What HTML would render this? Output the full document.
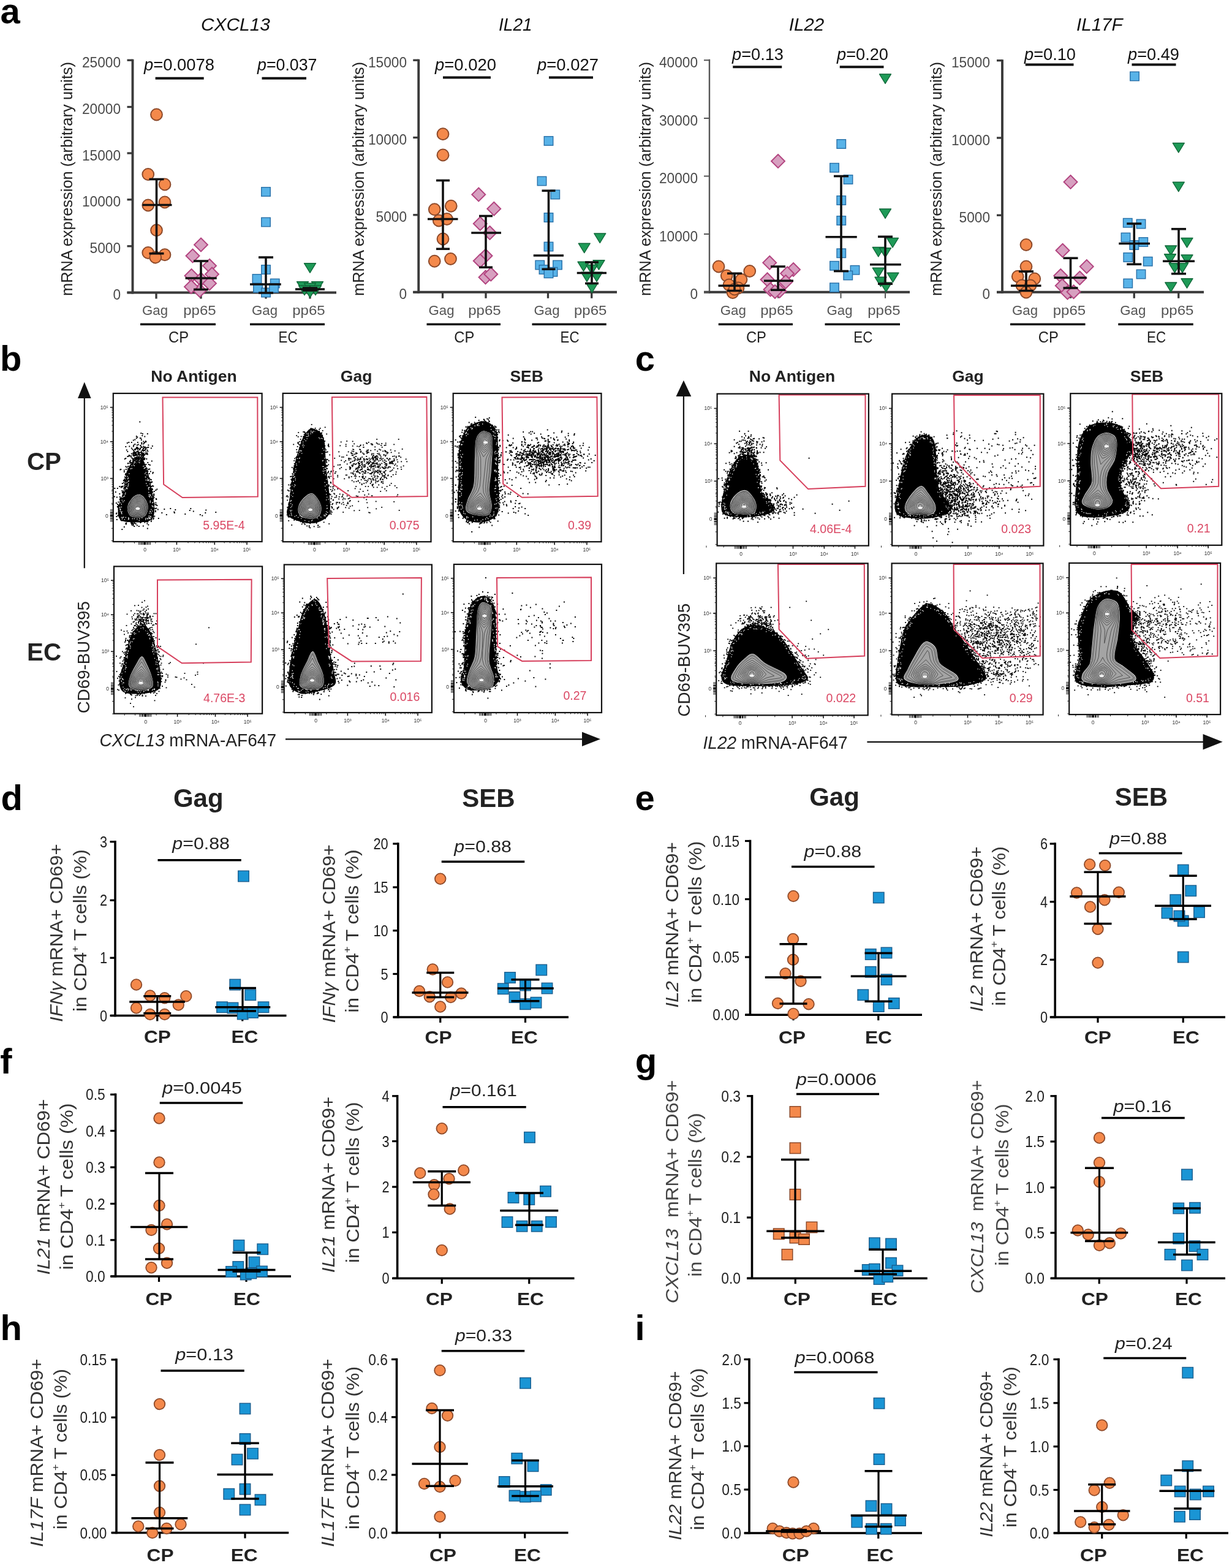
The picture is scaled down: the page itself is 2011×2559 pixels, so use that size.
<!DOCTYPE html>
<html><head><meta charset="utf-8"><title>Figure</title>
<style>html,body{margin:0;padding:0;background:#fff;}svg{display:block;}
text{font-family:'Liberation Sans',Arial,sans-serif;}</style></head><body>
<svg width="2011" height="2559" viewBox="0 0 2011 2559">
<rect width="2011" height="2559" fill="#fff"/>
<g id="panel-a">
<text x="0.5" y="38" font-size="58" font-weight="bold" >a</text>
<text x="384.5" y="49.7" font-size="30" fill="#111" font-style="italic" text-anchor="middle" textLength="113" lengthAdjust="spacingAndGlyphs" >CXCL13</text>
<text transform="translate(118,292) rotate(-90)" font-size="26.6" fill="#222" text-anchor="middle" textLength="382" lengthAdjust="spacingAndGlyphs" >mRNA expression (arbitrary units)</text>
<line x1="216.5" y1="96.75" x2="216.5" y2="479.5" stroke="#3a3a3a" stroke-width="3.9"/>
<line x1="207.5" y1="477.5" x2="549" y2="477.5" stroke="#3a3a3a" stroke-width="3.9"/>
<line x1="207.5" y1="98.25" x2="216.5" y2="98.25" stroke="#3a3a3a" stroke-width="3.31"/>
<text x="197" y="109.85" font-size="23" fill="#4a4a4a" text-anchor="end" textLength="63" lengthAdjust="spacingAndGlyphs" >25000</text>
<line x1="207.5" y1="174.5" x2="216.5" y2="174.5" stroke="#3a3a3a" stroke-width="3.31"/>
<text x="197" y="186.1" font-size="23" fill="#4a4a4a" text-anchor="end" textLength="63" lengthAdjust="spacingAndGlyphs" >20000</text>
<line x1="207.5" y1="250" x2="216.5" y2="250" stroke="#3a3a3a" stroke-width="3.31"/>
<text x="197" y="261.6" font-size="23" fill="#4a4a4a" text-anchor="end" textLength="63" lengthAdjust="spacingAndGlyphs" >15000</text>
<line x1="207.5" y1="325.75" x2="216.5" y2="325.75" stroke="#3a3a3a" stroke-width="3.31"/>
<text x="197" y="337.35" font-size="23" fill="#4a4a4a" text-anchor="end" textLength="63" lengthAdjust="spacingAndGlyphs" >10000</text>
<line x1="207.5" y1="401.75" x2="216.5" y2="401.75" stroke="#3a3a3a" stroke-width="3.31"/>
<text x="197" y="413.35" font-size="23" fill="#4a4a4a" text-anchor="end" textLength="50.4" lengthAdjust="spacingAndGlyphs" >5000</text>
<line x1="207.5" y1="477.5" x2="216.5" y2="477.5" stroke="#3a3a3a" stroke-width="3.31"/>
<text x="197" y="489.1" font-size="23" fill="#4a4a4a" text-anchor="end" textLength="12.6" lengthAdjust="spacingAndGlyphs" >0</text>
<line x1="255" y1="477.5" x2="255" y2="487.5" stroke="#3a3a3a" stroke-width="3.31"/>
<line x1="328" y1="477.5" x2="328" y2="487.5" stroke="#3a3a3a" stroke-width="3.31"/>
<line x1="434" y1="477.5" x2="434" y2="487.5" stroke="#3a3a3a" stroke-width="3.31"/>
<line x1="506" y1="477.5" x2="506" y2="487.5" stroke="#3a3a3a" stroke-width="3.31"/>
<text x="253" y="513.75" font-size="22.5" fill="#555" text-anchor="middle" textLength="42" lengthAdjust="spacingAndGlyphs" >Gag</text>
<text x="326" y="513.75" font-size="22.5" fill="#555" text-anchor="middle" textLength="53.5" lengthAdjust="spacingAndGlyphs" >pp65</text>
<text x="432" y="513.75" font-size="22.5" fill="#555" text-anchor="middle" textLength="42" lengthAdjust="spacingAndGlyphs" >Gag</text>
<text x="504" y="513.75" font-size="22.5" fill="#555" text-anchor="middle" textLength="53.5" lengthAdjust="spacingAndGlyphs" >pp65</text>
<line x1="229" y1="529.25" x2="352" y2="529.25" stroke="#111" stroke-width="3.5"/>
<text x="291.5" y="558.75" font-size="25.5" fill="#222" text-anchor="middle" textLength="33" lengthAdjust="spacingAndGlyphs" >CP</text>
<line x1="408" y1="529.25" x2="530" y2="529.25" stroke="#111" stroke-width="3.5"/>
<text x="470" y="558.75" font-size="25.5" fill="#222" text-anchor="middle" textLength="31" lengthAdjust="spacingAndGlyphs" >EC</text>
<text x="235" y="114.5" font-size="27" fill="#111" textLength="115" lengthAdjust="spacingAndGlyphs"><tspan font-style="italic">p</tspan>=0.0078</text>
<text x="420" y="114.5" font-size="27" fill="#111" textLength="97.5" lengthAdjust="spacingAndGlyphs"><tspan font-style="italic">p</tspan>=0.037</text>
<line x1="253.6" y1="127.7" x2="332.7" y2="127.7" stroke="#111" stroke-width="4"/>
<line x1="427.5" y1="127.7" x2="500" y2="127.7" stroke="#111" stroke-width="4"/>
<circle cx="255.5" cy="187" r="9.4" fill="#F4894B" stroke="#8E4A2A" stroke-width="2"/>
<circle cx="241.75" cy="284.5" r="9.4" fill="#F4894B" stroke="#8E4A2A" stroke-width="2"/>
<circle cx="269" cy="301" r="9.4" fill="#F4894B" stroke="#8E4A2A" stroke-width="2"/>
<circle cx="241.75" cy="335" r="9.4" fill="#F4894B" stroke="#8E4A2A" stroke-width="2"/>
<circle cx="269" cy="330" r="9.4" fill="#F4894B" stroke="#8E4A2A" stroke-width="2"/>
<circle cx="255.5" cy="375.75" r="9.4" fill="#F4894B" stroke="#8E4A2A" stroke-width="2"/>
<circle cx="241.75" cy="412.5" r="9.4" fill="#F4894B" stroke="#8E4A2A" stroke-width="2"/>
<circle cx="269" cy="415.75" r="9.4" fill="#F4894B" stroke="#8E4A2A" stroke-width="2"/>
<circle cx="253.75" cy="420" r="9.4" fill="#F4894B" stroke="#8E4A2A" stroke-width="2"/>
<path d="M328 388.5L339 399.5L328 410.5L317 399.5Z" fill="#D7A0C0" stroke="#B2437F" stroke-width="1.9"/>
<path d="M314.5 406.5L325.5 417.5L314.5 428.5L303.5 417.5Z" fill="#D7A0C0" stroke="#B2437F" stroke-width="1.9"/>
<path d="M342 422.75L353 433.75L342 444.75L331 433.75Z" fill="#D7A0C0" stroke="#B2437F" stroke-width="1.9"/>
<path d="M312.5 439L323.5 450L312.5 461L301.5 450Z" fill="#D7A0C0" stroke="#B2437F" stroke-width="1.9"/>
<path d="M346 436.5L357 447.5L346 458.5L335 447.5Z" fill="#D7A0C0" stroke="#B2437F" stroke-width="1.9"/>
<path d="M328 445L339 456L328 467L317 456Z" fill="#D7A0C0" stroke="#B2437F" stroke-width="1.9"/>
<path d="M342 451.5L353 462.5L342 473.5L331 462.5Z" fill="#D7A0C0" stroke="#B2437F" stroke-width="1.9"/>
<path d="M326 463L337 474L326 485L315 474Z" fill="#D7A0C0" stroke="#B2437F" stroke-width="1.9"/>
<path d="M312 457L323 468L312 479L301 468Z" fill="#D7A0C0" stroke="#B2437F" stroke-width="1.9"/>
<rect x="426.75" y="305.75" width="14.5" height="14.5" fill="#58B3E8" stroke="#2870A8" stroke-width="1.4"/>
<rect x="426.75" y="355.25" width="14.5" height="14.5" fill="#58B3E8" stroke="#2870A8" stroke-width="1.4"/>
<rect x="426.75" y="432.75" width="14.5" height="14.5" fill="#58B3E8" stroke="#2870A8" stroke-width="1.4"/>
<rect x="412.25" y="447.75" width="14.5" height="14.5" fill="#58B3E8" stroke="#2870A8" stroke-width="1.4"/>
<rect x="441.5" y="455.25" width="14.5" height="14.5" fill="#58B3E8" stroke="#2870A8" stroke-width="1.4"/>
<rect x="413.75" y="462.75" width="14.5" height="14.5" fill="#58B3E8" stroke="#2870A8" stroke-width="1.4"/>
<rect x="426.75" y="470.25" width="14.5" height="14.5" fill="#58B3E8" stroke="#2870A8" stroke-width="1.4"/>
<rect x="439.75" y="462.75" width="14.5" height="14.5" fill="#58B3E8" stroke="#2870A8" stroke-width="1.4"/>
<path d="M496.5 429.75L515.5 429.75L506 445.25Z" fill="#1E9A57" stroke="#0F6638" stroke-width="1.4" stroke-linejoin="round"/>
<path d="M484.5 459.75L503.5 459.75L494 475.25Z" fill="#1E9A57" stroke="#0F6638" stroke-width="1.4" stroke-linejoin="round"/>
<path d="M508.5 459.75L527.5 459.75L518 475.25Z" fill="#1E9A57" stroke="#0F6638" stroke-width="1.4" stroke-linejoin="round"/>
<path d="M496.5 462.25L515.5 462.25L506 477.75Z" fill="#1E9A57" stroke="#0F6638" stroke-width="1.4" stroke-linejoin="round"/>
<path d="M487.5 466.25L506.5 466.25L497 481.75Z" fill="#1E9A57" stroke="#0F6638" stroke-width="1.4" stroke-linejoin="round"/>
<path d="M505.5 466.25L524.5 466.25L515 481.75Z" fill="#1E9A57" stroke="#0F6638" stroke-width="1.4" stroke-linejoin="round"/>
<path d="M496.5 470.25L515.5 470.25L506 485.75Z" fill="#1E9A57" stroke="#0F6638" stroke-width="1.4" stroke-linejoin="round"/>
<line x1="232.5" y1="334.5" x2="280.5" y2="334.5" stroke="#111" stroke-width="3.6"/>
<line x1="302.5" y1="454" x2="353.75" y2="454" stroke="#111" stroke-width="3.6"/>
<line x1="408" y1="464" x2="458.75" y2="464" stroke="#111" stroke-width="3.6"/>
<line x1="482" y1="472" x2="530" y2="472" stroke="#111" stroke-width="3.6"/>
<line x1="255.5" y1="292.5" x2="255.5" y2="413.75" stroke="#111" stroke-width="3.6"/>
<line x1="243.5" y1="292.5" x2="267.5" y2="292.5" stroke="#111" stroke-width="3.6"/>
<line x1="243.5" y1="413.75" x2="267.5" y2="413.75" stroke="#111" stroke-width="3.6"/>
<line x1="328" y1="426" x2="328" y2="472.5" stroke="#111" stroke-width="3.6"/>
<line x1="316" y1="426" x2="340" y2="426" stroke="#111" stroke-width="3.6"/>
<line x1="316" y1="472.5" x2="340" y2="472.5" stroke="#111" stroke-width="3.6"/>
<line x1="434" y1="420" x2="434" y2="478" stroke="#111" stroke-width="3.6"/>
<line x1="422" y1="420" x2="446" y2="420" stroke="#111" stroke-width="3.6"/>
<line x1="422" y1="478" x2="446" y2="478" stroke="#111" stroke-width="3.6"/>
<line x1="506" y1="470" x2="506" y2="474" stroke="#111" stroke-width="3.6"/>
<line x1="494" y1="470" x2="518" y2="470" stroke="#111" stroke-width="3.6"/>
<line x1="494" y1="474" x2="518" y2="474" stroke="#111" stroke-width="3.6"/>
<text x="841.3" y="49.7" font-size="30" fill="#111" font-style="italic" text-anchor="middle" textLength="54.7" lengthAdjust="spacingAndGlyphs" >IL21</text>
<text transform="translate(594,292) rotate(-90)" font-size="26.6" fill="#222" text-anchor="middle" textLength="382" lengthAdjust="spacingAndGlyphs" >mRNA expression (arbitrary units)</text>
<line x1="683.25" y1="96.75" x2="683.25" y2="478.75" stroke="#3a3a3a" stroke-width="3.9"/>
<line x1="674.25" y1="476.75" x2="1007" y2="476.75" stroke="#3a3a3a" stroke-width="3.9"/>
<line x1="674.25" y1="98.25" x2="683.25" y2="98.25" stroke="#3a3a3a" stroke-width="3.31"/>
<text x="664" y="109.85" font-size="23" fill="#4a4a4a" text-anchor="end" textLength="63" lengthAdjust="spacingAndGlyphs" >15000</text>
<line x1="674.25" y1="224.5" x2="683.25" y2="224.5" stroke="#3a3a3a" stroke-width="3.31"/>
<text x="664" y="236.1" font-size="23" fill="#4a4a4a" text-anchor="end" textLength="63" lengthAdjust="spacingAndGlyphs" >10000</text>
<line x1="674.25" y1="350.75" x2="683.25" y2="350.75" stroke="#3a3a3a" stroke-width="3.31"/>
<text x="664" y="362.35" font-size="23" fill="#4a4a4a" text-anchor="end" textLength="50.4" lengthAdjust="spacingAndGlyphs" >5000</text>
<line x1="674.25" y1="476.75" x2="683.25" y2="476.75" stroke="#3a3a3a" stroke-width="3.31"/>
<text x="664" y="488.35" font-size="23" fill="#4a4a4a" text-anchor="end" textLength="12.6" lengthAdjust="spacingAndGlyphs" >0</text>
<line x1="722.5" y1="476.75" x2="722.5" y2="486.75" stroke="#3a3a3a" stroke-width="3.31"/>
<line x1="793" y1="476.75" x2="793" y2="486.75" stroke="#3a3a3a" stroke-width="3.31"/>
<line x1="894.5" y1="476.75" x2="894.5" y2="486.75" stroke="#3a3a3a" stroke-width="3.31"/>
<line x1="965.75" y1="476.75" x2="965.75" y2="486.75" stroke="#3a3a3a" stroke-width="3.31"/>
<text x="720.5" y="513.75" font-size="22.5" fill="#555" text-anchor="middle" textLength="42" lengthAdjust="spacingAndGlyphs" >Gag</text>
<text x="791" y="513.75" font-size="22.5" fill="#555" text-anchor="middle" textLength="53.5" lengthAdjust="spacingAndGlyphs" >pp65</text>
<text x="892.5" y="513.75" font-size="22.5" fill="#555" text-anchor="middle" textLength="42" lengthAdjust="spacingAndGlyphs" >Gag</text>
<text x="963.75" y="513.75" font-size="22.5" fill="#555" text-anchor="middle" textLength="53.5" lengthAdjust="spacingAndGlyphs" >pp65</text>
<line x1="696.5" y1="529.25" x2="817" y2="529.25" stroke="#111" stroke-width="3.5"/>
<text x="757.75" y="558.75" font-size="25.5" fill="#222" text-anchor="middle" textLength="33" lengthAdjust="spacingAndGlyphs" >CP</text>
<line x1="868.5" y1="529.25" x2="989.75" y2="529.25" stroke="#111" stroke-width="3.5"/>
<text x="930.12" y="558.75" font-size="25.5" fill="#222" text-anchor="middle" textLength="31" lengthAdjust="spacingAndGlyphs" >EC</text>
<text x="710" y="114.5" font-size="27" fill="#111" textLength="100" lengthAdjust="spacingAndGlyphs"><tspan font-style="italic">p</tspan>=0.020</text>
<text x="877" y="114.5" font-size="27" fill="#111" textLength="100" lengthAdjust="spacingAndGlyphs"><tspan font-style="italic">p</tspan>=0.027</text>
<line x1="723" y1="126.5" x2="801" y2="126.5" stroke="#111" stroke-width="4"/>
<line x1="896" y1="126.5" x2="968" y2="126.5" stroke="#111" stroke-width="4"/>
<circle cx="723" cy="218.75" r="9.4" fill="#F4894B" stroke="#8E4A2A" stroke-width="2"/>
<circle cx="723" cy="253" r="9.4" fill="#F4894B" stroke="#8E4A2A" stroke-width="2"/>
<circle cx="709.25" cy="341.75" r="9.4" fill="#F4894B" stroke="#8E4A2A" stroke-width="2"/>
<circle cx="736.25" cy="336.25" r="9.4" fill="#F4894B" stroke="#8E4A2A" stroke-width="2"/>
<circle cx="716.25" cy="360" r="9.4" fill="#F4894B" stroke="#8E4A2A" stroke-width="2"/>
<circle cx="729.5" cy="357.5" r="9.4" fill="#F4894B" stroke="#8E4A2A" stroke-width="2"/>
<circle cx="723" cy="390" r="9.4" fill="#F4894B" stroke="#8E4A2A" stroke-width="2"/>
<circle cx="709.25" cy="426.25" r="9.4" fill="#F4894B" stroke="#8E4A2A" stroke-width="2"/>
<circle cx="735.5" cy="422.5" r="9.4" fill="#F4894B" stroke="#8E4A2A" stroke-width="2"/>
<path d="M781.25 306.5L792.25 317.5L781.25 328.5L770.25 317.5Z" fill="#D7A0C0" stroke="#B2437F" stroke-width="1.9"/>
<path d="M806.25 329.75L817.25 340.75L806.25 351.75L795.25 340.75Z" fill="#D7A0C0" stroke="#B2437F" stroke-width="1.9"/>
<path d="M783.75 354L794.75 365L783.75 376L772.75 365Z" fill="#D7A0C0" stroke="#B2437F" stroke-width="1.9"/>
<path d="M799.5 369L810.5 380L799.5 391L788.5 380Z" fill="#D7A0C0" stroke="#B2437F" stroke-width="1.9"/>
<path d="M792.5 406.5L803.5 417.5L792.5 428.5L781.5 417.5Z" fill="#D7A0C0" stroke="#B2437F" stroke-width="1.9"/>
<path d="M783.75 414.75L794.75 425.75L783.75 436.75L772.75 425.75Z" fill="#D7A0C0" stroke="#B2437F" stroke-width="1.9"/>
<path d="M792.5 441.5L803.5 452.5L792.5 463.5L781.5 452.5Z" fill="#D7A0C0" stroke="#B2437F" stroke-width="1.9"/>
<path d="M801.25 436.5L812.25 447.5L801.25 458.5L790.25 447.5Z" fill="#D7A0C0" stroke="#B2437F" stroke-width="1.9"/>
<rect x="888.25" y="222.75" width="14.5" height="14.5" fill="#58B3E8" stroke="#2870A8" stroke-width="1.4"/>
<rect x="877.25" y="288.25" width="14.5" height="14.5" fill="#58B3E8" stroke="#2870A8" stroke-width="1.4"/>
<rect x="899" y="310.25" width="14.5" height="14.5" fill="#58B3E8" stroke="#2870A8" stroke-width="1.4"/>
<rect x="888.25" y="347.75" width="14.5" height="14.5" fill="#58B3E8" stroke="#2870A8" stroke-width="1.4"/>
<rect x="888.25" y="395.25" width="14.5" height="14.5" fill="#58B3E8" stroke="#2870A8" stroke-width="1.4"/>
<rect x="874" y="425.25" width="14.5" height="14.5" fill="#58B3E8" stroke="#2870A8" stroke-width="1.4"/>
<rect x="902.75" y="425.25" width="14.5" height="14.5" fill="#58B3E8" stroke="#2870A8" stroke-width="1.4"/>
<rect x="880.25" y="432.75" width="14.5" height="14.5" fill="#58B3E8" stroke="#2870A8" stroke-width="1.4"/>
<rect x="895.25" y="436.5" width="14.5" height="14.5" fill="#58B3E8" stroke="#2870A8" stroke-width="1.4"/>
<rect x="888.25" y="439" width="14.5" height="14.5" fill="#58B3E8" stroke="#2870A8" stroke-width="1.4"/>
<path d="M969.75 381L988.75 381L979.25 396.5Z" fill="#1E9A57" stroke="#0F6638" stroke-width="1.4" stroke-linejoin="round"/>
<path d="M944.25 397.25L963.25 397.25L953.75 412.75Z" fill="#1E9A57" stroke="#0F6638" stroke-width="1.4" stroke-linejoin="round"/>
<path d="M943 427.25L962 427.25L952.5 442.75Z" fill="#1E9A57" stroke="#0F6638" stroke-width="1.4" stroke-linejoin="round"/>
<path d="M968 424.75L987 424.75L977.5 440.25Z" fill="#1E9A57" stroke="#0F6638" stroke-width="1.4" stroke-linejoin="round"/>
<path d="M948.5 444.25L967.5 444.25L958 459.75Z" fill="#1E9A57" stroke="#0F6638" stroke-width="1.4" stroke-linejoin="round"/>
<path d="M964.5 444.25L983.5 444.25L974 459.75Z" fill="#1E9A57" stroke="#0F6638" stroke-width="1.4" stroke-linejoin="round"/>
<path d="M956.75 462.25L975.75 462.25L966.25 477.75Z" fill="#1E9A57" stroke="#0F6638" stroke-width="1.4" stroke-linejoin="round"/>
<path d="M956.5 432.25L975.5 432.25L966 447.75Z" fill="#1E9A57" stroke="#0F6638" stroke-width="1.4" stroke-linejoin="round"/>
<line x1="698" y1="357.5" x2="747.5" y2="357.5" stroke="#111" stroke-width="3.6"/>
<line x1="769.25" y1="380" x2="818" y2="380" stroke="#111" stroke-width="3.6"/>
<line x1="870.75" y1="417" x2="920" y2="417" stroke="#111" stroke-width="3.6"/>
<line x1="941.75" y1="445.5" x2="990" y2="445.5" stroke="#111" stroke-width="3.6"/>
<line x1="723" y1="294.5" x2="723" y2="406.25" stroke="#111" stroke-width="3.6"/>
<line x1="712" y1="294.5" x2="734" y2="294.5" stroke="#111" stroke-width="3.6"/>
<line x1="712" y1="406.25" x2="734" y2="406.25" stroke="#111" stroke-width="3.6"/>
<line x1="793" y1="352.5" x2="793" y2="436.25" stroke="#111" stroke-width="3.6"/>
<line x1="782" y1="352.5" x2="804" y2="352.5" stroke="#111" stroke-width="3.6"/>
<line x1="782" y1="436.25" x2="804" y2="436.25" stroke="#111" stroke-width="3.6"/>
<line x1="895.5" y1="311.25" x2="895.5" y2="439.25" stroke="#111" stroke-width="3.6"/>
<line x1="884.5" y1="311.25" x2="906.5" y2="311.25" stroke="#111" stroke-width="3.6"/>
<line x1="884.5" y1="439.25" x2="906.5" y2="439.25" stroke="#111" stroke-width="3.6"/>
<line x1="966" y1="428" x2="966" y2="462.5" stroke="#111" stroke-width="3.6"/>
<line x1="955" y1="428" x2="977" y2="428" stroke="#111" stroke-width="3.6"/>
<line x1="955" y1="462.5" x2="977" y2="462.5" stroke="#111" stroke-width="3.6"/>
<text x="1316.5" y="49.7" font-size="30" fill="#111" font-style="italic" text-anchor="middle" textLength="57.7" lengthAdjust="spacingAndGlyphs" >IL22</text>
<text transform="translate(1062,292) rotate(-90)" font-size="26.6" fill="#222" text-anchor="middle" textLength="382" lengthAdjust="spacingAndGlyphs" >mRNA expression (arbitrary units)</text>
<line x1="1158" y1="96.75" x2="1158" y2="478.75" stroke="#555" stroke-width="2.4"/>
<line x1="1149" y1="476.75" x2="1485" y2="476.75" stroke="#3a3a3a" stroke-width="3.9"/>
<line x1="1149" y1="98.25" x2="1158" y2="98.25" stroke="#555" stroke-width="2.04"/>
<text x="1139" y="109.85" font-size="23" fill="#4a4a4a" text-anchor="end" textLength="63" lengthAdjust="spacingAndGlyphs" >40000</text>
<line x1="1149" y1="193" x2="1158" y2="193" stroke="#555" stroke-width="2.04"/>
<text x="1139" y="204.6" font-size="23" fill="#4a4a4a" text-anchor="end" textLength="63" lengthAdjust="spacingAndGlyphs" >30000</text>
<line x1="1149" y1="287.5" x2="1158" y2="287.5" stroke="#555" stroke-width="2.04"/>
<text x="1139" y="299.1" font-size="23" fill="#4a4a4a" text-anchor="end" textLength="63" lengthAdjust="spacingAndGlyphs" >20000</text>
<line x1="1149" y1="382" x2="1158" y2="382" stroke="#555" stroke-width="2.04"/>
<text x="1139" y="393.6" font-size="23" fill="#4a4a4a" text-anchor="end" textLength="63" lengthAdjust="spacingAndGlyphs" >10000</text>
<line x1="1149" y1="476.75" x2="1158" y2="476.75" stroke="#555" stroke-width="2.04"/>
<text x="1139" y="488.35" font-size="23" fill="#4a4a4a" text-anchor="end" textLength="12.6" lengthAdjust="spacingAndGlyphs" >0</text>
<line x1="1198.75" y1="476.75" x2="1198.75" y2="486.75" stroke="#555" stroke-width="2.04"/>
<line x1="1270" y1="476.75" x2="1270" y2="486.75" stroke="#555" stroke-width="2.04"/>
<line x1="1372.5" y1="476.75" x2="1372.5" y2="486.75" stroke="#555" stroke-width="2.04"/>
<line x1="1445" y1="476.75" x2="1445" y2="486.75" stroke="#555" stroke-width="2.04"/>
<text x="1196.75" y="513.75" font-size="22.5" fill="#555" text-anchor="middle" textLength="42" lengthAdjust="spacingAndGlyphs" >Gag</text>
<text x="1268" y="513.75" font-size="22.5" fill="#555" text-anchor="middle" textLength="53.5" lengthAdjust="spacingAndGlyphs" >pp65</text>
<text x="1370.5" y="513.75" font-size="22.5" fill="#555" text-anchor="middle" textLength="42" lengthAdjust="spacingAndGlyphs" >Gag</text>
<text x="1443" y="513.75" font-size="22.5" fill="#555" text-anchor="middle" textLength="53.5" lengthAdjust="spacingAndGlyphs" >pp65</text>
<line x1="1172.75" y1="529.25" x2="1294" y2="529.25" stroke="#111" stroke-width="3.5"/>
<text x="1234.38" y="558.75" font-size="25.5" fill="#222" text-anchor="middle" textLength="33" lengthAdjust="spacingAndGlyphs" >CP</text>
<line x1="1346.5" y1="529.25" x2="1469" y2="529.25" stroke="#111" stroke-width="3.5"/>
<text x="1408.75" y="558.75" font-size="25.5" fill="#222" text-anchor="middle" textLength="31" lengthAdjust="spacingAndGlyphs" >EC</text>
<text x="1195" y="97.5" font-size="27" fill="#111" textLength="84" lengthAdjust="spacingAndGlyphs"><tspan font-style="italic">p</tspan>=0.13</text>
<text x="1366" y="97.5" font-size="27" fill="#111" textLength="84" lengthAdjust="spacingAndGlyphs"><tspan font-style="italic">p</tspan>=0.20</text>
<line x1="1196.25" y1="109.25" x2="1276.25" y2="109.25" stroke="#111" stroke-width="4"/>
<line x1="1370.75" y1="109.25" x2="1442.5" y2="109.25" stroke="#111" stroke-width="4"/>
<circle cx="1173" cy="435" r="9.4" fill="#F4894B" stroke="#8E4A2A" stroke-width="2"/>
<circle cx="1223.75" cy="442.5" r="9.4" fill="#F4894B" stroke="#8E4A2A" stroke-width="2"/>
<circle cx="1186.25" cy="450" r="9.4" fill="#F4894B" stroke="#8E4A2A" stroke-width="2"/>
<circle cx="1210" cy="456.25" r="9.4" fill="#F4894B" stroke="#8E4A2A" stroke-width="2"/>
<circle cx="1190" cy="465" r="9.4" fill="#F4894B" stroke="#8E4A2A" stroke-width="2"/>
<circle cx="1205" cy="470" r="9.4" fill="#F4894B" stroke="#8E4A2A" stroke-width="2"/>
<circle cx="1196" cy="477.5" r="9.4" fill="#F4894B" stroke="#8E4A2A" stroke-width="2"/>
<circle cx="1199" cy="472" r="9.4" fill="#F4894B" stroke="#8E4A2A" stroke-width="2"/>
<path d="M1270 252L1281 263L1270 274L1259 263Z" fill="#D7A0C0" stroke="#B2437F" stroke-width="1.9"/>
<path d="M1256.25 417.75L1267.25 428.75L1256.25 439.75L1245.25 428.75Z" fill="#D7A0C0" stroke="#B2437F" stroke-width="1.9"/>
<path d="M1295 429L1306 440L1295 451L1284 440Z" fill="#D7A0C0" stroke="#B2437F" stroke-width="1.9"/>
<path d="M1285 435.25L1296 446.25L1285 457.25L1274 446.25Z" fill="#D7A0C0" stroke="#B2437F" stroke-width="1.9"/>
<path d="M1252.5 445.25L1263.5 456.25L1252.5 467.25L1241.5 456.25Z" fill="#D7A0C0" stroke="#B2437F" stroke-width="1.9"/>
<path d="M1282.5 449L1293.5 460L1282.5 471L1271.5 460Z" fill="#D7A0C0" stroke="#B2437F" stroke-width="1.9"/>
<path d="M1257.5 461.5L1268.5 472.5L1257.5 483.5L1246.5 472.5Z" fill="#D7A0C0" stroke="#B2437F" stroke-width="1.9"/>
<path d="M1272.5 464L1283.5 475L1272.5 486L1261.5 475Z" fill="#D7A0C0" stroke="#B2437F" stroke-width="1.9"/>
<path d="M1265 465L1276 476L1265 487L1254 476Z" fill="#D7A0C0" stroke="#B2437F" stroke-width="1.9"/>
<rect x="1366" y="227.75" width="14.5" height="14.5" fill="#58B3E8" stroke="#2870A8" stroke-width="1.4"/>
<rect x="1354.75" y="266.5" width="14.5" height="14.5" fill="#58B3E8" stroke="#2870A8" stroke-width="1.4"/>
<rect x="1377.25" y="285.75" width="14.5" height="14.5" fill="#58B3E8" stroke="#2870A8" stroke-width="1.4"/>
<rect x="1366" y="319.75" width="14.5" height="14.5" fill="#58B3E8" stroke="#2870A8" stroke-width="1.4"/>
<rect x="1366" y="352.75" width="14.5" height="14.5" fill="#58B3E8" stroke="#2870A8" stroke-width="1.4"/>
<rect x="1366" y="406" width="14.5" height="14.5" fill="#58B3E8" stroke="#2870A8" stroke-width="1.4"/>
<rect x="1354.75" y="426.5" width="14.5" height="14.5" fill="#58B3E8" stroke="#2870A8" stroke-width="1.4"/>
<rect x="1388.25" y="433.5" width="14.5" height="14.5" fill="#58B3E8" stroke="#2870A8" stroke-width="1.4"/>
<rect x="1377" y="442.25" width="14.5" height="14.5" fill="#58B3E8" stroke="#2870A8" stroke-width="1.4"/>
<rect x="1354.75" y="462" width="14.5" height="14.5" fill="#58B3E8" stroke="#2870A8" stroke-width="1.4"/>
<path d="M1435.5 121L1454.5 121L1445 136.5Z" fill="#1E9A57" stroke="#0F6638" stroke-width="1.4" stroke-linejoin="round"/>
<path d="M1435.5 341L1454.5 341L1445 356.5Z" fill="#1E9A57" stroke="#0F6638" stroke-width="1.4" stroke-linejoin="round"/>
<path d="M1447.5 388.5L1466.5 388.5L1457 404Z" fill="#1E9A57" stroke="#0F6638" stroke-width="1.4" stroke-linejoin="round"/>
<path d="M1424.25 403.5L1443.25 403.5L1433.75 419Z" fill="#1E9A57" stroke="#0F6638" stroke-width="1.4" stroke-linejoin="round"/>
<path d="M1435.5 404.75L1454.5 404.75L1445 420.25Z" fill="#1E9A57" stroke="#0F6638" stroke-width="1.4" stroke-linejoin="round"/>
<path d="M1424.25 437.25L1443.25 437.25L1433.75 452.75Z" fill="#1E9A57" stroke="#0F6638" stroke-width="1.4" stroke-linejoin="round"/>
<path d="M1448 445.25L1467 445.25L1457.5 460.75Z" fill="#1E9A57" stroke="#0F6638" stroke-width="1.4" stroke-linejoin="round"/>
<path d="M1428 452.25L1447 452.25L1437.5 467.75Z" fill="#1E9A57" stroke="#0F6638" stroke-width="1.4" stroke-linejoin="round"/>
<path d="M1436.75 461L1455.75 461L1446.25 476.5Z" fill="#1E9A57" stroke="#0F6638" stroke-width="1.4" stroke-linejoin="round"/>
<line x1="1172.5" y1="466.25" x2="1223.75" y2="466.25" stroke="#111" stroke-width="3.6"/>
<line x1="1247" y1="458.25" x2="1295" y2="458.25" stroke="#111" stroke-width="3.6"/>
<line x1="1347.5" y1="386.75" x2="1398.75" y2="386.75" stroke="#111" stroke-width="3.6"/>
<line x1="1420" y1="431.75" x2="1470.75" y2="431.75" stroke="#111" stroke-width="3.6"/>
<line x1="1199" y1="446.25" x2="1199" y2="474.5" stroke="#111" stroke-width="3.6"/>
<line x1="1187" y1="446.25" x2="1211" y2="446.25" stroke="#111" stroke-width="3.6"/>
<line x1="1187" y1="474.5" x2="1211" y2="474.5" stroke="#111" stroke-width="3.6"/>
<line x1="1270" y1="435" x2="1270" y2="473.25" stroke="#111" stroke-width="3.6"/>
<line x1="1258" y1="435" x2="1282" y2="435" stroke="#111" stroke-width="3.6"/>
<line x1="1258" y1="473.25" x2="1282" y2="473.25" stroke="#111" stroke-width="3.6"/>
<line x1="1373" y1="287.5" x2="1373" y2="442.5" stroke="#111" stroke-width="3.6"/>
<line x1="1361" y1="287.5" x2="1385" y2="287.5" stroke="#111" stroke-width="3.6"/>
<line x1="1361" y1="442.5" x2="1385" y2="442.5" stroke="#111" stroke-width="3.6"/>
<line x1="1445" y1="386.25" x2="1445" y2="463.25" stroke="#111" stroke-width="3.6"/>
<line x1="1433" y1="386.25" x2="1457" y2="386.25" stroke="#111" stroke-width="3.6"/>
<line x1="1433" y1="463.25" x2="1457" y2="463.25" stroke="#111" stroke-width="3.6"/>
<text x="1794.8" y="49.7" font-size="30" fill="#111" font-style="italic" text-anchor="middle" textLength="75.5" lengthAdjust="spacingAndGlyphs" >IL17F</text>
<text transform="translate(1536.5,292) rotate(-90)" font-size="26.6" fill="#222" text-anchor="middle" textLength="382" lengthAdjust="spacingAndGlyphs" >mRNA expression (arbitrary units)</text>
<line x1="1636" y1="97.25" x2="1636" y2="478.75" stroke="#3a3a3a" stroke-width="3.9"/>
<line x1="1627" y1="476.75" x2="1965" y2="476.75" stroke="#3a3a3a" stroke-width="3.9"/>
<line x1="1627" y1="98.75" x2="1636" y2="98.75" stroke="#3a3a3a" stroke-width="3.31"/>
<text x="1616" y="110.35" font-size="23" fill="#4a4a4a" text-anchor="end" textLength="63" lengthAdjust="spacingAndGlyphs" >15000</text>
<line x1="1627" y1="225" x2="1636" y2="225" stroke="#3a3a3a" stroke-width="3.31"/>
<text x="1616" y="236.6" font-size="23" fill="#4a4a4a" text-anchor="end" textLength="63" lengthAdjust="spacingAndGlyphs" >10000</text>
<line x1="1627" y1="351.25" x2="1636" y2="351.25" stroke="#3a3a3a" stroke-width="3.31"/>
<text x="1616" y="362.85" font-size="23" fill="#4a4a4a" text-anchor="end" textLength="50.4" lengthAdjust="spacingAndGlyphs" >5000</text>
<line x1="1627" y1="476.75" x2="1636" y2="476.75" stroke="#3a3a3a" stroke-width="3.31"/>
<text x="1616" y="488.35" font-size="23" fill="#4a4a4a" text-anchor="end" textLength="12.6" lengthAdjust="spacingAndGlyphs" >0</text>
<line x1="1675" y1="476.75" x2="1675" y2="486.75" stroke="#3a3a3a" stroke-width="3.31"/>
<line x1="1747.5" y1="476.75" x2="1747.5" y2="486.75" stroke="#3a3a3a" stroke-width="3.31"/>
<line x1="1851.25" y1="476.75" x2="1851.25" y2="486.75" stroke="#3a3a3a" stroke-width="3.31"/>
<line x1="1923.75" y1="476.75" x2="1923.75" y2="486.75" stroke="#3a3a3a" stroke-width="3.31"/>
<text x="1673" y="513.75" font-size="22.5" fill="#555" text-anchor="middle" textLength="42" lengthAdjust="spacingAndGlyphs" >Gag</text>
<text x="1745.5" y="513.75" font-size="22.5" fill="#555" text-anchor="middle" textLength="53.5" lengthAdjust="spacingAndGlyphs" >pp65</text>
<text x="1849.25" y="513.75" font-size="22.5" fill="#555" text-anchor="middle" textLength="42" lengthAdjust="spacingAndGlyphs" >Gag</text>
<text x="1921.75" y="513.75" font-size="22.5" fill="#555" text-anchor="middle" textLength="53.5" lengthAdjust="spacingAndGlyphs" >pp65</text>
<line x1="1649" y1="529.25" x2="1771.5" y2="529.25" stroke="#111" stroke-width="3.5"/>
<text x="1711.25" y="558.75" font-size="25.5" fill="#222" text-anchor="middle" textLength="33" lengthAdjust="spacingAndGlyphs" >CP</text>
<line x1="1825.25" y1="529.25" x2="1947.75" y2="529.25" stroke="#111" stroke-width="3.5"/>
<text x="1887.5" y="558.75" font-size="25.5" fill="#222" text-anchor="middle" textLength="31" lengthAdjust="spacingAndGlyphs" >EC</text>
<text x="1672" y="97.5" font-size="27" fill="#111" textLength="84" lengthAdjust="spacingAndGlyphs"><tspan font-style="italic">p</tspan>=0.10</text>
<text x="1841" y="97.5" font-size="27" fill="#111" textLength="84" lengthAdjust="spacingAndGlyphs"><tspan font-style="italic">p</tspan>=0.49</text>
<line x1="1673.75" y1="105.5" x2="1752.5" y2="105.5" stroke="#111" stroke-width="4"/>
<line x1="1847.5" y1="105.5" x2="1919.5" y2="105.5" stroke="#111" stroke-width="4"/>
<circle cx="1675" cy="399.5" r="9.4" fill="#F4894B" stroke="#8E4A2A" stroke-width="2"/>
<circle cx="1675" cy="435" r="9.4" fill="#F4894B" stroke="#8E4A2A" stroke-width="2"/>
<circle cx="1661.25" cy="451.25" r="9.4" fill="#F4894B" stroke="#8E4A2A" stroke-width="2"/>
<circle cx="1688.75" cy="455" r="9.4" fill="#F4894B" stroke="#8E4A2A" stroke-width="2"/>
<circle cx="1668" cy="466" r="9.4" fill="#F4894B" stroke="#8E4A2A" stroke-width="2"/>
<circle cx="1682" cy="466" r="9.4" fill="#F4894B" stroke="#8E4A2A" stroke-width="2"/>
<circle cx="1675" cy="477" r="9.4" fill="#F4894B" stroke="#8E4A2A" stroke-width="2"/>
<path d="M1747.5 286L1758.5 297L1747.5 308L1736.5 297Z" fill="#D7A0C0" stroke="#B2437F" stroke-width="1.9"/>
<path d="M1734.5 397.75L1745.5 408.75L1734.5 419.75L1723.5 408.75Z" fill="#D7A0C0" stroke="#B2437F" stroke-width="1.9"/>
<path d="M1773.75 424L1784.75 435L1773.75 446L1762.75 435Z" fill="#D7A0C0" stroke="#B2437F" stroke-width="1.9"/>
<path d="M1731.25 439L1742.25 450L1731.25 461L1720.25 450Z" fill="#D7A0C0" stroke="#B2437F" stroke-width="1.9"/>
<path d="M1762.5 442.75L1773.5 453.75L1762.5 464.75L1751.5 453.75Z" fill="#D7A0C0" stroke="#B2437F" stroke-width="1.9"/>
<path d="M1733.75 455.25L1744.75 466.25L1733.75 477.25L1722.75 466.25Z" fill="#D7A0C0" stroke="#B2437F" stroke-width="1.9"/>
<path d="M1742.5 466.5L1753.5 477.5L1742.5 488.5L1731.5 477.5Z" fill="#D7A0C0" stroke="#B2437F" stroke-width="1.9"/>
<path d="M1752.5 465.25L1763.5 476.25L1752.5 487.25L1741.5 476.25Z" fill="#D7A0C0" stroke="#B2437F" stroke-width="1.9"/>
<rect x="1844.75" y="117.25" width="14.5" height="14.5" fill="#58B3E8" stroke="#2870A8" stroke-width="1.4"/>
<rect x="1833.5" y="356.5" width="14.5" height="14.5" fill="#58B3E8" stroke="#2870A8" stroke-width="1.4"/>
<rect x="1855.25" y="358.25" width="14.5" height="14.5" fill="#58B3E8" stroke="#2870A8" stroke-width="1.4"/>
<rect x="1830.25" y="380.25" width="14.5" height="14.5" fill="#58B3E8" stroke="#2870A8" stroke-width="1.4"/>
<rect x="1859" y="387.75" width="14.5" height="14.5" fill="#58B3E8" stroke="#2870A8" stroke-width="1.4"/>
<rect x="1844" y="392.75" width="14.5" height="14.5" fill="#58B3E8" stroke="#2870A8" stroke-width="1.4"/>
<rect x="1834" y="412.75" width="14.5" height="14.5" fill="#58B3E8" stroke="#2870A8" stroke-width="1.4"/>
<rect x="1866.5" y="419.5" width="14.5" height="14.5" fill="#58B3E8" stroke="#2870A8" stroke-width="1.4"/>
<rect x="1855.25" y="440.25" width="14.5" height="14.5" fill="#58B3E8" stroke="#2870A8" stroke-width="1.4"/>
<rect x="1834" y="455.25" width="14.5" height="14.5" fill="#58B3E8" stroke="#2870A8" stroke-width="1.4"/>
<path d="M1914.25 233.5L1933.25 233.5L1923.75 249Z" fill="#1E9A57" stroke="#0F6638" stroke-width="1.4" stroke-linejoin="round"/>
<path d="M1914.25 297.25L1933.25 297.25L1923.75 312.75Z" fill="#1E9A57" stroke="#0F6638" stroke-width="1.4" stroke-linejoin="round"/>
<path d="M1928 388.5L1947 388.5L1937.5 404Z" fill="#1E9A57" stroke="#0F6638" stroke-width="1.4" stroke-linejoin="round"/>
<path d="M1901.75 401L1920.75 401L1911.25 416.5Z" fill="#1E9A57" stroke="#0F6638" stroke-width="1.4" stroke-linejoin="round"/>
<path d="M1900.5 414.75L1919.5 414.75L1910 430.25Z" fill="#1E9A57" stroke="#0F6638" stroke-width="1.4" stroke-linejoin="round"/>
<path d="M1928 416L1947 416L1937.5 431.5Z" fill="#1E9A57" stroke="#0F6638" stroke-width="1.4" stroke-linejoin="round"/>
<path d="M1908 429.75L1927 429.75L1917.5 445.25Z" fill="#1E9A57" stroke="#0F6638" stroke-width="1.4" stroke-linejoin="round"/>
<path d="M1920.5 429.75L1939.5 429.75L1930 445.25Z" fill="#1E9A57" stroke="#0F6638" stroke-width="1.4" stroke-linejoin="round"/>
<path d="M1928 454.75L1947 454.75L1937.5 470.25Z" fill="#1E9A57" stroke="#0F6638" stroke-width="1.4" stroke-linejoin="round"/>
<path d="M1901.75 461L1920.75 461L1911.25 476.5Z" fill="#1E9A57" stroke="#0F6638" stroke-width="1.4" stroke-linejoin="round"/>
<line x1="1650" y1="466.25" x2="1699.5" y2="466.25" stroke="#111" stroke-width="3.6"/>
<line x1="1720.5" y1="453.25" x2="1773.75" y2="453.25" stroke="#111" stroke-width="3.6"/>
<line x1="1826.25" y1="397.5" x2="1877" y2="397.5" stroke="#111" stroke-width="3.6"/>
<line x1="1898" y1="426.25" x2="1950" y2="426.25" stroke="#111" stroke-width="3.6"/>
<line x1="1675" y1="443" x2="1675" y2="474.5" stroke="#111" stroke-width="3.6"/>
<line x1="1663" y1="443" x2="1687" y2="443" stroke="#111" stroke-width="3.6"/>
<line x1="1663" y1="474.5" x2="1687" y2="474.5" stroke="#111" stroke-width="3.6"/>
<line x1="1747.5" y1="421.25" x2="1747.5" y2="470" stroke="#111" stroke-width="3.6"/>
<line x1="1735.5" y1="421.25" x2="1759.5" y2="421.25" stroke="#111" stroke-width="3.6"/>
<line x1="1735.5" y1="470" x2="1759.5" y2="470" stroke="#111" stroke-width="3.6"/>
<line x1="1851.25" y1="365" x2="1851.25" y2="431.25" stroke="#111" stroke-width="3.6"/>
<line x1="1839.25" y1="365" x2="1863.25" y2="365" stroke="#111" stroke-width="3.6"/>
<line x1="1839.25" y1="431.25" x2="1863.25" y2="431.25" stroke="#111" stroke-width="3.6"/>
<line x1="1924" y1="373.75" x2="1924" y2="446.75" stroke="#111" stroke-width="3.6"/>
<line x1="1912" y1="373.75" x2="1936" y2="373.75" stroke="#111" stroke-width="3.6"/>
<line x1="1912" y1="446.75" x2="1936" y2="446.75" stroke="#111" stroke-width="3.6"/>
</g>
<g id="panels-d-i">
<text x="323.8" y="1316.8" font-size="42" fill="#222" font-weight="bold" text-anchor="middle" >Gag</text>
<text x="797.4" y="1316.8" font-size="42" fill="#222" font-weight="bold" text-anchor="middle" >SEB</text>
<text x="1362" y="1315" font-size="42" fill="#222" font-weight="bold" text-anchor="middle" >Gag</text>
<text x="1863" y="1315" font-size="42" fill="#222" font-weight="bold" text-anchor="middle" >SEB</text>
<text x="1.5" y="1321.5" font-size="58" font-weight="bold" >d</text>
<text x="1036.5" y="1322" font-size="58" font-weight="bold" >e</text>
<text x="0.2" y="1751.5" font-size="58" font-weight="bold" >f</text>
<text x="1036.7" y="1751" font-size="58" font-weight="bold" >g</text>
<text x="0.4" y="2186.6" font-size="58" font-weight="bold" >h</text>
<text x="1036.6" y="2186.6" font-size="58" font-weight="bold" >i</text>
<line x1="188" y1="1372.05" x2="188" y2="1659.2" stroke="#000" stroke-width="3.6"/>
<line x1="180" y1="1657.5" x2="467.5" y2="1657.5" stroke="#000" stroke-width="3.6"/>
<line x1="179.5" y1="1373.75" x2="188" y2="1373.75" stroke="#000" stroke-width="3.2"/>
<text x="175" y="1382.75" font-size="25.5" fill="#222" text-anchor="end" textLength="12.1" lengthAdjust="spacingAndGlyphs" >3</text>
<line x1="179.5" y1="1469.25" x2="188" y2="1469.25" stroke="#000" stroke-width="3.2"/>
<text x="175" y="1478.25" font-size="25.5" fill="#222" text-anchor="end" textLength="12.1" lengthAdjust="spacingAndGlyphs" >2</text>
<line x1="179.5" y1="1563.25" x2="188" y2="1563.25" stroke="#000" stroke-width="3.2"/>
<text x="175" y="1572.25" font-size="25.5" fill="#222" text-anchor="end" textLength="12.1" lengthAdjust="spacingAndGlyphs" >1</text>
<line x1="179.5" y1="1657.5" x2="188" y2="1657.5" stroke="#000" stroke-width="3.2"/>
<text x="175" y="1666.5" font-size="25.5" fill="#222" text-anchor="end" textLength="12.1" lengthAdjust="spacingAndGlyphs" >0</text>
<line x1="256.75" y1="1657.5" x2="256.75" y2="1666.5" stroke="#000" stroke-width="3.2"/>
<line x1="395.75" y1="1657.5" x2="395.75" y2="1666.5" stroke="#000" stroke-width="3.2"/>
<text x="257" y="1701.5" font-size="30" fill="#222" font-weight="bold" text-anchor="middle" textLength="44" lengthAdjust="spacingAndGlyphs" >CP</text>
<text x="399.4" y="1701.5" font-size="30" fill="#222" font-weight="bold" text-anchor="middle" textLength="44" lengthAdjust="spacingAndGlyphs" >EC</text>
<text x="281.25" y="1386.25" font-size="28" fill="#222" textLength="93.75" lengthAdjust="spacingAndGlyphs"><tspan font-style="italic">p</tspan>=0.88</text>
<line x1="257.5" y1="1403.75" x2="393.75" y2="1403.75" stroke="#000" stroke-width="3.6"/>
<text transform="translate(102.2,1522.7) rotate(-90)" font-size="30" fill="#333" text-anchor="middle" textLength="290.6" lengthAdjust="spacingAndGlyphs"><tspan font-style="italic">IFNγ</tspan> mRNA+ CD69+</text>
<text transform="translate(140.5,1518.6) rotate(-90)" font-size="30" fill="#333" text-anchor="middle" textLength="264.8" lengthAdjust="spacingAndGlyphs">in CD4<tspan font-size="17" dy="-13">+</tspan><tspan dy="13"> T cells (%)</tspan></text>
<circle cx="222.5" cy="1607" r="8.8" fill="#F4894B" stroke="#8E4A2A" stroke-width="1.8"/>
<circle cx="245" cy="1625" r="8.8" fill="#F4894B" stroke="#8E4A2A" stroke-width="1.8"/>
<circle cx="268.75" cy="1628.75" r="8.8" fill="#F4894B" stroke="#8E4A2A" stroke-width="1.8"/>
<circle cx="303.75" cy="1625.75" r="8.8" fill="#F4894B" stroke="#8E4A2A" stroke-width="1.8"/>
<circle cx="291.25" cy="1640" r="8.8" fill="#F4894B" stroke="#8E4A2A" stroke-width="1.8"/>
<circle cx="222.5" cy="1645" r="8.8" fill="#F4894B" stroke="#8E4A2A" stroke-width="1.8"/>
<circle cx="245" cy="1655.5" r="8.8" fill="#F4894B" stroke="#8E4A2A" stroke-width="1.8"/>
<circle cx="268.75" cy="1655.5" r="8.8" fill="#F4894B" stroke="#8E4A2A" stroke-width="1.8"/>
<rect x="388.75" y="1421.25" width="17.5" height="17.5" fill="#1A95D5" stroke="#1B5E8E" stroke-width="1.4"/>
<rect x="375" y="1598.25" width="17.5" height="17.5" fill="#1A95D5" stroke="#1B5E8E" stroke-width="1.4"/>
<rect x="400" y="1615" width="17.5" height="17.5" fill="#1A95D5" stroke="#1B5E8E" stroke-width="1.4"/>
<rect x="353.75" y="1635" width="17.5" height="17.5" fill="#1A95D5" stroke="#1B5E8E" stroke-width="1.4"/>
<rect x="371.25" y="1636.25" width="17.5" height="17.5" fill="#1A95D5" stroke="#1B5E8E" stroke-width="1.4"/>
<rect x="421.25" y="1635" width="17.5" height="17.5" fill="#1A95D5" stroke="#1B5E8E" stroke-width="1.4"/>
<rect x="387.5" y="1646.25" width="17.5" height="17.5" fill="#1A95D5" stroke="#1B5E8E" stroke-width="1.4"/>
<rect x="403.75" y="1643.75" width="17.5" height="17.5" fill="#1A95D5" stroke="#1B5E8E" stroke-width="1.4"/>
<line x1="211.25" y1="1635" x2="302" y2="1635" stroke="#000" stroke-width="3.4"/>
<line x1="351.25" y1="1643.75" x2="441.25" y2="1643.75" stroke="#000" stroke-width="3.4"/>
<line x1="256.75" y1="1625.75" x2="256.75" y2="1653.75" stroke="#000" stroke-width="3.2"/>
<line x1="234.25" y1="1625.75" x2="279.25" y2="1625.75" stroke="#000" stroke-width="3.4"/>
<line x1="234.25" y1="1653.75" x2="279.25" y2="1653.75" stroke="#000" stroke-width="3.4"/>
<line x1="396" y1="1612.5" x2="396" y2="1650" stroke="#000" stroke-width="3.2"/>
<line x1="374" y1="1612.5" x2="418" y2="1612.5" stroke="#000" stroke-width="3.4"/>
<line x1="374" y1="1650" x2="418" y2="1650" stroke="#000" stroke-width="3.4"/>
<line x1="649.8" y1="1375.3" x2="649.8" y2="1661.7" stroke="#000" stroke-width="3.6"/>
<line x1="641.8" y1="1660" x2="928" y2="1660" stroke="#000" stroke-width="3.6"/>
<line x1="641.3" y1="1377" x2="649.8" y2="1377" stroke="#000" stroke-width="3.2"/>
<text x="633.7" y="1386" font-size="25.5" fill="#222" text-anchor="end" textLength="24.2" lengthAdjust="spacingAndGlyphs" >20</text>
<line x1="641.3" y1="1448" x2="649.8" y2="1448" stroke="#000" stroke-width="3.2"/>
<text x="633.7" y="1457" font-size="25.5" fill="#222" text-anchor="end" textLength="24.2" lengthAdjust="spacingAndGlyphs" >15</text>
<line x1="641.3" y1="1518.75" x2="649.8" y2="1518.75" stroke="#000" stroke-width="3.2"/>
<text x="633.7" y="1527.75" font-size="25.5" fill="#222" text-anchor="end" textLength="24.2" lengthAdjust="spacingAndGlyphs" >10</text>
<line x1="641.3" y1="1589.5" x2="649.8" y2="1589.5" stroke="#000" stroke-width="3.2"/>
<text x="633.7" y="1598.5" font-size="25.5" fill="#222" text-anchor="end" textLength="12.1" lengthAdjust="spacingAndGlyphs" >5</text>
<line x1="641.3" y1="1660" x2="649.8" y2="1660" stroke="#000" stroke-width="3.2"/>
<text x="633.7" y="1669" font-size="25.5" fill="#222" text-anchor="end" textLength="12.1" lengthAdjust="spacingAndGlyphs" >0</text>
<line x1="718.75" y1="1660" x2="718.75" y2="1669" stroke="#000" stroke-width="3.2"/>
<line x1="857.5" y1="1660" x2="857.5" y2="1669" stroke="#000" stroke-width="3.2"/>
<text x="715.6" y="1702.5" font-size="30" fill="#222" font-weight="bold" text-anchor="middle" textLength="44" lengthAdjust="spacingAndGlyphs" >CP</text>
<text x="856" y="1702.5" font-size="30" fill="#222" font-weight="bold" text-anchor="middle" textLength="44" lengthAdjust="spacingAndGlyphs" >EC</text>
<text x="741.25" y="1391.25" font-size="28" fill="#222" textLength="93.75" lengthAdjust="spacingAndGlyphs"><tspan font-style="italic">p</tspan>=0.88</text>
<line x1="720.75" y1="1406.25" x2="856.25" y2="1406.25" stroke="#000" stroke-width="3.6"/>
<text transform="translate(546.7,1523.9) rotate(-90)" font-size="30" fill="#333" text-anchor="middle" textLength="291.4" lengthAdjust="spacingAndGlyphs"><tspan font-style="italic">IFNγ</tspan> mRNA+ CD69+</text>
<text transform="translate(584.5,1519.5) rotate(-90)" font-size="30" fill="#333" text-anchor="middle" textLength="266.5" lengthAdjust="spacingAndGlyphs">in CD4<tspan font-size="17" dy="-13">+</tspan><tspan dy="13"> T cells (%)</tspan></text>
<circle cx="718.75" cy="1434.25" r="8.8" fill="#F4894B" stroke="#8E4A2A" stroke-width="1.8"/>
<circle cx="706.25" cy="1582" r="8.8" fill="#F4894B" stroke="#8E4A2A" stroke-width="1.8"/>
<circle cx="730.5" cy="1603" r="8.8" fill="#F4894B" stroke="#8E4A2A" stroke-width="1.8"/>
<circle cx="684.5" cy="1617.5" r="8.8" fill="#F4894B" stroke="#8E4A2A" stroke-width="1.8"/>
<circle cx="753" cy="1621.25" r="8.8" fill="#F4894B" stroke="#8E4A2A" stroke-width="1.8"/>
<circle cx="701.25" cy="1626.75" r="8.8" fill="#F4894B" stroke="#8E4A2A" stroke-width="1.8"/>
<circle cx="735.75" cy="1627.5" r="8.8" fill="#F4894B" stroke="#8E4A2A" stroke-width="1.8"/>
<circle cx="718.75" cy="1643" r="8.8" fill="#F4894B" stroke="#8E4A2A" stroke-width="1.8"/>
<rect x="875" y="1574.25" width="17.5" height="17.5" fill="#1A95D5" stroke="#1B5E8E" stroke-width="1.4"/>
<rect x="823.75" y="1586.75" width="17.5" height="17.5" fill="#1A95D5" stroke="#1B5E8E" stroke-width="1.4"/>
<rect x="848.75" y="1599.25" width="17.5" height="17.5" fill="#1A95D5" stroke="#1B5E8E" stroke-width="1.4"/>
<rect x="812.5" y="1605" width="17.5" height="17.5" fill="#1A95D5" stroke="#1B5E8E" stroke-width="1.4"/>
<rect x="884.25" y="1604.25" width="17.5" height="17.5" fill="#1A95D5" stroke="#1B5E8E" stroke-width="1.4"/>
<rect x="831.25" y="1618.75" width="17.5" height="17.5" fill="#1A95D5" stroke="#1B5E8E" stroke-width="1.4"/>
<rect x="848.75" y="1630" width="17.5" height="17.5" fill="#1A95D5" stroke="#1B5E8E" stroke-width="1.4"/>
<rect x="866.25" y="1627.5" width="17.5" height="17.5" fill="#1A95D5" stroke="#1B5E8E" stroke-width="1.4"/>
<line x1="672.5" y1="1620" x2="764.5" y2="1620" stroke="#000" stroke-width="3.4"/>
<line x1="812" y1="1613" x2="903.75" y2="1613" stroke="#000" stroke-width="3.4"/>
<line x1="718.75" y1="1587.5" x2="718.75" y2="1627.5" stroke="#000" stroke-width="3.2"/>
<line x1="696.25" y1="1587.5" x2="741.25" y2="1587.5" stroke="#000" stroke-width="3.4"/>
<line x1="696.25" y1="1627.5" x2="741.25" y2="1627.5" stroke="#000" stroke-width="3.4"/>
<line x1="857.5" y1="1598.75" x2="857.5" y2="1633.75" stroke="#000" stroke-width="3.2"/>
<line x1="834.5" y1="1598.75" x2="880.5" y2="1598.75" stroke="#000" stroke-width="3.4"/>
<line x1="834.5" y1="1633.75" x2="880.5" y2="1633.75" stroke="#000" stroke-width="3.4"/>
<line x1="1224.5" y1="1370.8" x2="1224.5" y2="1657.95" stroke="#000" stroke-width="3.6"/>
<line x1="1216.5" y1="1656.25" x2="1505" y2="1656.25" stroke="#000" stroke-width="3.6"/>
<line x1="1216" y1="1372.5" x2="1224.5" y2="1372.5" stroke="#000" stroke-width="3.2"/>
<text x="1207" y="1381.5" font-size="25.5" fill="#222" text-anchor="end" textLength="43.8" lengthAdjust="spacingAndGlyphs" >0.15</text>
<line x1="1216" y1="1467.5" x2="1224.5" y2="1467.5" stroke="#000" stroke-width="3.2"/>
<text x="1207" y="1476.5" font-size="25.5" fill="#222" text-anchor="end" textLength="43.8" lengthAdjust="spacingAndGlyphs" >0.10</text>
<line x1="1216" y1="1562" x2="1224.5" y2="1562" stroke="#000" stroke-width="3.2"/>
<text x="1207" y="1571" font-size="25.5" fill="#222" text-anchor="end" textLength="43.8" lengthAdjust="spacingAndGlyphs" >0.05</text>
<line x1="1216" y1="1656.25" x2="1224.5" y2="1656.25" stroke="#000" stroke-width="3.2"/>
<text x="1207" y="1665.25" font-size="25.5" fill="#222" text-anchor="end" textLength="43.8" lengthAdjust="spacingAndGlyphs" >0.00</text>
<line x1="1295" y1="1656.25" x2="1295" y2="1665.25" stroke="#000" stroke-width="3.2"/>
<line x1="1433.75" y1="1656.25" x2="1433.75" y2="1665.25" stroke="#000" stroke-width="3.2"/>
<text x="1293" y="1702.5" font-size="30" fill="#222" font-weight="bold" text-anchor="middle" textLength="44" lengthAdjust="spacingAndGlyphs" >CP</text>
<text x="1434" y="1702.5" font-size="30" fill="#222" font-weight="bold" text-anchor="middle" textLength="44" lengthAdjust="spacingAndGlyphs" >EC</text>
<text x="1312.5" y="1398.75" font-size="28" fill="#222" textLength="93.75" lengthAdjust="spacingAndGlyphs"><tspan font-style="italic">p</tspan>=0.88</text>
<line x1="1292" y1="1414.5" x2="1427.5" y2="1414.5" stroke="#000" stroke-width="3.6"/>
<text transform="translate(1107,1509.4) rotate(-90)" font-size="30" fill="#333" text-anchor="middle" textLength="270.7" lengthAdjust="spacingAndGlyphs"><tspan font-style="italic">IL2</tspan> mRNA+ CD69+</text>
<text transform="translate(1144.8,1504.6) rotate(-90)" font-size="30" fill="#333" text-anchor="middle" textLength="264" lengthAdjust="spacingAndGlyphs">in CD4<tspan font-size="17" dy="-13">+</tspan><tspan dy="13"> T cells (%)</tspan></text>
<circle cx="1295" cy="1462.5" r="8.8" fill="#F4894B" stroke="#8E4A2A" stroke-width="1.8"/>
<circle cx="1294.5" cy="1532.5" r="8.8" fill="#F4894B" stroke="#8E4A2A" stroke-width="1.8"/>
<circle cx="1294.5" cy="1566.25" r="8.8" fill="#F4894B" stroke="#8E4A2A" stroke-width="1.8"/>
<circle cx="1282" cy="1588.75" r="8.8" fill="#F4894B" stroke="#8E4A2A" stroke-width="1.8"/>
<circle cx="1307" cy="1601.25" r="8.8" fill="#F4894B" stroke="#8E4A2A" stroke-width="1.8"/>
<circle cx="1269.5" cy="1637.5" r="8.8" fill="#F4894B" stroke="#8E4A2A" stroke-width="1.8"/>
<circle cx="1320" cy="1638.75" r="8.8" fill="#F4894B" stroke="#8E4A2A" stroke-width="1.8"/>
<circle cx="1295" cy="1654.5" r="8.8" fill="#F4894B" stroke="#8E4A2A" stroke-width="1.8"/>
<rect x="1425.5" y="1456.25" width="17.5" height="17.5" fill="#1A95D5" stroke="#1B5E8E" stroke-width="1.4"/>
<rect x="1412.5" y="1548.75" width="17.5" height="17.5" fill="#1A95D5" stroke="#1B5E8E" stroke-width="1.4"/>
<rect x="1438.25" y="1546.25" width="17.5" height="17.5" fill="#1A95D5" stroke="#1B5E8E" stroke-width="1.4"/>
<rect x="1412.5" y="1577.5" width="17.5" height="17.5" fill="#1A95D5" stroke="#1B5E8E" stroke-width="1.4"/>
<rect x="1438.25" y="1590" width="17.5" height="17.5" fill="#1A95D5" stroke="#1B5E8E" stroke-width="1.4"/>
<rect x="1400" y="1615" width="17.5" height="17.5" fill="#1A95D5" stroke="#1B5E8E" stroke-width="1.4"/>
<rect x="1450.5" y="1628.75" width="17.5" height="17.5" fill="#1A95D5" stroke="#1B5E8E" stroke-width="1.4"/>
<rect x="1425.5" y="1633.75" width="17.5" height="17.5" fill="#1A95D5" stroke="#1B5E8E" stroke-width="1.4"/>
<line x1="1248.75" y1="1595" x2="1340.5" y2="1595" stroke="#000" stroke-width="3.4"/>
<line x1="1388.75" y1="1593.25" x2="1479.5" y2="1593.25" stroke="#000" stroke-width="3.4"/>
<line x1="1295" y1="1540.75" x2="1295" y2="1638" stroke="#000" stroke-width="3.2"/>
<line x1="1272.5" y1="1540.75" x2="1317.5" y2="1540.75" stroke="#000" stroke-width="3.4"/>
<line x1="1272.5" y1="1638" x2="1317.5" y2="1638" stroke="#000" stroke-width="3.4"/>
<line x1="1434" y1="1555.5" x2="1434" y2="1634.25" stroke="#000" stroke-width="3.2"/>
<line x1="1411.5" y1="1555.5" x2="1456.5" y2="1555.5" stroke="#000" stroke-width="3.4"/>
<line x1="1411.5" y1="1634.25" x2="1456.5" y2="1634.25" stroke="#000" stroke-width="3.4"/>
<line x1="1722.2" y1="1375.3" x2="1722.2" y2="1661.7" stroke="#000" stroke-width="3.6"/>
<line x1="1714.2" y1="1660" x2="2000" y2="1660" stroke="#000" stroke-width="3.6"/>
<line x1="1713.7" y1="1377" x2="1722.2" y2="1377" stroke="#000" stroke-width="3.2"/>
<text x="1710" y="1386" font-size="25.5" fill="#222" text-anchor="end" textLength="12.1" lengthAdjust="spacingAndGlyphs" >6</text>
<line x1="1713.7" y1="1471.75" x2="1722.2" y2="1471.75" stroke="#000" stroke-width="3.2"/>
<text x="1710" y="1480.75" font-size="25.5" fill="#222" text-anchor="end" textLength="12.1" lengthAdjust="spacingAndGlyphs" >4</text>
<line x1="1713.7" y1="1566.25" x2="1722.2" y2="1566.25" stroke="#000" stroke-width="3.2"/>
<text x="1710" y="1575.25" font-size="25.5" fill="#222" text-anchor="end" textLength="12.1" lengthAdjust="spacingAndGlyphs" >2</text>
<line x1="1713.7" y1="1660" x2="1722.2" y2="1660" stroke="#000" stroke-width="3.2"/>
<text x="1710" y="1669" font-size="25.5" fill="#222" text-anchor="end" textLength="12.1" lengthAdjust="spacingAndGlyphs" >0</text>
<line x1="1792" y1="1660" x2="1792" y2="1669" stroke="#000" stroke-width="3.2"/>
<line x1="1931.25" y1="1660" x2="1931.25" y2="1669" stroke="#000" stroke-width="3.2"/>
<text x="1792" y="1702.5" font-size="30" fill="#222" font-weight="bold" text-anchor="middle" textLength="44" lengthAdjust="spacingAndGlyphs" >CP</text>
<text x="1936" y="1702.5" font-size="30" fill="#222" font-weight="bold" text-anchor="middle" textLength="44" lengthAdjust="spacingAndGlyphs" >EC</text>
<text x="1811.25" y="1377.5" font-size="28" fill="#222" textLength="93.75" lengthAdjust="spacingAndGlyphs"><tspan font-style="italic">p</tspan>=0.88</text>
<line x1="1793.75" y1="1392.5" x2="1929.5" y2="1392.5" stroke="#000" stroke-width="3.6"/>
<text transform="translate(1603.8,1516.3) rotate(-90)" font-size="30" fill="#333" text-anchor="middle" textLength="269.7" lengthAdjust="spacingAndGlyphs"><tspan font-style="italic">IL2</tspan> mRNA+ CD69+</text>
<text transform="translate(1640.9,1511.5) rotate(-90)" font-size="30" fill="#333" text-anchor="middle" textLength="260" lengthAdjust="spacingAndGlyphs">in CD4<tspan font-size="17" dy="-13">+</tspan><tspan dy="13"> T cells (%)</tspan></text>
<circle cx="1778.75" cy="1410.75" r="8.8" fill="#F4894B" stroke="#8E4A2A" stroke-width="1.8"/>
<circle cx="1803.75" cy="1412.5" r="8.8" fill="#F4894B" stroke="#8E4A2A" stroke-width="1.8"/>
<circle cx="1757.5" cy="1457" r="8.8" fill="#F4894B" stroke="#8E4A2A" stroke-width="1.8"/>
<circle cx="1826.25" cy="1456.25" r="8.8" fill="#F4894B" stroke="#8E4A2A" stroke-width="1.8"/>
<circle cx="1803" cy="1468.75" r="8.8" fill="#F4894B" stroke="#8E4A2A" stroke-width="1.8"/>
<circle cx="1779.5" cy="1480" r="8.8" fill="#F4894B" stroke="#8E4A2A" stroke-width="1.8"/>
<circle cx="1792" cy="1516.25" r="8.8" fill="#F4894B" stroke="#8E4A2A" stroke-width="1.8"/>
<circle cx="1792" cy="1571.25" r="8.8" fill="#F4894B" stroke="#8E4A2A" stroke-width="1.8"/>
<rect x="1922.5" y="1411.25" width="17.5" height="17.5" fill="#1A95D5" stroke="#1B5E8E" stroke-width="1.4"/>
<rect x="1935" y="1445" width="17.5" height="17.5" fill="#1A95D5" stroke="#1B5E8E" stroke-width="1.4"/>
<rect x="1910" y="1460" width="17.5" height="17.5" fill="#1A95D5" stroke="#1B5E8E" stroke-width="1.4"/>
<rect x="1896.25" y="1481.25" width="17.5" height="17.5" fill="#1A95D5" stroke="#1B5E8E" stroke-width="1.4"/>
<rect x="1948.75" y="1480" width="17.5" height="17.5" fill="#1A95D5" stroke="#1B5E8E" stroke-width="1.4"/>
<rect x="1922.5" y="1494.25" width="17.5" height="17.5" fill="#1A95D5" stroke="#1B5E8E" stroke-width="1.4"/>
<rect x="1922.5" y="1553.25" width="17.5" height="17.5" fill="#1A95D5" stroke="#1B5E8E" stroke-width="1.4"/>
<rect x="1916.25" y="1486.25" width="17.5" height="17.5" fill="#1A95D5" stroke="#1B5E8E" stroke-width="1.4"/>
<line x1="1746.25" y1="1463" x2="1837.5" y2="1463" stroke="#000" stroke-width="3.4"/>
<line x1="1885" y1="1478.25" x2="1977" y2="1478.25" stroke="#000" stroke-width="3.4"/>
<line x1="1792" y1="1423.25" x2="1792" y2="1507.5" stroke="#000" stroke-width="3.2"/>
<line x1="1769.5" y1="1423.25" x2="1814.5" y2="1423.25" stroke="#000" stroke-width="3.4"/>
<line x1="1769.5" y1="1507.5" x2="1814.5" y2="1507.5" stroke="#000" stroke-width="3.4"/>
<line x1="1931.25" y1="1429.25" x2="1931.25" y2="1500" stroke="#000" stroke-width="3.2"/>
<line x1="1908.75" y1="1429.25" x2="1953.75" y2="1429.25" stroke="#000" stroke-width="3.4"/>
<line x1="1908.75" y1="1500" x2="1953.75" y2="1500" stroke="#000" stroke-width="3.4"/>
<line x1="188.6" y1="1784.55" x2="188.6" y2="2084.7" stroke="#000" stroke-width="3.6"/>
<line x1="180.6" y1="2083" x2="475" y2="2083" stroke="#000" stroke-width="3.6"/>
<line x1="180.1" y1="1786.25" x2="188.6" y2="1786.25" stroke="#000" stroke-width="3.2"/>
<text x="171.7" y="1795.25" font-size="25.5" fill="#222" text-anchor="end" textLength="31.7" lengthAdjust="spacingAndGlyphs" >0.5</text>
<line x1="180.1" y1="1845.5" x2="188.6" y2="1845.5" stroke="#000" stroke-width="3.2"/>
<text x="171.7" y="1854.5" font-size="25.5" fill="#222" text-anchor="end" textLength="31.7" lengthAdjust="spacingAndGlyphs" >0.4</text>
<line x1="180.1" y1="1905" x2="188.6" y2="1905" stroke="#000" stroke-width="3.2"/>
<text x="171.7" y="1914" font-size="25.5" fill="#222" text-anchor="end" textLength="31.7" lengthAdjust="spacingAndGlyphs" >0.3</text>
<line x1="180.1" y1="1964.5" x2="188.6" y2="1964.5" stroke="#000" stroke-width="3.2"/>
<text x="171.7" y="1973.5" font-size="25.5" fill="#222" text-anchor="end" textLength="31.7" lengthAdjust="spacingAndGlyphs" >0.2</text>
<line x1="180.1" y1="2023.75" x2="188.6" y2="2023.75" stroke="#000" stroke-width="3.2"/>
<text x="171.7" y="2032.75" font-size="25.5" fill="#222" text-anchor="end" textLength="31.7" lengthAdjust="spacingAndGlyphs" >0.1</text>
<line x1="180.1" y1="2083" x2="188.6" y2="2083" stroke="#000" stroke-width="3.2"/>
<text x="171.7" y="2092" font-size="25.5" fill="#222" text-anchor="end" textLength="31.7" lengthAdjust="spacingAndGlyphs" >0.0</text>
<line x1="259.5" y1="2083" x2="259.5" y2="2092" stroke="#000" stroke-width="3.2"/>
<line x1="402" y1="2083" x2="402" y2="2092" stroke="#000" stroke-width="3.2"/>
<text x="259.4" y="2130" font-size="30" fill="#222" font-weight="bold" text-anchor="middle" textLength="44" lengthAdjust="spacingAndGlyphs" >CP</text>
<text x="403" y="2130" font-size="30" fill="#222" font-weight="bold" text-anchor="middle" textLength="44" lengthAdjust="spacingAndGlyphs" >EC</text>
<text x="265" y="1785" font-size="28" fill="#222" textLength="130" lengthAdjust="spacingAndGlyphs"><tspan font-style="italic">p</tspan>=0.0045</text>
<line x1="260.75" y1="1800" x2="396.25" y2="1800" stroke="#000" stroke-width="3.6"/>
<text transform="translate(81.2,1937.2) rotate(-90)" font-size="30" fill="#333" text-anchor="middle" textLength="286.7" lengthAdjust="spacingAndGlyphs"><tspan font-style="italic">IL21</tspan> mRNA+ CD69+</text>
<text transform="translate(118.6,1936.4) rotate(-90)" font-size="30" fill="#333" text-anchor="middle" textLength="272" lengthAdjust="spacingAndGlyphs">in CD4<tspan font-size="17" dy="-13">+</tspan><tspan dy="13"> T cells (%)</tspan></text>
<circle cx="260" cy="1825" r="8.8" fill="#F4894B" stroke="#8E4A2A" stroke-width="1.8"/>
<circle cx="260" cy="1897" r="8.8" fill="#F4894B" stroke="#8E4A2A" stroke-width="1.8"/>
<circle cx="260" cy="1967.5" r="8.8" fill="#F4894B" stroke="#8E4A2A" stroke-width="1.8"/>
<circle cx="272.5" cy="1998" r="8.8" fill="#F4894B" stroke="#8E4A2A" stroke-width="1.8"/>
<circle cx="247" cy="2007.5" r="8.8" fill="#F4894B" stroke="#8E4A2A" stroke-width="1.8"/>
<circle cx="259.5" cy="2037.5" r="8.8" fill="#F4894B" stroke="#8E4A2A" stroke-width="1.8"/>
<circle cx="272.5" cy="2061.25" r="8.8" fill="#F4894B" stroke="#8E4A2A" stroke-width="1.8"/>
<circle cx="247" cy="2068.75" r="8.8" fill="#F4894B" stroke="#8E4A2A" stroke-width="1.8"/>
<rect x="381.25" y="2023.75" width="17.5" height="17.5" fill="#1A95D5" stroke="#1B5E8E" stroke-width="1.4"/>
<rect x="420" y="2030" width="17.5" height="17.5" fill="#1A95D5" stroke="#1B5E8E" stroke-width="1.4"/>
<rect x="406.25" y="2051.25" width="17.5" height="17.5" fill="#1A95D5" stroke="#1B5E8E" stroke-width="1.4"/>
<rect x="380" y="2058.75" width="17.5" height="17.5" fill="#1A95D5" stroke="#1B5E8E" stroke-width="1.4"/>
<rect x="368.75" y="2066.75" width="17.5" height="17.5" fill="#1A95D5" stroke="#1B5E8E" stroke-width="1.4"/>
<rect x="418.75" y="2066.25" width="17.5" height="17.5" fill="#1A95D5" stroke="#1B5E8E" stroke-width="1.4"/>
<rect x="392.5" y="2071.25" width="17.5" height="17.5" fill="#1A95D5" stroke="#1B5E8E" stroke-width="1.4"/>
<rect x="401.25" y="2069.25" width="17.5" height="17.5" fill="#1A95D5" stroke="#1B5E8E" stroke-width="1.4"/>
<line x1="213" y1="2002.5" x2="306.25" y2="2002.5" stroke="#000" stroke-width="3.4"/>
<line x1="355.5" y1="2072.5" x2="449.5" y2="2072.5" stroke="#000" stroke-width="3.4"/>
<line x1="260" y1="1914.5" x2="260" y2="2055" stroke="#000" stroke-width="3.2"/>
<line x1="237" y1="1914.5" x2="283" y2="1914.5" stroke="#000" stroke-width="3.4"/>
<line x1="237" y1="2055" x2="283" y2="2055" stroke="#000" stroke-width="3.4"/>
<line x1="402.5" y1="2044.25" x2="402.5" y2="2075" stroke="#000" stroke-width="3.2"/>
<line x1="379.5" y1="2044.25" x2="425.5" y2="2044.25" stroke="#000" stroke-width="3.4"/>
<line x1="379.5" y1="2075" x2="425.5" y2="2075" stroke="#000" stroke-width="3.4"/>
<line x1="648.6" y1="1787.05" x2="648.6" y2="2087.95" stroke="#000" stroke-width="3.6"/>
<line x1="640.6" y1="2086.25" x2="937.5" y2="2086.25" stroke="#000" stroke-width="3.6"/>
<line x1="640.1" y1="1788.75" x2="648.6" y2="1788.75" stroke="#000" stroke-width="3.2"/>
<text x="635.7" y="1797.75" font-size="25.5" fill="#222" text-anchor="end" textLength="12.1" lengthAdjust="spacingAndGlyphs" >4</text>
<line x1="640.1" y1="1862.5" x2="648.6" y2="1862.5" stroke="#000" stroke-width="3.2"/>
<text x="635.7" y="1871.5" font-size="25.5" fill="#222" text-anchor="end" textLength="12.1" lengthAdjust="spacingAndGlyphs" >3</text>
<line x1="640.1" y1="1937" x2="648.6" y2="1937" stroke="#000" stroke-width="3.2"/>
<text x="635.7" y="1946" font-size="25.5" fill="#222" text-anchor="end" textLength="12.1" lengthAdjust="spacingAndGlyphs" >2</text>
<line x1="640.1" y1="2011.25" x2="648.6" y2="2011.25" stroke="#000" stroke-width="3.2"/>
<text x="635.7" y="2020.25" font-size="25.5" fill="#222" text-anchor="end" textLength="12.1" lengthAdjust="spacingAndGlyphs" >1</text>
<line x1="640.1" y1="2086.25" x2="648.6" y2="2086.25" stroke="#000" stroke-width="3.2"/>
<text x="635.7" y="2095.25" font-size="25.5" fill="#222" text-anchor="end" textLength="12.1" lengthAdjust="spacingAndGlyphs" >0</text>
<line x1="721.25" y1="2086.25" x2="721.25" y2="2095.25" stroke="#000" stroke-width="3.2"/>
<line x1="863.75" y1="2086.25" x2="863.75" y2="2095.25" stroke="#000" stroke-width="3.2"/>
<text x="717" y="2130" font-size="30" fill="#222" font-weight="bold" text-anchor="middle" textLength="44" lengthAdjust="spacingAndGlyphs" >CP</text>
<text x="866" y="2130" font-size="30" fill="#222" font-weight="bold" text-anchor="middle" textLength="44" lengthAdjust="spacingAndGlyphs" >EC</text>
<text x="735" y="1788.75" font-size="28" fill="#222" textLength="108.75" lengthAdjust="spacingAndGlyphs"><tspan font-style="italic">p</tspan>=0.161</text>
<line x1="722.5" y1="1806.75" x2="858.75" y2="1806.75" stroke="#000" stroke-width="3.6"/>
<text transform="translate(546.4,1933.5) rotate(-90)" font-size="30" fill="#333" text-anchor="middle" textLength="287.4" lengthAdjust="spacingAndGlyphs"><tspan font-style="italic">IL21</tspan> mRNA+ CD69+</text>
<text transform="translate(585.8,1929.8) rotate(-90)" font-size="30" fill="#333" text-anchor="middle" textLength="262.5" lengthAdjust="spacingAndGlyphs">in CD4<tspan font-size="17" dy="-13">+</tspan><tspan dy="13"> T cells (%)</tspan></text>
<circle cx="721.25" cy="1841.75" r="8.8" fill="#F4894B" stroke="#8E4A2A" stroke-width="1.8"/>
<circle cx="685.75" cy="1914.5" r="8.8" fill="#F4894B" stroke="#8E4A2A" stroke-width="1.8"/>
<circle cx="756.75" cy="1910" r="8.8" fill="#F4894B" stroke="#8E4A2A" stroke-width="1.8"/>
<circle cx="733" cy="1923.75" r="8.8" fill="#F4894B" stroke="#8E4A2A" stroke-width="1.8"/>
<circle cx="708.75" cy="1933.75" r="8.8" fill="#F4894B" stroke="#8E4A2A" stroke-width="1.8"/>
<circle cx="708" cy="1949.25" r="8.8" fill="#F4894B" stroke="#8E4A2A" stroke-width="1.8"/>
<circle cx="734.25" cy="1973" r="8.8" fill="#F4894B" stroke="#8E4A2A" stroke-width="1.8"/>
<circle cx="721.25" cy="2040.5" r="8.8" fill="#F4894B" stroke="#8E4A2A" stroke-width="1.8"/>
<rect x="855.75" y="1847.5" width="17.5" height="17.5" fill="#1A95D5" stroke="#1B5E8E" stroke-width="1.4"/>
<rect x="881.75" y="1935.5" width="17.5" height="17.5" fill="#1A95D5" stroke="#1B5E8E" stroke-width="1.4"/>
<rect x="829.25" y="1945.75" width="17.5" height="17.5" fill="#1A95D5" stroke="#1B5E8E" stroke-width="1.4"/>
<rect x="855" y="1948.75" width="17.5" height="17.5" fill="#1A95D5" stroke="#1B5E8E" stroke-width="1.4"/>
<rect x="819.25" y="1985.75" width="17.5" height="17.5" fill="#1A95D5" stroke="#1B5E8E" stroke-width="1.4"/>
<rect x="890.75" y="1985.5" width="17.5" height="17.5" fill="#1A95D5" stroke="#1B5E8E" stroke-width="1.4"/>
<rect x="843.25" y="1992.5" width="17.5" height="17.5" fill="#1A95D5" stroke="#1B5E8E" stroke-width="1.4"/>
<rect x="867.5" y="1992.5" width="17.5" height="17.5" fill="#1A95D5" stroke="#1B5E8E" stroke-width="1.4"/>
<line x1="673.75" y1="1929.5" x2="768" y2="1929.5" stroke="#000" stroke-width="3.4"/>
<line x1="816.25" y1="1975.75" x2="911.25" y2="1975.75" stroke="#000" stroke-width="3.4"/>
<line x1="721.25" y1="1911.75" x2="721.25" y2="1967.5" stroke="#000" stroke-width="3.2"/>
<line x1="698.25" y1="1911.75" x2="744.25" y2="1911.75" stroke="#000" stroke-width="3.4"/>
<line x1="698.25" y1="1967.5" x2="744.25" y2="1967.5" stroke="#000" stroke-width="3.4"/>
<line x1="864" y1="1947" x2="864" y2="1999.25" stroke="#000" stroke-width="3.2"/>
<line x1="841" y1="1947" x2="887" y2="1947" stroke="#000" stroke-width="3.4"/>
<line x1="841" y1="1999.25" x2="887" y2="1999.25" stroke="#000" stroke-width="3.4"/>
<line x1="1227.5" y1="1787.05" x2="1227.5" y2="2087.95" stroke="#000" stroke-width="3.6"/>
<line x1="1219.5" y1="2086.25" x2="1513.75" y2="2086.25" stroke="#000" stroke-width="3.6"/>
<line x1="1219" y1="1788.75" x2="1227.5" y2="1788.75" stroke="#000" stroke-width="3.2"/>
<text x="1209" y="1797.75" font-size="25.5" fill="#222" text-anchor="end" textLength="31.7" lengthAdjust="spacingAndGlyphs" >0.3</text>
<line x1="1219" y1="1888" x2="1227.5" y2="1888" stroke="#000" stroke-width="3.2"/>
<text x="1209" y="1897" font-size="25.5" fill="#222" text-anchor="end" textLength="31.7" lengthAdjust="spacingAndGlyphs" >0.2</text>
<line x1="1219" y1="1987" x2="1227.5" y2="1987" stroke="#000" stroke-width="3.2"/>
<text x="1209" y="1996" font-size="25.5" fill="#222" text-anchor="end" textLength="31.7" lengthAdjust="spacingAndGlyphs" >0.1</text>
<line x1="1219" y1="2086.25" x2="1227.5" y2="2086.25" stroke="#000" stroke-width="3.2"/>
<text x="1209" y="2095.25" font-size="25.5" fill="#222" text-anchor="end" textLength="31.7" lengthAdjust="spacingAndGlyphs" >0.0</text>
<line x1="1298.25" y1="2086.25" x2="1298.25" y2="2095.25" stroke="#000" stroke-width="3.2"/>
<line x1="1440.5" y1="2086.25" x2="1440.5" y2="2095.25" stroke="#000" stroke-width="3.2"/>
<text x="1301" y="2130" font-size="30" fill="#222" font-weight="bold" text-anchor="middle" textLength="44" lengthAdjust="spacingAndGlyphs" >CP</text>
<text x="1443" y="2130" font-size="30" fill="#222" font-weight="bold" text-anchor="middle" textLength="44" lengthAdjust="spacingAndGlyphs" >EC</text>
<text x="1299.5" y="1770.5" font-size="28" fill="#222" textLength="131.5" lengthAdjust="spacingAndGlyphs"><tspan font-style="italic">p</tspan>=0.0006</text>
<line x1="1300" y1="1785.5" x2="1435" y2="1785.5" stroke="#000" stroke-width="3.6"/>
<text transform="translate(1106.7,1944.9) rotate(-90)" font-size="30" fill="#444" text-anchor="middle" textLength="364.8" lengthAdjust="spacingAndGlyphs"><tspan font-style="italic">CXCL13</tspan>  mRNA+ CD69+</text>
<text transform="translate(1144.5,1950) rotate(-90)" font-size="30" fill="#444" text-anchor="middle" textLength="267.3" lengthAdjust="spacingAndGlyphs">in CD4<tspan font-size="17" dy="-13">+</tspan><tspan dy="13"> T cells (%)</tspan></text>
<rect x="1289.25" y="1805.75" width="17.5" height="17.5" fill="#F4894B" stroke="#8E4A2A" stroke-width="1.5"/>
<rect x="1289.25" y="1865" width="17.5" height="17.5" fill="#F4894B" stroke="#8E4A2A" stroke-width="1.5"/>
<rect x="1289.25" y="1940.75" width="17.5" height="17.5" fill="#F4894B" stroke="#8E4A2A" stroke-width="1.5"/>
<rect x="1316.25" y="1994.25" width="17.5" height="17.5" fill="#F4894B" stroke="#8E4A2A" stroke-width="1.5"/>
<rect x="1262.5" y="2005" width="17.5" height="17.5" fill="#F4894B" stroke="#8E4A2A" stroke-width="1.5"/>
<rect x="1289.25" y="2011.25" width="17.5" height="17.5" fill="#F4894B" stroke="#8E4A2A" stroke-width="1.5"/>
<rect x="1303.75" y="2013.75" width="17.5" height="17.5" fill="#F4894B" stroke="#8E4A2A" stroke-width="1.5"/>
<rect x="1276.25" y="2038.75" width="17.5" height="17.5" fill="#F4894B" stroke="#8E4A2A" stroke-width="1.5"/>
<rect x="1418.75" y="2020" width="17.5" height="17.5" fill="#1A95D5" stroke="#1B5E8E" stroke-width="1.4"/>
<rect x="1445.75" y="2021.25" width="17.5" height="17.5" fill="#1A95D5" stroke="#1B5E8E" stroke-width="1.4"/>
<rect x="1445.75" y="2052.5" width="17.5" height="17.5" fill="#1A95D5" stroke="#1B5E8E" stroke-width="1.4"/>
<rect x="1407.5" y="2063.75" width="17.5" height="17.5" fill="#1A95D5" stroke="#1B5E8E" stroke-width="1.4"/>
<rect x="1418.75" y="2062.5" width="17.5" height="17.5" fill="#1A95D5" stroke="#1B5E8E" stroke-width="1.4"/>
<rect x="1456.25" y="2065" width="17.5" height="17.5" fill="#1A95D5" stroke="#1B5E8E" stroke-width="1.4"/>
<rect x="1426.25" y="2078.75" width="17.5" height="17.5" fill="#1A95D5" stroke="#1B5E8E" stroke-width="1.4"/>
<rect x="1440" y="2075" width="17.5" height="17.5" fill="#1A95D5" stroke="#1B5E8E" stroke-width="1.4"/>
<line x1="1251.25" y1="2009.25" x2="1345.5" y2="2009.25" stroke="#000" stroke-width="3.4"/>
<line x1="1394.5" y1="2074.25" x2="1488.25" y2="2074.25" stroke="#000" stroke-width="3.4"/>
<line x1="1298" y1="1892.5" x2="1298" y2="2020" stroke="#000" stroke-width="3.2"/>
<line x1="1275" y1="1892.5" x2="1321" y2="1892.5" stroke="#000" stroke-width="3.4"/>
<line x1="1275" y1="2020" x2="1321" y2="2020" stroke="#000" stroke-width="3.4"/>
<line x1="1441" y1="2039.25" x2="1441" y2="2079.5" stroke="#000" stroke-width="3.2"/>
<line x1="1418" y1="2039.25" x2="1464" y2="2039.25" stroke="#000" stroke-width="3.4"/>
<line x1="1418" y1="2079.5" x2="1464" y2="2079.5" stroke="#000" stroke-width="3.4"/>
<line x1="1723" y1="1787.05" x2="1723" y2="2087.95" stroke="#000" stroke-width="3.6"/>
<line x1="1715" y1="2086.25" x2="2000" y2="2086.25" stroke="#000" stroke-width="3.6"/>
<line x1="1714.5" y1="1788.75" x2="1723" y2="1788.75" stroke="#000" stroke-width="3.2"/>
<text x="1705" y="1797.75" font-size="25.5" fill="#222" text-anchor="end" textLength="31.7" lengthAdjust="spacingAndGlyphs" >2.0</text>
<line x1="1714.5" y1="1863" x2="1723" y2="1863" stroke="#000" stroke-width="3.2"/>
<text x="1705" y="1872" font-size="25.5" fill="#222" text-anchor="end" textLength="31.7" lengthAdjust="spacingAndGlyphs" >1.5</text>
<line x1="1714.5" y1="1938" x2="1723" y2="1938" stroke="#000" stroke-width="3.2"/>
<text x="1705" y="1947" font-size="25.5" fill="#222" text-anchor="end" textLength="31.7" lengthAdjust="spacingAndGlyphs" >1.0</text>
<line x1="1714.5" y1="2012" x2="1723" y2="2012" stroke="#000" stroke-width="3.2"/>
<text x="1705" y="2021" font-size="25.5" fill="#222" text-anchor="end" textLength="31.7" lengthAdjust="spacingAndGlyphs" >0.5</text>
<line x1="1714.5" y1="2086.25" x2="1723" y2="2086.25" stroke="#000" stroke-width="3.2"/>
<text x="1705" y="2095.25" font-size="25.5" fill="#222" text-anchor="end" textLength="31.7" lengthAdjust="spacingAndGlyphs" >0.0</text>
<line x1="1794.25" y1="2086.25" x2="1794.25" y2="2095.25" stroke="#000" stroke-width="3.2"/>
<line x1="1937" y1="2086.25" x2="1937" y2="2095.25" stroke="#000" stroke-width="3.2"/>
<text x="1787" y="2130" font-size="30" fill="#222" font-weight="bold" text-anchor="middle" textLength="44" lengthAdjust="spacingAndGlyphs" >CP</text>
<text x="1940" y="2130" font-size="30" fill="#222" font-weight="bold" text-anchor="middle" textLength="44" lengthAdjust="spacingAndGlyphs" >EC</text>
<text x="1817.5" y="1815" font-size="28" fill="#222" textLength="95" lengthAdjust="spacingAndGlyphs"><tspan font-style="italic">p</tspan>=0.16</text>
<line x1="1798" y1="1824.5" x2="1933.75" y2="1824.5" stroke="#000" stroke-width="3.6"/>
<text transform="translate(1605,1936.8) rotate(-90)" font-size="30" fill="#444" text-anchor="middle" textLength="348.5" lengthAdjust="spacingAndGlyphs"><tspan font-style="italic">CXCL13</tspan>  mRNA+ CD69+</text>
<text transform="translate(1646,1933.6) rotate(-90)" font-size="30" fill="#444" text-anchor="middle" textLength="264.3" lengthAdjust="spacingAndGlyphs">in CD4<tspan font-size="17" dy="-13">+</tspan><tspan dy="13"> T cells (%)</tspan></text>
<circle cx="1794.5" cy="1857" r="8.8" fill="#F4894B" stroke="#8E4A2A" stroke-width="1.8"/>
<circle cx="1794.5" cy="1897.5" r="8.8" fill="#F4894B" stroke="#8E4A2A" stroke-width="1.8"/>
<circle cx="1794.5" cy="1928.75" r="8.8" fill="#F4894B" stroke="#8E4A2A" stroke-width="1.8"/>
<circle cx="1759.25" cy="2008" r="8.8" fill="#F4894B" stroke="#8E4A2A" stroke-width="1.8"/>
<circle cx="1776.25" cy="2015" r="8.8" fill="#F4894B" stroke="#8E4A2A" stroke-width="1.8"/>
<circle cx="1829.5" cy="2013" r="8.8" fill="#F4894B" stroke="#8E4A2A" stroke-width="1.8"/>
<circle cx="1794.5" cy="2032.5" r="8.8" fill="#F4894B" stroke="#8E4A2A" stroke-width="1.8"/>
<circle cx="1811.25" cy="2028.75" r="8.8" fill="#F4894B" stroke="#8E4A2A" stroke-width="1.8"/>
<rect x="1928.75" y="1908.25" width="17.5" height="17.5" fill="#1A95D5" stroke="#1B5E8E" stroke-width="1.4"/>
<rect x="1915" y="1963.25" width="17.5" height="17.5" fill="#1A95D5" stroke="#1B5E8E" stroke-width="1.4"/>
<rect x="1941.75" y="1962.5" width="17.5" height="17.5" fill="#1A95D5" stroke="#1B5E8E" stroke-width="1.4"/>
<rect x="1915" y="2012.5" width="17.5" height="17.5" fill="#1A95D5" stroke="#1B5E8E" stroke-width="1.4"/>
<rect x="1941.25" y="2025" width="17.5" height="17.5" fill="#1A95D5" stroke="#1B5E8E" stroke-width="1.4"/>
<rect x="1901.25" y="2038.75" width="17.5" height="17.5" fill="#1A95D5" stroke="#1B5E8E" stroke-width="1.4"/>
<rect x="1954.25" y="2038.75" width="17.5" height="17.5" fill="#1A95D5" stroke="#1B5E8E" stroke-width="1.4"/>
<rect x="1928.75" y="2056.25" width="17.5" height="17.5" fill="#1A95D5" stroke="#1B5E8E" stroke-width="1.4"/>
<line x1="1747.5" y1="2011.75" x2="1841.25" y2="2011.75" stroke="#000" stroke-width="3.4"/>
<line x1="1890" y1="2027.5" x2="1983.75" y2="2027.5" stroke="#000" stroke-width="3.4"/>
<line x1="1794.5" y1="1906.25" x2="1794.5" y2="2025.5" stroke="#000" stroke-width="3.2"/>
<line x1="1771" y1="1906.25" x2="1818" y2="1906.25" stroke="#000" stroke-width="3.4"/>
<line x1="1771" y1="2025.5" x2="1818" y2="2025.5" stroke="#000" stroke-width="3.4"/>
<line x1="1937.5" y1="1972" x2="1937.5" y2="2047.5" stroke="#000" stroke-width="3.2"/>
<line x1="1915" y1="1972" x2="1960" y2="1972" stroke="#000" stroke-width="3.4"/>
<line x1="1915" y1="2047.5" x2="1960" y2="2047.5" stroke="#000" stroke-width="3.4"/>
<line x1="190" y1="2217.3" x2="190" y2="2503.2" stroke="#000" stroke-width="3.6"/>
<line x1="182" y1="2501.5" x2="471.25" y2="2501.5" stroke="#000" stroke-width="3.6"/>
<line x1="181.5" y1="2219" x2="190" y2="2219" stroke="#000" stroke-width="3.2"/>
<text x="174.2" y="2228" font-size="25.5" fill="#222" text-anchor="end" textLength="43.8" lengthAdjust="spacingAndGlyphs" >0.15</text>
<line x1="181.5" y1="2313.25" x2="190" y2="2313.25" stroke="#000" stroke-width="3.2"/>
<text x="174.2" y="2322.25" font-size="25.5" fill="#222" text-anchor="end" textLength="43.8" lengthAdjust="spacingAndGlyphs" >0.10</text>
<line x1="181.5" y1="2407.25" x2="190" y2="2407.25" stroke="#000" stroke-width="3.2"/>
<text x="174.2" y="2416.25" font-size="25.5" fill="#222" text-anchor="end" textLength="43.8" lengthAdjust="spacingAndGlyphs" >0.05</text>
<line x1="181.5" y1="2501.5" x2="190" y2="2501.5" stroke="#000" stroke-width="3.2"/>
<text x="174.2" y="2510.5" font-size="25.5" fill="#222" text-anchor="end" textLength="43.8" lengthAdjust="spacingAndGlyphs" >0.00</text>
<line x1="260.75" y1="2501.5" x2="260.75" y2="2510.5" stroke="#000" stroke-width="3.2"/>
<line x1="400" y1="2501.5" x2="400" y2="2510.5" stroke="#000" stroke-width="3.2"/>
<text x="261.6" y="2547.75" font-size="30" fill="#222" font-weight="bold" text-anchor="middle" textLength="44" lengthAdjust="spacingAndGlyphs" >CP</text>
<text x="398.75" y="2547.75" font-size="30" fill="#222" font-weight="bold" text-anchor="middle" textLength="44" lengthAdjust="spacingAndGlyphs" >EC</text>
<text x="286.25" y="2220.25" font-size="28" fill="#222" textLength="95" lengthAdjust="spacingAndGlyphs"><tspan font-style="italic">p</tspan>=0.13</text>
<line x1="262.5" y1="2237" x2="398.75" y2="2237" stroke="#000" stroke-width="3.6"/>
<text transform="translate(70,2371) rotate(-90)" font-size="30" fill="#333" text-anchor="middle" textLength="307.4" lengthAdjust="spacingAndGlyphs"><tspan font-style="italic">IL17F</tspan> mRNA+ CD69+</text>
<text transform="translate(108.6,2365) rotate(-90)" font-size="30" fill="#333" text-anchor="middle" textLength="262" lengthAdjust="spacingAndGlyphs">in CD4<tspan font-size="17" dy="-13">+</tspan><tspan dy="13"> T cells (%)</tspan></text>
<circle cx="260.5" cy="2291.5" r="8.8" fill="#F4894B" stroke="#8E4A2A" stroke-width="1.8"/>
<circle cx="260.5" cy="2374.5" r="8.8" fill="#F4894B" stroke="#8E4A2A" stroke-width="1.8"/>
<circle cx="260.5" cy="2425.25" r="8.8" fill="#F4894B" stroke="#8E4A2A" stroke-width="1.8"/>
<circle cx="260.5" cy="2468.5" r="8.8" fill="#F4894B" stroke="#8E4A2A" stroke-width="1.8"/>
<circle cx="225.75" cy="2491" r="8.8" fill="#F4894B" stroke="#8E4A2A" stroke-width="1.8"/>
<circle cx="295" cy="2487.75" r="8.8" fill="#F4894B" stroke="#8E4A2A" stroke-width="1.8"/>
<circle cx="272" cy="2494.5" r="8.8" fill="#F4894B" stroke="#8E4A2A" stroke-width="1.8"/>
<circle cx="248.75" cy="2501.5" r="8.8" fill="#F4894B" stroke="#8E4A2A" stroke-width="1.8"/>
<rect x="391.25" y="2290.25" width="17.5" height="17.5" fill="#1A95D5" stroke="#1B5E8E" stroke-width="1.4"/>
<rect x="391.25" y="2339.75" width="17.5" height="17.5" fill="#1A95D5" stroke="#1B5E8E" stroke-width="1.4"/>
<rect x="403.75" y="2363.5" width="17.5" height="17.5" fill="#1A95D5" stroke="#1B5E8E" stroke-width="1.4"/>
<rect x="378.25" y="2373.25" width="17.5" height="17.5" fill="#1A95D5" stroke="#1B5E8E" stroke-width="1.4"/>
<rect x="391.25" y="2421.5" width="17.5" height="17.5" fill="#1A95D5" stroke="#1B5E8E" stroke-width="1.4"/>
<rect x="365" y="2429.5" width="17.5" height="17.5" fill="#1A95D5" stroke="#1B5E8E" stroke-width="1.4"/>
<rect x="416.25" y="2439" width="17.5" height="17.5" fill="#1A95D5" stroke="#1B5E8E" stroke-width="1.4"/>
<rect x="391.25" y="2455.25" width="17.5" height="17.5" fill="#1A95D5" stroke="#1B5E8E" stroke-width="1.4"/>
<line x1="214.5" y1="2477.75" x2="306.25" y2="2477.75" stroke="#000" stroke-width="3.4"/>
<line x1="354.5" y1="2406.5" x2="445.5" y2="2406.5" stroke="#000" stroke-width="3.4"/>
<line x1="260.5" y1="2387" x2="260.5" y2="2494.5" stroke="#000" stroke-width="3.2"/>
<line x1="237.5" y1="2387" x2="283.5" y2="2387" stroke="#000" stroke-width="3.4"/>
<line x1="237.5" y1="2494.5" x2="283.5" y2="2494.5" stroke="#000" stroke-width="3.4"/>
<line x1="400" y1="2355.25" x2="400" y2="2446" stroke="#000" stroke-width="3.2"/>
<line x1="377.25" y1="2355.25" x2="422.75" y2="2355.25" stroke="#000" stroke-width="3.4"/>
<line x1="377.25" y1="2446" x2="422.75" y2="2446" stroke="#000" stroke-width="3.4"/>
<line x1="647.5" y1="2216.8" x2="647.5" y2="2503.2" stroke="#000" stroke-width="3.6"/>
<line x1="639.5" y1="2501.5" x2="927.5" y2="2501.5" stroke="#000" stroke-width="3.6"/>
<line x1="639" y1="2218.5" x2="647.5" y2="2218.5" stroke="#000" stroke-width="3.2"/>
<text x="633" y="2227.5" font-size="25.5" fill="#222" text-anchor="end" textLength="31.7" lengthAdjust="spacingAndGlyphs" >0.6</text>
<line x1="639" y1="2312.75" x2="647.5" y2="2312.75" stroke="#000" stroke-width="3.2"/>
<text x="633" y="2321.75" font-size="25.5" fill="#222" text-anchor="end" textLength="31.7" lengthAdjust="spacingAndGlyphs" >0.4</text>
<line x1="639" y1="2407" x2="647.5" y2="2407" stroke="#000" stroke-width="3.2"/>
<text x="633" y="2416" font-size="25.5" fill="#222" text-anchor="end" textLength="31.7" lengthAdjust="spacingAndGlyphs" >0.2</text>
<line x1="639" y1="2501.5" x2="647.5" y2="2501.5" stroke="#000" stroke-width="3.2"/>
<text x="633" y="2510.5" font-size="25.5" fill="#222" text-anchor="end" textLength="31.7" lengthAdjust="spacingAndGlyphs" >0.0</text>
<line x1="718" y1="2501.5" x2="718" y2="2510.5" stroke="#000" stroke-width="3.2"/>
<line x1="856.75" y1="2501.5" x2="856.75" y2="2510.5" stroke="#000" stroke-width="3.2"/>
<text x="723" y="2547.75" font-size="30" fill="#222" font-weight="bold" text-anchor="middle" textLength="44" lengthAdjust="spacingAndGlyphs" >CP</text>
<text x="861" y="2547.75" font-size="30" fill="#222" font-weight="bold" text-anchor="middle" textLength="44" lengthAdjust="spacingAndGlyphs" >EC</text>
<text x="743" y="2189" font-size="28" fill="#222" textLength="93" lengthAdjust="spacingAndGlyphs"><tspan font-style="italic">p</tspan>=0.33</text>
<line x1="720.75" y1="2204.75" x2="856.25" y2="2204.75" stroke="#000" stroke-width="3.6"/>
<text transform="translate(545,2371) rotate(-90)" font-size="30" fill="#333" text-anchor="middle" textLength="307.4" lengthAdjust="spacingAndGlyphs"><tspan font-style="italic">IL17F</tspan> mRNA+ CD69+</text>
<text transform="translate(586,2363) rotate(-90)" font-size="30" fill="#333" text-anchor="middle" textLength="266" lengthAdjust="spacingAndGlyphs">in CD4<tspan font-size="17" dy="-13">+</tspan><tspan dy="13"> T cells (%)</tspan></text>
<circle cx="718" cy="2236.5" r="8.8" fill="#F4894B" stroke="#8E4A2A" stroke-width="1.8"/>
<circle cx="705" cy="2298.5" r="8.8" fill="#F4894B" stroke="#8E4A2A" stroke-width="1.8"/>
<circle cx="730.5" cy="2310.25" r="8.8" fill="#F4894B" stroke="#8E4A2A" stroke-width="1.8"/>
<circle cx="718" cy="2361.5" r="8.8" fill="#F4894B" stroke="#8E4A2A" stroke-width="1.8"/>
<circle cx="743" cy="2416.5" r="8.8" fill="#F4894B" stroke="#8E4A2A" stroke-width="1.8"/>
<circle cx="692.5" cy="2421.5" r="8.8" fill="#F4894B" stroke="#8E4A2A" stroke-width="1.8"/>
<circle cx="718" cy="2426.5" r="8.8" fill="#F4894B" stroke="#8E4A2A" stroke-width="1.8"/>
<circle cx="718" cy="2475.25" r="8.8" fill="#F4894B" stroke="#8E4A2A" stroke-width="1.8"/>
<rect x="848.75" y="2248.5" width="17.5" height="17.5" fill="#1A95D5" stroke="#1B5E8E" stroke-width="1.4"/>
<rect x="835" y="2371.5" width="17.5" height="17.5" fill="#1A95D5" stroke="#1B5E8E" stroke-width="1.4"/>
<rect x="861.25" y="2384" width="17.5" height="17.5" fill="#1A95D5" stroke="#1B5E8E" stroke-width="1.4"/>
<rect x="814.5" y="2409.75" width="17.5" height="17.5" fill="#1A95D5" stroke="#1B5E8E" stroke-width="1.4"/>
<rect x="882.5" y="2422.75" width="17.5" height="17.5" fill="#1A95D5" stroke="#1B5E8E" stroke-width="1.4"/>
<rect x="831.25" y="2432.25" width="17.5" height="17.5" fill="#1A95D5" stroke="#1B5E8E" stroke-width="1.4"/>
<rect x="848.75" y="2434" width="17.5" height="17.5" fill="#1A95D5" stroke="#1B5E8E" stroke-width="1.4"/>
<rect x="865.75" y="2433.25" width="17.5" height="17.5" fill="#1A95D5" stroke="#1B5E8E" stroke-width="1.4"/>
<line x1="672.5" y1="2389" x2="763.75" y2="2389" stroke="#000" stroke-width="3.4"/>
<line x1="812" y1="2425.75" x2="903" y2="2425.75" stroke="#000" stroke-width="3.4"/>
<line x1="718" y1="2301.5" x2="718" y2="2425.25" stroke="#000" stroke-width="3.2"/>
<line x1="695" y1="2301.5" x2="741" y2="2301.5" stroke="#000" stroke-width="3.4"/>
<line x1="695" y1="2425.25" x2="741" y2="2425.25" stroke="#000" stroke-width="3.4"/>
<line x1="857.5" y1="2383.5" x2="857.5" y2="2441.5" stroke="#000" stroke-width="3.2"/>
<line x1="835.25" y1="2383.5" x2="879.75" y2="2383.5" stroke="#000" stroke-width="3.4"/>
<line x1="835.25" y1="2441.5" x2="879.75" y2="2441.5" stroke="#000" stroke-width="3.4"/>
<line x1="1223" y1="2216.8" x2="1223" y2="2503.7" stroke="#000" stroke-width="3.6"/>
<line x1="1215" y1="2502" x2="1505" y2="2502" stroke="#000" stroke-width="3.6"/>
<line x1="1214.5" y1="2218.5" x2="1223" y2="2218.5" stroke="#000" stroke-width="3.2"/>
<text x="1210" y="2227.5" font-size="25.5" fill="#222" text-anchor="end" textLength="31.7" lengthAdjust="spacingAndGlyphs" >2.0</text>
<line x1="1214.5" y1="2289.75" x2="1223" y2="2289.75" stroke="#000" stroke-width="3.2"/>
<text x="1210" y="2298.75" font-size="25.5" fill="#222" text-anchor="end" textLength="31.7" lengthAdjust="spacingAndGlyphs" >1.5</text>
<line x1="1214.5" y1="2360.25" x2="1223" y2="2360.25" stroke="#000" stroke-width="3.2"/>
<text x="1210" y="2369.25" font-size="25.5" fill="#222" text-anchor="end" textLength="31.7" lengthAdjust="spacingAndGlyphs" >1.0</text>
<line x1="1214.5" y1="2431" x2="1223" y2="2431" stroke="#000" stroke-width="3.2"/>
<text x="1210" y="2440" font-size="25.5" fill="#222" text-anchor="end" textLength="31.7" lengthAdjust="spacingAndGlyphs" >0.5</text>
<line x1="1214.5" y1="2502" x2="1223" y2="2502" stroke="#000" stroke-width="3.2"/>
<text x="1210" y="2511" font-size="25.5" fill="#222" text-anchor="end" textLength="31.7" lengthAdjust="spacingAndGlyphs" >0.0</text>
<line x1="1295" y1="2502" x2="1295" y2="2511" stroke="#000" stroke-width="3.2"/>
<line x1="1433.75" y1="2502" x2="1433.75" y2="2511" stroke="#000" stroke-width="3.2"/>
<text x="1298.75" y="2547.75" font-size="30" fill="#222" font-weight="bold" text-anchor="middle" textLength="44" lengthAdjust="spacingAndGlyphs" >CP</text>
<text x="1436.6" y="2547.75" font-size="30" fill="#222" font-weight="bold" text-anchor="middle" textLength="44" lengthAdjust="spacingAndGlyphs" >EC</text>
<text x="1297.5" y="2225.25" font-size="28" fill="#222" textLength="130" lengthAdjust="spacingAndGlyphs"><tspan font-style="italic">p</tspan>=0.0068</text>
<line x1="1296.25" y1="2239.5" x2="1432.5" y2="2239.5" stroke="#000" stroke-width="3.6"/>
<text transform="translate(1112,2375.5) rotate(-90)" font-size="30" fill="#333" text-anchor="middle" textLength="276.3" lengthAdjust="spacingAndGlyphs"><tspan font-style="italic">IL22</tspan> mRNA+ CD69+</text>
<text transform="translate(1149,2365) rotate(-90)" font-size="30" fill="#333" text-anchor="middle" textLength="264.6" lengthAdjust="spacingAndGlyphs">in CD4<tspan font-size="17" dy="-13">+</tspan><tspan dy="13"> T cells (%)</tspan></text>
<circle cx="1295" cy="2419" r="8.8" fill="#F4894B" stroke="#8E4A2A" stroke-width="1.8"/>
<circle cx="1261.25" cy="2494.5" r="8.8" fill="#F4894B" stroke="#8E4A2A" stroke-width="1.8"/>
<circle cx="1328" cy="2494.5" r="8.8" fill="#F4894B" stroke="#8E4A2A" stroke-width="1.8"/>
<circle cx="1272.5" cy="2499" r="8.8" fill="#F4894B" stroke="#8E4A2A" stroke-width="1.8"/>
<circle cx="1283.75" cy="2501.5" r="8.8" fill="#F4894B" stroke="#8E4A2A" stroke-width="1.8"/>
<circle cx="1293.75" cy="2502.75" r="8.8" fill="#F4894B" stroke="#8E4A2A" stroke-width="1.8"/>
<circle cx="1305" cy="2502.75" r="8.8" fill="#F4894B" stroke="#8E4A2A" stroke-width="1.8"/>
<circle cx="1316.25" cy="2499" r="8.8" fill="#F4894B" stroke="#8E4A2A" stroke-width="1.8"/>
<rect x="1426.25" y="2281.5" width="17.5" height="17.5" fill="#1A95D5" stroke="#1B5E8E" stroke-width="1.4"/>
<rect x="1426.25" y="2372.75" width="17.5" height="17.5" fill="#1A95D5" stroke="#1B5E8E" stroke-width="1.4"/>
<rect x="1413.25" y="2449" width="17.5" height="17.5" fill="#1A95D5" stroke="#1B5E8E" stroke-width="1.4"/>
<rect x="1438.25" y="2454" width="17.5" height="17.5" fill="#1A95D5" stroke="#1B5E8E" stroke-width="1.4"/>
<rect x="1390" y="2475.25" width="17.5" height="17.5" fill="#1A95D5" stroke="#1B5E8E" stroke-width="1.4"/>
<rect x="1460.75" y="2472.75" width="17.5" height="17.5" fill="#1A95D5" stroke="#1B5E8E" stroke-width="1.4"/>
<rect x="1413.75" y="2486.5" width="17.5" height="17.5" fill="#1A95D5" stroke="#1B5E8E" stroke-width="1.4"/>
<rect x="1437.5" y="2486.5" width="17.5" height="17.5" fill="#1A95D5" stroke="#1B5E8E" stroke-width="1.4"/>
<line x1="1250" y1="2499" x2="1340" y2="2499" stroke="#000" stroke-width="3.4"/>
<line x1="1388.75" y1="2473.25" x2="1480" y2="2473.25" stroke="#000" stroke-width="3.4"/>
<line x1="1296" y1="2497" x2="1296" y2="2500" stroke="#000" stroke-width="3.2"/>
<line x1="1275" y1="2497" x2="1317" y2="2497" stroke="#000" stroke-width="3.4"/>
<line x1="1275" y1="2500" x2="1317" y2="2500" stroke="#000" stroke-width="3.4"/>
<line x1="1434" y1="2400.75" x2="1434" y2="2491.5" stroke="#000" stroke-width="3.2"/>
<line x1="1411.5" y1="2400.75" x2="1456.5" y2="2400.75" stroke="#000" stroke-width="3.4"/>
<line x1="1411.5" y1="2491.5" x2="1456.5" y2="2491.5" stroke="#000" stroke-width="3.4"/>
<line x1="1728" y1="2216.8" x2="1728" y2="2503.7" stroke="#000" stroke-width="3.6"/>
<line x1="1720" y1="2502" x2="2005" y2="2502" stroke="#000" stroke-width="3.6"/>
<line x1="1719.5" y1="2218.5" x2="1728" y2="2218.5" stroke="#000" stroke-width="3.2"/>
<text x="1712.5" y="2227.5" font-size="25.5" fill="#222" text-anchor="end" textLength="31.7" lengthAdjust="spacingAndGlyphs" >2.0</text>
<line x1="1719.5" y1="2289.75" x2="1728" y2="2289.75" stroke="#000" stroke-width="3.2"/>
<text x="1712.5" y="2298.75" font-size="25.5" fill="#222" text-anchor="end" textLength="31.7" lengthAdjust="spacingAndGlyphs" >1.5</text>
<line x1="1719.5" y1="2360.75" x2="1728" y2="2360.75" stroke="#000" stroke-width="3.2"/>
<text x="1712.5" y="2369.75" font-size="25.5" fill="#222" text-anchor="end" textLength="31.7" lengthAdjust="spacingAndGlyphs" >1.0</text>
<line x1="1719.5" y1="2431.5" x2="1728" y2="2431.5" stroke="#000" stroke-width="3.2"/>
<text x="1712.5" y="2440.5" font-size="25.5" fill="#222" text-anchor="end" textLength="31.7" lengthAdjust="spacingAndGlyphs" >0.5</text>
<line x1="1719.5" y1="2502" x2="1728" y2="2502" stroke="#000" stroke-width="3.2"/>
<text x="1712.5" y="2511" font-size="25.5" fill="#222" text-anchor="end" textLength="31.7" lengthAdjust="spacingAndGlyphs" >0.0</text>
<line x1="1798.75" y1="2502" x2="1798.75" y2="2511" stroke="#000" stroke-width="3.2"/>
<line x1="1936.25" y1="2502" x2="1936.25" y2="2511" stroke="#000" stroke-width="3.2"/>
<text x="1785" y="2547.75" font-size="30" fill="#222" font-weight="bold" text-anchor="middle" textLength="44" lengthAdjust="spacingAndGlyphs" >CP</text>
<text x="1943" y="2547.75" font-size="30" fill="#222" font-weight="bold" text-anchor="middle" textLength="44" lengthAdjust="spacingAndGlyphs" >EC</text>
<text x="1820" y="2201.5" font-size="28" fill="#222" textLength="93.75" lengthAdjust="spacingAndGlyphs"><tspan font-style="italic">p</tspan>=0.24</text>
<line x1="1801.25" y1="2216.5" x2="1936.25" y2="2216.5" stroke="#000" stroke-width="3.6"/>
<text transform="translate(1620,2373) rotate(-90)" font-size="30" fill="#333" text-anchor="middle" textLength="271.7" lengthAdjust="spacingAndGlyphs"><tspan font-style="italic">IL22</tspan> mRNA+ CD69+</text>
<text transform="translate(1659,2361.5) rotate(-90)" font-size="30" fill="#333" text-anchor="middle" textLength="262.3" lengthAdjust="spacingAndGlyphs">in CD4<tspan font-size="17" dy="-13">+</tspan><tspan dy="13"> T cells (%)</tspan></text>
<circle cx="1798.75" cy="2326" r="8.8" fill="#F4894B" stroke="#8E4A2A" stroke-width="1.8"/>
<circle cx="1811.25" cy="2420.25" r="8.8" fill="#F4894B" stroke="#8E4A2A" stroke-width="1.8"/>
<circle cx="1786.25" cy="2432" r="8.8" fill="#F4894B" stroke="#8E4A2A" stroke-width="1.8"/>
<circle cx="1798.75" cy="2459.5" r="8.8" fill="#F4894B" stroke="#8E4A2A" stroke-width="1.8"/>
<circle cx="1833.25" cy="2472.75" r="8.8" fill="#F4894B" stroke="#8E4A2A" stroke-width="1.8"/>
<circle cx="1763.75" cy="2484" r="8.8" fill="#F4894B" stroke="#8E4A2A" stroke-width="1.8"/>
<circle cx="1810" cy="2488.5" r="8.8" fill="#F4894B" stroke="#8E4A2A" stroke-width="1.8"/>
<circle cx="1786.25" cy="2492.75" r="8.8" fill="#F4894B" stroke="#8E4A2A" stroke-width="1.8"/>
<rect x="1930" y="2231.5" width="17.5" height="17.5" fill="#1A95D5" stroke="#1B5E8E" stroke-width="1.4"/>
<rect x="1930" y="2384" width="17.5" height="17.5" fill="#1A95D5" stroke="#1B5E8E" stroke-width="1.4"/>
<rect x="1895" y="2407.25" width="17.5" height="17.5" fill="#1A95D5" stroke="#1B5E8E" stroke-width="1.4"/>
<rect x="1917.5" y="2425.25" width="17.5" height="17.5" fill="#1A95D5" stroke="#1B5E8E" stroke-width="1.4"/>
<rect x="1942.5" y="2430.25" width="17.5" height="17.5" fill="#1A95D5" stroke="#1B5E8E" stroke-width="1.4"/>
<rect x="1963.75" y="2425.25" width="17.5" height="17.5" fill="#1A95D5" stroke="#1B5E8E" stroke-width="1.4"/>
<rect x="1916.75" y="2466.5" width="17.5" height="17.5" fill="#1A95D5" stroke="#1B5E8E" stroke-width="1.4"/>
<rect x="1941.75" y="2462.75" width="17.5" height="17.5" fill="#1A95D5" stroke="#1B5E8E" stroke-width="1.4"/>
<line x1="1753" y1="2466" x2="1844.5" y2="2466" stroke="#000" stroke-width="3.4"/>
<line x1="1892.5" y1="2433.25" x2="1982.5" y2="2433.25" stroke="#000" stroke-width="3.4"/>
<line x1="1798.75" y1="2422.75" x2="1798.75" y2="2487.75" stroke="#000" stroke-width="3.2"/>
<line x1="1776.25" y1="2422.75" x2="1821.25" y2="2422.75" stroke="#000" stroke-width="3.4"/>
<line x1="1776.25" y1="2487.75" x2="1821.25" y2="2487.75" stroke="#000" stroke-width="3.4"/>
<line x1="1938.75" y1="2399.5" x2="1938.75" y2="2462" stroke="#000" stroke-width="3.2"/>
<line x1="1916.25" y1="2399.5" x2="1961.25" y2="2399.5" stroke="#000" stroke-width="3.4"/>
<line x1="1916.25" y1="2462" x2="1961.25" y2="2462" stroke="#000" stroke-width="3.4"/>
</g>
<g id="flow">
<text x="0" y="604.5" font-size="58" font-weight="bold" >b</text>
<text x="1036.7" y="605" font-size="58" font-weight="bold" >c</text>
<text x="316.5" y="623.2" font-size="26.5" fill="#222" font-weight="bold" text-anchor="middle" >No Antigen</text>
<text x="581.6" y="623.2" font-size="26.5" fill="#222" font-weight="bold" text-anchor="middle" >Gag</text>
<text x="859.7" y="623.2" font-size="26.5" fill="#222" font-weight="bold" text-anchor="middle" >SEB</text>
<text x="1293" y="623.2" font-size="26.5" fill="#222" font-weight="bold" text-anchor="middle" >No Antigen</text>
<text x="1580" y="623.2" font-size="26.5" fill="#222" font-weight="bold" text-anchor="middle" >Gag</text>
<text x="1872" y="623.2" font-size="26.5" fill="#222" font-weight="bold" text-anchor="middle" >SEB</text>
<text x="72" y="767.3" font-size="40" fill="#222" font-weight="bold" text-anchor="middle" textLength="56" lengthAdjust="spacingAndGlyphs" >CP</text>
<text x="72" y="1078" font-size="40" fill="#222" font-weight="bold" text-anchor="middle" textLength="56" lengthAdjust="spacingAndGlyphs" >EC</text>
<path d="M137.8 927.3V648M466 1206.3H952M1115.9 937V645M1415.4 1210.8H1965" stroke="#111" stroke-width="2.2" fill="none"/>
<path d="M137.8 623.5L127 650L148.6 650ZM980 1206.3L950 1194.5L950 1218.1ZM1115.9 620.7L1103.5 647L1128.3 647ZM1995.7 1210.8L1963.6 1198L1963.6 1223.6Z" fill="#111"/>
<text transform="translate(145.6,1072.7) rotate(-90)" font-size="27.5" fill="#222" text-anchor="middle" textLength="183" lengthAdjust="spacingAndGlyphs" >CD69-BUV395</text>
<text transform="translate(1125.5,1077.3) rotate(-90)" font-size="28.5" fill="#222" text-anchor="middle" textLength="185" lengthAdjust="spacingAndGlyphs" >CD69-BUV395</text>
<text x="162.4" y="1218.3" font-size="29" fill="#222" textLength="288.6" lengthAdjust="spacingAndGlyphs"><tspan font-style="italic">CXCL13</tspan> mRNA-AF647</text>
<text x="1147.6" y="1222" font-size="30" fill="#222" textLength="236" lengthAdjust="spacingAndGlyphs"><tspan font-style="italic">IL22</tspan> mRNA-AF647</text>
<g transform="translate(184.8,642)">
<path d="M-5 22.8h5M-5 78.8h5M-5 138.8h5M-5 199.9h5M51.8 242v5M103.6 242v5M165.5 242v5M218.2 242v5" stroke="#111" stroke-width="1.6" fill="none"/>
<path d="M-2.5 61.94h2.5M-2.5 52.08h2.5M-2.5 45.08h2.5M-2.5 39.66h2.5M-2.5 35.22h2.5M-2.5 31.47h2.5M-2.5 28.23h2.5M-2.5 25.36h2.5M-2.5 120.74h2.5M-2.5 110.17h2.5M-2.5 102.68h2.5M-2.5 96.86h2.5M-2.5 92.11h2.5M-2.5 88.09h2.5M-2.5 84.61h2.5M-2.5 81.55h2.5M-2.5 181.51h2.5M-2.5 170.75h2.5M-2.5 163.11h2.5M-2.5 157.19h2.5M-2.5 152.35h2.5M-2.5 148.26h2.5M-2.5 144.72h2.5M-2.5 141.6h2.5M122.23 242v2.5M133.13 242v2.5M140.87 242v2.5M146.87 242v2.5M151.77 242v2.5M155.91 242v2.5M159.5 242v2.5M162.67 242v2.5M181.36 242v2.5M190.64 242v2.5M197.23 242v2.5M202.34 242v2.5M206.51 242v2.5M210.04 242v2.5M213.09 242v2.5M215.79 242v2.5M-3 240.63h3M17.27 242v3M-3 220.27h3M34.53 242v3M-3 179.53h3M69.07 242v3M-3 159.17h3M86.33 242v3" stroke="#222" stroke-width="1" fill="none"/>
<path d="M-5 190h5M41.9 242v5M-5 192.2h5M44.1 242v5M-5 194.4h5M46.3 242v5M-5 195.5h5M47.4 242v5M-5 197.7h5M49.6 242v5M-5 198.8h5M50.7 242v5M-5 199.9h5M51.8 242v5M-5 201h5M52.9 242v5M-5 203.2h5M55.1 242v5M-5 204.3h5M56.2 242v5M-5 206.5h5M58.4 242v5M-5 208.7h5M60.6 242v5" stroke="#000" stroke-width="1" fill="none"/>
<text x="-8" y="25.8" font-size="8.5" fill="#333" text-anchor="end">10⁵</text>
<text x="-8" y="81.8" font-size="8.5" fill="#333" text-anchor="end">10⁴</text>
<text x="-8" y="141.8" font-size="8.5" fill="#333" text-anchor="end">10³</text>
<text x="-8" y="202.9" font-size="8.5" fill="#333" text-anchor="end">0</text>
<text x="51.8" y="258" font-size="8.5" fill="#333" text-anchor="middle">0</text>
<text x="103.6" y="258" font-size="8.5" fill="#333" text-anchor="middle">10³</text>
<text x="165.5" y="258" font-size="8.5" fill="#333" text-anchor="middle">10⁴</text>
<text x="218.2" y="258" font-size="8.5" fill="#333" text-anchor="middle">10⁵</text>
<path d="M43 104C46.5 105.67 51 112.43 54 120C57 127.57 58.83 138.83 61 149.4C63.17 159.97 66.67 174.07 67 183.4C67.33 192.73 67.5 200.88 63 205.4C58.5 209.92 48.33 210.22 40 210.5C31.67 210.78 18.33 210.78 13 207.1C7.67 203.42 7.33 196.6 8 188.4C8.67 180.2 14.5 168.3 17 157.9C19.5 147.5 20.33 133.98 23 126C25.67 118.02 29.67 113.67 33 110C36.33 106.33 39.5 102.33 43 104Z" fill="#000"/>
<path d="M30.5 118h0M24 139.5h0M57.5 141h0M58.5 200h0M52 131h0M43 113h0M51.5 121.5h0M55.5 150.5h0M18.5 159h0M13.5 185.5h0M20.5 150.5h0M65 178h0M57.5 142.5h0M37.5 109.5h0M24.5 143.5h0M34 114h0M43 110h0M61 201.5h0M11.5 192.5h0M18.5 167.5h0M30.5 122.5h0M25 203h0M59.5 204.5h0M39.5 108h0M24.5 149.5h0M41.5 110.5h0M28.5 123h0M11 186h0M64 192h0M58.5 165.5h0M19 156.5h0M33 117h0M35.5 112.5h0M59.5 148h0M14.5 205h0M31.5 204.5h0M53 204h0M24 152h0M34.5 118h0M15 169.5h0M16 177h0M12 178.5h0M11 188.5h0M25 205.5h0M58.5 168h0M21.5 155.5h0M55 133h0M12 189.5h0M59.5 203.5h0M18.5 206h0M11.5 190h0M39 205h0M41 112h0M59 165.5h0M44 107.5h0M37.5 113.5h0M63.5 183.5h0M60.5 175.5h0M56.5 205h0M13.5 202.5h0M42.5 110.5h0M14.5 174.5h0M65.5 185.5h0M25.5 205h0M47 203h0M34.5 204.5h0M55.5 204h0M54 147h0M61 200.5h0M58 203.5h0M57.5 155h0M22.5 145.5h0M59 195.5h0M56 142h0M17 202h0M24.5 138h0M23 155.5h0M13.5 195h0M17 168.5h0M62 189.5h0M56 139.5h0M62.5 169h0M61 193h0M60.5 176h0M42.5 207.5h0M53.5 141.5h0M53 136.5h0M59.5 169h0M58.5 153.5h0M24.5 150h0M25 203.5h0M58 154h0M53 206h0M26 131h0M13.5 206h0M20.5 202.5h0M60.5 204.5h0M59 153.5h0M13.5 194h0M50.5 122.5h0M22 154h0M49 119h0M19.5 164.5h0M58.5 202h0M13.5 181h0M15.5 203h0M52.5 136.5h0M24 207.5h0M52.5 121h0M61 165.5h0M61.5 202h0M60.5 178h0M10.5 186h0M40.5 107h0M62 195.5h0M58 161.5h0M18 175h0M60 192.5h0M25.5 204.5h0M54 125h0M21.5 142.5h0M58 157h0M43 204.5h0M64 178.5h0M25 147.5h0M15.5 202.5h0M14 196.5h0M20 162.5h0M63 169h0M50.5 118h0M25.5 143h0M64.5 184.5h0M20.5 146.5h0M35 111.5h0M14 193h0M53.5 129h0M23.5 135.5h0M60.5 167h0" stroke="#fff" stroke-width="1.3" stroke-linecap="square" fill="none"/>
<path d="M58 138h0M21.5 138h0M2.5 155h0M63.5 167.5h0M34.5 210h0M46 208.5h0M8 186h0M10.5 152h0M55.5 126h0M47 111h0M21 142h0M56 220.5h0M14.5 159h0M42.5 103h0M49 216.5h0M2 168.5h0M63 162h0M20.5 106h0M22.5 120.5h0M48 111h0M46.5 108.5h0M24 208h0M19 107h0M66 203.5h0M71.5 156.5h0M56 207.5h0M48.5 111.5h0M69.5 158h0M51 208.5h0M35 212h0M63 161h0M63 160.5h0M64 157h0M44.5 209h0M66.5 179h0M48.5 109h0M21 139.5h0M20.5 212.5h0M65.5 151.5h0M38 101h0M22 133.5h0M64.5 130.5h0M73 189.5h0M6 169.5h0M13 171h0M27 111h0M55.5 212.5h0M17 142h0M8 184.5h0M70 181.5h0M13 206.5h0M12.5 124h0M19 136.5h0M32.5 215.5h0M12 205.5h0M47.5 110h0M66.5 164.5h0M16 151.5h0M58.5 207h0M59.5 146h0M21 213.5h0M11.5 174h0M9.5 184h0M65.5 201h0M51.5 210.5h0M31 212.5h0M17.5 155h0M29.5 210.5h0M62.5 206.5h0M34.5 217h0M48 113h0M11 173h0M40 106h0M6 206h0M62 209h0M61 146.5h0M33 213.5h0M37 100.5h0M7 155h0M25 208.5h0M22 133h0M67 160h0M29.5 212h0M32 110.5h0M12.5 206.5h0M43.5 209h0M70 172h0M20 208h0M26.5 102h0M48 104h0M15 152.5h0M19 142h0M11.5 124.5h0M10.5 164h0M19.5 147.5h0M28 208.5h0M18 218h0M55 209.5h0M50.5 116h0M22.5 129.5h0M17 206.5h0M62.5 152h0M32.5 212h0M39 215.5h0M65 196h0M65.5 193.5h0M23.5 208.5h0M5.5 195.5h0M44.5 211h0M51 108h0M63.5 161h0M60.5 149h0M13 204.5h0M20.5 131h0M15 147h0M19 150h0M17.5 145.5h0M65.5 168h0M18.5 140h0M8.5 182.5h0M55 122.5h0M49.5 106h0M46.5 107h0M15 162h0M63 166.5h0M59 131h0M5 196.5h0M79.5 195h0M58 116h0M63.5 144.5h0M28.5 209.5h0M62.5 145h0M65.5 171.5h0M12 172.5h0M45.5 210h0M68.5 188h0M42 217h0M48.5 109.5h0M65.5 205h0M56.5 209.5h0M64 151h0M65 129h0M20.5 119.5h0M30.5 214.5h0M62.5 155.5h0M7.5 199.5h0M17.5 146h0M50.5 105.5h0M45.5 106h0M60.5 140.5h0M12 171h0M62 141h0M11 172.5h0M7 181h0M21.5 211.5h0M62.5 158.5h0M33 102h0M19.5 149h0M30.5 211h0M64.5 161h0M8.5 188.5h0M13.5 207.5h0M66.5 186.5h0M9.5 192.5h0M56.5 113h0M66.5 182h0M35 105h0M23.5 128h0M69 181.5h0M21 132.5h0M71.5 183h0M27.5 114h0M4 161h0M57.5 214.5h0M66.5 166.5h0M45 104h0M23 127.5h0M50 113h0M20 143.5h0M32 106.5h0M16 207h0M61.5 144.5h0M37 105h0M11.5 176.5h0M30.5 212.5h0M74 204h0M65.5 194.5h0M61.5 156.5h0M10.5 183h0M53 209h0M61 151.5h0M61 127.5h0M7 185h0M69.5 178.5h0M32.5 211.5h0M83.5 189h0M18 128h0M24 123.5h0M48.5 108.5h0M63 155.5h0M70.5 187.5h0M34.5 100.5h0M18.5 153.5h0M65 190.5h0M62 157.5h0M5 179h0M21 141h0M24 114.5h0M65.5 191h0M23 129.5h0M8.5 177.5h0M37 213h0M38 104h0M66 164.5h0M11 169h0M54.5 125.5h0M62 145h0M24.5 119h0M63.5 155.5h0M15.5 160.5h0M11.5 200h0M20 137.5h0M67.5 200.5h0M69 193h0M66.5 180h0M22.5 130h0M5.5 201h0M32.5 112.5h0M18 125.5h0M59 138.5h0M20.5 207h0M56.5 127h0M60 117h0M20 133h0M13 153.5h0M21 142.5h0M69 191.5h0M10.5 196.5h0M13.5 152h0M64 201.5h0M15 207.5h0M63 159.5h0M59.5 123.5h0M66.5 170h0M21 124h0M14.5 222h0M24.5 114h0M70.5 173h0M18 143h0M45.5 106.5h0M10.5 182.5h0M57.5 124h0M41 108h0M37 113.5h0M33 100h0M53.5 116h0M39.5 107h0M63 110.5h0M25.5 102.5h0M62 89.5h0M50.5 81h0M55.5 92.5h0M49.5 108h0M20.5 87h0M45.5 86.5h0M43 91.5h0M53.5 95.5h0M35.5 106h0M53 98.5h0M45 104.5h0M39 89.5h0M47.5 97h0M32 107.5h0M46.5 101.5h0M37 98h0M48 104.5h0M36.5 92h0M45.5 101.5h0M50 89.5h0M50.5 101h0M50 88.5h0M39.5 118.5h0M30 89.5h0M49.5 94h0M38.5 90h0M56.5 94.5h0M41 83.5h0M49 100h0M47 114h0M44 89.5h0M35 100.5h0M53.5 89h0M41 98.5h0M48.5 92h0M45.5 107h0M42.5 99h0M48 105h0M53 90.5h0M53 98h0M34 95h0M33 98h0M51.5 80h0M33.5 107h0M40.5 107h0M32.5 99.5h0M22 92.5h0M49 111h0M56 99.5h0M36 96.5h0M27.5 112h0M52.5 92h0M57.5 88h0M47.5 92.5h0M29 103.5h0M33.5 110.5h0M36 101h0M39 101h0M38 107.5h0M48 100.5h0M42 117.5h0M37.5 96h0M30 98.5h0M40 91h0M44.5 90h0M41 90h0M55.5 97.5h0M46.5 102.5h0M48.5 98.5h0M49 101h0M23.5 103h0M32.5 108.5h0M44.5 96.5h0M23 81h0M33.5 96.5h0M32 118h0M46.5 99h0M35 97h0M41 96h0M42.5 107h0M29 102h0M52 87.5h0M41.5 96.5h0M34 108.5h0M40.5 110.5h0M46.5 97.5h0M45.5 96.5h0M30 113h0M46 110.5h0M28.5 109.5h0M49.5 99.5h0M26 101h0M37.5 98.5h0M43.5 92h0M42 100h0M54.5 99h0M42 111h0M30.5 105.5h0M46 94.5h0M41 114h0M39.5 102.5h0M46.5 111h0M26.5 86.5h0M32.5 97.5h0M48 107.5h0M40.5 113.5h0M42.5 106h0M37 107.5h0M37 110.5h0M50 117h0M39.5 89.5h0M49.5 103h0M39 88h0M49.5 82.5h0M39.5 109.5h0M41 104h0M47 105.5h0M51.5 106h0M40 89h0M40.5 94h0M46 111h0M49.5 93.5h0M44.5 100h0M39 111.5h0M48 103.5h0M33 76.5h0M41.5 100h0M41 104.5h0M43 115.5h0M42 97.5h0M54.5 107h0M48.5 104.5h0M47.5 101h0M28 112.5h0M39 95h0M40.5 93.5h0M36 99h0M50 97.5h0M47 88h0M49 90h0M48.5 93.5h0M38 88.5h0M35 98h0M52 92.5h0M40.5 99h0M38 99.5h0M45 109.5h0M35.5 83h0M40.5 96h0M33 86.5h0M49 90.5h0M35.5 75.5h0M25.5 80h0M39.5 71.5h0M49.5 86.5h0M40 80h0M46.5 82.5h0M46.5 80.5h0M51.5 70.5h0M32.5 101h0M51.5 100h0M35 91.5h0M51 93h0M40.5 98h0M45.5 73.5h0M64 86h0M53.5 79h0M33.5 93h0M49.5 78.5h0M44 73h0M23.5 95h0M31.5 91.5h0M51.5 88.5h0M55.5 88.5h0M44.5 85h0M46 88h0M33.5 84.5h0M38.5 110.5h0M53 78h0M47.5 69h0M42.5 101.5h0M42.5 96.5h0M38.5 89h0M45.5 65h0M35 102h0M34.5 96h0M57.5 84.5h0M51 88.5h0M36.5 90.5h0M46 76h0M38 73h0M39 84.5h0M142 198h0M99.5 193.5h0M126.5 188h0M145.5 199.5h0M87 198h0M117.5 197h0M100 195h0M93.5 188h0M167.5 194h0M151.5 190.5h0M125 191h0M150.5 195h0M101.5 190h0M131 192.5h0M43.5 46.5h0M48 66h0M38 70h0M56 66h0M30 80h0" stroke="#000" stroke-width="1.9" stroke-linecap="square" fill="none"/>
<path d="M42 165.5C45.33 165.5 48.67 168.75 51 172C53.33 175.25 55.83 180.5 56 185C56.17 189.5 54.67 196.17 52 199C49.33 201.83 44 202 40 202C36 202 30.67 201.67 28 199C25.33 196.33 23.5 190.5 24 186C24.5 181.5 28 175.42 31 172C34 168.58 38.67 165.5 42 165.5Z" fill="#a4a4a4" stroke="#e4e4e4" stroke-width="1.6"/>
<path d="M44.9 202.0L35.7 202.1L29.7 200.4L26.3 197.0L23.9 190.0L24.3 183.8L28.8 174.8L33.7 169.4L36.7 167.4L40.9 165.8L45.4 166.7L50.2 171.0L54.3 177.8L56.1 184.5L55.6 191.0L53.1 197.8L50.4 200.3ZM44.7 201.8L35.7 201.8L29.7 200.0L26.7 196.9L24.2 189.8L24.9 182.9L29.2 174.8L34.0 169.8L40.9 166.5L45.4 167.5L49.9 171.4L53.9 177.8L55.8 184.8L55.3 191.0L52.7 197.8L49.4 200.5ZM44.4 201.5L35.7 201.5L30.0 199.8L26.9 196.6L24.6 189.8L25.2 183.4L29.2 175.7L34.4 170.6L41.2 167.8L45.4 169.0L50.7 173.7L53.9 179.1L55.4 184.8L54.9 191.0L52.4 197.5L49.1 200.2ZM44.4 201.0L35.9 201.0L30.7 199.2L27.4 195.8L25.4 189.5L26.1 183.0L29.7 176.7L35.2 171.7L41.4 169.4L45.9 171.1L49.7 174.5L53.1 179.8L54.6 185.2L54.1 191.2L51.9 196.8L48.9 199.5ZM42.7 200.3L36.2 200.1L30.9 198.0L27.9 194.2L26.5 188.8L27.4 182.8L30.8 177.2L35.9 173.0L41.7 171.2L45.2 172.6L49.7 176.7L52.4 181.2L53.5 186.2L52.8 192.0L50.7 196.5L47.4 199.0ZM40.2 199.3L34.8 198.5L30.8 196.2L28.4 192.0L27.7 187.0L29.3 181.8L32.4 177.5L36.9 174.3L41.7 172.9L45.7 175.0L49.7 179.1L51.7 183.5L52.2 188.2L51.1 193.0L48.9 196.5L45.3 198.5ZM40.4 198.0L36.2 197.6L31.9 195.5L29.7 191.8L29.1 187.2L30.3 182.8L33.0 179.0L36.9 176.1L41.4 174.7L45.2 176.6L48.4 179.9L50.4 183.8L50.9 188.0L50.0 192.2L48.0 195.5L44.2 197.5ZM42.2 196.5L37.2 196.4L33.4 194.8L31.4 192.2L30.5 188.5L31.2 184.3L33.7 180.4L37.2 177.7L41.2 176.4L44.2 177.8L46.8 180.2L48.6 183.2L49.4 186.2L49.1 190.2L47.5 194.0L45.4 195.5ZM42.2 195.0L37.9 195.0L34.4 193.6L32.9 191.8L32.0 188.5L32.4 185.2L34.3 182.0L37.4 179.4L40.9 178.2L45.6 181.2L47.9 186.5L47.7 189.8L46.5 192.8ZM41.2 193.5L37.9 193.4L35.4 192.2L34.2 190.8L33.6 188.2L34.0 185.8L35.4 183.2L37.7 181.2L40.7 180.0L44.7 182.8L46.3 187.2L45.2 191.8ZM41.2 191.5L36.7 190.8L35.4 188.0L36.9 184.3L40.7 182.0L43.3 184.0L44.5 187.2L43.9 190.2ZM41.2 189.6L38.6 189.5L37.2 188.2L38.1 185.5L40.4 183.9L42.0 185.0L42.7 187.0L42.5 188.8Z" fill="none" stroke="#4a4a4a" stroke-width="0.9"/>
<ellipse cx="40" cy="188" rx="3.5" ry="2" fill="#f2f2f2"/>
<path d="M80.7 6.4L235.5 6.4L236 168.4L112.9 170.1L82.3 148.5Z" fill="none" stroke="#D63F5C" stroke-width="2"/>
<text x="214.8" y="222.3" font-size="19.5" fill="#DA4763" text-anchor="end">5.95E-4</text>
<rect x="0" y="0" width="242.8" height="242" fill="none" stroke="#111" stroke-width="2.2"/>
</g>
<g transform="translate(461.7,641.9)">
<path d="M-5 22.8h5M-5 78.8h5M-5 138.8h5M-5 199.9h5M51.8 242.3v5M103.6 242.3v5M165.5 242.3v5M218.2 242.3v5" stroke="#111" stroke-width="1.6" fill="none"/>
<path d="M-2.5 61.94h2.5M-2.5 52.08h2.5M-2.5 45.08h2.5M-2.5 39.66h2.5M-2.5 35.22h2.5M-2.5 31.47h2.5M-2.5 28.23h2.5M-2.5 25.36h2.5M-2.5 120.74h2.5M-2.5 110.17h2.5M-2.5 102.68h2.5M-2.5 96.86h2.5M-2.5 92.11h2.5M-2.5 88.09h2.5M-2.5 84.61h2.5M-2.5 81.55h2.5M-2.5 181.51h2.5M-2.5 170.75h2.5M-2.5 163.11h2.5M-2.5 157.19h2.5M-2.5 152.35h2.5M-2.5 148.26h2.5M-2.5 144.72h2.5M-2.5 141.6h2.5M122.23 242.3v2.5M133.13 242.3v2.5M140.87 242.3v2.5M146.87 242.3v2.5M151.77 242.3v2.5M155.91 242.3v2.5M159.5 242.3v2.5M162.67 242.3v2.5M181.36 242.3v2.5M190.64 242.3v2.5M197.23 242.3v2.5M202.34 242.3v2.5M206.51 242.3v2.5M210.04 242.3v2.5M213.09 242.3v2.5M215.79 242.3v2.5M-3 240.63h3M17.27 242.3v3M-3 220.27h3M34.53 242.3v3M-3 179.53h3M69.07 242.3v3M-3 159.17h3M86.33 242.3v3" stroke="#222" stroke-width="1" fill="none"/>
<path d="M-5 190h5M41.9 242.3v5M-5 192.2h5M44.1 242.3v5M-5 194.4h5M46.3 242.3v5M-5 195.5h5M47.4 242.3v5M-5 197.7h5M49.6 242.3v5M-5 198.8h5M50.7 242.3v5M-5 199.9h5M51.8 242.3v5M-5 201h5M52.9 242.3v5M-5 203.2h5M55.1 242.3v5M-5 204.3h5M56.2 242.3v5M-5 206.5h5M58.4 242.3v5M-5 208.7h5M60.6 242.3v5" stroke="#000" stroke-width="1" fill="none"/>
<text x="-8" y="25.8" font-size="8.5" fill="#333" text-anchor="end">10⁵</text>
<text x="-8" y="81.8" font-size="8.5" fill="#333" text-anchor="end">10⁴</text>
<text x="-8" y="141.8" font-size="8.5" fill="#333" text-anchor="end">10³</text>
<text x="-8" y="202.9" font-size="8.5" fill="#333" text-anchor="end">0</text>
<text x="51.8" y="258.3" font-size="8.5" fill="#333" text-anchor="middle">0</text>
<text x="103.6" y="258.3" font-size="8.5" fill="#333" text-anchor="middle">10³</text>
<text x="165.5" y="258.3" font-size="8.5" fill="#333" text-anchor="middle">10⁴</text>
<text x="218.2" y="258.3" font-size="8.5" fill="#333" text-anchor="middle">10⁵</text>
<path d="M49.6 57.7C54.42 59.12 63.07 61.97 66.6 73C70.13 84.03 69.1 106.92 70.8 123.9C72.5 140.88 76.37 162.17 76.8 174.9C77.23 187.63 78.5 194.08 73.4 200.3C68.3 206.52 56.95 212.2 46.2 212.2C35.45 212.2 14.83 206.52 8.9 200.3C2.97 194.08 9.18 187.63 10.6 174.9C12.02 162.17 14.3 139.47 17.4 123.9C20.5 108.33 25.82 91.4 29.2 81.5C32.58 71.6 34.3 68.47 37.7 64.5C41.1 60.53 44.78 56.28 49.6 57.7Z" fill="#000"/>
<path d="M39 66h0M71.5 197.5h0M50 62h0M32 202h0M14 175h0M71 140.5h0M17.5 143.5h0M66.5 123.5h0M32 85.5h0M58.5 205.5h0M40.5 70.5h0M12 191h0M15 150h0M67 127h0M30.5 94h0M48.5 63h0M68 106h0M12.5 200.5h0M65 110.5h0M29.5 94h0M25.5 99h0M33 83h0M17.5 134h0M71 193.5h0M14.5 184.5h0M64.5 74h0M65 90h0M22 199.5h0M17 144h0M71 160h0M52.5 62h0M59 72.5h0M74.5 173h0M72 188h0M34.5 85.5h0M17 163h0M28 93h0M20.5 139h0M15.5 159h0M19.5 136h0M69.5 133h0M17.5 137.5h0M13.5 195.5h0M13 180h0M42.5 209h0M56.5 202h0M24 106.5h0M21 123h0M69 122h0M25 101h0M28 200h0M63 73.5h0M21.5 126h0M27.5 93.5h0M62 202h0M64 203h0M69 151.5h0M69.5 122.5h0M30 201h0M59.5 200h0M12.5 176.5h0M13 175h0M69 122.5h0M17.5 133h0M56 204h0M71 197.5h0M65 119.5h0M13 192.5h0M13.5 166.5h0M20 129h0M22 115h0M75 180h0M25 202.5h0M14.5 191h0M73 194.5h0M48.5 64.5h0M19.5 149h0M33.5 88h0M48 207h0M33 79.5h0M60.5 74h0M11 199h0M70 197h0M15.5 182h0M72 183.5h0M18.5 152.5h0M69 126h0M69.5 157.5h0M70 200h0M67.5 200h0M67.5 198.5h0M39.5 74h0M36 207.5h0M19.5 201h0M64 98.5h0M30 204.5h0M18.5 136.5h0M15 158h0M42 69.5h0M14 197.5h0M31 98h0M45.5 66h0M41.5 65.5h0M67 93h0M16 168.5h0M65.5 109.5h0M71.5 149.5h0M17.5 130.5h0M27.5 96h0M14.5 199.5h0M72 169.5h0M47 208h0M71 165h0M71.5 149h0M65.5 127h0M38.5 70.5h0M37.5 77.5h0M66.5 119.5h0M27 106.5h0M20.5 141.5h0M20 150.5h0M68.5 145.5h0M31 201.5h0M22.5 117.5h0M35 75.5h0M71 174h0M72.5 187.5h0M69 200h0M46 61.5h0M41.5 67.5h0M26.5 112h0M13.5 175h0M18 131.5h0M27.5 105.5h0M66.5 130.5h0M13 186.5h0M46 63.5h0" stroke="#fff" stroke-width="1.3" stroke-linecap="square" fill="none"/>
<path d="M37 65h0M35.5 70h0M63.5 71.5h0M74.5 83h0M18.5 110h0M14 146.5h0M8.5 169h0M76.5 164.5h0M10 193.5h0M11.5 200.5h0M73 108h0M67 210.5h0M77 196.5h0M45.5 57.5h0M33.5 70.5h0M22.5 207h0M59.5 206h0M75 149.5h0M63 65.5h0M59.5 62h0M57.5 218.5h0M80 168.5h0M78.5 193.5h0M27.5 88.5h0M30.5 208h0M14.5 215h0M71.5 138h0M79 172h0M68 103h0M35.5 212.5h0M47 51h0M12.5 167h0M74.5 116.5h0M24 87h0M18 122h0M15 146h0M27.5 84.5h0M14 135.5h0M17.5 124h0M75.5 179.5h0M44 59.5h0M35.5 63h0M71 111h0M15 140h0M12 155h0M52.5 208.5h0M29 206.5h0M43 216h0M29 75h0M39.5 216.5h0M21.5 111h0M77 181h0M27 92h0M17.5 83.5h0M55 210h0M14.5 203h0M30.5 78h0M12.5 150h0M44.5 219.5h0M77 131.5h0M79 171.5h0M10 159h0M75 110h0M26 83h0M75.5 151h0M25 80h0M76 164h0M35 67h0M13 155h0M38 209h0M34.5 209h0M10 178.5h0M10 202h0M76.5 165h0M78.5 128.5h0M35.5 210h0M25 71h0M10.5 188.5h0M67 79h0M19 115h0M9.5 149.5h0M24.5 81.5h0M71.5 122.5h0M14.5 140.5h0M71.5 66.5h0M7.5 174.5h0M78 152.5h0M78.5 135.5h0M22.5 92h0M68 90h0M32 210.5h0M22.5 103.5h0M83 139.5h0M73 130h0M27 91h0M68.5 202h0M13 153h0M65 61h0M79.5 185h0M71.5 113h0M6 168.5h0M67.5 81.5h0M36.5 68.5h0M61 57h0M14.5 149h0M55 63h0M73 144.5h0M19 118h0M72 108h0M71 119.5h0M13 163.5h0M80 194h0M63.5 64.5h0M47 57.5h0M70 107.5h0M61 65h0M96 180.5h0M8.5 190h0M14.5 142h0M70.5 92.5h0M78 177.5h0M69 55.5h0M59 208h0M14 136h0M15.5 142h0M29 83.5h0M12.5 136h0M24.5 100.5h0M8 158h0M50 210h0M71.5 132.5h0M87.5 167h0M67 90h0M58.5 207h0M23 96h0M70 96h0M8.5 200h0M79 197h0M33 211h0M68.5 103.5h0M37 67.5h0M72.5 145.5h0M10 195h0M68 203.5h0M59.5 59h0M18.5 207h0M76.5 100.5h0M66 73h0M59.5 63.5h0M70.5 109.5h0M68.5 85.5h0M9.5 181.5h0M36 214h0M43 60h0M30 70.5h0M48.5 58.5h0M75.5 137h0M59 205.5h0M72.5 142.5h0M7 198.5h0M7.5 186h0M15 121h0M14 154.5h0M78.5 146.5h0M69.5 204.5h0M32.5 207.5h0M53 57h0M60.5 68h0M75.5 213h0M69 90.5h0M76 138.5h0M75 87h0M71 117.5h0M75.5 135.5h0M74 129h0M33 211.5h0M57 215.5h0M76 165.5h0M9.5 180.5h0M79 127h0M25 81.5h0M33.5 63h0M13 148.5h0M64.5 205.5h0M36.5 209h0M12 201h0M64.5 68.5h0M68 202h0M31 213.5h0M72.5 118h0M74 85.5h0M17.5 122h0M80.5 186h0M32.5 207h0M30.5 79h0M9 193h0M78 157h0M43.5 60h0M80.5 187.5h0M55 60h0M12.5 164h0M68.5 86h0M78 165.5h0M19.5 106.5h0M7 167h0M53 61.5h0M60 218h0M70.5 201.5h0M43 218h0M74.5 127.5h0M9 201.5h0M66.5 78.5h0M74 156.5h0M75.5 188.5h0M22.5 69h0M68.5 78h0M15.5 139.5h0M72.5 123h0M13.5 201h0M77 194.5h0M55 212h0M13.5 140.5h0M75.5 197h0M73 95.5h0M72 96h0M67 78.5h0M21.5 105h0M10.5 181.5h0M36 64.5h0M10 159.5h0M56 64.5h0M11.5 173.5h0M15.5 131.5h0M13.5 149.5h0M39 211h0M76.5 182.5h0M58 215.5h0M18.5 121.5h0M74.5 152h0M29 209.5h0M51 217.5h0M25.5 64h0M18.5 119h0M33.5 75h0M81 158h0M74 136.5h0M44.5 212.5h0M78 145h0M64.5 203h0M27.5 79h0M9.5 208h0M20 114.5h0M74.5 85h0M154 113.5h0M136.5 114.5h0M145.5 129h0M168.5 118.5h0M124.5 118h0M139.5 113.5h0M115 115.5h0M100.5 139.5h0M161.5 131h0M121.5 122h0M175 114.5h0M118.5 116h0M89.5 134h0M154.5 94.5h0M161 137.5h0M159.5 129.5h0M181 122h0M178 114.5h0M127.5 112.5h0M119 124.5h0M127 124.5h0M151.5 146h0M186.5 108.5h0M140 115h0M129 149h0M174 114.5h0M111 107h0M144.5 145h0M113 142.5h0M109.5 124h0M116 110.5h0M86.5 128h0M145 100.5h0M93 117h0M143.5 93.5h0M155.5 116h0M116.5 104.5h0M85 130.5h0M167.5 114.5h0M113.5 98.5h0M136.5 103h0M150.5 103h0M165.5 138h0M129.5 104h0M72.5 118.5h0M153 102h0M170.5 106.5h0M115.5 132h0M154.5 82.5h0M127 96h0M138.5 121h0M132.5 120.5h0M165.5 112.5h0M113 101h0M163.5 147h0M139.5 124h0M124.5 108h0M166.5 109h0M148 120h0M171.5 122h0M142.5 112.5h0M131 135h0M195 91h0M168 101h0M129 112.5h0M133 111.5h0M129 148h0M109 106.5h0M125 121h0M112.5 117.5h0M146.5 151h0M159 116.5h0M146 149h0M141 106h0M129 111.5h0M165 101h0M130 117.5h0M121.5 128.5h0M134 126h0M156 143h0M185 103h0M112 98h0M155 126.5h0M143.5 117h0M180 133h0M149 128.5h0M108 138h0M193 120.5h0M133.5 139h0M132 119.5h0M158.5 115.5h0M160.5 85h0M85.5 130.5h0M156.5 121.5h0M134.5 118.5h0M154.5 98.5h0M150 104.5h0M193.5 124h0M150.5 135h0M166.5 134h0M128.5 120.5h0M165 122h0M147 108.5h0M148.5 141.5h0M115.5 95h0M115.5 92h0M174.5 150h0M156 119.5h0M177 136h0M90 117h0M202.5 111.5h0M127 107.5h0M181.5 110.5h0M154 138.5h0M148.5 118.5h0M119.5 97h0M170 96h0M169.5 139h0M180 115h0M124 119.5h0M175 127.5h0M166 85h0M116 144.5h0M155.5 130h0M99 104h0M134 116.5h0M172.5 108.5h0M147 106h0M138.5 124.5h0M154 135h0M114 131h0M155 104.5h0M175 107h0M135.5 127h0M178 111h0M179 125h0M126 130.5h0M145.5 106h0M140.5 139h0M152.5 114h0M163.5 94.5h0M159.5 140.5h0M116.5 99.5h0M123.5 114.5h0M126.5 118h0M120.5 123h0M157.5 125.5h0M130.5 132h0M107.5 107h0M142.5 139.5h0M135 128.5h0M183 151h0M185 105h0M150.5 126.5h0M160 127h0M141.5 119h0M111.5 130h0M152 108.5h0M186.5 118.5h0M129 128h0M154.5 129h0M142 131h0M147 138.5h0M152 104.5h0M120 128h0M166.5 93.5h0M158.5 117h0M151 104.5h0M118 108.5h0M125 111h0M146.5 119h0M189 102.5h0M134 120h0M159 101h0M110.5 122.5h0M153 128h0M159.5 92.5h0M169.5 116h0M193.5 111.5h0M93.5 116.5h0M149 123.5h0M149 109.5h0M105 115.5h0M136.5 107h0M145.5 113h0M96.5 104h0M124.5 114h0M182.5 117.5h0M157 83h0M173 109h0M157 100h0M143.5 131.5h0M143.5 122h0M126.5 106h0M150.5 115h0M147.5 107h0M135 130.5h0M177.5 111.5h0M129 120h0M166 123h0M169.5 115h0M121.5 86.5h0M164 122.5h0M129 124h0M117 135h0M168.5 137.5h0M134 142h0M163.5 144.5h0M104.5 133.5h0M175 113.5h0M166.5 120h0M178.5 114.5h0M145.5 98.5h0M192.5 104.5h0M119.5 103h0M154.5 144h0M167.5 94h0M148.5 115h0M162 120.5h0M175.5 120.5h0M190.5 102.5h0M172 133.5h0M127.5 96h0M129 124.5h0M183 94h0M137.5 97h0M163 121h0M145 130.5h0M151.5 142.5h0M137.5 108.5h0M144.5 117.5h0M174.5 112h0M132 107h0M126.5 85.5h0M147.5 126.5h0M148.5 105.5h0M166 130h0M150.5 129h0M142 125h0M157 98h0M132.5 106.5h0M153.5 75h0M151 118h0M140 125h0M109.5 122h0M126.5 108h0M176.5 112.5h0M169.5 117.5h0M137.5 112h0M110.5 112.5h0M147.5 141.5h0M162 132h0M122.5 106h0M153 127h0M119.5 135.5h0M129.5 122.5h0M133 130.5h0M165 135.5h0M123 120.5h0M197 118.5h0M155.5 120.5h0M132.5 147h0M181.5 107h0M156.5 149.5h0M155.5 119.5h0M167.5 132h0M116 105h0M182 109h0M143.5 107.5h0M189.5 97.5h0M148.5 112h0M137.5 98h0M125.5 115h0M150.5 87.5h0M146.5 103.5h0M143 111h0M141.5 114h0M155.5 118.5h0M104.5 78h0M110 123h0M104.5 101h0M187.5 112h0M139.5 123.5h0M159 109.5h0M146.5 84h0M152 127.5h0M103 133.5h0M189 75h0M139 141.5h0M160.5 106h0M129.5 111.5h0M160 103.5h0M109 120h0M125.5 146h0M119.5 122.5h0M138.5 93h0M131.5 84.5h0M114.5 91.5h0M177 126.5h0M120 115h0M158.5 127.5h0M144 82.5h0M184 115.5h0M177 96.5h0M162.5 140.5h0M171.5 97h0M138 144h0M124.5 129.5h0M139.5 92.5h0M166.5 136.5h0M159 122h0M168 84.5h0M143 147h0M155.5 136h0M138 124h0M116 127h0M150.5 111.5h0M143.5 119.5h0M149 131h0M168 81.5h0M150 137h0M116.5 115h0M201 107.5h0M168 122h0M110 113.5h0M100.5 112h0M165.5 129h0M151 109h0M159.5 139h0M162.5 135h0M155 125.5h0M123 143.5h0M119 103h0M127 105.5h0M176 114.5h0M138 113.5h0M144 140.5h0M180 110.5h0M185 128.5h0M151.5 140h0M147 123.5h0M148 98.5h0M114.5 101.5h0M123.5 108h0M131 137h0M144.5 131.5h0M152 103.5h0M137.5 93h0M103 124.5h0M143 119.5h0M167 95h0M140 80h0M123 128h0M107 95.5h0M136 146h0M161.5 114.5h0M158 119h0M134 108.5h0M154 115.5h0M161.5 108h0M163 110.5h0M171.5 134.5h0M126.5 156.5h0M152 106.5h0M113.5 119.5h0M146.5 105h0M117.5 109.5h0M118 106.5h0M122.5 125h0M83 151.5h0M132.5 117h0M112 136h0M140 111.5h0M121.5 127.5h0M154.5 107h0M182 102.5h0M172 120.5h0M111 113h0M156.5 110.5h0M145.5 116h0M153.5 106.5h0M187.5 123h0M178.5 113.5h0M148 101h0M144.5 143h0M151 105.5h0M130.5 127.5h0M139.5 152h0M149 118h0M161 145.5h0M107.5 106h0M127 84.5h0M139.5 116h0M164 128.5h0M159 128h0M133.5 166h0M179 112.5h0M122 126.5h0M168 126h0M162.5 134.5h0M154 102.5h0M132 88h0M166 109h0M148 153.5h0M125 118h0M124.5 87h0M167 116.5h0M142.5 131h0M139 129.5h0M174 106.5h0M154 120.5h0M169 159h0M120 144h0M146.5 129h0M153 115.5h0M114.5 118h0M123 142.5h0M154.5 108.5h0M135 136.5h0M110.5 121h0M147.5 102.5h0M168.5 111h0M168.5 121h0M129 116h0M167.5 102.5h0M124.5 116h0M157 128h0M121 98h0M150.5 92h0M132 99h0M181.5 83.5h0M122 109h0M102.5 110h0M125.5 91.5h0M132 139.5h0M147 140h0M173.5 120h0M136.5 81h0M95.5 121h0M145 120.5h0M123 113h0M118.5 132h0M145.5 84h0M130 138h0M119 99h0M121 108.5h0M146 115h0M147.5 108h0M159 141h0M123 122.5h0M151 120.5h0M143 125.5h0M138.5 107.5h0M125.5 130h0M131.5 88h0M132.5 109h0M164 134.5h0M118.5 138.5h0M152 143.5h0M132 128.5h0M161 144h0M114 117.5h0M147 114.5h0M123.5 113.5h0M146 150h0M145 135.5h0M127.5 94.5h0M114 78.5h0M135 152h0M190 191h0M116.5 191.5h0M91.5 95.5h0M138.5 158.5h0M145.5 82.5h0M125 136h0M122.5 168h0M162 88h0M131 160h0M166.5 156h0M187.5 165.5h0M123.5 176.5h0M147.5 148.5h0M145.5 167h0M158 132h0M166.5 127.5h0M161.5 186h0M138.5 95.5h0M179.5 103h0M103 83.5h0M126 125.5h0M170 98.5h0M121.5 169h0M82.5 126.5h0M96.5 169h0M113 94.5h0M92.5 102.5h0M157.5 91.5h0M84.5 106h0M84.5 164.5h0M163.5 141h0M116.5 82.5h0M158.5 106.5h0M140.5 194.5h0M106.5 159h0M128 141h0M124.5 161h0M137.5 82h0M170 106h0M118.5 134.5h0M145.5 167.5h0M93 123h0M148.5 133.5h0M107 172h0M186 154h0M139 96.5h0M132.5 170.5h0M114.5 129.5h0M129.5 114.5h0M148 113h0M181.5 177h0M114 86h0M82.5 174h0M126.5 92h0M85 170h0M102.5 186.5h0M119.5 152h0M118 155.5h0M95.5 109.5h0M93.5 85.5h0M142 195h0M80.5 181.5h0M111.5 97h0M83.5 119.5h0M89.5 136.5h0M130.5 97.5h0M177 147h0M163.5 106.5h0M159.5 160h0M165 100h0M184.5 132h0M89 187h0M113.5 183.5h0M103 86.5h0M136.5 142.5h0M154 153.5h0M120 167.5h0M136.5 95h0M144.5 119.5h0M140 96.5h0M108 109h0M153 81h0M176 92.5h0M136.5 173.5h0M125 191h0M108 136.5h0M113.5 111h0M87.5 169.5h0M152 176.5h0M132.5 99.5h0M152.5 188.5h0M141.5 109h0M137.5 178.5h0M170 152h0M161.5 82h0M95 79.5h0M129.5 136h0M82 174.5h0M140 164.5h0M186.5 168h0M162 153.5h0M137.5 168.5h0M166 113h0M168.5 95.5h0M138.5 186.5h0M104 183h0M90.5 186.5h0M81.5 180h0M106 178h0M92 169h0M91 185.5h0M105 167.5h0M97.5 167.5h0M81.5 152.5h0M87.5 180.5h0M91.5 172.5h0M101.5 172.5h0M98.5 178h0M108 166.5h0M89 188.5h0M83 189.5h0M84.5 157.5h0M92.5 178h0M83.5 163.5h0M110 175h0M99 171h0M93 164.5h0M78.5 191.5h0M98 165h0M87.5 178h0M74.5 180.5h0M110 184.5h0M89.5 156h0M92.5 179h0M98.5 194h0M82 155h0M109 176.5h0M105.5 180h0M106.5 180h0M99.5 181.5h0M108 187.5h0M109 171h0M80 160h0M89.5 178h0M98 173.5h0" stroke="#000" stroke-width="1.9" stroke-linecap="square" fill="none"/>
<path d="M47 163.8C50.67 163.8 53.5 168.3 56 172C58.5 175.7 61.67 181.33 62 186C62.33 190.67 61 197 58 200C55 203 48.83 204.17 44 204C39.17 203.83 32 202 29 199C26 196 25.17 190.5 26 186C26.83 181.5 30.5 175.7 34 172C37.5 168.3 43.33 163.8 47 163.8Z" fill="#a4a4a4" stroke="#e4e4e4" stroke-width="1.6"/>
<path d="M47.9 204.1L40.2 203.8L31.4 200.8L29.2 199.2L27.4 196.8L25.8 191.6L26.4 184.3L31.5 175.1L38.7 168.0L43.0 165.3L46.2 164.2L48.4 164.4L51.2 166.1L55.7 171.7L60.3 179.6L62.1 186.3L61.3 193.8L58.9 199.1L56.9 201.1L53.9 202.7ZM47.9 203.8L40.2 203.6L31.7 200.6L27.8 196.6L26.3 191.3L26.9 184.3L29.2 179.3L31.9 175.3L39.0 168.8L43.3 166.3L46.4 165.4L48.2 165.5L50.7 167.1L55.7 172.8L59.8 179.6L61.8 186.6L61.0 193.8L58.7 198.8L53.9 202.3ZM47.7 203.6L40.2 203.3L32.7 200.6L28.7 196.5L27.1 190.8L27.2 187.3L28.4 183.0L32.8 176.1L38.7 170.8L46.7 167.2L50.7 169.4L57.1 176.6L60.2 182.4L61.3 187.8L60.4 194.0L58.2 198.8L53.7 202.1ZM47.9 203.1L40.5 202.8L34.2 200.3L30.4 196.8L28.5 190.6L29.8 183.3L33.8 177.1L39.6 172.3L46.7 169.5L50.7 172.0L56.1 177.6L59.2 183.1L60.2 188.1L59.6 193.6L57.3 198.3L53.2 201.5ZM45.4 202.3L39.7 201.5L33.7 198.3L30.8 194.6L30.0 189.3L31.3 183.6L35.1 178.1L40.4 173.9L46.2 171.8L51.2 174.8L55.2 178.9L58.0 183.8L58.9 188.6L58.1 194.1L55.5 198.6L51.2 201.2ZM46.7 201.1L40.9 200.6L35.7 198.1L32.6 194.8L31.5 190.3L32.4 184.8L35.6 179.8L40.4 176.0L45.9 174.0L49.9 176.1L53.9 179.8L56.5 184.1L57.5 188.3L56.9 193.2L54.9 197.2L51.7 199.6ZM46.2 199.8L41.2 199.3L36.7 197.1L33.9 194.1L33.0 190.1L33.9 185.3L36.6 181.1L40.4 177.9L45.4 176.0L49.2 177.7L52.7 180.8L55.1 184.6L56.1 188.3L55.6 192.8L53.8 196.3L50.4 198.7ZM46.9 198.3L42.9 198.3L38.7 196.6L35.5 193.6L34.6 190.6L35.0 186.8L37.2 182.8L40.7 179.7L45.2 178.0L48.4 179.3L51.5 181.8L53.6 184.8L54.5 188.1L54.3 192.1L52.9 195.1L50.4 197.1ZM46.7 196.8L43.3 196.8L39.9 195.5L37.2 193.1L36.2 190.6L36.5 187.3L38.4 183.8L41.4 181.2L44.9 179.8L47.6 180.8L50.2 182.8L52.1 185.3L53.0 188.1L52.9 191.3L51.9 193.8L49.7 195.7ZM46.7 195.1L43.9 195.2L41.4 194.4L39.2 192.6L37.8 190.3L38.1 187.8L39.6 185.1L41.9 182.9L44.7 181.7L48.9 183.9L51.2 188.1L50.7 192.6ZM45.9 193.1L42.2 192.4L39.8 189.3L41.1 186.1L44.4 183.8L47.7 185.4L49.3 188.6L48.9 191.4ZM45.7 190.8L43.4 190.4L42.0 188.6L42.4 187.1L44.4 185.7L46.3 186.6L47.4 188.3L47.3 189.8Z" fill="none" stroke="#4a4a4a" stroke-width="0.9"/>
<ellipse cx="45" cy="190" rx="3.5" ry="2" fill="#f2f2f2"/>
<path d="M80.2 6.4L234.7 5.9L236 168L112.4 169.8L81.9 148.5Z" fill="none" stroke="#D63F5C" stroke-width="2"/>
<text x="222.8" y="222.4" font-size="19.5" fill="#DA4763" text-anchor="end">0.075</text>
<rect x="0" y="0" width="241.8" height="242.3" fill="none" stroke="#111" stroke-width="2.2"/>
</g>
<g transform="translate(739.7,642)">
<path d="M-5 22.8h5M-5 78.8h5M-5 138.8h5M-5 199.9h5M51.8 242.2v5M103.6 242.2v5M165.5 242.2v5M218.2 242.2v5" stroke="#111" stroke-width="1.6" fill="none"/>
<path d="M-2.5 61.94h2.5M-2.5 52.08h2.5M-2.5 45.08h2.5M-2.5 39.66h2.5M-2.5 35.22h2.5M-2.5 31.47h2.5M-2.5 28.23h2.5M-2.5 25.36h2.5M-2.5 120.74h2.5M-2.5 110.17h2.5M-2.5 102.68h2.5M-2.5 96.86h2.5M-2.5 92.11h2.5M-2.5 88.09h2.5M-2.5 84.61h2.5M-2.5 81.55h2.5M-2.5 181.51h2.5M-2.5 170.75h2.5M-2.5 163.11h2.5M-2.5 157.19h2.5M-2.5 152.35h2.5M-2.5 148.26h2.5M-2.5 144.72h2.5M-2.5 141.6h2.5M122.23 242.2v2.5M133.13 242.2v2.5M140.87 242.2v2.5M146.87 242.2v2.5M151.77 242.2v2.5M155.91 242.2v2.5M159.5 242.2v2.5M162.67 242.2v2.5M181.36 242.2v2.5M190.64 242.2v2.5M197.23 242.2v2.5M202.34 242.2v2.5M206.51 242.2v2.5M210.04 242.2v2.5M213.09 242.2v2.5M215.79 242.2v2.5M-3 240.63h3M17.27 242.2v3M-3 220.27h3M34.53 242.2v3M-3 179.53h3M69.07 242.2v3M-3 159.17h3M86.33 242.2v3" stroke="#222" stroke-width="1" fill="none"/>
<path d="M-5 190h5M41.9 242.2v5M-5 192.2h5M44.1 242.2v5M-5 194.4h5M46.3 242.2v5M-5 195.5h5M47.4 242.2v5M-5 197.7h5M49.6 242.2v5M-5 198.8h5M50.7 242.2v5M-5 199.9h5M51.8 242.2v5M-5 201h5M52.9 242.2v5M-5 203.2h5M55.1 242.2v5M-5 204.3h5M56.2 242.2v5M-5 206.5h5M58.4 242.2v5M-5 208.7h5M60.6 242.2v5" stroke="#000" stroke-width="1" fill="none"/>
<text x="-8" y="25.8" font-size="8.5" fill="#333" text-anchor="end">10⁵</text>
<text x="-8" y="81.8" font-size="8.5" fill="#333" text-anchor="end">10⁴</text>
<text x="-8" y="141.8" font-size="8.5" fill="#333" text-anchor="end">10³</text>
<text x="-8" y="202.9" font-size="8.5" fill="#333" text-anchor="end">0</text>
<text x="51.8" y="258.2" font-size="8.5" fill="#333" text-anchor="middle">0</text>
<text x="103.6" y="258.2" font-size="8.5" fill="#333" text-anchor="middle">10³</text>
<text x="165.5" y="258.2" font-size="8.5" fill="#333" text-anchor="middle">10⁴</text>
<text x="218.2" y="258.2" font-size="8.5" fill="#333" text-anchor="middle">10⁵</text>
<path d="M53 45.8C58.95 47.5 66.6 52.03 70 59.4C73.4 66.77 72.83 76.42 73.4 90C73.97 103.58 73.12 126.75 73.4 140.9C73.68 155.05 75.67 165 75.1 174.9C74.53 184.8 74.82 194.37 70 200.3C65.18 206.23 54.42 209.65 46.2 210.5C37.98 211.35 27.07 209.93 20.7 205.4C14.33 200.87 9.97 194.05 8 183.3C6.03 172.55 8.62 156.45 8.9 140.9C9.18 125.35 7.73 103.58 9.7 90C11.67 76.42 16.6 66.2 20.7 59.4C24.8 52.6 28.92 51.47 34.3 49.2C39.68 46.93 47.05 44.1 53 45.8Z" fill="#000"/>
<path d="M30.5 58h0M69 187.5h0M13.5 149.5h0M11.5 129h0M15 132.5h0M66.5 197h0M69.5 115h0M10.5 119h0M11.5 160h0M73.5 178.5h0M12 156h0M68.5 65h0M11.5 108.5h0M21.5 65h0M41.5 49.5h0M70.5 83.5h0M12.5 146h0M11 109.5h0M69.5 94.5h0M14 178.5h0M69 113.5h0M67.5 125.5h0M61 54h0M69.5 151h0M14.5 83.5h0M15 184.5h0M13 103h0M42 52.5h0M68.5 98.5h0M13.5 84h0M20 65.5h0M13.5 163h0M70 172h0M70 108h0M57 204.5h0M71.5 187h0M68.5 142.5h0M13 152.5h0M11 168.5h0M69 141.5h0M68.5 107h0M35 207h0M13.5 138h0M14.5 156.5h0M13.5 166h0M24 66.5h0M12.5 119h0M55 202.5h0M10.5 124h0M13.5 156.5h0M71 175h0M70.5 105h0M71 189h0M11 135h0M12 122h0M68.5 160h0M22 201.5h0M65.5 68.5h0M9.5 182.5h0M53 205h0M11.5 115h0M16 79h0M66.5 63h0M39.5 51h0M71 106.5h0M39.5 52.5h0M48 50h0M68 127h0M69.5 155h0M68 96h0M23.5 60.5h0M12 119.5h0M40 51.5h0M15.5 99.5h0M68 181h0M13 112.5h0M70.5 180h0M73.5 170h0M60.5 198.5h0M13 142.5h0M71.5 165h0M17 195.5h0M17 192.5h0M14 104.5h0M45.5 208.5h0M63.5 200.5h0M19.5 196.5h0M48.5 206h0M10 129.5h0M71 81h0M70.5 109h0M62 59h0M66 199h0M13.5 83h0M10 182.5h0M10.5 168h0M31.5 57h0M12 93.5h0M68 155.5h0M71 127h0M22 203.5h0M72.5 129.5h0M11.5 182h0M67.5 70h0M66.5 193.5h0M13.5 133.5h0M69.5 140h0M72 97.5h0M15 123h0M71 115.5h0M21.5 63.5h0M10 177.5h0M21.5 69h0M22.5 201.5h0M39.5 206.5h0M71 141.5h0M69 61h0M35.5 53h0M69 125.5h0M69.5 70.5h0M29 56h0M24.5 202.5h0M15.5 187h0M24.5 58.5h0M15 129.5h0M69 142h0M69.5 151.5h0M11 160h0M14.5 150h0M70 128h0M69 138h0M32 201.5h0M65 62h0M11.5 100h0M10 159.5h0M71.5 98h0M13 189h0M14 182.5h0M68 74h0M60 201h0" stroke="#fff" stroke-width="1.3" stroke-linecap="square" fill="none"/>
<path d="M73 133.5h0M16 204h0M72.5 184.5h0M7.5 180.5h0M4 172.5h0M75 64h0M57.5 48h0M9.5 86h0M74.5 142.5h0M74.5 131h0M51.5 44.5h0M46.5 210h0M10 85.5h0M42.5 218.5h0M73.5 98h0M9 167h0M13 73h0M23.5 210.5h0M5.5 125.5h0M9.5 153.5h0M69.5 62h0M5 120.5h0M11 187h0M80.5 157h0M63 55h0M15.5 75.5h0M43.5 213h0M11.5 71.5h0M5 136.5h0M21 55h0M74.5 198.5h0M10.5 102.5h0M55 208.5h0M28 54h0M16.5 71h0M76 76h0M74 92h0M74 124.5h0M39.5 49h0M63.5 215.5h0M4.5 173h0M77.5 159.5h0M31 210.5h0M73 193h0M81.5 178.5h0M10.5 186.5h0M4 192h0M19 60.5h0M9 150.5h0M27 55h0M12.5 81h0M50.5 43h0M8.5 153h0M74.5 104.5h0M11.5 78.5h0M37 49h0M18.5 61.5h0M14.5 193.5h0M8.5 135.5h0M73 124.5h0M9 88.5h0M11 191.5h0M79 152h0M72 64h0M7.5 79.5h0M50 42.5h0M72.5 72h0M9.5 101h0M68 204.5h0M79 97h0M74 155h0M9.5 114h0M10.5 70h0M68 58h0M8 177h0M68 53.5h0M9.5 133.5h0M75 170h0M15 69.5h0M45 48.5h0M32 208.5h0M53 46h0M84.5 161h0M72.5 67h0M8 182h0M63.5 55h0M81 115.5h0M73 208.5h0M4 177h0M73.5 101h0M69 55h0M15 74.5h0M85 164h0M35 47.5h0M17.5 65h0M75.5 190.5h0M51.5 210h0M25.5 209h0M8.5 163.5h0M7 187h0M9 202.5h0M8 173.5h0M29 50.5h0M31.5 210h0M62 204h0M10 133h0M77.5 133.5h0M78 158h0M43.5 47.5h0M26.5 213h0M17 202h0M58.5 45h0M67 202h0M9.5 189.5h0M60.5 51.5h0M8.5 177h0M9 171h0M74.5 62h0M8.5 173h0M47 211h0M4 149.5h0M76.5 178.5h0M8 140.5h0M7.5 126.5h0M59 51h0M74.5 59.5h0M4 150h0M36.5 39h0M75 139h0M50.5 211.5h0M7 187.5h0M80.5 166h0M75.5 185h0M73.5 164.5h0M75.5 186.5h0M7 185h0M74 158.5h0M71.5 189h0M6.5 113.5h0M64 52h0M8.5 198h0M4.5 127.5h0M73.5 161.5h0M73.5 125.5h0M8 98.5h0M74 135h0M76.5 111.5h0M61 210.5h0M75.5 77.5h0M79.5 168.5h0M81 171h0M6.5 87.5h0M59.5 204h0M13.5 81.5h0M73 105.5h0M78 173h0M7.5 161.5h0M17 69h0M55 211h0M73 129.5h0M76.5 85h0M22.5 206.5h0M75.5 113h0M10.5 100.5h0M6.5 86.5h0M74.5 110h0M73.5 148.5h0M8.5 100.5h0M10 99.5h0M74.5 174.5h0M74.5 89h0M77.5 153h0M8.5 105h0M73 148.5h0M75 175h0M67.5 202.5h0M66.5 204.5h0M70 199.5h0M21 54.5h0M78 100h0M59 40h0M30.5 52h0M12 69h0M46 46.5h0M59 208.5h0M30.5 49.5h0M25.5 57h0M73 125h0M10 123.5h0M3.5 86h0M24.5 211h0M83 151.5h0M75.5 175h0M82.5 127.5h0M71 66.5h0M74.5 153.5h0M70 55h0M15 60h0M23.5 56h0M14.5 63.5h0M18.5 64.5h0M9 192h0M59 46h0M8 125.5h0M76.5 104.5h0M75.5 159h0M5.5 158.5h0M23 206h0M26 47.5h0M75.5 174.5h0M72.5 138.5h0M4 76h0M44.5 212h0M10 108.5h0M74.5 177h0M73 117.5h0M22 208h0M9.5 93.5h0M73.5 106.5h0M8.5 104h0M24 54h0M8 101h0M10 94h0M57.5 42.5h0M9 169h0M15 76h0M68 59h0M73.5 148h0M76 146h0M21.5 209.5h0M63.5 203.5h0M46.5 211.5h0M4 111h0M55.5 41.5h0M71.5 59.5h0M76.5 86.5h0M73.5 87.5h0M70 65.5h0M42 44h0M10.5 79.5h0M71 71.5h0M30.5 226h0M75.5 163h0M74.5 162.5h0M82.5 181.5h0M2 161.5h0M7.5 187h0M75.5 182.5h0M83 116h0M84.5 169h0M156.5 89h0M219.5 102.5h0M133.5 134.5h0M157.5 109h0M147.5 91.5h0M109.5 100.5h0M200 109h0M147 117.5h0M124.5 122h0M151.5 91.5h0M172 110h0M142 106h0M181 122.5h0M127 66.5h0M213 99.5h0M139.5 109h0M139.5 117.5h0M115 100h0M114.5 124h0M144.5 118h0M193 86.5h0M145.5 113h0M153.5 101h0M177 115.5h0M134.5 101h0M171.5 106h0M156 87.5h0M204 100h0M160 102.5h0M154 105h0M127 108h0M188 108.5h0M173.5 109.5h0M153 128h0M131.5 108.5h0M182.5 107h0M120.5 88h0M198.5 89.5h0M152.5 110.5h0M155 78.5h0M95.5 101.5h0M129 99.5h0M154.5 105.5h0M112 79.5h0M180 94.5h0M117 75.5h0M168 85.5h0M121 111.5h0M161 111h0M114.5 63h0M122.5 99h0M132.5 115.5h0M163 88.5h0M169 101h0M137.5 118.5h0M102 117.5h0M184.5 74.5h0M146.5 100.5h0M118 95h0M128 104h0M135.5 73h0M187.5 115.5h0M127 115h0M212.5 81.5h0M139.5 96h0M168.5 99h0M110 120.5h0M142.5 113h0M220.5 92.5h0M139.5 115.5h0M149 110.5h0M152 142h0M171 108h0M156 108.5h0M103 99h0M174.5 86h0M153.5 101.5h0M136.5 138h0M173.5 107.5h0M128.5 104h0M143 102h0M158.5 138h0M192 127h0M193 142.5h0M132 85h0M158.5 106.5h0M153 94.5h0M172.5 127h0M158.5 100h0M188 99h0M141.5 107.5h0M83.5 129.5h0M161.5 109h0M112 128h0M169.5 107.5h0M174.5 101.5h0M107 130h0M105.5 105h0M149.5 105.5h0M124 122h0M160 85h0M115.5 107h0M117.5 109h0M162 95h0M94 85h0M163 96h0M208 97h0M163.5 112.5h0M155 107.5h0M182.5 101h0M162.5 98h0M212.5 105.5h0M177.5 61.5h0M137.5 87.5h0M153.5 97h0M120.5 99h0M176.5 118h0M136 118h0M133.5 111.5h0M126.5 117.5h0M222 99h0M189 82.5h0M133 140.5h0M150 110h0M103.5 103h0M128.5 120h0M136 139h0M119.5 107.5h0M92 97.5h0M188.5 101.5h0M113 110h0M180.5 109h0M182 83h0M207 113h0M89 129.5h0M138 110h0M92.5 94h0M97.5 115h0M145 90h0M141 119h0M128.5 111h0M116.5 79.5h0M137.5 99h0M157.5 116h0M139.5 98h0M175 109h0M150.5 106.5h0M86.5 95.5h0M104 98h0M179 79.5h0M179.5 95h0M145.5 96.5h0M173.5 93.5h0M89.5 107.5h0M147.5 112h0M170 86h0M158 104.5h0M150 104.5h0M161.5 95.5h0M147.5 116.5h0M120 102h0M121.5 88h0M139.5 105.5h0M197.5 100h0M180 110.5h0M154 59.5h0M156 104h0M121 105h0M196 87h0M136.5 115.5h0M98 88.5h0M161 116.5h0M188.5 113.5h0M221 108.5h0M113 100.5h0M94 108.5h0M128 100h0M196 100.5h0M132 101.5h0M132.5 131.5h0M177 116h0M131.5 94h0M159.5 72.5h0M182.5 85h0M128.5 108h0M173 129.5h0M164 128.5h0M166 100.5h0M178 95.5h0M156.5 111.5h0M186.5 107h0M108 121h0M157 99h0M128 111h0M162 112.5h0M148 124.5h0M144 108.5h0M158 118h0M131.5 99h0M145.5 93.5h0M132.5 86h0M174.5 124h0M122.5 114h0M117.5 91.5h0M142.5 104.5h0M165.5 76h0M112.5 104h0M144.5 133h0M143.5 94h0M188 65.5h0M96 141h0M133.5 104h0M146.5 90.5h0M147.5 84.5h0M180.5 113.5h0M172 90h0M94 96h0M119 108.5h0M103.5 90h0M156 109h0M154.5 85.5h0M131.5 131h0M180 91.5h0M209 101h0M197 104.5h0M149.5 90h0M113.5 105.5h0M152 124.5h0M124.5 97.5h0M181.5 114.5h0M131.5 123.5h0M166 115.5h0M162 116.5h0M139.5 100h0M184.5 108.5h0M162.5 119h0M159 108.5h0M86 95.5h0M176.5 90.5h0M143 106h0M147.5 115h0M184.5 98h0M130.5 107.5h0M170.5 101h0M119.5 95.5h0M158.5 112.5h0M205 100.5h0M145.5 73h0M190 115.5h0M152 93h0M73.5 113h0M128.5 124h0M174.5 121h0M147.5 119.5h0M110 123.5h0M151 86.5h0M140 89.5h0M159.5 93h0M113.5 98h0M145 106h0M172.5 120.5h0M164 126h0M78 102h0M180 84.5h0M146 106h0M105.5 95h0M170 98.5h0M198 136h0M149.5 87h0M151 95h0M109 97.5h0M138 98h0M179.5 118h0M164 98h0M164.5 103.5h0M158.5 89.5h0M59.5 115.5h0M134 96h0M151.5 102h0M143 124.5h0M155.5 106h0M125.5 101.5h0M165.5 102h0M161.5 90h0M139 92h0M157 118h0M160.5 90.5h0M156 117.5h0M173.5 110h0M131.5 96.5h0M159 103.5h0M141.5 111h0M130.5 98.5h0M155 84h0M126.5 83.5h0M120.5 101h0M148 107.5h0M161.5 87h0M207.5 122h0M115.5 93.5h0M137.5 105.5h0M170 103h0M75.5 143h0M177.5 114.5h0M129.5 104.5h0M179.5 96.5h0M186 104h0M199 103.5h0M196.5 80.5h0M195 109h0M140.5 118h0M144 114.5h0M180.5 117.5h0M217.5 122h0M226.5 113h0M156.5 108.5h0M151 86h0M156 86.5h0M143.5 98.5h0M135.5 88h0M155.5 102.5h0M193 111.5h0M180 96.5h0M142.5 85.5h0M126 113h0M146 101h0M135 124.5h0M150.5 119h0M151 116h0M123 84.5h0M185 98.5h0M160 115h0M172.5 106.5h0M116.5 93.5h0M153 112h0M167.5 108h0M129 103h0M181 91h0M135 115.5h0M199 108.5h0M152 89.5h0M148.5 92h0M156 113h0M165.5 121h0M121.5 85.5h0M192.5 117.5h0M123 105h0M120 102.5h0M161.5 116.5h0M123 85.5h0M169 98.5h0M193.5 87h0M132.5 65h0M185.5 121.5h0M164.5 99h0M92 84h0M136.5 129.5h0M178.5 94.5h0M165 110.5h0M167 90h0M139 117h0M172.5 98.5h0M225 107h0M140 115.5h0M176 101.5h0M206 118h0M153 113h0M172 99h0M174 95.5h0M145 112h0M115 98.5h0M123.5 113h0M135 128.5h0M198 93.5h0M157 98h0M152 112.5h0M196.5 133.5h0M207 85.5h0M138 100.5h0M143 105h0M171.5 97h0M135 136h0M173 133h0M135.5 122h0M202.5 121.5h0M130 110.5h0M129 87.5h0M152 110h0M146 101.5h0M171 93.5h0M165 114h0M172 111h0M139.5 113h0M100 105h0M104.5 112h0M137 104h0M180 127h0M94 100.5h0M132 112.5h0M149 104.5h0M119 98.5h0M119 103.5h0M105 107h0M185 139.5h0M197 121.5h0M176 125h0M151 108.5h0M96.5 96h0M186.5 79.5h0M162 102.5h0M153 87.5h0M150 78h0M197 103h0M179 90.5h0M207 117.5h0M162.5 106h0M164 93h0M148 100h0M163.5 124.5h0M187 107h0M171.5 99.5h0M138 81h0M114.5 86.5h0M150.5 101h0M165.5 119h0M172.5 101h0M138.5 99h0M170.5 90.5h0M108 100h0M183.5 120h0M170.5 76.5h0M147.5 113h0M184.5 129h0M124.5 108.5h0M106 100h0M140.5 114.5h0M157.5 79h0M148.5 108h0M195.5 93h0M126.5 95h0M183 99h0M155 109.5h0M128 118.5h0M104 128.5h0M132.5 90.5h0M130.5 87h0M126 92h0M117.5 100.5h0M161.5 95h0M157.5 91.5h0M159 98.5h0M119.5 104.5h0M147 94h0M150.5 110.5h0M115.5 96h0M171 103h0M175.5 136.5h0M115 108h0M141 123h0M169 83.5h0M184.5 103h0M143 103.5h0M158.5 91h0M140.5 122h0M121.5 94.5h0M175 90h0M146 107.5h0M125 98.5h0M125 100h0M160.5 103h0M159.5 108h0M175.5 88h0M155.5 125h0M145 99.5h0M168.5 103h0M147 113.5h0M188 83.5h0M137 99h0M110 112.5h0M215 114h0M189.5 76h0M139 84.5h0M175.5 101.5h0M146.5 109.5h0M174.5 125.5h0M193 116h0M103 120.5h0M155 81.5h0M157 99.5h0M149 116.5h0M111.5 112h0M187.5 87h0M193.5 93.5h0M130 116h0M151.5 77.5h0M133 112.5h0M136 96.5h0M152.5 103h0M131.5 90h0M165 120h0M76.5 109h0M182 90.5h0M195 82h0M180.5 125.5h0M198 66h0M154 89h0M164 122.5h0M164.5 126h0M102 91h0M136 112.5h0M188.5 91.5h0M124 115.5h0M112.5 111h0M127.5 102h0M214 99.5h0M153.5 91.5h0M168.5 124.5h0M171 84.5h0M163 125h0M123.5 101h0M124 95h0M122.5 84h0M166.5 102.5h0M87 88.5h0M130 87.5h0M156.5 100h0M163 84h0M129.5 97h0M140.5 98h0M129 101.5h0M201.5 92.5h0M102.5 107h0M124.5 114.5h0M183.5 126.5h0M156.5 79.5h0M200 116h0M190.5 104.5h0M141.5 103.5h0M97 117h0M133.5 94.5h0M163 91h0M176 94.5h0M223 120.5h0M172.5 107.5h0M154 96h0M95 95.5h0M128.5 96h0M155 77h0M115 93.5h0M138.5 116h0M232 101h0M172 103h0M160 127.5h0M157.5 111h0M154 94.5h0M184.5 101h0M196.5 87.5h0M166 126.5h0M133.5 108h0M197 109h0M128.5 98.5h0M140 105h0M115 126.5h0M134.5 103h0M155.5 123h0M141 132h0M208 113.5h0M112 85h0M145 107h0M172 120.5h0M166.5 104h0M164.5 75h0M187.5 82h0M94.5 93.5h0M139.5 86h0M146 104.5h0M171 108.5h0M137 104.5h0M190.5 99.5h0M148 73.5h0M161.5 132h0M175 100h0M190 121h0M118 113.5h0M168.5 109.5h0M108.5 114.5h0M210.5 120h0M230 110h0M156.5 129h0M183 71.5h0M106.5 107h0M137 128.5h0M200 121.5h0M143 100.5h0M176.5 98.5h0M173 107.5h0M176 105h0M129.5 62.5h0M112 83h0M173 83h0M135 110h0M173 117.5h0M166 125h0M135 119.5h0M111.5 97.5h0M165 112h0M144 94h0M115 71h0M93 126h0M97.5 81h0M102.5 99h0M144 94.5h0M112.5 101h0M109 107.5h0M197 89.5h0M158.5 96h0M140 84h0M154 102.5h0M190.5 136.5h0M119.5 118.5h0M126.5 95.5h0M116.5 110h0M189 101.5h0M158.5 91.5h0M142.5 84.5h0M149.5 74h0M220.5 120.5h0M139 104.5h0M159 129.5h0M137.5 75.5h0M159.5 108.5h0M126.5 114.5h0M146 91.5h0M149 84.5h0M139.5 127h0M188 111.5h0M155.5 107h0M116 105.5h0M130 94h0M199.5 92.5h0M153.5 104h0M182 99.5h0M167 108.5h0M146 94.5h0M120.5 118h0M126 119.5h0M202.5 95h0M123 89h0M136.5 121.5h0M128.5 88h0M102 104.5h0M165.5 124h0M151 144h0M142 100.5h0M149.5 101.5h0M167 93.5h0M209 89.5h0M172 114h0M161.5 106h0M196 121.5h0M152.5 115.5h0M116 109h0M90 120.5h0M133.5 116.5h0M166.5 95h0M178 126.5h0M126.5 130h0M164.5 91h0M145 108.5h0M174.5 92h0M142 110.5h0M161 131h0M178 116h0M126 91h0M122 103h0M172 127h0M183 92h0M151.5 134h0M112 84h0M139 100h0M169.5 102h0M102.5 137.5h0M165 80.5h0M204 115.5h0M148.5 104h0M169 71.5h0M183.5 107.5h0M135 126h0M53 121h0M188.5 81h0M146.5 94h0M137 86h0M113.5 105h0M145 111.5h0M176.5 96h0M216.5 126.5h0M107 101.5h0M143 109.5h0M124 126h0M142 133.5h0M130.5 131h0M166 116.5h0M163.5 108.5h0M131.5 100.5h0M142 114.5h0M162 99.5h0M101 117h0M131.5 98.5h0M166.5 103h0M155.5 105h0M97 113.5h0M147 114h0M155.5 97.5h0M196 105h0M183 112h0M177 118h0M171.5 90.5h0M146 122.5h0M149 98.5h0M154 116.5h0M128 102.5h0M139.5 94h0M175 95.5h0M154 108.5h0M166.5 110h0M175 93h0M202 98h0M153.5 115.5h0M129 102.5h0M140 111h0M155 126.5h0M126 94h0M111.5 106.5h0M149.5 100h0M170.5 90h0M110.5 132.5h0M153 90h0M184 105.5h0M125 108h0M184 113.5h0M150.5 126.5h0M127.5 101h0M167 89.5h0M173 108.5h0M182 108h0M212 85h0M142 96.5h0M153.5 112.5h0M122 117.5h0M186.5 105.5h0M112.5 112.5h0M166 90.5h0M133 96.5h0M111 108.5h0M186 108.5h0M133 103h0M152.5 129h0M140.5 110.5h0M144 119.5h0M129.5 110.5h0M143 112h0M111.5 102.5h0M186 113h0M122.5 139.5h0M166.5 100h0M143 91h0M199 121.5h0M196 89.5h0M98 73.5h0M109.5 96h0M118 80.5h0M168 93.5h0M162 120h0M189.5 82h0M137.5 87h0M145.5 94.5h0M157.5 96h0M186.5 92h0M148.5 112h0M125 94h0M147.5 97h0M174.5 92.5h0M106.5 111.5h0M126.5 93.5h0M143 118h0M174.5 105h0M159 96.5h0M202 117h0M126 115.5h0M111.5 91.5h0M130.5 125h0M210 103h0M136.5 121h0M135.5 125h0M123 116.5h0M127.5 127h0M155.5 94h0M155 69.5h0M153.5 112h0M222 88h0M187.5 120.5h0M173 98.5h0M157 91.5h0M160.5 87h0M136.5 104h0M125 85h0M149.5 107h0M171.5 109h0M201.5 102.5h0M191.5 89h0M172 113.5h0M207.5 94.5h0M207.5 101.5h0M139.5 80h0M179.5 95.5h0M177.5 105.5h0M176 104h0M131.5 97h0M152 109h0M129.5 116h0M91.5 85h0M213.5 118h0M122.5 88h0M153 102h0M174 96h0M131 92.5h0M151.5 91h0M148 113.5h0M147 87.5h0M168 114h0M125.5 97.5h0M103.5 88h0M117.5 83.5h0M132 129.5h0M186.5 96.5h0M164.5 104h0M155 75h0M146.5 86.5h0M137.5 101.5h0M42 66.5h0M163.5 121.5h0M177.5 86.5h0M139 111.5h0M144.5 71h0M174 93h0M150 77.5h0M116.5 119.5h0M137 109h0M200 103h0M152 99h0M176.5 107.5h0M164.5 125h0M166.5 120.5h0M125.5 99h0M171.5 91h0M107.5 101.5h0M128.5 76.5h0M194.5 127.5h0M145.5 104.5h0M154 86.5h0M88.5 109h0M188 69h0M197.5 93.5h0M200 129.5h0M112.5 79h0M186.5 148h0M176.5 112.5h0M145 130.5h0M178.5 135h0M114.5 134.5h0M194.5 111.5h0M81 77h0M158 98.5h0M190 118h0M164 73.5h0M143 124h0M190 141h0M111.5 105h0M197.5 68h0M88.5 76.5h0M168 89.5h0M165 134.5h0M177 63.5h0M162.5 132h0M164.5 138h0M178 115h0M184 109h0M93 85.5h0M192 90.5h0M136.5 138.5h0M162 131h0M136.5 105.5h0M89.5 78h0M99 108.5h0M143 66.5h0M156 69h0M126.5 62.5h0M137 73h0M193 92.5h0M179.5 100h0M119.5 135.5h0M113 106.5h0M156.5 149.5h0M164.5 64.5h0M134.5 145.5h0M182.5 93h0M95.5 84h0M171 76h0M187 84h0M162.5 122.5h0M109 106.5h0M155.5 84h0M144 116.5h0M195 85.5h0M101 105.5h0M151.5 104h0M189.5 78h0M141 102.5h0M104 101h0M134.5 94h0M173 149h0M196.5 79.5h0M124.5 145.5h0M90 68h0M88 146.5h0M140.5 99h0M92 139.5h0M199 122h0M189.5 111h0M117.5 76h0M116.5 73.5h0M124 64.5h0M85 141h0M182 133.5h0M122 100.5h0M145 131h0M94 175.5h0M106.5 192h0M96 150h0M99 194h0M87 181.5h0M85 163.5h0M110.5 155h0M101.5 179.5h0M98 188h0M122 164h0M117.5 188h0M109 179.5h0M107.5 187h0M114 163.5h0M112 185.5h0M102 195h0M94.5 177.5h0M107.5 180h0M87.5 183.5h0M84 176.5h0M101.5 185h0M122.5 199h0M90 195.5h0M102.5 175h0M80 193h0M90 164h0M94 161.5h0M93 164.5h0M105.5 168h0M117.5 196.5h0" stroke="#000" stroke-width="1.9" stroke-linecap="square" fill="none"/>
<path d="M53 62.8C56.12 64.22 61.78 62.82 63.2 73C64.62 83.18 62.35 109.75 61.5 123.9C60.65 138.05 57.97 148 58.1 157.9C58.23 167.8 62.3 176.8 62.3 183.3C62.3 189.8 61.35 194.28 58.1 196.9C54.85 199.52 48.75 199.85 42.8 199C36.85 198.15 25.52 195.82 22.4 191.8C19.28 187.78 22.12 181.97 24.1 174.9C26.08 167.83 32.32 160.72 34.3 149.4C36.28 138.08 35.43 119.17 36 107C36.57 94.83 36.28 83.48 37.7 76.4C39.12 69.32 41.95 66.77 44.5 64.5C47.05 62.23 49.88 61.38 53 62.8Z" fill="#a4a4a4" stroke="#e4e4e4" stroke-width="1.6"/>
<path d="M49.8 199.6L37.8 198.5L27.3 195.1L22.5 191.8L21.3 189.1L21.3 185.9L24.4 174.6L32.6 157.6L34.9 149.4L36.2 133.9L36.5 90.1L37.7 76.1L39.2 71.4L42.6 66.1L47.3 62.7L51.0 62.2L58.0 64.2L61.5 67.1L63.3 72.6L63.9 83.6L60.6 128.9L57.6 153.1L57.7 160.9L62.0 180.6L62.1 187.9L61.1 192.6L58.5 196.6L54.8 198.7ZM49.8 199.4L38.0 198.3L28.8 195.4L23.4 191.9L22.1 189.4L22.0 186.9L22.6 182.9L25.2 175.1L34.1 158.4L36.7 149.6L38.0 134.1L38.3 105.4L37.1 85.1L38.0 76.1L39.5 71.5L43.0 66.4L47.1 63.4L51.0 62.7L57.9 64.6L61.2 67.4L63.1 72.6L63.7 82.6L63.0 93.6L60.3 108.1L58.9 128.4L55.9 152.9L56.1 161.4L61.2 179.4L61.7 187.6L60.6 192.6L58.3 196.3L54.8 198.4ZM49.5 199.2L38.0 198.1L29.6 195.4L24.5 191.3L23.4 187.4L24.0 182.9L26.8 175.4L37.1 158.4L38.7 153.9L40.1 146.4L40.9 134.4L41.1 105.9L37.9 85.6L38.5 76.5L40.3 71.5L43.5 67.0L47.3 64.4L50.8 63.7L57.3 65.1L60.8 67.7L62.8 72.8L63.4 81.6L62.5 91.7L57.5 107.9L52.9 152.6L53.4 161.6L59.9 179.6L60.5 189.1L59.3 193.4L57.4 196.1L54.3 198.1ZM49.0 198.9L40.8 198.4L32.1 195.9L26.8 191.6L25.4 189.4L25.0 187.4L26.0 182.1L28.5 176.1L40.3 160.6L43.7 151.1L45.1 134.6L45.0 106.4L43.3 98.9L40.4 90.9L39.3 85.6L39.2 80.1L40.3 74.6L42.5 70.2L46.8 66.3L50.5 65.1L56.8 66.3L60.0 68.6L62.3 73.0L63.1 80.9L62.8 86.5L61.5 90.6L55.0 103.1L53.5 107.6L48.8 152.1L49.6 161.9L57.9 178.9L59.0 183.4L59.1 188.9L58.1 192.9L56.3 195.5L53.0 197.7ZM49.5 103.5L42.7 91.1L41.0 85.9L40.6 80.4L41.6 75.4L43.6 71.4L47.5 67.8L50.5 66.8L56.0 67.7L58.8 69.4L61.8 75.1L62.4 80.6L61.6 86.4L59.5 91.1ZM47.3 198.4L41.0 198.1L34.6 196.1L29.9 192.6L26.8 187.9L28.0 181.9L31.5 175.1L35.0 171.1L44.5 162.7L54.9 176.6L57.0 181.6L57.7 185.9L57.2 190.9L55.6 194.1L52.5 196.6ZM50.0 96.6L46.8 93.5L44.1 89.1L42.8 85.6L42.2 80.6L43.0 76.1L44.8 72.5L47.8 69.7L50.8 68.6L55.8 69.3L58.0 71.0L60.4 75.4L61.2 80.4L60.3 85.6L58.0 89.9L55.3 93.0ZM46.0 197.4L41.0 197.2L35.2 195.1L31.1 191.6L28.6 187.1L29.9 181.6L33.3 176.0L37.8 171.8L43.8 168.4L48.5 172.0L52.8 176.9L55.2 181.6L56.1 186.1L55.7 190.6L54.0 193.6L50.5 196.1ZM50.8 92.7L48.8 92.0L45.4 87.4L44.1 83.4L44.0 79.4L45.0 75.6L46.9 72.6L50.0 70.5L52.8 70.5L55.5 71.1L57.8 73.6L59.5 78.1L59.6 81.4L58.7 85.1L57.0 87.9L54.3 90.7ZM46.0 196.1L41.3 196.1L36.3 194.2L32.7 191.1L30.4 186.6L31.4 182.4L34.3 177.6L38.3 174.1L43.3 171.7L47.3 174.0L51.0 177.6L53.5 181.9L54.5 185.9L54.3 189.9L53.0 192.3L50.0 194.7ZM50.5 89.6L48.8 88.6L46.8 85.6L45.9 82.6L45.9 78.9L46.9 75.9L48.8 73.4L50.5 72.3L53.3 72.4L55.3 73.6L57.0 76.1L57.8 81.6L55.7 86.4ZM45.0 194.9L40.5 194.6L36.5 192.6L33.6 189.4L32.2 185.6L33.4 182.1L36.0 178.4L39.3 175.8L43.0 174.3L46.5 176.0L49.8 178.9L52.0 182.4L52.9 186.1L52.8 189.4L51.6 191.4L48.5 193.9ZM50.8 86.4L49.8 86.1L48.5 84.1L47.8 79.9L49.1 76.1L51.5 74.4L54.4 76.4L55.6 80.4L54.0 84.4ZM43.8 193.4L40.4 192.9L37.3 191.1L35.2 188.4L34.2 185.1L35.0 182.6L37.3 179.6L42.8 176.5L45.8 177.9L48.7 180.4L50.4 183.1L51.3 186.6L51.1 188.9L49.1 191.4L46.4 192.9ZM44.3 191.4L41.8 191.3L39.3 190.1L37.5 188.1L36.7 185.6L36.8 183.4L37.8 181.7L42.5 178.7L47.1 181.4L49.5 186.1L48.0 189.5ZM43.3 188.6L40.9 187.6L39.9 185.4L40.8 182.9L43.3 181.8L45.5 182.9L46.6 185.1L45.8 187.4Z" fill="none" stroke="#4a4a4a" stroke-width="0.9"/>
<ellipse cx="42.8" cy="188" rx="3.5" ry="2" fill="#f2f2f2"/>
<ellipse cx="53" cy="80" rx="3.5" ry="2" fill="#f2f2f2"/>
<path d="M79.8 6.4L234.7 5.9L236 167.7L112.4 169.8L81.5 147.7Z" fill="none" stroke="#D63F5C" stroke-width="2"/>
<text x="225.3" y="222.4" font-size="19.5" fill="#DA4763" text-anchor="end">0.39</text>
<rect x="0" y="0" width="241.8" height="242.2" fill="none" stroke="#111" stroke-width="2.2"/>
</g>
<g transform="translate(186,924.4)">
<path d="M-5 22.8h5M-5 78.8h5M-5 138.8h5M-5 199.9h5M51.8 240.3v5M103.6 240.3v5M165.5 240.3v5M218.2 240.3v5" stroke="#111" stroke-width="1.6" fill="none"/>
<path d="M-2.5 61.94h2.5M-2.5 52.08h2.5M-2.5 45.08h2.5M-2.5 39.66h2.5M-2.5 35.22h2.5M-2.5 31.47h2.5M-2.5 28.23h2.5M-2.5 25.36h2.5M-2.5 120.74h2.5M-2.5 110.17h2.5M-2.5 102.68h2.5M-2.5 96.86h2.5M-2.5 92.11h2.5M-2.5 88.09h2.5M-2.5 84.61h2.5M-2.5 81.55h2.5M-2.5 181.51h2.5M-2.5 170.75h2.5M-2.5 163.11h2.5M-2.5 157.19h2.5M-2.5 152.35h2.5M-2.5 148.26h2.5M-2.5 144.72h2.5M-2.5 141.6h2.5M122.23 240.3v2.5M133.13 240.3v2.5M140.87 240.3v2.5M146.87 240.3v2.5M151.77 240.3v2.5M155.91 240.3v2.5M159.5 240.3v2.5M162.67 240.3v2.5M181.36 240.3v2.5M190.64 240.3v2.5M197.23 240.3v2.5M202.34 240.3v2.5M206.51 240.3v2.5M210.04 240.3v2.5M213.09 240.3v2.5M215.79 240.3v2.5M-3 240.63h3M17.27 240.3v3M-3 220.27h3M34.53 240.3v3M-3 179.53h3M69.07 240.3v3M-3 159.17h3M86.33 240.3v3" stroke="#222" stroke-width="1" fill="none"/>
<path d="M-5 190h5M41.9 240.3v5M-5 192.2h5M44.1 240.3v5M-5 194.4h5M46.3 240.3v5M-5 195.5h5M47.4 240.3v5M-5 197.7h5M49.6 240.3v5M-5 198.8h5M50.7 240.3v5M-5 199.9h5M51.8 240.3v5M-5 201h5M52.9 240.3v5M-5 203.2h5M55.1 240.3v5M-5 204.3h5M56.2 240.3v5M-5 206.5h5M58.4 240.3v5M-5 208.7h5M60.6 240.3v5" stroke="#000" stroke-width="1" fill="none"/>
<text x="-8" y="25.8" font-size="8.5" fill="#333" text-anchor="end">10⁵</text>
<text x="-8" y="81.8" font-size="8.5" fill="#333" text-anchor="end">10⁴</text>
<text x="-8" y="141.8" font-size="8.5" fill="#333" text-anchor="end">10³</text>
<text x="-8" y="202.9" font-size="8.5" fill="#333" text-anchor="end">0</text>
<text x="51.8" y="256.3" font-size="8.5" fill="#333" text-anchor="middle">0</text>
<text x="103.6" y="256.3" font-size="8.5" fill="#333" text-anchor="middle">10³</text>
<text x="165.5" y="256.3" font-size="8.5" fill="#333" text-anchor="middle">10⁴</text>
<text x="218.2" y="256.3" font-size="8.5" fill="#333" text-anchor="middle">10⁵</text>
<path d="M47.5 96C51.85 96.33 56.03 101.2 59.1 106C62.17 110.8 63.63 116.57 65.9 124.8C68.17 133.03 70.87 144.65 72.7 155.4C74.53 166.15 77.47 181.38 76.9 189.3C76.33 197.22 75.1 199.78 69.3 202.9C63.5 206.02 51.17 207.72 42.1 208C33.03 208.28 20.42 208.57 14.9 204.6C9.38 200.63 8.72 192.4 9 184.2C9.28 176 13.92 165.87 16.6 155.4C19.28 144.93 22.37 129.97 25.1 121.4C27.83 112.83 29.27 108.23 33 104C36.73 99.77 43.15 95.67 47.5 96Z" fill="#000"/>
<path d="M23.5 202h0M24 200h0M49 204h0M56.5 202.5h0M15 197h0M43.5 205.5h0M63 127h0M13.5 183h0M65.5 201.5h0M26.5 129.5h0M63.5 129h0M27 200h0M72 177h0M16 190h0M23 139h0M15 185h0M19 204h0M33 108h0M68.5 156h0M48 100h0M56.5 201.5h0M15 190h0M64 128h0M51.5 105h0M65.5 136.5h0M27.5 202h0M68.5 159.5h0M21.5 146h0M63.5 135.5h0M14.5 184h0M33 118h0M13 174.5h0M33.5 111h0M23 137.5h0M25.5 127.5h0M54 106h0M37 202.5h0M73.5 176.5h0M56.5 200.5h0M19.5 165.5h0M20 165h0M66.5 150h0M67 139.5h0M56.5 112.5h0M19 162h0M23.5 138h0M58.5 118.5h0M64.5 130h0M62 131h0M47.5 102h0M58 112.5h0M17.5 203.5h0M30 123h0M67.5 139.5h0M12.5 177.5h0M71.5 188.5h0M12.5 188h0M48.5 204.5h0M65 133.5h0M31.5 118.5h0M39.5 205.5h0M44 101h0M15.5 201.5h0M38 103.5h0M14 183.5h0M55.5 109h0M46 100h0M48 102h0M11 182h0M21.5 146.5h0M26.5 134h0M72 192.5h0M18.5 172h0M12 186.5h0M54.5 110h0M29 201.5h0M35.5 109.5h0M21.5 148h0M58 111h0M63.5 201h0M38.5 203h0M24 200.5h0M27 131.5h0M41.5 203h0M21 201h0M35 202h0M12 180h0M17 199.5h0M66.5 200.5h0M72 172.5h0M25.5 126h0M72 190h0M15 169h0M71.5 168.5h0M46 101h0M70 152.5h0M62.5 202h0M72 195h0M27.5 122.5h0M19.5 164.5h0M72 166h0M71 160.5h0M17 160h0M54.5 201.5h0M65 143h0M63.5 124.5h0M18.5 167.5h0M10.5 183.5h0M21.5 142.5h0M60 113.5h0M44.5 202.5h0M66 132h0M19.5 200.5h0M71 156.5h0M70.5 156.5h0M22 204h0M63.5 138.5h0M22 146h0M63.5 139.5h0M69.5 167.5h0M20 157.5h0M70.5 166.5h0M71.5 176.5h0M22 149.5h0M22 199.5h0M22.5 141.5h0M26.5 124.5h0M41 106.5h0M58.5 117h0M66.5 200h0M52 202.5h0M74 173h0M26.5 125h0M65.5 200h0M33 109h0M57 112.5h0M55 202h0M13 192h0M20 148h0" stroke="#fff" stroke-width="1.3" stroke-linecap="square" fill="none"/>
<path d="M77.5 158h0M64.5 118.5h0M73.5 204h0M70.5 132.5h0M59.5 109h0M70 207.5h0M23 108.5h0M17.5 143.5h0M14.5 154.5h0M73.5 155.5h0M28.5 206h0M75 169h0M68 138h0M74 119h0M76.5 152h0M21.5 105.5h0M19.5 135h0M18.5 139.5h0M16 141h0M70 146.5h0M78.5 180h0M9 192h0M15 161.5h0M22.5 127.5h0M19.5 117.5h0M62.5 114.5h0M12.5 198.5h0M38 208.5h0M74 139.5h0M49.5 207.5h0M62.5 116.5h0M29.5 104.5h0M24 123h0M27 208.5h0M75 178.5h0M16.5 106h0M19 207.5h0M26 121.5h0M23.5 128.5h0M35 214h0M65.5 203h0M13 199h0M58.5 204.5h0M71.5 136h0M85.5 176h0M18.5 141h0M55.5 103.5h0M57 103.5h0M11.5 191h0M75 172.5h0M28 209.5h0M46.5 210h0M83.5 189h0M46.5 94.5h0M74 146h0M66.5 205h0M76.5 147h0M12 192h0M80.5 168h0M75.5 193.5h0M10 158h0M76.5 182h0M21 204.5h0M30 113h0M63 118.5h0M65.5 108h0M72.5 156h0M16 152.5h0M12.5 194.5h0M92 157h0M84.5 186.5h0M70.5 142.5h0M52 211.5h0M57 105h0M4.5 171.5h0M25.5 114h0M33 101.5h0M12 162.5h0M35 96.5h0M53 100.5h0M77.5 172.5h0M37.5 95.5h0M11.5 147.5h0M65 206.5h0M31 103h0M21.5 138h0M76.5 174.5h0M72.5 143.5h0M57.5 205h0M71.5 130h0M75 199h0M33 90h0M77.5 183.5h0M53.5 94h0M57.5 101.5h0M72 136.5h0M17 149.5h0M74 196h0M79 174.5h0M63.5 118h0M40 97.5h0M60 205.5h0M75.5 150.5h0M60.5 108.5h0M64 106h0M69.5 137h0M12 177.5h0M76 130.5h0M59 100.5h0M41.5 210.5h0M74 162h0M47 96.5h0M65 124.5h0M29.5 206.5h0M18.5 150.5h0M63.5 203.5h0M43 99h0M44.5 207.5h0M76.5 161h0M67 205h0M56 102.5h0M66.5 219h0M73.5 163h0M27.5 117h0M21.5 134.5h0M38 210.5h0M55 103.5h0M73.5 164h0M72.5 161h0M71 149h0M72 156h0M24.5 122h0M69.5 130h0M68 93.5h0M32 106.5h0M18.5 214.5h0M37.5 87.5h0M68 210.5h0M26 113h0M10 186h0M19.5 146.5h0M14 159h0M40 208.5h0M68.5 116.5h0M70.5 149.5h0M24.5 123.5h0M25.5 116h0M28 108.5h0M77.5 188h0M19.5 142h0M11 190h0M21 138.5h0M29 210h0M8.5 187h0M11 175h0M74.5 166h0M30 109.5h0M36 102h0M60 110.5h0M39 96h0M36 101.5h0M9.5 181h0M62 99.5h0M17 111h0M66 127.5h0M38.5 98.5h0M6 182.5h0M61.5 109h0M68 136.5h0M20 206.5h0M13 159.5h0M31 107.5h0M74 154.5h0M53 89.5h0M51 97h0M19 121.5h0M66 121.5h0M14 139h0M4 146.5h0M22 120.5h0M23.5 205h0M19 120h0M80 147h0M8 179.5h0M76.5 183.5h0M26 116h0M18 151.5h0M47 207h0M29 216.5h0M54.5 103.5h0M8 202h0M43 207h0M24.5 125.5h0M6 201h0M73 130.5h0M79 195.5h0M10 149.5h0M32 229h0M48.5 98h0M20.5 133h0M22.5 135.5h0M65 114.5h0M26.5 207.5h0M17.5 148.5h0M75 181h0M73 156.5h0M43 208h0M39.5 101h0M63.5 120h0M65.5 124.5h0M10.5 195h0M25.5 120h0M35.5 211h0M60 206.5h0M21 128h0M16.5 149.5h0M62.5 110h0M23 121h0M80.5 145h0M79 178.5h0M21 133.5h0M62.5 204.5h0M19 145h0M68.5 138h0M24.5 123h0M72 139.5h0M74 133h0M40 208h0M76 186h0M27 223.5h0M29.5 113.5h0M14 169h0M49 95h0M76 182h0M27.5 207h0M43 209h0M13 169h0M46.5 211.5h0M60 111h0M90 158.5h0M19.5 129h0M85.5 198h0M17 152.5h0M44 99h0M7.5 193.5h0M9.5 176.5h0M11.5 197h0M76.5 178.5h0M28 113h0M50 205.5h0M29.5 113h0M79.5 179h0M18 123.5h0M38 77.5h0M63 103h0M65.5 77h0M54 81h0M34 97h0M55.5 85h0M32 79.5h0M45 99h0M65 95.5h0M38 83.5h0M47.5 97h0M28.5 94h0M41 98.5h0M32 99.5h0M60 103.5h0M61 93h0M48 83h0M46.5 85.5h0M52.5 98h0M45.5 104.5h0M35 87.5h0M62.5 90h0M53 71.5h0M60.5 86.5h0M41 100h0M47.5 78h0M59 84h0M43.5 86.5h0M43 88.5h0M43.5 88h0M69.5 94h0M52 87h0M63 96h0M47.5 87.5h0M54 78h0M40.5 89h0M50 93h0M33.5 96.5h0M43 87.5h0M48 89h0M43 89h0M53 92h0M49 86.5h0M57.5 93h0M40 100.5h0M34.5 86h0M54 88.5h0M44 89h0M47 95.5h0M52.5 86.5h0M42.5 76h0M42.5 95.5h0M47 101.5h0M44.5 94h0M54.5 83h0M59 81h0M44.5 77.5h0M44.5 84h0M55.5 76h0M51 95h0M52 99.5h0M54 84.5h0M52.5 86h0M41 89.5h0M42.5 87h0M56 92.5h0M30 85.5h0M42.5 110h0M49 87.5h0M51 73.5h0M60.5 89h0M40 83h0M54 107.5h0M43.5 91h0M45.5 95h0M43 93h0M40 91h0M54 80h0M53.5 105.5h0M41 89h0M48 91.5h0M37 98.5h0M52.5 100h0M53 87h0M45.5 87h0M70 89h0M46 94h0M50.5 104.5h0M36 94h0M51 95.5h0M40 99h0M51 84h0M37.5 107.5h0M41.5 79.5h0M50.5 83.5h0M46.5 96h0M39 81h0M63.5 81.5h0M36.5 92h0M50.5 91.5h0M39 99h0M37 85.5h0M53 100h0M51 99h0M50.5 98.5h0M40.5 86h0M52 100h0M43.5 86h0M45.5 100.5h0M46 90h0M45.5 89.5h0M51.5 88.5h0M48 90h0M40 92.5h0M49.5 78.5h0M49 94h0M46 83.5h0M41 97.5h0M39 100h0M43.5 94.5h0M20.5 96.5h0M48.5 79.5h0M56 88h0M36.5 103h0M59.5 100h0M54.5 101h0M31.5 91h0M59.5 82h0M48 76.5h0M44 73h0M46 58.5h0M56 78h0M21.5 78h0M49 77h0M53 83.5h0M52.5 66.5h0M28 72.5h0M55 65h0M42.5 74h0M45.5 67h0M52 76h0M55 79h0M46.5 85h0M58.5 81.5h0M40.5 80.5h0M56.5 83.5h0M61.5 86h0M44 92.5h0M53.5 83h0M49 69.5h0M29.5 82.5h0M56 89.5h0M39.5 77.5h0M42.5 82.5h0M40.5 72.5h0M34 77h0M56 69.5h0M43 88h0M40 63.5h0M38.5 83.5h0M47.5 71.5h0M41 86.5h0M43.5 82h0M37.5 72h0M68.5 77h0M38.5 81.5h0M118.5 185h0M114.5 182h0M131.5 197h0M127 192.5h0M133 177.5h0M136.5 176h0M84.5 185h0M88 177.5h0M115.5 174.5h0M102.5 181h0M136.5 172.5h0M109.5 184h0M88 180.5h0M100.5 180.5h0M155 100h0M134 127h0M146 158h0M12 104h0M34 64h0M50 56h0" stroke="#000" stroke-width="1.9" stroke-linecap="square" fill="none"/>
<path d="M45.5 147.7C48.17 147.7 50.42 154.62 53 160C55.58 165.38 59.5 174 61 180C62.5 186 64.83 192.33 62 196C59.17 199.67 50 202 44 202C38 202 28.83 199.67 26 196C23.17 192.33 25.17 186 27 180C28.83 174 33.92 165.38 37 160C40.08 154.62 42.83 147.7 45.5 147.7Z" fill="#a4a4a4" stroke="#e4e4e4" stroke-width="1.6"/>
<path d="M45.1 202.3L36.1 201.2L28.3 198.1L25.2 194.4L24.7 189.4L26.3 182.2L29.6 173.9L42.3 151.4L44.2 148.9L45.6 148.4L47.2 149.4L48.9 152.2L59.5 175.4L62.7 186.4L63.2 192.4L62.0 195.9L58.6 198.7L51.6 201.3ZM45.1 202.0L36.3 201.0L28.9 197.9L25.6 194.2L25.2 189.7L26.3 183.8L29.1 176.4L45.3 150.3L46.8 151.9L59.1 176.2L61.8 184.9L62.8 190.7L62.3 194.4L58.8 198.2L53.6 200.5ZM45.3 201.7L38.8 201.3L31.1 198.7L27.1 195.2L26.1 189.9L27.2 184.2L30.2 176.9L45.3 155.5L58.3 177.6L60.7 183.9L61.9 190.2L61.1 194.7L58.2 197.9L52.7 200.4ZM45.3 201.5L38.8 201.0L32.4 198.4L28.3 194.7L27.4 190.2L28.6 184.2L31.7 177.4L35.3 172.7L45.1 162.7L56.6 177.6L59.3 184.1L60.5 190.2L59.8 194.4L56.0 198.2L50.6 200.7ZM45.6 201.0L39.3 200.5L34.1 198.2L29.8 194.2L28.9 190.7L30.0 184.7L33.2 178.2L37.3 173.6L44.8 168.1L50.8 173.3L55.1 178.4L57.9 184.4L59.0 190.2L58.4 193.7L55.3 197.2L50.4 199.9ZM45.8 200.0L41.1 199.8L36.1 197.9L32.0 194.4L30.5 190.9L31.3 185.4L34.2 179.7L38.8 175.1L44.6 171.8L49.6 175.0L53.6 179.3L56.4 184.7L57.5 190.2L57.0 192.9L54.1 196.4L50.1 198.8ZM46.1 198.7L41.3 198.6L37.3 197.1L33.8 194.2L32.0 190.9L32.8 185.9L35.4 180.9L39.3 177.1L44.3 174.5L48.3 176.6L52.1 180.2L54.8 185.0L55.9 189.9L55.6 192.2L53.0 195.4L49.8 197.5ZM45.3 197.5L41.6 197.3L37.9 195.7L35.1 193.2L33.6 190.2L34.4 185.9L36.8 181.7L40.3 178.6L44.3 176.8L48.1 178.7L51.3 181.9L53.4 185.7L54.4 189.9L53.6 192.3L51.3 194.8L48.3 196.7ZM45.1 196.0L41.8 195.8L39.1 194.6L36.7 192.4L35.2 189.7L35.9 186.4L38.0 182.9L40.6 180.6L44.1 179.0L47.1 180.3L49.8 182.7L51.8 185.9L52.7 189.4L51.9 191.7L49.8 193.9ZM44.8 194.2L42.1 194.0L39.9 192.9L38.0 190.9L37.1 188.7L39.4 183.9L44.1 181.1L48.4 183.7L50.9 188.7L48.7 192.4ZM45.3 191.7L41.8 191.4L39.5 188.2L40.6 185.4L43.8 183.3L46.6 184.7L48.5 187.4L47.6 190.1ZM44.3 188.0L43.3 187.5L43.8 186.6L44.6 187.0Z" fill="none" stroke="#4a4a4a" stroke-width="0.9"/>
<ellipse cx="44" cy="190" rx="3.5" ry="2" fill="#f2f2f2"/>
<path d="M71 22.1L224.6 21.3L223.8 156.2L110.9 157.9L71 130.8Z" fill="none" stroke="#D63F5C" stroke-width="2"/>
<text x="214.4" y="221.6" font-size="19.5" fill="#DA4763" text-anchor="end">4.76E-3</text>
<rect x="0" y="0" width="242.1" height="240.3" fill="none" stroke="#111" stroke-width="2.2"/>
</g>
<g transform="translate(463.8,921.5)">
<path d="M-5 22.8h5M-5 78.8h5M-5 138.8h5M-5 199.9h5M51.8 241.5v5M103.6 241.5v5M165.5 241.5v5M218.2 241.5v5" stroke="#111" stroke-width="1.6" fill="none"/>
<path d="M-2.5 61.94h2.5M-2.5 52.08h2.5M-2.5 45.08h2.5M-2.5 39.66h2.5M-2.5 35.22h2.5M-2.5 31.47h2.5M-2.5 28.23h2.5M-2.5 25.36h2.5M-2.5 120.74h2.5M-2.5 110.17h2.5M-2.5 102.68h2.5M-2.5 96.86h2.5M-2.5 92.11h2.5M-2.5 88.09h2.5M-2.5 84.61h2.5M-2.5 81.55h2.5M-2.5 181.51h2.5M-2.5 170.75h2.5M-2.5 163.11h2.5M-2.5 157.19h2.5M-2.5 152.35h2.5M-2.5 148.26h2.5M-2.5 144.72h2.5M-2.5 141.6h2.5M122.23 241.5v2.5M133.13 241.5v2.5M140.87 241.5v2.5M146.87 241.5v2.5M151.77 241.5v2.5M155.91 241.5v2.5M159.5 241.5v2.5M162.67 241.5v2.5M181.36 241.5v2.5M190.64 241.5v2.5M197.23 241.5v2.5M202.34 241.5v2.5M206.51 241.5v2.5M210.04 241.5v2.5M213.09 241.5v2.5M215.79 241.5v2.5M-3 240.63h3M17.27 241.5v3M-3 220.27h3M34.53 241.5v3M-3 179.53h3M69.07 241.5v3M-3 159.17h3M86.33 241.5v3" stroke="#222" stroke-width="1" fill="none"/>
<path d="M-5 190h5M41.9 241.5v5M-5 192.2h5M44.1 241.5v5M-5 194.4h5M46.3 241.5v5M-5 195.5h5M47.4 241.5v5M-5 197.7h5M49.6 241.5v5M-5 198.8h5M50.7 241.5v5M-5 199.9h5M51.8 241.5v5M-5 201h5M52.9 241.5v5M-5 203.2h5M55.1 241.5v5M-5 204.3h5M56.2 241.5v5M-5 206.5h5M58.4 241.5v5M-5 208.7h5M60.6 241.5v5" stroke="#000" stroke-width="1" fill="none"/>
<text x="-8" y="25.8" font-size="8.5" fill="#333" text-anchor="end">10⁵</text>
<text x="-8" y="81.8" font-size="8.5" fill="#333" text-anchor="end">10⁴</text>
<text x="-8" y="141.8" font-size="8.5" fill="#333" text-anchor="end">10³</text>
<text x="-8" y="202.9" font-size="8.5" fill="#333" text-anchor="end">0</text>
<text x="51.8" y="257.5" font-size="8.5" fill="#333" text-anchor="middle">0</text>
<text x="103.6" y="257.5" font-size="8.5" fill="#333" text-anchor="middle">10³</text>
<text x="165.5" y="257.5" font-size="8.5" fill="#333" text-anchor="middle">10⁴</text>
<text x="218.2" y="257.5" font-size="8.5" fill="#333" text-anchor="middle">10⁵</text>
<path d="M50.9 56.4C56.28 56.97 61.1 68.32 64.5 76.8C67.9 85.28 69.6 96.55 71.3 107.3C73 118.05 73 129.97 74.7 141.3C76.4 152.63 80.37 165.97 81.5 175.3C82.63 184.63 87.73 191.65 81.5 197.3C75.27 202.95 53.73 207.22 44.1 209.2C34.47 211.18 29.78 212.03 23.7 209.2C17.62 206.37 9.28 203.52 7.6 192.2C5.92 180.88 11.2 155.45 13.6 141.3C16 127.15 18.9 118.62 22 107.3C25.1 95.98 27.38 81.88 32.2 73.4C37.02 64.92 45.52 55.83 50.9 56.4Z" fill="#000"/>
<path d="M31.5 87h0M67 118.5h0M66.5 104h0M59 74.5h0M15.5 144h0M23.5 202h0M51 60.5h0M57 72h0M25.5 114h0M44 205h0M27 96h0M57.5 70h0M16.5 195h0M64.5 97h0M14 150.5h0M13.5 192.5h0M9.5 191.5h0M72 135h0M37.5 70.5h0M65 94.5h0M61 78.5h0M16 165h0M65 87.5h0M60.5 78.5h0M55.5 204h0M13 178h0M30 89h0M15.5 151h0M63.5 78.5h0M13.5 180.5h0M24 106h0M64.5 98h0M17 139h0M72.5 149.5h0M75 164h0M48.5 59h0M20 138h0M35.5 203.5h0M31 85h0M53.5 203.5h0M66 110.5h0M72 133h0M73.5 151h0M38 72h0M67.5 129.5h0M65 85.5h0M77 183.5h0M61 83h0M67 197h0M9 188h0M15 177.5h0M70 117.5h0M65.5 105h0M43.5 205h0M14 163.5h0M59 199h0M20 199h0M32.5 81.5h0M66.5 107h0M73.5 152.5h0M44 204.5h0M28 205h0M33.5 86.5h0M23 206h0M13.5 173h0M70.5 200h0M22 128.5h0M26.5 109.5h0M73.5 162.5h0M67 93h0M78 185.5h0M29 89.5h0M74.5 151h0M14.5 185.5h0M14 181.5h0M40 69h0M63.5 97h0M20 133.5h0M78.5 177.5h0M63.5 91.5h0M10.5 184h0M25 106h0M15.5 199h0M57.5 74.5h0M46 66.5h0M77 195.5h0M12.5 182.5h0M16 150h0M74 150h0M73 195h0M78.5 175.5h0M63 89h0M60.5 79h0M15.5 152.5h0M72.5 195.5h0M26.5 96.5h0M62 77.5h0M74 165.5h0M71 119.5h0M36 71.5h0M18.5 125h0M33 88h0M39 207.5h0M64.5 92h0M71 197.5h0M69 137h0M53.5 66.5h0M22 202h0M77.5 160.5h0M63 93.5h0M37.5 204.5h0M35 76.5h0M39.5 74h0M52.5 202h0M63 91.5h0M21 134h0M64.5 96h0M27.5 208h0M60.5 85h0M51.5 64h0M25.5 207h0M64 201.5h0M74.5 154h0M24 207.5h0M45.5 65.5h0M67 200.5h0M71.5 130.5h0M36 208h0M33.5 79.5h0M79 194.5h0M13.5 184h0M79.5 173.5h0M25 119h0M30.5 203.5h0M66.5 105h0M60.5 74.5h0M36 74h0M53 203h0" stroke="#fff" stroke-width="1.3" stroke-linecap="square" fill="none"/>
<path d="M6 188h0M17 124h0M25.5 61h0M13 143.5h0M31.5 77h0M57.5 64h0M54 210.5h0M36 71.5h0M9.5 176h0M24.5 84.5h0M68 93h0M58 220h0M77.5 143.5h0M25 212h0M15 205.5h0M56.5 57.5h0M75.5 132h0M78 156.5h0M29 79.5h0M12 133h0M71 110.5h0M17.5 120.5h0M77 102.5h0M9 188.5h0M70.5 99.5h0M54.5 55.5h0M25 93.5h0M74.5 130h0M79.5 131h0M47 60h0M27 94h0M81.5 159h0M41 65.5h0M28.5 216.5h0M9.5 166.5h0M75 127.5h0M35 71.5h0M6 163h0M42.5 64h0M24 85.5h0M78.5 164.5h0M94 188.5h0M75 112h0M76 104h0M67.5 78h0M82.5 162.5h0M8 193h0M51.5 58h0M9.5 168h0M84 176h0M79.5 167h0M20.5 116.5h0M48.5 210h0M86.5 167h0M49.5 208.5h0M9.5 156.5h0M70 69h0M45 63h0M55.5 64h0M13 138h0M21 104h0M55 62h0M17.5 125h0M83 187h0M16 201h0M55 56h0M64 69.5h0M72 120.5h0M37.5 69.5h0M75 124h0M8.5 136.5h0M32 73.5h0M36 71h0M80.5 179h0M91 185h0M34 209h0M5 127h0M72.5 90h0M11.5 140.5h0M18 123h0M22 99.5h0M58.5 66.5h0M32.5 66h0M71 85h0M87 179h0M5.5 191.5h0M27 78h0M81 177h0M31 78.5h0M24.5 216h0M83.5 166h0M82 171.5h0M74.5 118h0M66.5 80h0M71 106.5h0M10.5 163h0M44.5 53.5h0M71.5 111.5h0M60.5 71h0M27.5 208.5h0M74 200.5h0M78 141h0M9.5 196h0M21.5 111.5h0M57 205.5h0M72 204h0M61.5 72.5h0M30 81h0M59.5 68h0M45 210h0M20.5 108h0M73.5 101h0M13 147.5h0M36.5 66h0M6 184.5h0M5.5 125h0M67.5 93.5h0M67 202.5h0M73.5 109.5h0M21 105.5h0M78 160.5h0M60.5 211.5h0M43.5 51.5h0M23 104h0M42.5 63h0M59 204.5h0M48 208.5h0M14 145.5h0M49 207.5h0M79.5 160.5h0M77 198h0M70.5 107h0M89.5 193h0M43 56h0M40.5 67h0M7 185.5h0M41.5 210h0M85 180h0M66.5 85.5h0M82 151.5h0M17 129h0M26 96h0M86.5 186h0M17.5 128.5h0M16 132.5h0M10.5 160h0M10 173.5h0M11.5 137.5h0M81.5 186.5h0M11 158.5h0M78.5 156h0M48 212h0M9 130.5h0M7 161h0M80 162.5h0M35 67h0M6 176h0M14 199.5h0M53 58.5h0M25.5 208.5h0M76 146.5h0M10 171h0M56 209.5h0M20.5 117.5h0M9.5 179h0M13 119h0M84 180.5h0M8 180h0M12.5 146h0M19.5 109.5h0M85 181h0M20.5 106.5h0M22 95.5h0M2.5 160.5h0M44 63.5h0M33.5 62h0M35 210h0M29 213.5h0M74 116h0M19.5 109h0M30 69h0M48 207h0M12 161.5h0M11.5 149.5h0M12 148h0M72 115h0M14.5 129h0M13 203.5h0M9.5 172.5h0M73 214h0M2.5 186h0M15 132h0M3.5 181.5h0M13 152h0M56.5 66h0M78.5 110h0M65 207.5h0M6.5 175.5h0M76.5 135h0M10 165.5h0M7 184h0M59 69.5h0M54 206.5h0M74.5 136h0M63.5 73.5h0M71.5 103.5h0M85.5 171h0M75.5 120h0M75 125.5h0M59 67.5h0M55 209h0M81.5 192h0M8.5 192h0M10.5 198h0M78 140h0M21 82.5h0M53 53.5h0M76.5 203h0M88 155.5h0M73.5 203h0M72.5 95h0M21.5 110h0M88.5 190.5h0M68.5 61.5h0M7 192.5h0M67.5 86.5h0M23 212h0M89 179h0M15.5 201.5h0M37.5 64.5h0M16.5 114.5h0M74 206.5h0M19 117.5h0M7 178h0M81 190.5h0M74.5 103h0M11.5 195.5h0M14.5 207h0M36.5 65h0M41.5 63.5h0M3 198h0M81.5 183.5h0M17 85.5h0M49.5 56h0M70 92.5h0M20 205h0M6 189.5h0M74 105h0M9 185h0M23 85h0M82 193.5h0M65.5 205h0M74 137.5h0M84 159.5h0M42.5 64.5h0M81 192h0M40.5 66h0M31 79.5h0M161 121.5h0M168.5 117h0M181.5 128h0M149 128.5h0M91.5 89.5h0M87 94.5h0M121 105.5h0M155 118.5h0M89 103h0M140 102h0M93 112h0M121 116h0M134.5 128.5h0M184 88h0M163.5 117.5h0M112.5 90.5h0M132.5 101h0M161 126.5h0M122 98h0M135 116.5h0M167 111h0M112.5 100h0M173.5 108.5h0M85.5 104h0M106 115h0M88 97h0M90.5 106.5h0M188.5 109.5h0M122.5 127h0M90 101h0M169 85h0M164.5 101h0M82 96.5h0M130.5 102h0M137 87.5h0M104 129h0M128.5 106h0M89.5 97.5h0M185 116h0M136 87.5h0M123 120h0M128 111.5h0M179.5 114h0M150 86.5h0M82.5 119.5h0M125.5 124.5h0M171 126h0M121.5 130h0M163 125h0M96.5 120h0M126.5 128.5h0M189.5 95h0M126.5 97h0M131.5 98h0M153.5 90.5h0M98.5 105.5h0M88 102h0M178.5 125h0M101.5 86h0M171 128h0M142 165.5h0M103.5 197h0M178.5 161h0M98 177h0M106.5 190h0M118 191h0M94.5 180.5h0M182.5 188h0M87.5 164.5h0M147 175h0M117.5 179h0M140 198.5h0M104 182.5h0M106 182h0M156.5 165.5h0M129.5 188h0M79 191h0M123 180h0M143.5 191.5h0M84 180h0M82 175.5h0M115 161h0M110 178h0M148 197h0M117.5 181h0M154.5 197.5h0M179.5 199.5h0M110.5 166.5h0M177.5 163h0M126 189.5h0M134.5 175.5h0M177 172h0M137 193h0M93 174h0M131 182.5h0M100 178h0M84.5 163.5h0M114.5 166h0M181.5 170.5h0M107.5 191.5h0M157.5 170.5h0M166.5 185h0M119.5 185h0M104.5 170.5h0M172 177.5h0M194 48h0M30 55h0M70 100h0" stroke="#000" stroke-width="1.9" stroke-linecap="square" fill="none"/>
<path d="M46.7 142.2C49.37 142.2 51.28 151.7 54 158C56.72 164.3 61.67 173.33 63 180C64.33 186.67 65 194.12 62 198C59 201.88 50.83 203.3 45 203.3C39.17 203.3 29.83 201.88 27 198C24.17 194.12 26.17 186.67 28 180C29.83 173.33 34.88 164.3 38 158C41.12 151.7 44.03 142.2 46.7 142.2Z" fill="#a4a4a4" stroke="#e4e4e4" stroke-width="1.6"/>
<path d="M47.3 203.5L38.3 202.9L30.6 200.6L27.1 197.9L25.8 193.7L26.3 186.9L29.7 175.4L44.1 145.8L46.6 143.0L47.6 143.4L48.9 145.7L53.2 157.4L61.3 174.7L63.4 182.2L64.2 189.4L63.1 195.9L60.3 199.6L54.3 202.3ZM47.3 203.2L38.3 202.6L30.3 199.9L27.1 196.7L26.3 191.2L27.6 183.4L30.3 175.6L40.0 158.7L46.6 145.4L52.5 159.7L61.3 176.4L63.0 182.4L63.8 189.4L62.8 195.5L60.1 199.3L54.1 202.1ZM47.1 203.0L38.3 202.2L31.4 199.4L28.2 196.2L27.4 190.9L28.7 183.2L31.3 176.4L41.4 161.4L46.3 152.4L50.0 160.7L60.5 177.4L62.5 183.9L63.1 189.4L62.1 195.2L59.6 198.8L54.0 201.7ZM46.8 202.5L40.3 201.9L33.2 198.9L29.8 195.7L28.9 190.9L30.1 183.5L32.9 176.9L36.3 172.2L46.1 161.4L58.5 176.9L60.9 182.9L61.8 189.4L60.9 194.7L58.7 197.9L53.6 201.0ZM46.6 201.5L40.8 200.9L34.7 198.2L31.3 194.9L30.5 191.2L31.5 184.2L34.5 177.7L38.8 172.6L45.8 167.1L52.6 172.5L56.8 177.6L59.4 183.2L60.3 189.4L59.4 194.4L57.1 197.4L52.3 200.2ZM46.6 200.2L41.1 199.6L36.6 197.6L32.8 194.2L32.1 190.9L32.9 184.9L35.4 179.4L39.8 174.5L45.8 170.8L51.1 174.0L55.5 178.7L57.9 183.7L58.8 189.2L58.2 193.4L56.3 196.2L51.8 199.0ZM47.8 198.7L43.8 198.8L39.1 197.3L35.0 194.2L33.8 191.4L34.2 185.9L36.5 180.7L40.6 176.4L45.6 173.6L49.8 175.6L53.6 179.0L56.0 182.9L57.2 187.4L57.1 191.4L55.9 194.4L52.4 197.2ZM46.3 197.5L42.1 196.9L38.6 195.2L35.8 192.4L35.3 189.9L36.0 185.4L38.2 181.2L41.6 177.9L45.8 175.9L49.8 177.9L53.0 180.9L55.1 184.9L55.8 188.9L55.3 192.4L53.6 194.4L50.3 196.5ZM45.8 196.0L40.1 194.2L37.6 191.9L36.9 189.9L37.5 185.9L39.3 182.4L42.1 179.8L45.6 178.1L48.8 179.4L51.7 181.9L53.6 185.4L54.2 188.9L53.8 191.7L52.1 193.6L49.1 195.3ZM45.8 194.2L41.5 192.9L38.6 189.4L39.1 186.4L40.6 183.7L42.8 181.5L45.6 180.2L48.2 181.2L50.6 183.4L51.9 185.9L52.5 188.9L52.2 190.7L50.6 192.4ZM46.6 192.0L42.8 191.2L40.7 188.4L42.3 184.7L45.6 182.4L48.8 184.5L50.5 188.2L49.5 190.4ZM46.3 189.5L44.3 189.3L42.9 187.4L43.6 185.8L45.3 184.5L47.1 185.3L48.3 187.2L47.8 188.7Z" fill="none" stroke="#4a4a4a" stroke-width="0.9"/>
<ellipse cx="45.8" cy="189" rx="3.5" ry="2" fill="#f2f2f2"/>
<path d="M70.4 22.5L224.1 21.6L223.2 157.4L110.3 157.9L73 133.7Z" fill="none" stroke="#D63F5C" stroke-width="2"/>
<text x="221.5" y="222" font-size="19.5" fill="#DA4763" text-anchor="end">0.016</text>
<rect x="0" y="0" width="241.1" height="241.5" fill="none" stroke="#111" stroke-width="2.2"/>
</g>
<g transform="translate(740.9,921)">
<path d="M-5 22.8h5M-5 78.8h5M-5 138.8h5M-5 199.9h5M51.8 242v5M103.6 242v5M165.5 242v5M218.2 242v5" stroke="#111" stroke-width="1.6" fill="none"/>
<path d="M-2.5 61.94h2.5M-2.5 52.08h2.5M-2.5 45.08h2.5M-2.5 39.66h2.5M-2.5 35.22h2.5M-2.5 31.47h2.5M-2.5 28.23h2.5M-2.5 25.36h2.5M-2.5 120.74h2.5M-2.5 110.17h2.5M-2.5 102.68h2.5M-2.5 96.86h2.5M-2.5 92.11h2.5M-2.5 88.09h2.5M-2.5 84.61h2.5M-2.5 81.55h2.5M-2.5 181.51h2.5M-2.5 170.75h2.5M-2.5 163.11h2.5M-2.5 157.19h2.5M-2.5 152.35h2.5M-2.5 148.26h2.5M-2.5 144.72h2.5M-2.5 141.6h2.5M122.23 242v2.5M133.13 242v2.5M140.87 242v2.5M146.87 242v2.5M151.77 242v2.5M155.91 242v2.5M159.5 242v2.5M162.67 242v2.5M181.36 242v2.5M190.64 242v2.5M197.23 242v2.5M202.34 242v2.5M206.51 242v2.5M210.04 242v2.5M213.09 242v2.5M215.79 242v2.5M-3 240.63h3M17.27 242v3M-3 220.27h3M34.53 242v3M-3 179.53h3M69.07 242v3M-3 159.17h3M86.33 242v3" stroke="#222" stroke-width="1" fill="none"/>
<path d="M-5 190h5M41.9 242v5M-5 192.2h5M44.1 242v5M-5 194.4h5M46.3 242v5M-5 195.5h5M47.4 242v5M-5 197.7h5M49.6 242v5M-5 198.8h5M50.7 242v5M-5 199.9h5M51.8 242v5M-5 201h5M52.9 242v5M-5 203.2h5M55.1 242v5M-5 204.3h5M56.2 242v5M-5 206.5h5M58.4 242v5M-5 208.7h5M60.6 242v5" stroke="#000" stroke-width="1" fill="none"/>
<text x="-8" y="25.8" font-size="8.5" fill="#333" text-anchor="end">10⁵</text>
<text x="-8" y="81.8" font-size="8.5" fill="#333" text-anchor="end">10⁴</text>
<text x="-8" y="141.8" font-size="8.5" fill="#333" text-anchor="end">10³</text>
<text x="-8" y="202.9" font-size="8.5" fill="#333" text-anchor="end">0</text>
<text x="51.8" y="258" font-size="8.5" fill="#333" text-anchor="middle">0</text>
<text x="103.6" y="258" font-size="8.5" fill="#333" text-anchor="middle">10³</text>
<text x="165.5" y="258" font-size="8.5" fill="#333" text-anchor="middle">10⁴</text>
<text x="218.2" y="258" font-size="8.5" fill="#333" text-anchor="middle">10⁵</text>
<path d="M50.1 51.8C54.07 52.65 59.02 55.2 62 60.3C64.98 65.4 66.87 71.65 68 82.4C69.13 93.15 68.38 110.65 68.8 124.8C69.22 138.95 69.65 156.83 70.5 167.3C71.35 177.77 75.32 181.95 73.9 187.6C72.48 193.25 67.38 198.22 62 201.2C56.62 204.18 48.4 205.07 41.6 205.5C34.8 205.93 26.28 206.5 21.2 203.8C16.12 201.1 11.93 195.38 11.1 189.3C10.27 183.22 15.08 178.05 16.2 167.3C17.32 156.55 16.97 137.53 17.8 124.8C18.63 112.07 19.5 100.8 21.2 90.9C22.9 81 25.17 71.35 28 65.4C30.83 59.45 34.52 57.47 38.2 55.2C41.88 52.93 46.13 50.95 50.1 51.8Z" fill="#000"/>
<path d="M26.5 80h0M53 58.5h0M36 59.5h0M22 117.5h0M53.5 58h0M60.5 67h0M65 89h0M63.5 80h0M63.5 107h0M63.5 125.5h0M29 201.5h0M40 201h0M67 138h0M45.5 55h0M14.5 189h0M33.5 202.5h0M22.5 101h0M17.5 181h0M26.5 86h0M22 101h0M68.5 179h0M28.5 86h0M16 178.5h0M54 60h0M68 169h0M21 155h0M22.5 150h0M23 149h0M23.5 122.5h0M19.5 139.5h0M31 74.5h0M68 140.5h0M28.5 80.5h0M25.5 108.5h0M66 130.5h0M17.5 186.5h0M24.5 91h0M22.5 94.5h0M63 124.5h0M60.5 61.5h0M23.5 199.5h0M62 76.5h0M29.5 200h0M64 89.5h0M62.5 91.5h0M27.5 84.5h0M15 178.5h0M60.5 69.5h0M24.5 198.5h0M65 154h0M54.5 199.5h0M21.5 129h0M29.5 78.5h0M55 61.5h0M52.5 55h0M29.5 69.5h0M65.5 96.5h0M21.5 101h0M19 174.5h0M16.5 189.5h0M17 174.5h0M65.5 191h0M26.5 96.5h0M38.5 59.5h0M68 149.5h0M66 134.5h0M60.5 196.5h0M71.5 183.5h0M23 199h0M34 65.5h0M69.5 165.5h0M31.5 67h0M68.5 147.5h0M69.5 183.5h0M19.5 131h0M18 157.5h0M28.5 75h0M17.5 181.5h0M69 155.5h0M24 110.5h0M66.5 138.5h0M54 59.5h0M67 168.5h0M39.5 58.5h0M53.5 56h0M22.5 90.5h0M19.5 150h0M22.5 163h0M17 182.5h0M67.5 119.5h0M44 201h0M50.5 55.5h0M22.5 99.5h0M61 196h0M56 197h0M59.5 195h0M69 181h0M68 183.5h0M63 123h0M29.5 68.5h0M56 60.5h0M66.5 100h0M17.5 184h0M26.5 95h0M65.5 97.5h0M40.5 200.5h0M45.5 56h0M24 87h0M66 131.5h0M44 56h0M50.5 57.5h0M67.5 102h0M26 92.5h0M65.5 118.5h0M61.5 62.5h0M64.5 190.5h0M43 57h0M19 141h0M64.5 112.5h0M24.5 94h0M67 158h0M21.5 117h0M21.5 202h0M21.5 166h0M38.5 203.5h0M16.5 171.5h0M15 186.5h0M32 68.5h0M39 202.5h0M26.5 95.5h0M33 199.5h0M63 79h0M18 182.5h0M62 198h0M62.5 197.5h0M19.5 178h0M67 141h0" stroke="#fff" stroke-width="1.3" stroke-linecap="square" fill="none"/>
<path d="M15.5 113h0M20.5 103.5h0M44.5 204.5h0M82.5 140h0M55.5 46h0M13.5 162h0M49.5 206.5h0M16.5 128h0M79 183.5h0M13.5 124h0M72 145.5h0M15 110h0M68 199h0M23 203.5h0M17.5 156.5h0M68 118.5h0M19 199h0M10 109.5h0M74.5 142h0M19.5 113h0M15.5 97h0M73 168.5h0M66.5 79.5h0M19.5 110h0M18.5 110h0M57.5 204h0M68.5 78.5h0M68 120h0M15 173.5h0M74.5 153.5h0M28.5 52h0M11 192h0M71 119.5h0M10.5 165.5h0M76 179.5h0M29.5 62.5h0M19 71.5h0M30 212.5h0M10 169h0M17 151.5h0M19 108.5h0M39.5 54h0M57.5 57h0M75 180h0M3.5 185h0M71 156.5h0M4.5 193h0M69 80h0M22 81h0M28.5 205.5h0M85.5 89.5h0M14.5 161.5h0M73 162h0M68 116.5h0M43 204.5h0M71.5 95h0M70 121.5h0M19.5 86h0M17.5 148h0M54.5 51.5h0M17.5 121.5h0M58.5 53.5h0M70 167.5h0M23.5 72h0M10 178h0M69.5 159.5h0M75 186h0M73.5 191h0M79.5 92.5h0M47 45h0M63 67.5h0M62.5 199.5h0M16.5 133.5h0M70 192h0M43.5 53h0M68.5 137.5h0M44 53h0M25 77.5h0M15 160.5h0M25 79.5h0M59.5 207.5h0M19 102.5h0M2 110h0M31 207.5h0M49.5 203h0M13.5 146h0M78 205.5h0M67.5 76h0M16 132.5h0M71.5 145.5h0M40.5 207h0M15 119.5h0M72.5 109.5h0M56.5 53.5h0M74.5 90.5h0M71.5 177.5h0M69 139.5h0M56.5 202h0M24.5 64h0M76 138.5h0M70 197.5h0M24.5 81.5h0M12 182.5h0M69.5 146.5h0M47 204h0M46 206.5h0M71 96h0M74.5 185.5h0M72.5 159h0M19 110h0M82 165h0M13.5 163h0M38.5 55h0M16.5 65h0M74.5 184h0M77 162.5h0M41 206h0M17 116h0M30.5 63.5h0M71.5 152h0M50.5 52h0M56.5 202.5h0M64.5 67h0M63 54h0M14.5 122.5h0M69.5 87.5h0M10.5 143h0M71.5 178h0M30.5 60.5h0M21.5 91h0M67 69.5h0M75.5 115h0M29 58h0M13.5 181.5h0M66.5 198h0M18 120h0M20 108.5h0M41.5 204.5h0M49 204.5h0M71 82h0M73.5 178.5h0M70.5 97.5h0M14 178.5h0M9.5 184.5h0M68 98h0M12.5 175h0M70 81h0M68 86h0M12 169h0M51 204.5h0M26 75h0M7 174.5h0M15.5 149.5h0M75.5 91.5h0M20 99h0M67.5 77.5h0M12.5 179h0M26 71h0M24.5 74h0M18 77.5h0M54.5 205h0M15.5 152h0M18 113h0M67.5 97.5h0M30.5 60h0M24 71h0M58 207.5h0M16.5 120.5h0M55 203h0M71 146h0M15 146h0M65 69.5h0M17 111.5h0M41 49h0M81 152h0M32 61.5h0M67.5 78h0M19 90.5h0M69.5 150.5h0M36.5 56.5h0M67.5 202.5h0M28 69.5h0M61.5 56.5h0M68 78.5h0M18.5 107h0M25.5 203.5h0M67 49h0M69 109h0M74 183.5h0M65.5 63.5h0M49 52.5h0M16 125h0M35 58.5h0M15.5 147.5h0M74.5 173h0M65.5 76h0M11.5 139h0M67.5 88h0M19 205.5h0M55.5 218.5h0M39.5 207.5h0M66 74h0M66.5 73.5h0M31.5 209h0M59.5 58h0M27.5 204.5h0M67.5 99.5h0M71.5 148.5h0M68 101h0M14 197h0M74.5 190h0M70 129.5h0M75 129h0M9 202h0M26.5 71h0M66 197h0M69 104h0M71.5 161.5h0M69 134h0M11.5 196.5h0M18.5 116h0M15.5 197h0M69.5 114h0M70 168h0M76 187h0M59.5 204h0M74 191.5h0M49.5 52.5h0M19.5 204h0M16.5 164h0M6 141.5h0M16.5 170.5h0M18.5 111.5h0M73.5 185h0M8.5 162.5h0M37.5 51h0M71 104.5h0M11.5 176h0M86 199h0M71 65h0M64 59h0M18.5 125.5h0M67 87h0M16.5 146.5h0M74 81.5h0M73.5 181.5h0M61.5 53.5h0M20 206.5h0M16.5 117h0M69 127.5h0M17 197.5h0M27.5 66.5h0M69.5 152.5h0M49 208.5h0M178.5 124h0M166 105h0M112 113.5h0M144.5 145.5h0M118 91.5h0M122.5 85h0M105 90h0M141 140.5h0M194.5 126h0M110.5 111h0M166 115h0M121 124h0M135 91.5h0M193.5 119h0M151.5 129h0M134 65.5h0M180 101h0M144 95.5h0M198 102h0M125 70.5h0M144.5 72.5h0M145 111h0M181 103h0M95.5 47h0M140.5 111h0M92 133h0M144.5 141h0M109 74h0M178 124h0M102.5 119.5h0M162.5 105h0M119.5 93.5h0M127 97.5h0M138.5 128.5h0M103.5 148.5h0M124 112.5h0M107.5 116.5h0M109 151h0M151.5 125.5h0M155.5 88.5h0M143.5 124h0M172 68.5h0M167.5 75h0M195.5 121h0M142.5 103h0M134.5 100h0M157.5 103.5h0M162.5 98.5h0M180 61.5h0M142.5 109.5h0M148.5 128h0M131 83.5h0M142 92.5h0M166.5 103h0M110.5 67.5h0M198 86h0M178 95h0M131.5 102.5h0M83.5 81.5h0M147.5 78h0M109.5 73.5h0M184.5 99h0M80.5 73h0M141 100h0M162.5 96.5h0M163.5 100h0M141.5 101h0M149 82h0M174 121h0M148 117.5h0M119.5 109.5h0M138 87h0M152 79.5h0M117.5 107.5h0M158 92.5h0M121 108h0M144 103h0M118.5 66.5h0M127.5 119.5h0M144 94h0M133 132.5h0M140.5 115h0M118 97h0M145 105.5h0M191 96.5h0M141 110h0M105.5 97h0M165.5 92.5h0M177 128.5h0M152.5 112h0M97.5 193.5h0M157 169h0M130.5 185h0M116.5 190.5h0M105 186.5h0M93 157h0M92.5 159h0M157 162.5h0M132.5 150.5h0M149.5 187.5h0M133.5 199.5h0M82.5 188h0M89.5 197h0M80.5 165.5h0M124 173.5h0M144 153.5h0M52 22h0M14 75h0" stroke="#000" stroke-width="1.9" stroke-linecap="square" fill="none"/>
<path d="M50.1 62.9C52.93 63.75 58.47 65.83 60.3 70.5C62.13 75.17 61.38 81.85 61.1 90.9C60.82 99.95 59.3 113.48 58.6 124.8C57.9 136.12 55.92 148.9 56.9 158.8C57.88 168.7 63.93 177.13 64.5 184.2C65.07 191.27 64.97 197.93 60.3 201.2C55.63 204.47 42.87 205.22 36.5 203.8C30.13 202.38 23.8 197.93 22.1 192.7C20.4 187.47 24.18 179.47 26.3 172.4C28.42 165.33 32.95 161.07 34.8 150.3C36.65 139.53 36.68 119.97 37.4 107.8C38.12 95.63 38.12 84.37 39.1 77.3C40.08 70.23 41.47 67.8 43.3 65.4C45.13 63 47.27 62.05 50.1 62.9Z" fill="#a4a4a4" stroke="#e4e4e4" stroke-width="1.6"/>
<path d="M47.0 204.6L37.2 204.0L29.7 201.1L25.7 197.9L23.2 194.6L22.1 191.6L22.1 188.1L23.4 181.8L27.5 170.2L33.6 157.3L35.6 149.1L37.4 124.3L38.1 85.1L39.3 75.1L40.9 69.6L43.3 65.6L46.0 63.3L49.0 62.9L53.0 64.1L57.2 66.6L60.2 70.1L61.4 74.6L61.8 80.8L61.2 93.6L58.5 116.8L56.0 155.1L57.8 165.3L63.7 180.6L64.8 189.3L63.8 196.1L61.2 200.4L55.7 203.2ZM48.0 204.1L38.7 203.9L30.3 200.8L24.7 195.4L23.3 192.3L23.0 188.6L25.5 178.8L28.9 170.3L35.3 158.1L37.5 149.3L39.5 117.6L38.2 90.3L39.5 75.3L40.7 71.1L43.0 67.0L45.7 64.4L48.7 63.7L52.9 64.8L57.0 67.1L59.7 70.2L61.1 74.8L61.5 80.8L60.9 93.3L56.7 116.3L54.4 144.8L54.2 155.3L56.0 164.8L63.1 180.6L64.3 189.1L63.4 195.3L61.0 199.9L55.5 202.8ZM47.2 203.9L39.0 203.5L31.8 200.6L26.2 194.8L24.9 191.8L24.6 188.8L25.4 184.3L27.7 177.8L30.8 171.3L37.5 160.6L40.3 151.6L41.9 136.1L42.6 111.8L42.1 106.6L38.7 92.4L38.9 81.6L39.9 75.3L41.5 71.2L45.2 66.7L48.5 65.3L53.7 66.7L57.8 69.3L60.2 73.3L61.1 78.1L60.5 93.3L55.3 107.6L53.6 116.1L51.0 154.1L52.5 163.1L61.3 179.6L62.8 184.8L63.1 189.1L62.0 195.9L59.3 199.8L54.2 202.6ZM46.7 203.1L39.2 202.5L32.9 199.6L27.9 194.1L26.5 188.8L27.7 183.1L29.7 178.1L33.2 172.1L41.9 160.8L45.0 150.8L46.4 136.6L46.9 112.1L45.8 106.6L40.0 92.9L39.1 85.3L39.7 79.1L41.5 74.0L44.7 69.5L48.5 67.2L53.5 68.5L57.5 71.3L59.7 75.3L60.8 81.1L60.6 87.1L59.4 93.1L51.6 107.1L49.7 112.8L46.9 140.6L46.6 156.1L48.9 164.1L59.7 180.1L61.3 185.1L61.6 189.1L60.6 195.1L58.2 198.8L52.7 201.8ZM49.0 103.4L44.5 98.1L42.2 94.2L40.9 90.8L40.1 85.6L40.7 79.7L42.2 75.7L45.5 71.4L49.0 69.3L53.7 70.6L56.7 73.1L59.3 78.6L59.8 84.1L57.7 93.1L53.7 98.9ZM46.7 201.9L40.0 201.3L35.0 199.1L30.7 195.1L28.5 190.1L29.5 183.6L32.7 177.0L36.2 172.4L44.2 165.5L56.0 177.1L58.7 182.1L59.8 187.1L59.6 192.8L57.6 197.1L52.7 200.3ZM49.2 98.9L46.7 96.9L43.6 92.8L41.5 85.6L42.1 80.1L43.6 76.6L46.4 73.1L49.5 71.3L53.5 72.6L56.1 75.3L58.0 79.3L58.5 84.1L57.7 88.8L56.0 92.6L53.0 96.3ZM45.5 200.6L40.0 199.9L35.7 197.8L32.0 193.8L30.3 189.6L31.3 183.8L34.4 178.1L38.2 173.8L44.0 170.2L50.2 174.0L54.5 178.2L57.3 183.1L58.3 188.6L57.7 193.3L56.0 196.4L51.2 199.4ZM50.0 95.4L47.9 94.6L45.0 91.3L43.4 87.3L43.1 83.8L43.8 80.1L45.4 77.1L47.7 74.7L50.2 73.4L52.5 74.3L55.0 77.0L56.4 80.1L56.9 84.1L56.6 86.8L54.9 90.8ZM46.2 199.1L42.0 198.9L37.2 196.8L34.0 193.7L32.1 189.6L32.9 184.6L35.4 179.8L39.5 175.6L43.7 173.3L48.7 175.5L52.7 178.8L55.4 182.8L56.6 187.3L56.5 191.6L55.2 194.8L51.0 197.8ZM50.2 92.4L48.7 92.2L46.4 89.6L45.2 86.8L44.9 83.8L46.6 78.8L50.5 75.8L54.0 79.3L55.0 84.1L53.5 89.1ZM46.2 197.6L42.5 197.4L38.2 195.6L35.3 192.6L33.8 189.1L34.7 184.8L36.7 181.1L39.8 177.8L43.5 175.8L47.5 177.1L51.2 179.8L53.7 183.1L55.0 187.1L55.0 191.1L54.0 193.6L50.5 196.3ZM50.0 89.1L47.9 87.1L47.3 83.8L48.2 80.8L50.2 79.0L51.9 80.8L52.7 84.1L52.1 86.6ZM46.7 195.9L43.2 195.9L39.7 194.6L37.1 192.1L35.6 188.8L36.2 185.6L37.9 182.3L40.5 179.7L43.5 178.0L46.7 178.9L49.7 180.9L52.0 183.6L53.3 186.8L53.4 190.1L52.7 192.3L50.1 194.6ZM46.2 194.1L43.5 194.1L40.7 193.0L38.7 191.1L37.5 188.3L39.2 183.6L43.5 180.2L46.0 180.7L48.7 182.4L50.5 184.5L51.5 187.1L51.2 191.1L49.0 193.1ZM46.0 191.9L42.2 191.2L39.9 188.1L40.4 185.3L43.5 182.5L47.2 183.8L49.4 187.1L49.2 189.8ZM45.7 189.1L44.0 189.1L42.8 187.8L42.6 186.1L43.7 184.6L45.7 185.1L47.1 186.6L47.1 187.8Z" fill="none" stroke="#4a4a4a" stroke-width="0.9"/>
<ellipse cx="45" cy="189" rx="3.5" ry="2" fill="#f2f2f2"/>
<ellipse cx="50" cy="84" rx="3.5" ry="2" fill="#f2f2f2"/>
<path d="M70.1 22.1L224.1 21.3L224.1 157.1L111.2 157.9L71.3 134.2Z" fill="none" stroke="#D63F5C" stroke-width="2"/>
<text x="216.5" y="220.7" font-size="19.5" fill="#DA4763" text-anchor="end">0.27</text>
<rect x="0" y="0" width="241.1" height="242" fill="none" stroke="#111" stroke-width="2.2"/>
</g>
<g transform="translate(1170.6,642.7)">
<path d="M-5 23.8h5M-5 81.5h5M-5 142.6h5M-5 204.6h5M39 247.9v5M123.9 247.9v5M174.8 247.9v5M224.9 247.9v5" stroke="#111" stroke-width="1.6" fill="none"/>
<path d="M-2.5 64.13h2.5M-2.5 53.97h2.5M-2.5 46.76h2.5M-2.5 41.17h2.5M-2.5 36.6h2.5M-2.5 32.74h2.5M-2.5 29.39h2.5M-2.5 26.44h2.5M-2.5 124.21h2.5M-2.5 113.45h2.5M-2.5 105.81h2.5M-2.5 99.89h2.5M-2.5 95.05h2.5M-2.5 90.96h2.5M-2.5 87.42h2.5M-2.5 84.3h2.5M-2.5 185.94h2.5M-2.5 175.02h2.5M-2.5 167.27h2.5M-2.5 161.26h2.5M-2.5 156.35h2.5M-2.5 152.2h2.5M-2.5 148.61h2.5M-2.5 145.44h2.5M139.22 247.9v2.5M148.19 247.9v2.5M154.54 247.9v2.5M159.48 247.9v2.5M163.51 247.9v2.5M166.92 247.9v2.5M169.87 247.9v2.5M172.47 247.9v2.5M189.88 247.9v2.5M198.7 247.9v2.5M204.96 247.9v2.5M209.82 247.9v2.5M213.79 247.9v2.5M217.14 247.9v2.5M220.04 247.9v2.5M222.61 247.9v2.5M-3 245.93h3M-17.6 247.9v3M-3 225.27h3M10.7 247.9v3M-3 183.93h3M67.3 247.9v3M-3 163.27h3M95.6 247.9v3" stroke="#222" stroke-width="1" fill="none"/>
<path d="M-5 194.7h5M29.1 247.9v5M-5 196.9h5M31.3 247.9v5M-5 199.1h5M33.5 247.9v5M-5 200.2h5M34.6 247.9v5M-5 202.4h5M36.8 247.9v5M-5 203.5h5M37.9 247.9v5M-5 204.6h5M39 247.9v5M-5 205.7h5M40.1 247.9v5M-5 207.9h5M42.3 247.9v5M-5 209h5M43.4 247.9v5M-5 211.2h5M45.6 247.9v5M-5 213.4h5M47.8 247.9v5" stroke="#000" stroke-width="1" fill="none"/>
<text x="-8" y="26.8" font-size="8.5" fill="#333" text-anchor="end">10⁵</text>
<text x="-8" y="84.5" font-size="8.5" fill="#333" text-anchor="end">10⁴</text>
<text x="-8" y="145.6" font-size="8.5" fill="#333" text-anchor="end">10³</text>
<text x="-8" y="207.6" font-size="8.5" fill="#333" text-anchor="end">0</text>
<text x="39" y="263.9" font-size="8.5" fill="#333" text-anchor="middle">0</text>
<text x="123.9" y="263.9" font-size="8.5" fill="#333" text-anchor="middle">10³</text>
<text x="174.8" y="263.9" font-size="8.5" fill="#333" text-anchor="middle">10⁴</text>
<text x="224.9" y="263.9" font-size="8.5" fill="#333" text-anchor="middle">10⁵</text>
<path d="M47 100C51.5 99.67 56.5 100.15 60 104C63.5 107.85 66 114.25 68 123.1C70 131.95 69 148.28 72 157.1C75 165.92 82.33 170.85 86 176C89.67 181.15 95 184.5 94 188C93 191.5 88.03 194.8 80 197C71.97 199.2 56.88 201.07 45.8 201.2C34.72 201.33 20 200.92 13.5 197.8C7 194.68 6.8 190.7 6.8 182.5C6.8 174.3 10.97 158.5 13.5 148.6C16.03 138.7 18.75 130.2 22 123.1C25.25 116 28.83 109.85 33 106C37.17 102.15 42.5 100.33 47 100Z" fill="#000"/>
<path d="M68 131.5h0M20 139h0M16 194h0M49.5 107h0M48.5 106.5h0M35 109h0M12.5 188h0M75 164h0M63 121.5h0M67 132.5h0M72 160h0M13.5 154h0M92.5 187.5h0M65 135.5h0M27 118.5h0M19 150.5h0M68.5 140h0M28 124h0M19 196.5h0M14 152.5h0M12.5 184h0M25.5 121.5h0M17.5 151.5h0M19.5 136.5h0M70 148.5h0M12.5 180h0M42.5 196.5h0M15.5 165.5h0M69.5 193.5h0M23.5 123.5h0M35.5 196h0M75.5 169.5h0M71 161h0M63.5 131.5h0M53.5 198h0M56 110h0M61 194.5h0M68 132.5h0M54 199h0M51.5 196h0M40 195.5h0M21.5 129.5h0M48 103h0M22.5 136.5h0M61 197.5h0M33 194.5h0M12 185.5h0M19 135.5h0M86 189.5h0M75.5 193.5h0M37.5 107.5h0M59.5 114.5h0M13.5 194h0M17 193h0M54.5 105h0M19 194h0M11 182.5h0M32.5 112.5h0M88 184.5h0M44 106.5h0M47.5 195h0M55.5 195h0M27.5 121.5h0M56 105.5h0M10.5 171.5h0M14 192h0M88 187.5h0M25 131h0M88.5 188.5h0M58.5 195.5h0M44.5 195h0M17 156.5h0M67.5 153h0M70.5 195.5h0M74.5 194.5h0M35.5 194.5h0M19.5 140h0M80.5 176h0M20.5 140.5h0M77.5 192h0M49.5 195.5h0M78.5 170h0M49.5 199.5h0M41 105h0M13 188.5h0M17 150h0M86.5 186h0M84 182.5h0M84.5 176h0M26 194h0M18 152.5h0M57.5 107.5h0M11.5 170.5h0M27 125.5h0M38.5 195.5h0M56.5 107h0M81 178.5h0M69.5 146.5h0M31.5 115.5h0M19 193.5h0M11.5 188h0M18 151h0M31 119.5h0M18 196h0M16.5 194h0M17.5 195.5h0M11 178.5h0M22.5 196.5h0M9 183h0M67 153.5h0M13 184.5h0M64 195.5h0M13 158.5h0M62 122h0M65.5 144.5h0M57 105.5h0M16 155.5h0M31.5 118h0M15 187.5h0M87.5 188h0M19.5 141.5h0M17 151.5h0M33 198h0M76.5 166h0M84.5 177h0M74.5 193h0M86.5 181.5h0M72 194h0M14.5 192h0M33.5 112h0M59.5 107.5h0M31 198.5h0M56.5 109h0M65.5 125h0M16.5 144.5h0M29 195.5h0M32 116.5h0M67.5 197h0" stroke="#fff" stroke-width="1.3" stroke-linecap="square" fill="none"/>
<path d="M92.5 179.5h0M69.5 134.5h0M8.5 190.5h0M63 112h0M41.5 200.5h0M92.5 194h0M63.5 108h0M50.5 208h0M58.5 101h0M71 199.5h0M64 110.5h0M67 118h0M73 201h0M8 137.5h0M70.5 128h0M77 154.5h0M14 197.5h0M32.5 108h0M27.5 198.5h0M83 200h0M41.5 103h0M62 102h0M14 126.5h0M84.5 174h0M70 132.5h0M83.5 124h0M86.5 177.5h0M14 142.5h0M70 143h0M28.5 203h0M10.5 195h0M88.5 190.5h0M36.5 202.5h0M62 111h0M66.5 108h0M70.5 150.5h0M7 181h0M75 197.5h0M89.5 179.5h0M26 204h0M64 198.5h0M87.5 174.5h0M14 150.5h0M5 176.5h0M76 163.5h0M27.5 202h0M42.5 200h0M22.5 124h0M8.5 168.5h0M85.5 172.5h0M40 103h0M69.5 123.5h0M77.5 196.5h0M12 161h0M69.5 134h0M56 204h0M57.5 102h0M8.5 188h0M11.5 159.5h0M29 203h0M21.5 125.5h0M94 172.5h0M2.5 177.5h0M21.5 200h0M27 200h0M63 202h0M18 134h0M29.5 105h0M60 200.5h0M10 188h0M61.5 109.5h0M7.5 177.5h0M11 190.5h0M43.5 95h0M15.5 141.5h0M82.5 171h0M85 193.5h0M7.5 184h0M57 91h0M61 199.5h0M70 139h0M67 124h0M63 107.5h0M12 156.5h0M67.5 127h0M75 162.5h0M85 193h0M20.5 127.5h0M66 113.5h0M66.5 202.5h0M34.5 203.5h0M21 123h0M2.5 138.5h0M17 127h0M81.5 171.5h0M77.5 204h0M93 193h0M22.5 123h0M36 103h0M74 135.5h0M72.5 143.5h0M76 157.5h0M72 157.5h0M56.5 199.5h0M23.5 198h0M80.5 165.5h0M49.5 98h0M78 198.5h0M91 195.5h0M31 201h0M31 104h0M3.5 180h0M47.5 200h0M16.5 201.5h0M3 183.5h0M62 105.5h0M24 117.5h0M8.5 151.5h0M18 126.5h0M14 148.5h0M86 197.5h0M84.5 196.5h0M66 120h0M9.5 196h0M64.5 107h0M64 109.5h0M72.5 150.5h0M76.5 136h0M103.5 180h0M60 106.5h0M50.5 96h0M70.5 133.5h0M67 121.5h0M90.5 190h0M54.5 103h0M11.5 124h0M16.5 203h0M76 134h0M77.5 165h0M93.5 185h0M90 189.5h0M69.5 125h0M19 133.5h0M46 100h0M60.5 198.5h0M58.5 205h0M72.5 113h0M73 116.5h0M93 185.5h0M97.5 153.5h0M16 139h0M69.5 136h0M55 103h0M35 105h0M44 201h0M70.5 132h0M36.5 201h0M58 96.5h0M41 203h0M37.5 94.5h0M16.5 129.5h0M4 177.5h0M82 164h0M91.5 190h0M78 137h0M11 155.5h0M40.5 201h0M92.5 180.5h0M73.5 155.5h0M15 145h0M44.5 101.5h0M17.5 132.5h0M8.5 141h0M14.5 142.5h0M10 166.5h0M71.5 156h0M47 201h0M92.5 191.5h0M56 99h0M55.5 101.5h0M82 169.5h0M77 165h0M35 103.5h0M69 204.5h0M30.5 110h0M43 101h0M32 96h0M95.5 194.5h0M71 156.5h0M77.5 153h0M73 146h0M72 152.5h0M12 203h0M14.5 113.5h0M18 137h0M57 201.5h0M1.5 193h0M12 145.5h0M66 115h0M9.5 186.5h0M27.5 115h0M10 152.5h0M11 163h0M57.5 202.5h0M69.5 141h0M11.5 149.5h0M91 182h0M11.5 148h0M39 103h0M87.5 204.5h0M84.5 202h0M32 107.5h0M70 138.5h0M70 128h0M70 133.5h0M24 114.5h0M14 147h0M69.5 133h0M13.5 139.5h0M40.5 98h0M9 190.5h0M103 181h0M37.5 205.5h0M68.5 129.5h0M53 101.5h0M37 102.5h0M11 191.5h0M41.5 203.5h0M30.5 110.5h0M69.5 198h0M21 128h0M17 140h0M78.5 153.5h0M81 163h0M90.5 168h0M75.5 162.5h0M27 203h0M80 163.5h0M76.5 198h0M68 126.5h0M26 116.5h0M100 196h0M66.5 209.5h0M25 199.5h0M21 115h0M75.5 196.5h0M28 112.5h0M51.5 200.5h0M43 208h0M43 202h0M52 97h0M71 197h0M78 142.5h0M51 97h0M13 148h0M80 140.5h0M58.5 199.5h0M46 101.5h0M70 95.5h0M64.5 88.5h0M52.5 94.5h0M51.5 105h0M78.5 89h0M43 99.5h0M37.5 99.5h0M57 92.5h0M56.5 81h0M59 81h0M41.5 90h0M45 102.5h0M51 91.5h0M56.5 109h0M50 98.5h0M65 97.5h0M34.5 117.5h0M76.5 77h0M49.5 99h0M61.5 101h0M46.5 85.5h0M51 104.5h0M37 86h0M49.5 77.5h0M47 91h0M55.5 88.5h0M39.5 91.5h0M49.5 89h0M50 102h0M40.5 91h0M20 112h0M41.5 94.5h0M56.5 83h0M55.5 95h0M28 97.5h0M64.5 78h0M59.5 97h0M55.5 99h0M65.5 93h0M60.5 91.5h0M58.5 87.5h0M48.5 110.5h0M55.5 93.5h0M36.5 88h0M52.5 103.5h0M55 99.5h0M49.5 107h0M45.5 90h0M60.5 95.5h0M46.5 90h0M47 100.5h0M54 84h0M55 96.5h0M38 102h0M46.5 92h0M59.5 107h0M41.5 99h0M39.5 116h0M44 106h0M42 102.5h0M76.5 72h0M45 99.5h0M49 89h0M76 95.5h0M30.5 102.5h0M29.5 105.5h0M43 96.5h0M65 96h0M33.5 79.5h0M64 101.5h0M40 102.5h0M56 101h0M23 92.5h0M61 101.5h0M60.5 73h0M52 99.5h0M80.5 86.5h0M46 95.5h0M60.5 91h0M64 88h0M53 90.5h0M52 89h0M31 105h0M53.5 90h0M52.5 104h0M38.5 94h0M56.5 99.5h0M46 76h0M65 98h0M50 92.5h0M53 91h0M37.5 88.5h0M43 89.5h0M36 100.5h0M34.5 101h0M38 98h0M66.5 97h0M41 95.5h0M52 79.5h0M42.5 96.5h0M44.5 95.5h0M59 102h0M61 100.5h0M46.5 95h0M48 79.5h0M46 95h0M38.5 95h0M56 93.5h0M75 71.5h0M47.5 78.5h0M62 119h0M20 96h0M56 92.5h0M56.5 75h0M60 98.5h0M50.5 89.5h0M57.5 90.5h0M52.5 90.5h0M23 94.5h0M52.5 102h0M39.5 94.5h0M57.5 96.5h0M65 113h0M39 77.5h0M60.5 109h0M61 102.5h0M42.5 88.5h0M60.5 87h0M28 86h0M80 112.5h0M42 88.5h0M53 88.5h0M65.5 94.5h0M37 107h0M43 97h0M50 92h0M54 89h0M28 75h0M35 88h0M49.5 95.5h0M56.5 96h0M40.5 88.5h0M24.5 93.5h0M56 100h0M48.5 93.5h0M61 95h0M59 100h0M52.5 107h0M43 92h0M40.5 88h0M68.5 111h0M50.5 100h0M64 102.5h0M64.5 83.5h0M42.5 99h0M67 96h0M39.5 92h0M44.5 72h0M68.5 73.5h0M52 93h0M65 80.5h0M45.5 81h0M70 82.5h0M66 78.5h0M57.5 76.5h0M56.5 87h0M36.5 77.5h0M54.5 74h0M48.5 83.5h0M74 82.5h0M55.5 67h0M73 78.5h0M51.5 70h0M51.5 70.5h0M53 81.5h0M52.5 80h0M42.5 88h0M45 65.5h0M50 72.5h0M41 75.5h0M55 69.5h0M50.5 88h0M59.5 77h0M53.5 77h0M51.5 83h0M51 61h0M52 72h0M59 73.5h0M53.5 93h0M40.5 70h0M36.5 61h0M31.5 80.5h0M45 65h0M35.5 82.5h0M43.5 75.5h0M55.5 87.5h0M73.5 85h0M53.5 79.5h0M72 88h0M48.5 81h0M55 78.5h0M46.5 68.5h0M87 166h0M113.5 185h0M77 192.5h0M108.5 163h0M122.5 187.5h0M126 169h0M103 184h0M98 181.5h0M111 166.5h0M76.5 167.5h0M86.5 174.5h0M100.5 182.5h0M95.5 174h0M88.5 188.5h0M106.5 181h0M90 194h0M86 186h0M112.5 177.5h0M107.5 170h0M110 182h0M71 186h0M81.5 191.5h0M85 178.5h0M99 177h0M99 175h0M105 180h0M98 155h0M112.5 180.5h0M68.5 181h0M102 189.5h0M79 194h0M92.5 201.5h0M93 186h0M89.5 170h0M111.5 188h0M118 187.5h0M86.5 165h0M85 174h0M83 185h0M100 177.5h0M97.5 178.5h0M98 187h0M109.5 174h0M72.5 193h0M96.5 190h0M70.5 177h0M95.5 167h0M87.5 186.5h0M111 194.5h0M82 167.5h0M103 188.5h0M98 168.5h0M106.5 187h0M103.5 175.5h0M99.5 187h0M86.5 163.5h0M100 184.5h0M95 188h0M86 179.5h0M90.5 185h0M119 177.5h0M126 194h0M107 185.5h0M121.5 178.5h0M93.5 170.5h0M102 192h0M92 181.5h0M73.5 189.5h0M89 170h0M83.5 172.5h0M108 189.5h0M74.5 188.5h0M108.5 175h0M72.5 173.5h0M85.5 183h0M89.5 161.5h0M98.5 166h0M108.5 169h0M84.5 172.5h0M87 191.5h0M108 185.5h0M100 166h0M87 175h0M80.5 184.5h0M84 173.5h0M79.5 161.5h0M104 192h0M97.5 171h0M54.5 181.5h0M113 182.5h0M109 193.5h0M112 176h0M111 187h0M72 176.5h0M73.5 179h0M103.5 170.5h0M64 191.5h0M100.5 193h0M75 189.5h0M126 198h0M92 182.5h0M92.5 189h0M110.5 181h0M74.5 186.5h0M88 185.5h0M99 194.5h0M87 184h0M113 191.5h0M103 168h0M76 182h0M101 203h0M82 190h0M106.5 165h0M82.5 181.5h0M87.5 178.5h0M102 172.5h0M102 174.5h0M87 185h0M86.5 182.5h0M119 180h0M93 186.5h0M89.5 189.5h0M76 185.5h0M87.5 173h0M121.5 172.5h0M121.5 186h0M117 171h0M150 105h0M188 180h0M215 175h0M200 190h0M160 195h0M130 165h0M125 185h0M140 188h0" stroke="#000" stroke-width="1.9" stroke-linecap="square" fill="none"/>
<path d="M45 157.9C49 157.9 52 161.32 55 165C58 168.68 62.17 175.17 63 180C63.83 184.83 63.17 191.33 60 194C56.83 196.67 49.67 196.17 44 196C38.33 195.83 29.67 195.67 26 193C22.33 190.33 21.17 184.67 22 180C22.83 175.33 27.17 168.68 31 165C34.83 161.32 41 157.9 45 157.9Z" fill="#a4a4a4" stroke="#e4e4e4" stroke-width="1.6"/>
<path d="M54.0 196.2L41.5 196.3L30.0 194.8L25.7 192.7L22.8 188.1L22.0 185.2L22.1 180.4L25.4 172.4L32.0 164.3L36.8 161.0L41.4 158.9L46.3 158.4L51.3 161.1L58.0 169.2L62.4 177.7L63.4 184.9L62.2 190.7L59.8 194.2ZM53.3 195.9L41.5 196.0L30.3 194.4L26.0 192.2L23.5 188.1L22.7 184.9L22.8 180.7L26.0 172.8L32.5 165.0L37.2 161.9L41.8 160.0L47.0 159.8L51.5 162.7L57.5 169.5L62.0 178.1L62.9 184.9L61.3 191.5L58.3 194.6ZM52.0 195.7L41.8 195.8L32.8 194.7L27.7 192.2L24.8 187.7L24.2 180.9L27.3 173.4L33.3 166.4L41.0 162.1L45.8 161.4L50.3 163.7L56.5 170.1L61.0 178.2L62.0 184.7L60.0 191.9L56.6 194.7ZM49.8 195.4L41.8 195.6L34.6 194.4L28.5 190.9L26.1 186.2L26.3 179.4L30.3 172.0L36.0 166.7L43.0 163.8L46.8 164.0L53.3 168.8L58.2 175.2L60.3 180.7L60.4 186.7L58.6 191.7L53.8 194.7ZM47.8 194.9L41.8 195.0L34.8 193.2L29.4 189.4L27.7 185.2L28.4 178.7L32.0 172.7L37.3 168.2L44.0 165.8L47.5 166.8L53.7 171.7L57.0 176.2L58.9 181.7L58.8 186.7L57.3 190.8L53.3 193.5ZM47.0 193.9L42.0 194.0L35.5 192.0L30.9 188.4L29.4 184.9L30.1 179.2L33.3 173.9L38.3 169.8L44.0 167.8L48.0 169.4L52.5 172.8L55.6 176.9L57.4 181.9L57.3 186.4L56.0 189.8L52.3 192.4ZM45.0 192.9L39.8 192.3L35.6 190.4L32.0 186.9L31.0 183.9L31.9 179.2L34.9 174.7L38.8 171.5L43.8 169.8L48.5 171.7L52.5 175.2L55.1 179.4L56.0 183.7L55.4 187.7L53.8 189.7L49.8 191.9ZM46.3 191.4L42.5 191.5L38.0 190.1L34.7 187.4L32.6 183.9L33.4 179.9L35.8 176.1L39.0 173.3L43.3 171.7L47.0 172.9L50.5 175.4L52.9 178.4L54.3 182.2L54.3 185.7L53.4 187.7L50.3 190.1ZM46.0 189.9L42.5 190.0L38.5 188.5L35.8 185.9L34.4 182.9L35.1 180.2L37.3 176.9L40.0 174.7L43.0 173.6L46.0 174.3L49.3 176.4L51.5 179.2L52.6 182.2L52.8 184.9L52.0 186.5L49.4 188.7ZM45.5 188.2L42.8 188.2L39.6 186.9L37.6 184.9L36.5 182.2L36.8 180.4L38.5 178.1L42.8 175.4L45.3 175.9L48.0 177.6L51.0 182.4L51.0 184.2L49.8 185.9ZM44.8 185.9L41.3 185.0L39.3 182.2L39.6 179.7L42.8 177.4L46.5 178.8L48.8 181.9L47.5 184.6ZM44.5 182.2L43.3 181.7L43.8 180.5L44.8 180.9Z" fill="none" stroke="#4a4a4a" stroke-width="0.9"/>
<ellipse cx="44" cy="184" rx="3.5" ry="2" fill="#f2f2f2"/>
<path d="M101 1.7L241.9 1.7L241.9 151.1L148.5 155.4L102.7 108.7Z" fill="none" stroke="#D63F5C" stroke-width="2"/>
<text x="219.8" y="227.5" font-size="19.5" fill="#DA4763" text-anchor="end">4.06E-4</text>
<rect x="0" y="0" width="247.3" height="247.9" fill="none" stroke="#111" stroke-width="2.2"/>
</g>
<g transform="translate(1456.1,642.7)">
<path d="M-5 23.8h5M-5 81.5h5M-5 142.6h5M-5 204.6h5M39 247.9v5M123.9 247.9v5M174.8 247.9v5M224.9 247.9v5" stroke="#111" stroke-width="1.6" fill="none"/>
<path d="M-2.5 64.13h2.5M-2.5 53.97h2.5M-2.5 46.76h2.5M-2.5 41.17h2.5M-2.5 36.6h2.5M-2.5 32.74h2.5M-2.5 29.39h2.5M-2.5 26.44h2.5M-2.5 124.21h2.5M-2.5 113.45h2.5M-2.5 105.81h2.5M-2.5 99.89h2.5M-2.5 95.05h2.5M-2.5 90.96h2.5M-2.5 87.42h2.5M-2.5 84.3h2.5M-2.5 185.94h2.5M-2.5 175.02h2.5M-2.5 167.27h2.5M-2.5 161.26h2.5M-2.5 156.35h2.5M-2.5 152.2h2.5M-2.5 148.61h2.5M-2.5 145.44h2.5M139.22 247.9v2.5M148.19 247.9v2.5M154.54 247.9v2.5M159.48 247.9v2.5M163.51 247.9v2.5M166.92 247.9v2.5M169.87 247.9v2.5M172.47 247.9v2.5M189.88 247.9v2.5M198.7 247.9v2.5M204.96 247.9v2.5M209.82 247.9v2.5M213.79 247.9v2.5M217.14 247.9v2.5M220.04 247.9v2.5M222.61 247.9v2.5M-3 245.93h3M-17.6 247.9v3M-3 225.27h3M10.7 247.9v3M-3 183.93h3M67.3 247.9v3M-3 163.27h3M95.6 247.9v3" stroke="#222" stroke-width="1" fill="none"/>
<path d="M-5 194.7h5M29.1 247.9v5M-5 196.9h5M31.3 247.9v5M-5 199.1h5M33.5 247.9v5M-5 200.2h5M34.6 247.9v5M-5 202.4h5M36.8 247.9v5M-5 203.5h5M37.9 247.9v5M-5 204.6h5M39 247.9v5M-5 205.7h5M40.1 247.9v5M-5 207.9h5M42.3 247.9v5M-5 209h5M43.4 247.9v5M-5 211.2h5M45.6 247.9v5M-5 213.4h5M47.8 247.9v5" stroke="#000" stroke-width="1" fill="none"/>
<text x="-8" y="26.8" font-size="8.5" fill="#333" text-anchor="end">10⁵</text>
<text x="-8" y="84.5" font-size="8.5" fill="#333" text-anchor="end">10⁴</text>
<text x="-8" y="145.6" font-size="8.5" fill="#333" text-anchor="end">10³</text>
<text x="-8" y="207.6" font-size="8.5" fill="#333" text-anchor="end">0</text>
<text x="39" y="263.9" font-size="8.5" fill="#333" text-anchor="middle">0</text>
<text x="123.9" y="263.9" font-size="8.5" fill="#333" text-anchor="middle">10³</text>
<text x="174.8" y="263.9" font-size="8.5" fill="#333" text-anchor="middle">10⁴</text>
<text x="224.9" y="263.9" font-size="8.5" fill="#333" text-anchor="middle">10⁵</text>
<path d="M52.1 67.1C56.35 67.1 62.55 68.52 65.7 72.2C68.85 75.88 69.78 80.72 71 89.2C72.22 97.68 72 111.78 73 123.1C74 134.42 74.5 148.95 77 157.1C79.5 165.25 84.83 166.85 88 172C91.17 177.15 97 183.67 96 188C95 192.33 89.03 195.37 82 198C74.97 200.63 64.73 203.4 53.8 203.8C42.87 204.2 24.6 203.1 16.4 200.4C8.2 197.7 5.73 194.82 4.6 187.6C3.47 180.38 7.35 169.27 9.6 157.1C11.85 144.93 14.98 125.92 18.1 114.6C21.22 103.28 24.62 96.27 28.3 89.2C31.98 82.13 36.23 75.88 40.2 72.2C44.17 68.52 47.85 67.1 52.1 67.1Z" fill="#000"/>
<path d="M51.5 201.5h0M19.5 114h0M69.5 111.5h0M72 198h0M41.5 78.5h0M31 196.5h0M25 111.5h0M10.5 162h0M74.5 160.5h0M90.5 186h0M68 103.5h0M29.5 198.5h0M19 196h0M27.5 97h0M22 109h0M33.5 196.5h0M35 88.5h0M58 73.5h0M16 145h0M10.5 179.5h0M11.5 165.5h0M57.5 71.5h0M22 199h0M28.5 197.5h0M70 131.5h0M77.5 195h0M69.5 127.5h0M27 103.5h0M55 199.5h0M68 108h0M45 198h0M12 165h0M91.5 188h0M20 126.5h0M12 193h0M20 126h0M68 195.5h0M58 198.5h0M19 127.5h0M16 154.5h0M36 85h0M71 138.5h0M27 198.5h0M10 182h0M72 137.5h0M30 96h0M19.5 115h0M53 73.5h0M18 121.5h0M29 99.5h0M78.5 169h0M41 197.5h0M43.5 74h0M65.5 199h0M18 134.5h0M12 169h0M88 183h0M52 73h0M19.5 120.5h0M67.5 90.5h0M73 131h0M66.5 87h0M84.5 177.5h0M50.5 71h0M30 100.5h0M52 199h0M29.5 99h0M22.5 117h0M45.5 201.5h0M9.5 187h0M67 93h0M23 116.5h0M6 186.5h0M47.5 71.5h0M69 105.5h0M13.5 171h0M86.5 172h0M69.5 125.5h0M66 80.5h0M72.5 141.5h0M21.5 125.5h0M92.5 185h0M51.5 73.5h0M73.5 153h0M70 137.5h0M93 186h0M41.5 79.5h0M60 198.5h0M23.5 116.5h0M9.5 180.5h0M91 187h0M70.5 113.5h0M11 188h0M78.5 164.5h0M8 181.5h0M70.5 102h0M77.5 167.5h0M35.5 199h0M10.5 180.5h0M70 139h0M62 78.5h0M84.5 173h0M77 161h0M9.5 177.5h0M46 73.5h0M15 155.5h0M23 121h0M88.5 177.5h0M54 73.5h0M90.5 185h0M63.5 78h0M26 196h0M29 93.5h0M69 117h0M85 178h0M39 200h0M66.5 101h0M13 194h0M16 144.5h0M81 192h0M80 168.5h0M11 187h0M34.5 83h0M18 139.5h0M50.5 72h0M30 198.5h0M88.5 185h0M62.5 75h0M39 77.5h0M69.5 104.5h0M23 105h0M67.5 96.5h0M14 144.5h0M30 199.5h0M68.5 113h0M30.5 90.5h0M73.5 139.5h0M13 163h0M64 80h0" stroke="#fff" stroke-width="1.3" stroke-linecap="square" fill="none"/>
<path d="M75 142.5h0M39 75h0M74 105h0M3.5 161.5h0M71.5 90h0M79.5 148.5h0M52.5 65h0M94 134.5h0M5.5 186.5h0M66.5 202h0M70 204.5h0M51 210h0M76 128h0M9.5 114.5h0M78 91.5h0M79 145.5h0M59 68.5h0M82.5 155.5h0M83 197.5h0M25.5 93h0M95.5 195h0M83 99h0M85 151h0M49.5 68.5h0M72.5 81h0M8 195h0M95 190h0M5.5 177h0M92 179h0M5.5 169h0M52.5 207h0M5.5 183h0M28.5 90.5h0M19 201.5h0M83 107.5h0M90.5 72.5h0M34.5 76.5h0M57.5 217h0M83 128.5h0M34.5 78.5h0M21.5 201h0M9.5 154.5h0M19.5 98h0M81.5 159h0M94.5 185.5h0M17.5 98.5h0M71 106h0M12 141.5h0M73 92.5h0M5.5 166.5h0M4.5 162h0M13.5 111h0M48.5 209h0M76.5 130h0M75 112h0M38.5 204.5h0M46 203.5h0M70.5 83.5h0M27 91h0M48.5 206.5h0M9 163h0M74.5 140h0M79.5 146h0M56 66h0M97.5 176h0M76 154.5h0M80 202h0M91.5 191.5h0M14.5 113.5h0M24 94h0M72 123.5h0M86 195.5h0M73.5 120.5h0M7.5 176.5h0M44 71.5h0M75.5 134h0M10 137.5h0M89.5 162h0M55 68.5h0M10 138.5h0M94 178h0M75 121h0M73 200h0M75 141.5h0M82.5 196.5h0M71.5 203.5h0M79.5 199.5h0M17 200.5h0M83 161.5h0M71 93h0M73.5 86.5h0M76 97h0M40.5 208.5h0M96.5 186h0M16 124.5h0M49 202.5h0M7.5 160h0M45.5 66.5h0M75 80.5h0M59.5 67.5h0M73.5 108h0M92.5 196h0M24 200.5h0M11.5 147.5h0M95 181h0M38 70.5h0M53 67.5h0M2 113h0M74.5 135.5h0M19 97.5h0M65 71h0M40.5 73h0M7 141h0M49 67.5h0M20 202h0M79.5 124.5h0M43 71.5h0M73 209h0M72 87h0M11.5 197h0M52.5 206h0M65.5 224.5h0M74 113h0M74 100.5h0M20.5 201h0M67.5 201.5h0M71.5 104h0M72.5 204.5h0M8 159h0M60 206.5h0M88.5 195.5h0M98 184.5h0M76.5 140.5h0M75 130h0M72 205h0M71 99h0M8.5 154h0M8.5 194.5h0M60.5 67.5h0M94.5 186h0M74.5 204h0M71.5 92h0M40.5 69h0M12.5 142.5h0M48 205h0M5.5 162.5h0M77 130h0M77 142.5h0M41 205h0M11.5 150h0M5.5 185.5h0M55 67h0M8.5 196.5h0M23.5 89.5h0M10.5 150h0M31 82.5h0M45 68h0M75.5 139.5h0M82 164.5h0M32 203h0M45.5 70.5h0M96 187h0M34 79.5h0M19 108.5h0M43 205h0M6.5 191.5h0M37 75.5h0M14.5 135.5h0M83 163.5h0M18 110h0M81.5 127.5h0M102.5 195.5h0M34.5 69h0M19.5 109.5h0M88 169h0M87.5 161.5h0M11.5 195.5h0M12 109h0M28.5 79h0M10.5 155h0M9 119h0M12.5 198h0M94.5 186.5h0M77.5 200.5h0M55.5 207h0M36.5 215h0M16 114.5h0M79 157h0M71.5 81.5h0M7.5 149.5h0M79 154h0M79.5 201h0M73.5 102h0M18 119h0M80 155h0M82.5 165h0M15.5 124.5h0M47.5 208h0M78 158h0M14.5 90.5h0M87 204h0M95.5 186.5h0M39 72h0M15 132h0M12 148h0M88.5 150h0M10 121.5h0M13 202.5h0M15.5 114.5h0M96.5 193h0M11.5 135h0M15.5 131.5h0M92.5 197h0M3.5 179.5h0M13.5 136.5h0M47.5 62h0M32 86h0M11 131h0M71.5 107h0M8.5 197h0M7.5 168h0M71.5 91h0M64 201h0M8 96.5h0M24.5 88h0M29.5 83h0M76 91.5h0M4 202h0M22.5 106h0M87.5 173h0M68.5 70h0M22 79.5h0M18.5 105.5h0M95.5 188.5h0M18 118.5h0M16.5 121h0M10 156h0M13.5 200h0M88.5 171h0M86.5 164h0M97 185.5h0M91 175h0M43 202h0M72 101h0M8 157h0M96 182h0M78 117.5h0M79.5 152.5h0M90.5 194h0M76.5 199.5h0M13.5 134.5h0M77 92.5h0M75.5 138.5h0M82.5 162h0M70 108.5h0M101 135h0M101 192.5h0M90.5 130.5h0M109.5 166.5h0M77.5 175h0M63.5 125.5h0M97.5 166.5h0M111 160h0M114 178h0M77 127h0M87 210h0M104 176h0M100 111.5h0M96.5 154.5h0M85 197.5h0M113 207h0M104 124.5h0M104 120h0M105 155h0M104 148h0M83 125.5h0M84 126h0M102.5 134h0M88 181.5h0M101 162h0M89 119.5h0M80.5 157h0M103 94.5h0M89.5 151h0M64.5 177h0M84 132.5h0M113 188.5h0M107 170h0M82.5 139h0M64 171.5h0M95.5 150h0M100.5 154.5h0M120.5 171.5h0M101.5 164h0M99.5 124h0M90.5 160.5h0M92 175.5h0M98.5 124h0M79.5 142.5h0M63 187.5h0M106.5 180.5h0M84.5 179h0M87.5 122.5h0M74 152.5h0M84.5 151h0M79.5 168.5h0M80 162h0M68 165.5h0M95 155.5h0M72 141.5h0M91 142.5h0M109 152.5h0M93.5 184h0M88.5 162.5h0M78.5 140.5h0M62 155h0M64.5 168h0M87.5 168.5h0M80.5 164.5h0M89 135h0M88.5 129h0M82 161.5h0M94.5 163h0M96.5 149h0M104 135h0M96.5 137.5h0M71.5 127h0M83.5 189h0M102 132h0M109 157.5h0M93 117.5h0M97 126h0M76 159.5h0M94.5 156.5h0M71 102h0M102.5 209.5h0M83.5 177.5h0M91.5 151h0M64 121.5h0M85 138h0M86 136.5h0M67 159.5h0M80.5 167h0M85 172.5h0M112.5 155h0M83 162h0M88.5 158h0M72 157.5h0M79 127.5h0M98 149h0M96 186.5h0M80 163.5h0M87.5 114.5h0M70.5 131.5h0M75 167h0M98.5 148.5h0M71 159h0M90.5 137h0M98.5 165.5h0M85 132h0M104 157h0M102 187.5h0M112.5 134.5h0M77 137h0M105 155.5h0M78.5 146.5h0M62 189h0M82.5 167h0M59.5 175.5h0M105 158.5h0M107 147.5h0M85 174.5h0M87.5 135h0M110.5 136h0M97 140.5h0M102 153h0M73 157.5h0M87.5 144.5h0M97.5 143.5h0M93 164.5h0M84 162h0M87 122.5h0M99.5 170.5h0M97.5 116h0M107 166.5h0M73 152h0M90 133.5h0M82.5 101h0M102 135h0M93.5 196.5h0M127 148.5h0M80 135.5h0M97 142h0M73 103.5h0M68.5 131.5h0M70.5 170h0M94.5 194h0M95.5 164h0M99 168h0M112 152h0M113 120.5h0M106 159h0M102.5 179h0M124.5 156h0M81.5 155h0M79.5 163h0M75.5 153h0M102 145h0M106.5 165.5h0M77 154h0M116.5 136.5h0M83.5 159h0M108.5 113.5h0M102.5 136.5h0M91.5 186.5h0M67.5 142h0M113 210h0M78.5 144h0M86 143.5h0M98 117h0M91.5 159.5h0M65.5 139h0M92.5 225h0M77 127.5h0M103 144.5h0M86 122h0M80 179.5h0M96 146h0M86 156h0M85.5 156h0M97 107.5h0M112 138h0M79 184h0M98 177h0M119 198.5h0M84.5 130h0M76.5 143h0M106 121h0M84.5 109.5h0M100.5 181.5h0M98 126.5h0M102 150.5h0M108 154.5h0M83.5 152h0M97 133h0M82.5 156h0M72 144h0M89.5 145.5h0M94.5 164h0M81 201h0M103.5 110.5h0M87 147.5h0M86 185h0M89 120.5h0M78.5 158h0M75.5 145h0M69 201h0M74 122h0M104.5 111.5h0M88.5 200h0M77.5 125.5h0M82 96h0M87 174h0M84 147h0M92 130.5h0M81 198.5h0M98.5 135h0M105 181.5h0M79 130.5h0M107 221h0M112.5 185h0M91 172.5h0M83.5 158h0M88 177h0M91.5 142h0M89 126h0M69 85.5h0M91.5 157h0M83.5 195h0M91.5 176.5h0M117.5 143h0M99.5 145h0M86 125.5h0M82.5 96.5h0M81 120h0M77.5 112.5h0M101.5 190.5h0M109 192h0M86.5 161h0M109 154.5h0M103 163h0M110.5 162.5h0M92 145h0M74.5 121.5h0M55.5 122.5h0M79 209h0M80.5 145h0M89 163.5h0M91 129h0M69.5 123h0M89 193.5h0M83.5 121.5h0M93 119h0M94 160.5h0M103.5 188.5h0M82.5 149.5h0M92 148.5h0M76.5 131h0M104.5 124h0M95.5 132.5h0M66 140h0M74 185h0M79 164h0M87 195h0M94 149.5h0M91 160.5h0M98 181.5h0M70 132.5h0M109 191.5h0M98 199.5h0M76.5 172h0M106.5 93.5h0M85 147.5h0M81.5 194h0M102 93h0M84 145h0M87.5 181h0M98.5 171h0M81.5 195h0M72 159h0M83.5 196h0M84.5 146h0M96 143.5h0M90 162.5h0M98 93.5h0M67 163h0M98.5 93.5h0M109 135.5h0M87 145.5h0M98.5 242.5h0M57.5 137h0M94.5 204.5h0M96.5 103h0M73 240.5h0M67 235h0M95.5 145h0M103 164h0M89 180h0M100 195.5h0M105.5 173h0M84 174h0M88 146.5h0M90 116.5h0M88.5 94.5h0M92 148h0M89 177.5h0M78.5 143h0M75 164h0M90.5 137.5h0M83 165.5h0M78.5 162.5h0M92 220h0M94 150h0M89 129.5h0M107.5 129h0M107 84.5h0M90 72.5h0M94 168h0M90.5 150h0M97 105.5h0M87.5 166h0M103.5 171h0M90 167.5h0M111.5 124.5h0M72.5 215h0M64.5 167h0M85.5 118h0M86 160h0M74.5 185h0M84.5 173h0M87.5 161h0M104 118.5h0M70.5 110.5h0M78.5 131h0M96 133h0M89.5 67.5h0M97.5 165.5h0M75 186h0M76 146h0M90.5 157.5h0M134.5 132.5h0M108.5 143h0M57 131.5h0M77.5 142h0M84.5 131h0M81 149h0M91.5 179h0M81.5 98h0M105 164.5h0M93.5 138.5h0M92 192.5h0M81 211.5h0M110.5 159.5h0M80.5 138h0M88 125.5h0M104.5 166.5h0M107 165.5h0M94.5 183.5h0M110.5 139.5h0M67 130.5h0M74 169h0M125.5 119h0M109.5 152h0M90.5 91.5h0M83 148h0M80.5 161.5h0M83 149.5h0M115 199h0M65.5 160h0M66.5 110h0M102.5 186.5h0M128.5 130.5h0M86 146h0M84.5 118h0M100.5 146.5h0M94.5 159.5h0M71.5 133h0M62 155.5h0M97.5 149h0M75 144h0M98 160h0M76 139.5h0M89 160.5h0M82 89h0M106 200h0M64 190h0M124 125.5h0M113 158h0M94 152.5h0M80 138.5h0M106.5 141h0M87 185.5h0M87.5 150.5h0M103.5 122h0M84.5 94h0M90.5 145h0M82.5 111h0M80 117h0M94 141.5h0M72 187h0M65.5 195h0M106 133h0M89 139.5h0M86.5 186h0M110.5 150.5h0M82.5 148h0M82.5 121.5h0M99 159h0M96.5 184h0M75.5 147h0M93 144.5h0M97 121.5h0M95 171h0M80 138h0M83 213h0M87.5 208h0M89 155h0M156 169.5h0M148.5 152h0M108.5 167h0M97 164h0M73 180h0M124 199.5h0M116.5 172.5h0M126 182.5h0M137 191.5h0M91 179h0M117.5 196.5h0M122 170h0M121 184h0M120.5 152.5h0M118 192h0M131 168.5h0M92 149h0M127 150.5h0M101.5 165h0M71.5 156h0M106.5 163.5h0M83.5 187.5h0M155.5 176.5h0M116.5 137.5h0M113.5 142.5h0M98.5 147.5h0M106 185h0M74.5 150h0M87.5 171.5h0M121 160.5h0M108.5 200h0M120 142.5h0M111 208h0M107.5 167.5h0M136 198.5h0M109 178.5h0M104 205.5h0M126.5 183h0M122 148.5h0M103 172h0M120 183h0M110.5 184.5h0M123.5 179.5h0M74.5 135h0M96.5 188h0M120 188.5h0M115 188.5h0M136.5 209h0M116.5 156h0M133 173h0M86.5 205.5h0M124 212h0M130.5 151h0M138 139.5h0M136.5 205h0M132.5 161h0M114.5 160.5h0M163 132.5h0M155.5 167h0M106 137.5h0M92 178h0M101.5 175h0M130.5 172.5h0M120.5 166h0M96 191h0M121 121.5h0M92.5 153h0M125 157.5h0M92.5 158.5h0M96 178.5h0M70 169h0M119 163.5h0M99 174.5h0M136.5 159.5h0M94.5 155.5h0M122 188.5h0M93.5 205h0M112 148.5h0M102 180h0M139.5 156.5h0M102 159h0M152.5 159.5h0M120 181.5h0M117 162.5h0M93 169h0M110 143h0M98.5 175.5h0M110.5 169.5h0M136.5 184h0M100.5 169h0M89 155.5h0M101 179h0M106 196h0M142.5 195.5h0M104.5 179.5h0M108.5 157h0M110 164.5h0M120 158h0M124.5 191h0M100.5 148.5h0M99.5 189h0M119 141.5h0M125.5 207.5h0M129 188.5h0M115 186h0M137.5 172h0M160 203h0M114 120h0M72 172h0M128 186h0M108.5 141h0M120.5 182h0M111.5 162h0M144.5 169h0M107.5 196h0M116 183.5h0M159 153.5h0M129 151.5h0M106.5 203h0M80.5 184h0M86 179h0M85.5 176.5h0M93.5 183h0M130 186h0M121.5 166h0M119.5 176.5h0M126 201.5h0M124.5 153.5h0M108.5 179.5h0M80 182.5h0M130.5 156.5h0M118.5 155.5h0M139 153.5h0M112 193.5h0M106 127h0M96 199h0M123 161h0M123 178.5h0M106.5 111.5h0M104.5 121.5h0M86.5 171.5h0M91 166.5h0M110 163h0M119.5 183.5h0M109.5 181h0M125.5 173h0M128 179.5h0M116 131h0M119 184h0M109.5 175.5h0M139.5 148.5h0M98 173.5h0M111.5 168.5h0M129.5 183h0M118 188.5h0M113.5 128.5h0M112.5 154h0M157.5 167h0M104.5 194.5h0M130.5 180h0M75.5 163h0M120 174.5h0M96.5 174.5h0M143 174.5h0M146.5 185h0M110.5 156.5h0M117.5 141h0M93.5 171h0M96 177h0M101.5 182h0M109 160h0M113.5 150h0M114.5 162.5h0M116.5 155h0M81.5 174h0M98.5 183h0M104 189h0M105.5 189.5h0M112 170.5h0M120 147h0M117.5 194.5h0M55 170h0M115.5 174.5h0M86.5 208h0M125.5 172h0M126 207.5h0M102 189h0M67 152.5h0M90 142.5h0M106 180.5h0M133.5 153.5h0M96.5 155h0M90 184.5h0M105.5 156.5h0M128.5 174h0M125.5 166h0M107 172.5h0M89 204h0M118.5 150h0M133.5 166.5h0M126.5 158.5h0M91 229.5h0M109 145h0M118.5 144h0M136.5 144h0M114.5 197h0M134 164h0M82.5 196h0M104 166.5h0M99.5 162.5h0M109 183.5h0M88.5 156.5h0M120 177h0M86.5 153.5h0M117.5 170.5h0M133 186.5h0M127 173h0M107 177h0M97 146.5h0M131.5 165.5h0M123.5 164.5h0M122 199h0M129 216h0M102.5 175.5h0M144 158.5h0M102 156.5h0M87.5 192h0M128.5 147h0M91.5 150h0M114 184h0M136.5 201.5h0M92 137h0M132.5 146.5h0M108.5 178h0M103.5 165.5h0M140.5 139.5h0M123 184.5h0M78.5 160.5h0M67 180h0M123.5 193.5h0M123.5 175.5h0M122.5 181.5h0M87.5 189.5h0M155.5 175.5h0M124 198h0M115 172.5h0M90.5 173.5h0M123 164.5h0M128 152.5h0M120.5 166.5h0M70.5 172.5h0M102 185.5h0M116.5 184h0M94.5 121h0M117 187h0M75.5 142h0M115 161h0M93 199h0M116.5 148h0M117.5 162h0M121.5 198.5h0M160 174h0M112 153.5h0M127 145h0M143 111h0M124 214.5h0M118.5 177h0M114.5 189.5h0M82.5 167.5h0M112.5 200h0M96 152.5h0M133 164h0M114 172h0M93.5 174h0M102.5 135.5h0M115.5 181h0M121.5 184h0M101.5 203.5h0M103 169h0M123.5 156.5h0M145 168h0M100 159.5h0M121 190h0M126 145.5h0M99 136h0M100.5 132h0M142.5 163.5h0M96 160h0M107 187.5h0M113 145.5h0M121.5 187.5h0M125 105.5h0M90.5 153h0M144.5 187.5h0M149.5 150h0M98 153.5h0M93 201.5h0M113.5 172.5h0M145.5 171.5h0M122.5 166h0M80.5 198h0M98 169.5h0M126.5 102h0M136.5 173h0M92 181.5h0M96 155.5h0M86 176h0M128.5 157.5h0M149 134.5h0M91 141h0M123 149.5h0M103.5 174h0M162.5 196h0M154 185h0M91.5 183h0M158.5 189.5h0M163.5 183h0M123.5 152h0M173 184h0M149.5 178.5h0M172 170.5h0M122.5 192.5h0M106.5 156h0M114 174.5h0M144.5 186.5h0M110.5 183h0M105.5 180h0M133 180.5h0M119 169h0M177.5 162.5h0M121.5 183.5h0M168 163.5h0M137.5 157.5h0M154.5 180h0M107.5 159.5h0M109 182.5h0M87.5 177.5h0M141.5 189h0M132 187h0M132 182.5h0M116.5 186.5h0M146.5 158.5h0M140 195h0M96.5 186.5h0M73.5 190.5h0M91 156.5h0M143 165.5h0M155.5 199h0M148.5 169.5h0M133.5 168.5h0M129 165h0M129.5 183.5h0M109.5 186.5h0M94.5 166h0M115 197.5h0M136.5 185h0M172 163h0M125 189h0M129.5 170h0M122 174h0M134.5 152.5h0M134.5 185h0M119 198h0M136.5 192.5h0M160 173.5h0M116 181.5h0M106.5 171h0M116.5 191.5h0M110 199h0M101 173h0M145 190.5h0M154.5 156.5h0M128.5 194.5h0M82.5 189.5h0M106 169h0M106.5 189h0M137 174h0M196 188.5h0M147 175.5h0M165.5 178.5h0M148.5 179.5h0M148 178h0M126 171.5h0M120.5 183h0M158 177.5h0M114.5 178h0M108.5 190h0M153 174h0M124 183.5h0M115.5 168h0M107.5 161h0M150 183h0M116.5 170.5h0M126 172h0M105.5 187h0M105.5 197.5h0M69.5 175h0M80.5 187h0M127.5 172.5h0M88 165h0M153 180.5h0M139 193.5h0M115.5 177.5h0M101.5 172.5h0M133 172.5h0M87.5 197h0M117 172.5h0M153 159h0M126.5 171.5h0M94 183.5h0M109.5 177h0M136 191.5h0M145.5 161h0M126.5 179.5h0M98.5 187.5h0M134.5 193h0M115 178h0M139.5 188h0M189 174h0M165 186h0M148.5 171.5h0M112 172h0M164 174.5h0M112 190h0M172 175.5h0M159.5 198.5h0M89.5 194.5h0M162.5 169.5h0M109 181.5h0M90.5 195.5h0M112 189.5h0M181.5 174.5h0M179 186.5h0M96 165h0M147.5 179.5h0M102.5 176.5h0M134 163h0M133.5 176.5h0M113.5 172h0M146 209h0M133.5 195.5h0M152.5 170.5h0M136 195h0M135 186.5h0M145.5 189.5h0M186.5 162h0M154 178.5h0M174 180h0M121.5 154h0M184 183h0M165.5 161h0M184 182h0M153 190h0M119.5 195h0M75 185h0M173 180.5h0M110 175.5h0M142.5 172h0M135 167h0M77 185.5h0M203.5 80.5h0M112.5 98.5h0M125 150h0M160 141h0M233.5 138h0M149 76h0M158 82h0M196 129h0M227 92.5h0M202 126h0M191.5 77h0M212 92h0M162.5 128h0M231.5 138h0M231 148.5h0M213 89h0M140 139h0M120 111h0M111 93.5h0M181 84h0M192.5 88.5h0M232.5 84h0M221.5 140h0M127 72h0M180 140h0M181 92h0M100.5 63.5h0M155.5 96h0M105.5 60.5h0M183 132.5h0M171.5 134.5h0M177.5 120.5h0M170 146.5h0M226 104.5h0M212 119.5h0M118.5 143.5h0M134.5 104h0M168 101.5h0M206.5 126h0M182.5 148h0M201 118h0M201.5 66.5h0M195 134.5h0M209.5 75h0M103.5 146.5h0M161 126h0M214.5 71.5h0M123.5 81h0M149.5 109h0M213 95.5h0M201.5 63h0M122.5 135.5h0M117.5 116h0M201 81h0M218 124.5h0M119.5 87.5h0M113.5 69h0M119.5 100h0M127.5 91h0M100 66h0M209 78.5h0M127 133h0M137.5 106h0M185.5 121.5h0M164.5 119.5h0M163.5 114.5h0M234 122.5h0M127.5 138.5h0M150 111.5h0M174.5 83h0M110.5 119.5h0M172 82.5h0M169.5 65h0M125.5 133h0M220 85h0M108.5 104h0M135 76.5h0M104 83.5h0M139 89h0M234 118.5h0M206 143.5h0M190.5 145h0M230 130h0M184.5 108h0M202.5 129h0M123 97.5h0M170.5 132h0M130.5 128.5h0M223.5 89h0M117.5 100h0M226 145.5h0M196.5 88h0M117 121h0M105.5 85h0M138.5 120.5h0M164.5 74h0M230 99h0M223.5 111h0M170.5 61h0M207 97.5h0M196 138h0M126.5 67.5h0M151.5 89h0M187 141.5h0M106.5 120.5h0M119 98h0M195 106.5h0M152 135h0M126 90.5h0M234.5 137h0M158.5 128.5h0M172.5 100h0M166.5 148h0M163 85h0M191.5 137.5h0M105.5 80.5h0M123 75.5h0M146 95.5h0M206 114h0M220 103.5h0M202 106h0M167.5 65h0M118.5 73h0M101 149h0M127 127.5h0M211.5 98h0M113.5 125h0M223 125.5h0M200.5 91h0M118.5 89h0M205 73.5h0M212.5 149h0M228 145h0M112 70.5h0M191.5 113h0M181.5 117.5h0M182 89.5h0M112 98h0M218 83.5h0M159 90.5h0M175 147.5h0M172 61.5h0M194.5 148.5h0M173.5 72.5h0M116.5 120h0M197 75h0M113.5 63.5h0M184 137h0M128.5 124.5h0M180 171.5h0M168 177h0M185 194.5h0M168 152.5h0M132 179h0M163.5 157.5h0M117 153.5h0M163 184h0M204.5 151h0M207 193h0M111 159h0M223.5 163.5h0M197 150h0M207.5 188.5h0M210.5 151h0M127.5 192.5h0M218 190.5h0M141 161h0M174 153.5h0M212.5 153.5h0M193.5 156.5h0M203.5 172h0M228 172h0M218 166h0M202.5 174.5h0M139 156.5h0M117.5 158.5h0M179.5 158.5h0M136 193.5h0M166.5 194h0M115 151h0M167.5 165.5h0M130 169.5h0M125 170.5h0M194 155h0M205.5 177h0M148 169.5h0M170 178h0M111.5 163h0M125 188h0M154 161h0M134 191.5h0M133.5 156.5h0M115 192.5h0M130 163h0M222.5 166h0M214 158h0M168.5 159.5h0M146.5 195h0M175.5 175.5h0M196 150h0M203 173.5h0M125 160h0M123.5 163.5h0M186 153h0M124 163.5h0M119.5 168h0M171 160h0M173.5 171.5h0M173.5 167h0" stroke="#000" stroke-width="1.9" stroke-linecap="square" fill="none"/>
<path d="M47.8 151.1C51.8 151.1 54.3 156.85 58 162C61.7 167.15 68.67 176.5 70 182C71.33 187.5 70 192.65 66 195C62 197.35 52.67 196.27 46 196.1C39.33 195.93 30 196.35 26 194C22 191.65 20.67 187.33 22 182C23.33 176.67 29.7 167.15 34 162C38.3 156.85 43.8 151.1 47.8 151.1Z" fill="#a4a4a4" stroke="#e4e4e4" stroke-width="1.6"/>
<path d="M58.0 196.6L35.8 196.2L30.5 195.5L24.8 192.9L22.2 188.8L21.9 184.1L22.5 181.3L28.0 170.6L37.8 158.3L43.2 153.6L46.8 151.8L50.0 152.4L53.0 155.5L64.8 172.1L69.8 182.1L70.1 188.1L68.1 192.8L64.5 195.5ZM56.8 196.4L35.8 195.9L30.7 195.1L25.4 192.3L23.2 188.6L22.9 184.3L23.8 180.8L28.9 171.1L39.1 159.1L44.2 154.9L47.2 153.5L49.0 153.8L50.8 155.3L61.5 169.1L66.2 176.3L68.8 182.6L68.8 188.8L66.7 193.1L62.4 195.6ZM55.8 196.1L37.8 195.7L32.8 195.0L27.2 191.9L24.9 188.1L24.7 184.6L25.5 180.9L30.2 172.1L38.5 163.0L47.2 156.4L48.7 157.1L61.0 171.3L64.8 177.1L67.1 182.8L67.2 188.3L65.2 192.3L61.5 194.8ZM54.0 195.9L36.0 195.1L29.4 191.3L26.8 187.6L27.4 181.3L31.9 173.1L37.8 167.0L46.8 160.6L59.0 171.9L63.0 177.8L65.1 183.1L65.3 187.6L63.8 191.1L59.1 194.3ZM49.2 195.6L40.5 195.2L36.2 194.0L31.1 190.3L29.2 188.1L28.7 186.3L29.9 180.3L33.8 174.0L39.2 168.8L46.2 164.7L53.0 169.0L58.0 173.8L61.6 179.3L63.3 185.1L62.8 189.0L59.0 192.5L53.8 195.0ZM49.0 194.9L42.5 194.6L37.6 193.1L33.5 190.1L30.6 185.8L31.7 180.8L35.3 175.1L40.2 170.7L46.0 167.9L51.2 170.5L56.2 174.7L59.8 179.8L61.4 184.8L61.1 187.6L58.0 191.1L53.8 193.7ZM47.8 193.9L42.5 193.5L38.0 191.6L34.3 188.1L32.5 184.6L34.2 179.8L37.0 175.8L41.2 172.5L46.0 170.5L51.0 172.7L55.0 176.0L58.1 180.3L59.5 184.8L58.2 188.0L55.2 191.1L52.6 192.6ZM48.8 192.4L44.0 192.4L39.8 190.8L36.6 188.1L34.6 183.8L35.8 180.3L38.5 176.8L41.8 174.4L45.8 172.7L49.5 174.0L53.2 176.7L56.0 180.1L57.5 183.8L56.7 186.6L54.6 189.3ZM48.0 190.9L44.0 190.8L40.6 189.3L38.0 186.6L36.9 183.3L37.3 181.1L39.8 178.0L45.8 174.7L48.6 175.6L51.7 177.6L55.4 182.8L54.8 185.5L53.3 187.8L50.8 189.8ZM48.0 188.9L45.0 189.0L42.5 188.1L40.6 186.3L39.6 183.8L40.2 180.1L42.5 178.1L45.5 176.7L49.8 178.3L52.6 181.6L51.7 186.1ZM47.0 185.9L44.8 185.7L43.3 184.1L43.4 181.8L45.0 180.5L47.5 180.6L48.9 182.1L48.8 184.6Z" fill="none" stroke="#4a4a4a" stroke-width="0.9"/>
<ellipse cx="46" cy="186" rx="3.5" ry="2" fill="#f2f2f2"/>
<path d="M101 2.2L241.7 2.2L241.7 151.1L148 155.4L102.2 108.7Z" fill="none" stroke="#D63F5C" stroke-width="2"/>
<text x="227" y="227.5" font-size="19.5" fill="#DA4763" text-anchor="end">0.023</text>
<rect x="0" y="0" width="247.3" height="247.9" fill="none" stroke="#111" stroke-width="2.2"/>
</g>
<g transform="translate(1747.3,642.2)">
<path d="M-5 23.8h5M-5 81.5h5M-5 142.6h5M-5 204.6h5M39 247.6v5M123.9 247.6v5M174.8 247.6v5M224.9 247.6v5" stroke="#111" stroke-width="1.6" fill="none"/>
<path d="M-2.5 64.13h2.5M-2.5 53.97h2.5M-2.5 46.76h2.5M-2.5 41.17h2.5M-2.5 36.6h2.5M-2.5 32.74h2.5M-2.5 29.39h2.5M-2.5 26.44h2.5M-2.5 124.21h2.5M-2.5 113.45h2.5M-2.5 105.81h2.5M-2.5 99.89h2.5M-2.5 95.05h2.5M-2.5 90.96h2.5M-2.5 87.42h2.5M-2.5 84.3h2.5M-2.5 185.94h2.5M-2.5 175.02h2.5M-2.5 167.27h2.5M-2.5 161.26h2.5M-2.5 156.35h2.5M-2.5 152.2h2.5M-2.5 148.61h2.5M-2.5 145.44h2.5M139.22 247.6v2.5M148.19 247.6v2.5M154.54 247.6v2.5M159.48 247.6v2.5M163.51 247.6v2.5M166.92 247.6v2.5M169.87 247.6v2.5M172.47 247.6v2.5M189.88 247.6v2.5M198.7 247.6v2.5M204.96 247.6v2.5M209.82 247.6v2.5M213.79 247.6v2.5M217.14 247.6v2.5M220.04 247.6v2.5M222.61 247.6v2.5M-3 245.93h3M-17.6 247.6v3M-3 225.27h3M10.7 247.6v3M-3 183.93h3M67.3 247.6v3M-3 163.27h3M95.6 247.6v3" stroke="#222" stroke-width="1" fill="none"/>
<path d="M-5 194.7h5M29.1 247.6v5M-5 196.9h5M31.3 247.6v5M-5 199.1h5M33.5 247.6v5M-5 200.2h5M34.6 247.6v5M-5 202.4h5M36.8 247.6v5M-5 203.5h5M37.9 247.6v5M-5 204.6h5M39 247.6v5M-5 205.7h5M40.1 247.6v5M-5 207.9h5M42.3 247.6v5M-5 209h5M43.4 247.6v5M-5 211.2h5M45.6 247.6v5M-5 213.4h5M47.8 247.6v5" stroke="#000" stroke-width="1" fill="none"/>
<text x="-8" y="26.8" font-size="8.5" fill="#333" text-anchor="end">10⁵</text>
<text x="-8" y="84.5" font-size="8.5" fill="#333" text-anchor="end">10⁴</text>
<text x="-8" y="145.6" font-size="8.5" fill="#333" text-anchor="end">10³</text>
<text x="-8" y="207.6" font-size="8.5" fill="#333" text-anchor="end">0</text>
<text x="39" y="263.6" font-size="8.5" fill="#333" text-anchor="middle">0</text>
<text x="123.9" y="263.6" font-size="8.5" fill="#333" text-anchor="middle">10³</text>
<text x="174.8" y="263.6" font-size="8.5" fill="#333" text-anchor="middle">10⁴</text>
<text x="224.9" y="263.6" font-size="8.5" fill="#333" text-anchor="middle">10⁵</text>
<path d="M56 47.2C62.8 47.2 70.73 48.05 76.4 50.6C82.07 53.15 86.62 58.25 90 62.5C93.38 66.75 94.45 71.57 96.7 76.1C98.95 80.63 104.07 84.62 103.5 89.7C102.93 94.78 96.7 99.53 93.3 106.6C89.9 113.67 84.52 123.6 83.1 132.1C81.68 140.6 82.53 149.1 84.8 157.6C87.07 166.1 96.42 176.87 96.7 183.1C96.98 189.33 93.85 191.9 86.5 195C79.15 198.1 63.92 200.87 52.6 201.7C41.28 202.53 26.1 203.1 18.6 200C11.1 196.9 9.02 193 7.6 183.1C6.18 173.2 9.4 156.17 10.1 140.6C10.8 125.03 10.1 102.43 11.8 89.7C13.5 76.97 16.33 70.72 20.3 64.2C24.27 57.68 29.65 53.43 35.6 50.6C41.55 47.77 49.2 47.2 56 47.2Z" fill="#000"/>
<path d="M15.5 128h0M14.5 154.5h0M61 49.5h0M12 182.5h0M25.5 195h0M78.5 141h0M14 111.5h0M81.5 121.5h0M12 131h0M83 123.5h0M12.5 185.5h0M90 182h0M80 143.5h0M15 130h0M68.5 194h0M40 51.5h0M96.5 79.5h0M46 198.5h0M80.5 129h0M16 84h0M13.5 131.5h0M94 183.5h0M82.5 124.5h0M92 99.5h0M89 64.5h0M18.5 192.5h0M37.5 53h0M85 120h0M38 200h0M82.5 148.5h0M14 162.5h0M15.5 142.5h0M18.5 75.5h0M27 196h0M28 60h0M59 49.5h0M13.5 117.5h0M83.5 63.5h0M69.5 195.5h0M82 58.5h0M13 164h0M79.5 153.5h0M89.5 182.5h0M32 59.5h0M81.5 192h0M91 182h0M78.5 138h0M77.5 58.5h0M92 76h0M11 142h0M56 196h0M60.5 54h0M21 77.5h0M102 90h0M88 116h0M75 193h0M17.5 89h0M13 173.5h0M91 108h0M80.5 143.5h0M92 176.5h0M91.5 101h0M15 120.5h0M83.5 123h0M59 196.5h0M76.5 55h0M82 133.5h0M80.5 132.5h0M14.5 144h0M20.5 73h0M15 155h0M33 196h0M13 130h0M10 178.5h0M70 54.5h0M29 196h0M82 57.5h0M97.5 95.5h0M14.5 147h0M9.5 183h0M59 51h0M91.5 74.5h0M71.5 52.5h0M13.5 154h0M56 52h0M93 81h0M9 181.5h0M16.5 90.5h0M14 146h0M18 188.5h0M14 121.5h0M88.5 70.5h0M32 58.5h0M22 194.5h0M12.5 111.5h0M14 103h0M90.5 179h0M18 87.5h0M96.5 95h0M19.5 82h0M75 56h0M60.5 194h0M69.5 53h0M91.5 184.5h0M32 60h0M9.5 170.5h0M86 111h0M15.5 100h0M18.5 189.5h0M83 157h0M90 73h0M102 89h0M73.5 191.5h0M80.5 157.5h0M84 126h0M85 114.5h0M81 123h0M16 142.5h0M80 139.5h0M27.5 61h0M74 195h0M84.5 189h0M83 152.5h0M20 75h0M93 96h0M79 136h0M52.5 200h0M31 196h0M80.5 128h0M15 144h0M89 171h0M15 156.5h0M95 94.5h0M59 199h0M17 97.5h0M85 188.5h0M12.5 112h0M84 194.5h0M83 147.5h0M14.5 133h0" stroke="#fff" stroke-width="1.3" stroke-linecap="square" fill="none"/>
<path d="M71 200.5h0M94.5 177.5h0M100 80.5h0M14.5 80.5h0M59.5 45.5h0M55 202.5h0M18.5 67.5h0M87.5 60.5h0M30.5 200.5h0M9 190.5h0M73.5 47.5h0M96 178.5h0M5.5 149h0M77 200.5h0M8.5 142h0M102.5 90h0M88.5 122.5h0M95 72h0M53.5 203.5h0M23.5 57h0M16.5 199.5h0M12 118.5h0M94 179.5h0M10.5 134h0M98 67h0M86.5 142h0M2 163h0M10.5 140.5h0M88.5 193.5h0M89.5 61.5h0M82.5 132.5h0M98 111.5h0M82.5 139h0M12 105h0M99 108.5h0M11 69h0M16 76.5h0M80 52.5h0M94.5 178h0M59.5 204h0M66.5 46.5h0M94.5 198.5h0M21.5 63.5h0M96.5 69h0M16.5 195.5h0M98.5 76h0M22 200h0M16 68h0M97 111h0M62 39.5h0M88 58.5h0M37.5 205.5h0M64 47.5h0M96 53.5h0M56 209h0M25.5 60.5h0M92.5 198h0M103.5 192h0M6.5 177.5h0M92.5 64h0M21 212h0M99 95.5h0M11.5 193h0M36.5 45h0M77.5 52.5h0M31.5 200h0M9.5 194h0M110.5 79.5h0M82.5 131.5h0M52.5 46h0M54.5 44.5h0M98.5 75.5h0M5 148h0M35 51.5h0M97.5 123.5h0M12 190h0M76 51h0M94 171h0M16.5 197h0M88 62h0M88 166.5h0M14.5 80h0M19.5 201h0M77.5 198h0M94 186.5h0M50.5 48.5h0M22.5 209h0M63.5 46h0M3.5 108.5h0M85 160h0M85 195h0M90.5 111.5h0M80 199.5h0M86.5 158h0M90 63.5h0M4.5 181h0M92 68.5h0M9.5 114.5h0M67.5 48.5h0M4 117.5h0M10 104h0M54 200.5h0M9.5 148.5h0M86 126h0M8.5 135h0M85.5 195.5h0M93.5 120h0M39.5 50h0M95.5 186h0M102 172h0M4.5 81h0M96 175h0M6 166.5h0M100 93.5h0M11 88h0M94.5 135h0M85 41h0M44.5 50h0M100.5 93h0M31.5 51.5h0M49 46h0M62.5 48.5h0M82.5 53.5h0M91.5 109.5h0M102 178.5h0M10.5 190h0M42.5 48h0M92 167.5h0M103 82.5h0M27.5 201.5h0M101.5 80h0M88.5 62h0M29.5 205h0M10 154.5h0M84 54.5h0M75 197h0M6.5 150.5h0M2 124h0M94 180h0M14 72.5h0M110 100h0M5.5 147h0M12 119.5h0M15.5 74.5h0M56.5 202.5h0M93 67h0M78 52.5h0M43 204.5h0M100.5 97h0M7.5 182h0M94.5 57h0M11 116.5h0M92 116h0M61 49h0M100 98h0M75.5 198.5h0M27.5 200.5h0M102.5 180h0M64.5 205.5h0M32 52h0M38.5 200h0M31 55.5h0M68 41.5h0M53.5 43.5h0M18 71.5h0M34.5 200.5h0M43 213h0M38.5 202.5h0M21.5 62h0M81.5 55h0M4.5 178h0M35 215.5h0M83.5 145h0M8 143h0M8.5 143h0M97 65.5h0M7.5 151.5h0M75 196.5h0M60.5 205h0M13 194h0M93.5 176.5h0M10.5 71.5h0M91.5 117.5h0M9.5 100h0M11 138.5h0M9.5 186h0M11 76.5h0M70 49.5h0M9 198h0M12.5 190.5h0M94 191.5h0M85 55h0M98 101h0M11 193.5h0M83.5 56h0M92 169h0M70 201h0M68 45.5h0M5.5 117.5h0M86 159.5h0M10.5 118.5h0M58 47.5h0M36 51.5h0M18 197h0M45.5 43h0M51 49h0M12 93.5h0M96 68.5h0M91 168h0M88 119h0M11 119h0M97 100.5h0M96 114.5h0M95.5 69.5h0M97 75.5h0M29 54h0M43.5 45.5h0M93 177h0M4.5 133.5h0M67.5 202h0M44.5 209.5h0M93 175.5h0M7 180h0M89 118.5h0M85 126.5h0M46 205h0M96.5 104.5h0M81.5 199.5h0M31 53h0M68.5 29.5h0M93.5 66.5h0M10 109h0M81 53.5h0M86 126.5h0M9.5 87h0M10 196h0M90 114.5h0M79 53.5h0M84.5 137.5h0M95 144.5h0M8.5 107.5h0M44.5 47.5h0M11.5 116.5h0M20 68h0M26.5 54h0M17.5 75h0M15.5 50h0M43.5 48.5h0M94 64.5h0M84.5 155h0M88 123h0M178.5 99h0M153 108.5h0M182.5 86h0M154.5 102.5h0M186.5 101h0M136.5 98.5h0M115.5 93.5h0M193 97.5h0M163 104h0M150.5 77h0M120 112h0M144.5 71h0M207 86.5h0M99 130.5h0M174.5 96h0M177 106.5h0M127 108.5h0M126.5 83.5h0M93 98h0M235.5 76h0M124.5 107.5h0M222.5 93h0M163.5 89h0M140 112.5h0M134.5 112.5h0M185.5 89h0M116.5 94.5h0M109.5 83.5h0M155.5 100.5h0M151 63h0M136.5 104.5h0M192.5 109h0M71.5 76h0M128.5 75h0M81 74h0M170 90h0M164.5 101h0M224 97.5h0M193.5 90.5h0M153.5 70h0M129 81h0M181.5 91h0M160 98.5h0M165.5 66h0M191 70.5h0M155.5 111h0M135.5 128.5h0M182.5 95h0M119 75h0M168.5 95h0M163 105.5h0M140.5 94.5h0M170 78h0M129 82h0M160.5 88.5h0M169 85.5h0M101.5 93h0M127.5 76h0M147.5 89.5h0M106.5 90.5h0M137 89.5h0M146 88h0M162 96.5h0M172.5 93.5h0M145 89.5h0M129 87.5h0M99.5 78.5h0M129 76h0M149.5 94h0M176.5 99h0M88.5 103.5h0M175.5 97h0M116.5 92.5h0M177 102h0M156.5 95.5h0M167.5 82.5h0M144 82.5h0M145 60h0M201.5 97.5h0M204.5 79h0M194.5 114h0M150.5 85h0M121 75h0M172 125h0M159.5 90h0M100 99h0M196 96h0M181.5 89h0M60.5 96.5h0M216 65h0M132.5 109h0M177.5 123.5h0M114.5 85h0M104.5 95.5h0M131 90h0M144.5 82h0M206 112.5h0M154.5 77h0M128 87h0M167 129.5h0M150 66h0M140 96h0M164 52.5h0M128 116.5h0M208 129.5h0M146.5 89h0M132.5 70.5h0M103.5 104h0M202.5 84.5h0M51.5 102.5h0M107.5 72.5h0M90 85h0M156.5 75h0M125.5 97.5h0M115 72.5h0M138 98.5h0M135 71.5h0M137 87h0M196 77h0M156.5 86h0M143.5 116h0M160 103.5h0M158 83h0M101 84h0M153.5 100h0M127.5 62h0M156.5 87.5h0M129 111h0M227 102h0M197.5 55.5h0M212.5 78.5h0M133.5 118.5h0M153.5 93.5h0M220 115h0M129.5 103.5h0M94 119.5h0M138.5 88h0M165 81h0M170.5 77h0M181 78.5h0M79.5 136.5h0M197.5 92.5h0M99 91.5h0M136.5 83h0M186 87.5h0M199.5 94.5h0M224.5 76h0M148.5 99.5h0M106.5 84.5h0M131.5 108.5h0M147.5 102.5h0M105.5 100.5h0M82 107.5h0M91.5 106h0M151.5 75h0M123 97.5h0M120 63.5h0M217 89.5h0M199.5 90.5h0M47 109.5h0M143 89.5h0M181 77h0M174 81.5h0M115.5 78h0M91 72h0M105 110.5h0M165 92.5h0M186 74.5h0M140 96.5h0M127 95.5h0M165.5 114h0M88.5 67h0M105.5 74h0M141.5 94h0M141 102.5h0M124.5 86h0M123.5 85h0M176 98.5h0M188 87.5h0M125.5 77h0M94 101h0M194.5 81.5h0M158.5 79.5h0M149 97.5h0M136.5 93.5h0M145 114h0M132 103.5h0M75.5 113.5h0M98 85.5h0M204.5 95h0M206 87h0M169 73.5h0M198 95h0M121.5 116h0M183.5 105h0M170 91.5h0M123 103h0M95 72.5h0M128.5 115h0M177.5 97.5h0M102.5 107h0M207.5 70.5h0M120.5 94.5h0M182 65.5h0M165 70.5h0M124 82.5h0M117 88h0M128 61.5h0M130 121h0M163 99.5h0M162 108h0M115.5 102h0M160.5 92h0M136.5 113h0M103.5 102.5h0M200 99.5h0M172 97.5h0M141 115h0M148.5 90.5h0M188.5 98.5h0M158 122h0M182 61h0M153 117h0M182.5 110.5h0M133.5 72h0M186.5 93h0M77.5 112h0M157.5 84.5h0M98 113h0M215 106.5h0M193.5 80h0M185.5 109.5h0M195 124.5h0M150 100.5h0M123.5 99h0M165.5 87h0M177 106h0M106 103h0M187 91h0M164.5 88.5h0M70.5 99h0M178 74h0M114 114.5h0M164 99.5h0M92.5 110.5h0M151.5 78h0M148 117h0M123 99.5h0M159 99h0M206 110.5h0M216 86.5h0M130 79h0M143 114h0M91.5 113.5h0M187.5 91h0M140 122h0M239 74h0M217 91h0M170.5 78h0M141 84h0M178 94.5h0M156.5 65.5h0M176.5 83.5h0M143 95.5h0M186 79.5h0M172 107h0M117.5 107.5h0M140 107.5h0M87 91h0M109.5 98.5h0M83.5 122h0M154 69h0M210 105.5h0M96.5 105.5h0M134.5 96.5h0M91.5 87h0M175.5 115.5h0M149.5 97.5h0M186 100h0M150.5 105.5h0M118 121h0M173 88h0M195 79h0M134.5 57.5h0M171 109.5h0M104.5 90h0M178 94h0M141.5 124h0M159 80.5h0M192 101.5h0M80.5 82.5h0M107.5 85.5h0M161 70.5h0M145 92.5h0M139 77.5h0M104 89.5h0M154.5 85h0M165 88.5h0M181.5 65.5h0M197 100h0M164.5 81.5h0M201.5 128.5h0M172.5 148.5h0M100.5 129.5h0M135.5 92.5h0M156 118h0M177.5 96h0M138 101h0M193 88h0M126.5 107h0M190 109.5h0M119 70.5h0M199.5 69h0M131 104h0M199 109h0M138.5 88.5h0M135 60h0M202.5 99.5h0M161 67.5h0M144.5 111.5h0M173 101h0M79.5 77.5h0M119.5 116h0M205.5 84.5h0M157.5 110h0M156 94h0M114 95.5h0M171.5 114.5h0M138 107.5h0M177 71.5h0M152.5 94h0M165 77h0M64.5 94.5h0M69.5 89.5h0M154 88.5h0M172 84h0M106 90h0M140.5 90.5h0M94.5 91.5h0M135.5 124.5h0M108.5 93.5h0M158.5 104.5h0M123.5 110.5h0M203 84.5h0M164.5 105.5h0M158.5 93h0M212.5 82h0M166 86.5h0M175 79h0M122 100h0M119 117h0M132.5 139h0M165.5 60.5h0M121.5 70.5h0M150 104h0M194 108.5h0M180 86h0M121 91.5h0M104 65h0M141 76h0M184.5 85h0M216.5 85h0M140.5 70h0M120 105h0M120 117h0M168.5 86.5h0M118.5 96h0M142 106h0M177 81h0M157 85h0M149.5 73h0M187 88.5h0M145 101h0M167 67h0M195 97h0M138 80h0M177.5 106h0M113 84.5h0M148.5 94.5h0M112.5 98.5h0M207 77h0M182.5 83h0M144 70h0M178.5 84h0M136.5 76.5h0M123.5 101.5h0M179 102.5h0M64.5 79h0M186 126.5h0M164.5 68h0M107 98h0M94.5 80h0M154 93.5h0M203 75.5h0M173.5 85h0M122.5 125.5h0M174.5 81.5h0M123 101.5h0M162.5 103.5h0M141 105h0M98 78.5h0M119.5 92.5h0M155.5 113.5h0M170 110h0M182.5 117.5h0M150.5 87.5h0M168.5 107.5h0M171 130.5h0M142.5 95.5h0M116.5 115h0M179.5 87h0M170.5 89.5h0M151.5 122h0M119 85.5h0M181.5 110.5h0M159 130.5h0M205 90.5h0M183.5 104.5h0M107.5 113h0M189 87.5h0M124.5 49.5h0M152 100h0M196 115.5h0M94.5 85h0M169.5 93.5h0M113 84h0M106.5 99.5h0M87 86h0M80 92h0M101 124.5h0M98.5 82.5h0M91.5 94.5h0M94 103h0M152.5 92.5h0M117 98h0M161.5 97.5h0M149.5 90.5h0M143 90h0M170.5 111h0M139.5 69h0M109.5 104h0M142 91h0M112.5 105h0M195.5 96.5h0M90.5 94h0M199.5 117.5h0M128.5 82.5h0M220.5 101h0M75.5 51h0M178.5 93h0M118 81.5h0M158 77.5h0M138 93h0M161 92.5h0M81.5 100h0M156.5 108.5h0M141 89h0M38.5 94.5h0M142.5 122h0M110.5 94h0M42 96.5h0M183.5 111.5h0M137.5 102.5h0M117.5 127.5h0M110 99.5h0M160 93.5h0M76.5 77h0M183 94.5h0M128 120.5h0M137.5 96.5h0M198.5 121.5h0M93 81.5h0M114.5 80.5h0M103.5 99.5h0M104.5 93.5h0M107 100h0M103 108.5h0M108.5 93h0M94 72.5h0M129 83.5h0M116.5 85.5h0M115.5 80h0M108.5 105.5h0M126 82.5h0M109 80.5h0M110.5 82.5h0M94.5 100h0M125 90.5h0M102 87h0M122.5 105.5h0M109.5 89h0M107 102h0M126 77h0M110 103.5h0M109 97.5h0M112 103h0M117.5 111h0M128.5 101h0M111.5 81.5h0M103.5 107.5h0M117 90h0M113 80.5h0M114 69.5h0M108 98.5h0M103.5 109.5h0M107.5 85h0M111.5 106h0M125 93.5h0M115 87.5h0M127 101.5h0M107 65h0M86.5 96.5h0M117 82.5h0M110 95.5h0M98 89h0M100 85.5h0M130.5 77.5h0M111.5 95.5h0M130.5 115h0M112 128.5h0M111.5 91h0M105.5 93h0M107.5 103.5h0M112.5 94h0M135.5 103h0M102 102h0M121 101.5h0M115.5 62.5h0M112.5 130.5h0M111.5 80h0M117.5 99.5h0M113 99.5h0M96.5 73.5h0M95 93.5h0M133 62.5h0M98 89.5h0M102.5 64h0M102 73.5h0M95.5 81.5h0M114.5 86h0M121 86h0M101 72h0M125 99.5h0M105.5 76.5h0M97 89h0M101 99h0M121.5 72h0M95.5 65.5h0M103.5 72h0M101.5 81.5h0M113 64.5h0M109 92h0M105 99.5h0M121 72.5h0M105 68.5h0M101 89h0M122 95h0M113 83.5h0M104 91h0M113 102.5h0M112.5 114.5h0M112 123h0M139 103h0M122 65h0M112 92.5h0M113.5 75h0M122 117.5h0M116 70h0M116.5 102h0M115.5 84.5h0M120 87.5h0M120 110.5h0M101.5 83.5h0M97.5 85.5h0M103.5 84.5h0M109 98.5h0M119 99.5h0M127.5 106h0M125 98h0M92.5 90h0M107 79h0M115 111h0M117.5 99h0M126 73h0M133.5 81h0M108 90h0M108 64.5h0M121 99.5h0M115.5 83h0M110 103h0M114 89.5h0M117 101.5h0M100.5 96h0M114.5 90.5h0M108 108h0M119.5 96.5h0M139.5 85.5h0M88.5 77h0M111 117.5h0M112.5 58h0M115.5 109.5h0M128 85h0M103.5 83h0M127.5 73h0M121.5 115h0M105 115.5h0M112 111h0M118 90h0M106 90.5h0M113 93h0M110.5 101h0M113 85.5h0M110 94h0M126.5 97.5h0M113 72.5h0M111.5 91.5h0M105.5 97h0M110.5 70.5h0M123 94h0M133.5 99h0M128 102h0M101 82h0M114 107h0M109.5 83h0M120 108h0M131 112h0M108 89h0M121.5 132.5h0M118.5 170.5h0M111 132h0M95.5 134.5h0M121.5 161.5h0M92.5 166h0M130.5 112.5h0M79.5 146.5h0M105 139.5h0M106.5 170.5h0M100 144.5h0M125 143h0M111 127.5h0M122.5 124.5h0M105 123.5h0M84.5 177h0M113 166.5h0M89.5 166h0M117 159h0M104 196h0M116 104.5h0M126.5 103h0M120.5 135.5h0M112.5 168.5h0M93 160.5h0M121.5 154h0M111 149.5h0M97.5 160h0M98 195h0M80.5 137.5h0M117 170.5h0M95.5 146.5h0M92.5 168.5h0M116 84h0M97 93h0M91.5 147h0M115 152.5h0M122 114h0M105 144.5h0M99 144h0M112.5 181h0M77 129.5h0M71.5 148.5h0M123.5 121h0M119.5 169h0M118.5 155.5h0M108 127.5h0M127.5 126h0M93.5 140.5h0M88.5 193h0M105.5 120.5h0M94 172.5h0M102.5 154.5h0M74.5 195h0M119 134h0M97 113h0M126 194h0M103 148h0M94 144h0M67 72h0M107.5 189h0M113.5 120h0M76 158.5h0M87 144h0M98.5 142h0M127 104.5h0M94 173.5h0M112.5 176.5h0M110.5 162.5h0M78.5 195.5h0M102.5 135h0M82.5 137.5h0M75.5 197h0M121 141.5h0M84 95h0M132.5 122.5h0M79.5 210h0M100.5 131h0M88.5 141h0M83.5 116h0M128 170h0M113 146.5h0M107.5 117.5h0M92.5 130h0M98.5 133h0M115 153.5h0M112 152.5h0M109 155.5h0M80.5 128h0M111 186.5h0M99.5 146h0M112.5 179.5h0M102.5 92.5h0M121.5 159h0M107 122.5h0M101 164h0M107 187h0M112.5 160h0M113.5 189h0M134.5 171.5h0M70 109h0M88 138.5h0M77.5 132h0M107.5 158h0M97 163h0M151.5 145.5h0M84.5 142.5h0M112 161h0M102.5 176h0M107 127.5h0M100.5 154h0M108.5 118.5h0M103 134.5h0M91.5 167.5h0M101.5 142.5h0M95.5 122.5h0M100 171h0M112 147.5h0M109.5 111h0M99 152h0M89.5 208.5h0M113 148h0M84 82.5h0M133.5 198h0M98 141h0M99.5 182.5h0M114 164h0M110.5 135h0M110.5 93.5h0M110 145.5h0M100 172.5h0M102 151.5h0M96.5 148h0M122 125h0M96.5 182h0M118.5 200h0M88 153h0M92.5 149h0M102 210h0M126.5 157h0M107.5 146h0M86 210.5h0M117.5 141h0M118.5 152h0M100.5 164h0M82.5 145.5h0M109.5 108.5h0M101.5 140h0M94 170.5h0M104 147.5h0M85 135h0M78 121h0M106 143.5h0M115.5 139.5h0M102.5 177.5h0M116 137.5h0M108 171h0M119 151h0M89 193h0M107 140h0M77 144h0M114 154.5h0M92.5 137.5h0M120.5 131.5h0M103.5 146h0M91.5 139.5h0M93 161.5h0M106.5 128h0M81.5 170.5h0M90 148.5h0M102 147.5h0M103 148.5h0M101.5 133.5h0M120 171h0M84.5 112h0M107.5 138h0M107 180.5h0M119.5 136.5h0M97 131h0M104.5 145h0M97 182h0M105 122.5h0M113.5 180h0M124 147.5h0M81 121.5h0M105 102h0M93 124.5h0M125 123h0M96.5 145h0M113.5 170h0M136.5 147.5h0M93 121.5h0M101.5 162h0M125 167h0M101 154.5h0M93.5 132h0M113 105.5h0M107.5 150h0M96 150.5h0M73.5 163.5h0M101 163h0M102 137.5h0M134.5 142.5h0M113.5 121.5h0M98.5 193.5h0M121 175h0M107.5 153.5h0M146.5 128.5h0M120.5 148h0M94 185.5h0M93 195h0M113.5 142h0M118.5 154.5h0M85.5 180.5h0M89.5 153h0M106.5 149.5h0M107 151.5h0M138 150.5h0M93.5 92.5h0M113.5 200h0M116 174.5h0M122 138h0M123.5 158h0M89.5 167h0M110 168.5h0M103.5 140h0M143.5 172h0M154 87h0M151.5 113h0M104.5 111.5h0M239 104h0M230.5 144.5h0M157.5 90.5h0M104.5 106h0M221.5 148.5h0M189 66h0M196 68h0M156.5 121h0M185.5 119h0M160.5 109.5h0M204.5 139.5h0M123.5 92h0M195 61.5h0M152 88.5h0M230 90h0M163.5 135.5h0M119.5 113.5h0M104 70h0M222 72h0M107 81h0M225.5 70h0M219 87.5h0M127.5 80.5h0M204 115h0M157.5 75.5h0M100.5 105.5h0M216.5 69.5h0M134 100h0M191 64h0M116.5 125h0M173 149.5h0M128.5 93h0M151 123h0M125.5 115h0M129.5 89h0M152.5 127h0M207 112.5h0M138.5 77h0M155 136h0M232 140.5h0M210 87.5h0M103 103.5h0M171.5 74h0M209.5 111.5h0M123 124.5h0M183 129.5h0M132 139.5h0M205 84h0M183.5 78.5h0M161.5 121h0M216.5 119h0M149 77h0M189 120h0M201 131h0M201 143.5h0M182.5 74.5h0M145 74h0" stroke="#000" stroke-width="1.9" stroke-linecap="square" fill="none"/>
<path d="M62.8 65.1C67.62 66.23 73.17 69.18 74.7 76.1C76.23 83.02 74.45 97.62 72 106.6C69.55 115.58 62.17 121.93 60 130C57.83 138.07 57.67 147.5 59 155C60.33 162.5 67.93 169.83 68 175C68.07 180.17 64.07 183.83 59.4 186C54.73 188.17 46.52 189.08 40 188C33.48 186.92 23.02 183.17 20.3 179.5C17.58 175.83 21.15 171.75 23.7 166C26.25 160.25 33.9 153.48 35.6 145C37.3 136.52 33.9 124.32 33.9 115.1C33.9 105.88 33.62 97.33 35.6 89.7C37.58 82.07 41.27 73.4 45.8 69.3C50.33 65.2 57.98 63.97 62.8 65.1Z" fill="#a4a4a4" stroke="#e4e4e4" stroke-width="1.6"/>
<path d="M50.6 188.5L40.1 188.4L29.8 185.3L21.6 180.5L19.9 178.0L19.8 175.5L25.1 164.2L33.5 152.0L36.2 145.0L36.5 135.2L34.5 118.2L34.5 101.5L35.6 91.2L38.5 81.5L42.7 73.2L47.6 68.1L54.8 65.3L61.3 65.0L66.8 66.7L71.4 70.0L74.0 74.2L75.2 79.2L75.0 90.5L71.8 106.0L68.8 112.9L60.2 127.5L58.7 133.0L57.6 140.7L57.7 149.2L58.6 155.5L60.7 161.0L66.5 171.0L67.6 176.2L66.1 180.5L62.1 184.5L57.6 186.9ZM49.8 188.5L40.1 188.2L30.2 185.2L25.5 182.7L22.5 180.2L21.1 178.0L20.9 176.0L26.1 165.1L35.1 152.7L38.0 145.5L38.3 134.7L36.3 117.7L36.1 102.0L36.8 91.5L39.3 81.7L43.3 73.7L47.9 69.0L54.6 66.2L61.1 65.8L67.9 68.2L70.9 70.5L72.8 73.2L74.8 79.5L74.6 90.2L72.9 99.0L70.5 106.0L58.5 127.0L56.9 132.5L55.9 140.2L55.9 149.5L56.9 155.7L59.2 161.2L65.5 171.7L66.5 175.2L66.2 177.7L64.4 181.7L60.8 185.0L55.8 187.2ZM50.1 188.3L40.1 188.1L31.0 185.2L25.8 181.5L23.3 178.2L22.8 176.5L27.8 166.2L37.9 153.5L41.0 146.0L41.4 134.5L39.4 117.2L38.6 96.5L39.0 89.7L40.7 82.2L44.6 74.5L48.8 70.2L54.6 67.8L60.6 67.3L66.6 69.1L71.1 73.0L73.8 79.5L74.2 86.7L73.1 94.0L71.1 99.9L66.4 109.0L57.1 122.5L54.7 128.5L53.0 137.5L52.8 149.5L54.1 156.0L56.0 160.2L63.7 172.5L64.6 175.5L64.4 177.7L62.8 181.4L59.4 185.2L55.8 187.0ZM47.1 188.2L40.1 187.9L31.9 185.2L28.1 181.7L25.2 176.2L29.9 167.2L42.4 153.7L45.3 146.5L45.7 134.0L41.1 93.5L41.3 88.2L42.5 82.7L45.8 75.9L49.8 71.8L55.1 69.6L60.6 69.2L66.6 71.2L70.6 75.2L72.6 81.0L72.7 89.2L71.0 95.5L67.8 101.7L56.6 115.5L53.2 120.7L50.5 127.5L48.7 136.7L48.5 149.2L49.7 155.0L52.3 160.0L61.0 172.0L62.4 175.2L62.2 178.0L60.0 182.7L56.9 186.0L52.1 187.7ZM49.6 115.8L43.7 94.2L43.4 88.7L44.3 83.5L46.9 77.7L51.2 73.2L57.3 71.1L62.8 71.6L67.5 74.2L70.2 78.5L71.5 85.2L70.6 91.5L68.6 96.5L65.1 101.4L53.5 111.5ZM49.3 188.0L42.1 188.0L34.5 186.0L30.7 182.5L27.7 176.0L29.5 172.0L32.8 167.4L45.3 157.5L55.9 168.5L60.2 175.5L59.4 180.0L56.8 184.2L53.4 187.0ZM52.3 106.0L48.4 100.0L46.1 94.0L45.5 88.2L46.5 82.7L49.2 77.7L52.6 74.6L57.8 73.0L62.6 73.5L66.3 75.7L69.0 80.2L69.9 85.7L68.9 91.2L66.6 96.0L63.1 99.9L58.1 103.4ZM48.8 187.7L42.3 187.8L36.1 186.0L32.2 181.7L30.4 176.2L30.6 174.0L34.3 168.9L39.1 165.3L44.6 162.5L52.8 168.3L56.3 172.2L58.0 175.5L57.3 180.0L55.2 183.7L51.9 186.7ZM54.3 101.3L53.3 101.3L51.8 99.7L48.4 93.7L47.5 88.7L48.2 83.7L50.1 79.7L53.2 76.5L57.3 75.0L61.6 75.2L64.9 77.0L67.2 80.5L68.1 85.0L67.7 89.2L66.1 93.2L63.1 96.8L59.1 99.5ZM45.8 187.5L40.6 187.1L37.1 185.2L34.1 181.5L32.8 176.7L33.0 173.7L35.6 170.5L39.6 167.6L44.3 165.6L51.3 169.6L54.6 173.1L55.8 175.5L55.2 180.0L53.2 183.7L49.6 186.6ZM55.6 97.7L53.6 97.5L50.6 93.0L49.6 88.7L50.0 84.2L51.5 81.0L54.1 78.2L57.6 76.9L61.1 77.1L63.3 78.2L65.4 81.2L66.3 85.0L65.9 88.7L64.3 92.2L62.1 94.7L59.1 96.7ZM44.3 186.5L40.8 185.8L38.1 184.1L36.0 181.2L35.1 177.5L35.6 174.2L36.8 172.0L40.1 169.6L44.1 168.1L47.8 169.6L51.3 172.1L53.0 174.2L53.4 177.0L52.9 180.5L51.0 183.7L48.1 185.7ZM56.1 94.7L54.3 94.5L52.4 91.5L51.7 88.2L52.0 84.7L53.3 82.0L55.3 79.8L57.8 78.9L60.3 79.0L62.2 80.2L63.7 82.7L64.2 85.2L63.9 88.2L61.1 92.5ZM45.3 184.7L42.8 184.7L40.1 183.5L38.5 181.7L37.6 179.0L37.8 176.2L39.0 173.7L41.1 171.8L43.6 170.9L46.1 171.1L48.5 172.5L50.1 174.5L50.9 177.2L50.7 180.0L49.6 182.2L47.8 183.8ZM56.3 91.5L55.3 91.3L54.5 90.0L54.2 85.5L56.3 82.0L58.8 81.1L61.2 83.7L61.4 87.2L59.6 90.1ZM44.8 182.3L41.9 181.5L40.6 179.2L41.3 176.4L43.8 174.9L46.4 175.7L47.8 178.2L47.2 180.7Z" fill="none" stroke="#4a4a4a" stroke-width="0.9"/>
<ellipse cx="44" cy="182" rx="3.5" ry="2" fill="#f2f2f2"/>
<ellipse cx="59" cy="86" rx="3.5" ry="2" fill="#f2f2f2"/>
<path d="M101 1.4L241.9 1.4L241.9 151.6L147.7 155L101.8 109.2Z" fill="none" stroke="#D63F5C" stroke-width="2"/>
<text x="228.3" y="227.2" font-size="19.5" fill="#DA4763" text-anchor="end">0.21</text>
<rect x="0" y="0" width="247" height="247.6" fill="none" stroke="#111" stroke-width="2.2"/>
</g>
<g transform="translate(1169.2,919.4)">
<path d="M-5 23.8h5M-5 81.5h5M-5 142.6h5M-5 204.6h5M39 247.9v5M123.9 247.9v5M174.8 247.9v5M224.9 247.9v5" stroke="#111" stroke-width="1.6" fill="none"/>
<path d="M-2.5 64.13h2.5M-2.5 53.97h2.5M-2.5 46.76h2.5M-2.5 41.17h2.5M-2.5 36.6h2.5M-2.5 32.74h2.5M-2.5 29.39h2.5M-2.5 26.44h2.5M-2.5 124.21h2.5M-2.5 113.45h2.5M-2.5 105.81h2.5M-2.5 99.89h2.5M-2.5 95.05h2.5M-2.5 90.96h2.5M-2.5 87.42h2.5M-2.5 84.3h2.5M-2.5 185.94h2.5M-2.5 175.02h2.5M-2.5 167.27h2.5M-2.5 161.26h2.5M-2.5 156.35h2.5M-2.5 152.2h2.5M-2.5 148.61h2.5M-2.5 145.44h2.5M139.22 247.9v2.5M148.19 247.9v2.5M154.54 247.9v2.5M159.48 247.9v2.5M163.51 247.9v2.5M166.92 247.9v2.5M169.87 247.9v2.5M172.47 247.9v2.5M189.88 247.9v2.5M198.7 247.9v2.5M204.96 247.9v2.5M209.82 247.9v2.5M213.79 247.9v2.5M217.14 247.9v2.5M220.04 247.9v2.5M222.61 247.9v2.5M-3 245.93h3M-17.6 247.9v3M-3 225.27h3M10.7 247.9v3M-3 183.93h3M67.3 247.9v3M-3 163.27h3M95.6 247.9v3" stroke="#222" stroke-width="1" fill="none"/>
<path d="M-5 194.7h5M29.1 247.9v5M-5 196.9h5M31.3 247.9v5M-5 199.1h5M33.5 247.9v5M-5 200.2h5M34.6 247.9v5M-5 202.4h5M36.8 247.9v5M-5 203.5h5M37.9 247.9v5M-5 204.6h5M39 247.9v5M-5 205.7h5M40.1 247.9v5M-5 207.9h5M42.3 247.9v5M-5 209h5M43.4 247.9v5M-5 211.2h5M45.6 247.9v5M-5 213.4h5M47.8 247.9v5" stroke="#000" stroke-width="1" fill="none"/>
<text x="-8" y="26.8" font-size="8.5" fill="#333" text-anchor="end">10⁵</text>
<text x="-8" y="84.5" font-size="8.5" fill="#333" text-anchor="end">10⁴</text>
<text x="-8" y="145.6" font-size="8.5" fill="#333" text-anchor="end">10³</text>
<text x="-8" y="207.6" font-size="8.5" fill="#333" text-anchor="end">0</text>
<text x="39" y="263.9" font-size="8.5" fill="#333" text-anchor="middle">0</text>
<text x="123.9" y="263.9" font-size="8.5" fill="#333" text-anchor="middle">10³</text>
<text x="174.8" y="263.9" font-size="8.5" fill="#333" text-anchor="middle">10⁴</text>
<text x="224.9" y="263.9" font-size="8.5" fill="#333" text-anchor="middle">10⁵</text>
<path d="M66 101C72.22 102 82.83 104.6 89.6 108C96.37 111.4 100.93 114.92 106.6 121.4C112.27 127.88 117.93 138.4 123.6 146.9C129.27 155.4 136.35 165.33 140.6 172.4C144.85 179.47 151.93 185.07 149.1 189.3C146.27 193.53 136.33 195.95 123.6 197.8C110.87 199.65 89.68 200.25 72.7 200.4C55.72 200.55 32.45 201.1 21.7 198.7C10.95 196.3 9.32 191.8 8.2 186C7.08 180.2 12.18 173.25 15 163.9C17.82 154.55 21.15 138.88 25.1 129.9C29.05 120.92 34.17 114.65 38.7 110C43.23 105.35 47.75 103.5 52.3 102C56.85 100.5 59.78 100 66 101Z" fill="#000"/>
<path d="M122 192h0M123.5 196h0M25 143.5h0M132.5 166h0M102.5 197.5h0M104.5 195h0M18.5 165.5h0M41 114.5h0M125 193.5h0M82 108h0M90.5 110.5h0M23.5 194h0M13.5 186.5h0M74.5 106h0M56.5 104.5h0M66 195.5h0M118 144.5h0M72 108h0M127 191h0M114 138.5h0M42 115.5h0M110 131h0M14 189h0M106.5 196.5h0M40.5 111h0M90.5 195.5h0M27 194h0M62 107h0M133.5 191h0M73 195.5h0M100 194.5h0M14.5 176.5h0M131.5 163.5h0M96 117h0M20 164.5h0M41.5 197h0M95.5 197h0M105 196.5h0M27.5 131h0M144 183.5h0M137 171.5h0M24 136.5h0M141.5 185h0M24 143h0M86 109.5h0M146 188.5h0M144.5 183.5h0M25.5 137h0M105.5 195.5h0M64.5 107h0M17 166.5h0M14.5 188h0M141.5 188.5h0M69.5 197h0M60.5 196h0M101 194.5h0M102 121h0M145 187.5h0M80.5 195.5h0M138.5 179h0M60 197.5h0M140 173.5h0M27.5 143h0M119 147h0M11 184h0M15 173h0M52 108h0M19.5 158.5h0M76 194.5h0M122.5 150.5h0M81.5 111.5h0M56.5 198.5h0M25.5 139h0M29 195.5h0M54.5 196.5h0M38.5 114h0M14 182h0M24 197h0M30.5 125h0M39.5 194h0M44.5 110.5h0M68 107.5h0M16.5 169h0M134 172.5h0M58 103h0M36.5 123.5h0M25.5 149h0M26 142h0M97 116.5h0M66 107h0M123 195.5h0M74 107.5h0M55 105h0M92 117.5h0M146 186h0M136 174.5h0M70.5 197.5h0M22.5 147h0M89 111h0M115.5 194.5h0M103.5 125h0M43.5 194.5h0M70 195h0M106 127.5h0M15 187.5h0M115 139.5h0M112.5 135h0M20.5 162.5h0M108 126h0M42 195h0M11.5 181.5h0M102 119.5h0M29 130.5h0M141.5 184.5h0M54.5 196h0M128 190.5h0M61 106.5h0M36.5 121.5h0M134 189.5h0M143.5 189.5h0M38.5 115h0M33 127h0M22 145h0M41.5 116.5h0M62.5 103h0M130.5 162.5h0M46 109h0M56.5 197.5h0M76 199h0M135.5 188h0M24.5 152.5h0M17 186.5h0M69.5 106h0M36.5 116.5h0M84 195.5h0M128 163h0M43 197h0M111.5 197h0M140 187.5h0M127 191.5h0" stroke="#fff" stroke-width="1.3" stroke-linecap="square" fill="none"/>
<path d="M54.5 199.5h0M111 198h0M52 201.5h0M128.5 146h0M18.5 149h0M21.5 144.5h0M26 208.5h0M115.5 135h0M77.5 200.5h0M153.5 197.5h0M136 162h0M47 104.5h0M64.5 101.5h0M83.5 102h0M21.5 127.5h0M42.5 199h0M130.5 197.5h0M143.5 175h0M18.5 197h0M102.5 209h0M14.5 191h0M22 199.5h0M112.5 125.5h0M15 162.5h0M59.5 99h0M52 100.5h0M39.5 199h0M81.5 102.5h0M68 99h0M111 124.5h0M44 107h0M154 174.5h0M136.5 199.5h0M34.5 117.5h0M146.5 186.5h0M63.5 200.5h0M109.5 202h0M93 107.5h0M52.5 199.5h0M23.5 135h0M114 132.5h0M131 154h0M117.5 199h0M77.5 105.5h0M87 199h0M17 143h0M23.5 198h0M71.5 199.5h0M22 131h0M119 127h0M58.5 199h0M133 196h0M44.5 198.5h0M106 119h0M14.5 163h0M98.5 115h0M117 134.5h0M20 150h0M45.5 106.5h0M109 198h0M116 203h0M135.5 161h0M143 168.5h0M38 200.5h0M121.5 139h0M108 119.5h0M102 199h0M118.5 134h0M27 204.5h0M17.5 145.5h0M16 159.5h0M91 199h0M141 191h0M107.5 199.5h0M70.5 97h0M8.5 184h0M147.5 189.5h0M148.5 186h0M93.5 111h0M103.5 200.5h0M50 201.5h0M128 198.5h0M24.5 126.5h0M13.5 203h0M134 160.5h0M74.5 211.5h0M36 113h0M75 204.5h0M46 203h0M95.5 93.5h0M87.5 200.5h0M97.5 204.5h0M124 201.5h0M115 197.5h0M52 201h0M68 204h0M87 200.5h0M117 138h0M108 198.5h0M55.5 101h0M116 200.5h0M80 100h0M72 92h0M69 202h0M86.5 101h0M98.5 115.5h0M105 118.5h0M103.5 198.5h0M62 101.5h0M91 200h0M99.5 199.5h0M108.5 198h0M85.5 200.5h0M104.5 201.5h0M6.5 177h0M34.5 118h0M9.5 189h0M112 198h0M28 200h0M35.5 112.5h0M113 132.5h0M130 158h0M37.5 204.5h0M12 192h0M27 198h0M48.5 203.5h0M17 140.5h0M90 198.5h0M17 148h0M49.5 100h0M109 201.5h0M25 131h0M8 183h0M29 117.5h0M82 103.5h0M35.5 112h0M10 164h0M51 102.5h0M60 102h0M141 175.5h0M17 201.5h0M112 130h0M46 200h0M38.5 112h0M121 144h0M140 191.5h0M94.5 110.5h0M124 145.5h0M124.5 148.5h0M99.5 117h0M64.5 98.5h0M30.5 119h0M97 200.5h0M11.5 173h0M8.5 192.5h0M76 202.5h0M113.5 197.5h0M19 201h0M62.5 203.5h0M137.5 169h0M137 195.5h0M33 199h0M34 201h0M125.5 151.5h0M41.5 199h0M27 125.5h0M23 125h0M23.5 208h0M93.5 109.5h0M112 200h0M99.5 114h0M88 103.5h0M150 156h0M100 199h0M14 168h0M35.5 202.5h0M141.5 172.5h0M12.5 191h0M80.5 203.5h0M80.5 201.5h0M141.5 166.5h0M106 203.5h0M144.5 195h0M9 178h0M90 199.5h0M91.5 201.5h0M91 204h0M8 195.5h0M9.5 180.5h0M12.5 150h0M122 206h0M13 154.5h0M52.5 101h0M63 100.5h0M9.5 183.5h0M91.5 105h0M23.5 134h0M18.5 138h0M73 98h0M150.5 196h0M153.5 186h0M9 172h0M41.5 203.5h0M140.5 173.5h0M121.5 140h0M118.5 135.5h0M98.5 113.5h0M18 155.5h0M41.5 108h0M132 148.5h0M9.5 170.5h0M45 98.5h0M121 144.5h0M56.5 206h0M106.5 200.5h0M55.5 99.5h0M25 126h0M70.5 102h0M125 149h0M23.5 135.5h0M56.5 213h0M75.5 200.5h0M18 149h0M14 167h0M47 103h0M148.5 190.5h0M84.5 102h0M9.5 196h0M87.5 100h0M60.5 203h0M20.5 130.5h0M124 199.5h0M46 198.5h0M124.5 134.5h0M116 135h0M42.5 198.5h0M22.5 125h0M66.5 98.5h0M78.5 105h0M36 109h0M79 200h0M124.5 200.5h0M55.5 202h0M142 192h0M116.5 127h0M19 124h0M4 191.5h0M43 200.5h0M5 178.5h0M60 100.5h0M118 138.5h0M22 142.5h0M19.5 145h0M145.5 193.5h0M63 206.5h0M99.5 201h0M122.5 144h0M110 205.5h0M64.5 93.5h0M103 99h0M70 100.5h0M71.5 88h0M88.5 99h0M32 97h0M60.5 95.5h0M47.5 88h0M81.5 96.5h0M63.5 97h0M76.5 97h0M50 85h0M24 101h0M50.5 103.5h0M69.5 97h0M88 86.5h0M80.5 108.5h0M66.5 103h0M43 97h0M57.5 103h0M71.5 108.5h0M40 90h0M69 97h0M73 101.5h0M64.5 111h0M42 99h0M76.5 91.5h0M79 98h0M52.5 91h0M75.5 111h0M77 99h0M46.5 96.5h0M81.5 94h0M75 89.5h0M55.5 116.5h0M43 98.5h0M59.5 114h0M63 98.5h0M81.5 101h0M61 99.5h0M80 89.5h0M90 94.5h0M71 93.5h0M79 99.5h0M63.5 99h0M80 95h0M69.5 95.5h0M76.5 92h0M46 97h0M57.5 93.5h0M67.5 106h0M67.5 98h0M69 101h0M80.5 87h0M79.5 87.5h0M82 99.5h0M81 92h0M64 102h0M74 96h0M59 103.5h0M45 84.5h0M65.5 77.5h0M62 111h0M67 95.5h0M38.5 90.5h0M79.5 99h0M46.5 95.5h0M36 93.5h0M51 106h0M39.5 94h0M40 109.5h0M82.5 87.5h0M88.5 92h0M57 117.5h0M59 104h0M55 91h0M84.5 98h0M84 94.5h0M71 108h0M61.5 92h0M53.5 93.5h0M74 98.5h0M50 106.5h0M90.5 115h0M63 101h0M82 114.5h0M81.5 88.5h0M89.5 102h0M89.5 103h0M73 92.5h0M88 97.5h0M74 93.5h0M74.5 87h0M92 104.5h0M69.5 90h0M67.5 101h0M57 94h0M70 106.5h0M84 106.5h0M62 104h0M52.5 101.5h0M57 100.5h0M68.5 81h0M44.5 93h0M73 92h0M82 90.5h0M54.5 90.5h0M82 92h0M65 92h0M78.5 106.5h0M72 94h0M66 91.5h0M90.5 107.5h0M83.5 101h0M54 87.5h0M68.5 94.5h0M77.5 103h0M86.5 84h0M56.5 101h0M55.5 92.5h0M89.5 99.5h0M89.5 93h0M67 95h0M39 85.5h0M66 105h0M68 109h0M50.5 111h0M59 89h0M69 92.5h0M68 106.5h0M54.5 103.5h0M82 97.5h0M85.5 85.5h0M61.5 105.5h0M92.5 99.5h0M58.5 98.5h0M82.5 93h0M69 107h0M73.5 103h0M53.5 88.5h0M88.5 106h0M70.5 88h0M51 91h0M72 85.5h0M72.5 88.5h0M57 88h0M71 86.5h0M62.5 98h0M54 88.5h0M76 102.5h0M60 99h0M74.5 98h0M58 82.5h0M85 101.5h0M27 106h0M88.5 95.5h0M68 82h0M74 100.5h0M46 84.5h0M59 81h0M74.5 103.5h0M75.5 107h0M78.5 96.5h0M51 101h0M55 96h0M87.5 98h0M85.5 104.5h0M55.5 88h0M60 97.5h0M52.5 95.5h0M86 88h0M80.5 98.5h0M93.5 87.5h0M69.5 77h0M88 88.5h0M64 72h0M57 72.5h0M52 90h0M77.5 80.5h0M94.5 85.5h0M69 85h0M67 92h0M78.5 80.5h0M89.5 72h0M86.5 83.5h0M58 76.5h0M73 73.5h0M79.5 88.5h0M77 78h0M74.5 71h0M71 73h0M60 91h0M76 77.5h0M64 83h0M53 87h0M75.5 90h0M100.5 92.5h0M82 92.5h0M64 103.5h0M79 77.5h0M68.5 87h0M56.5 87h0M75 99.5h0M63 81.5h0M56 85.5h0M73 75h0M152 167.5h0M124 166.5h0M125 170.5h0M143 176h0M140 165h0M111.5 150.5h0M145.5 150h0M131 145h0M127.5 160.5h0M146 135.5h0M133 189.5h0M142 195.5h0M141.5 174h0M123 168h0M128.5 168.5h0M132.5 155h0M149.5 177.5h0M144.5 141.5h0M133.5 151h0M122.5 183.5h0M130.5 181h0M136 157.5h0M128 153h0M132.5 197.5h0M137.5 159h0M146 174h0M121.5 171.5h0M126.5 151.5h0M139.5 213.5h0M160.5 164h0M157 123.5h0M139 142.5h0M144 169h0M121.5 153.5h0M136.5 162.5h0M130 168.5h0M132.5 182h0M132.5 135h0M130 147h0M112 161h0M132 154h0M151.5 140h0M132 139.5h0M126.5 162h0M140.5 168.5h0M144.5 168h0M153.5 164h0M161.5 165h0M148.5 171.5h0M125 159h0M145 150h0M112.5 140h0M123 192h0M135.5 143h0M117.5 215.5h0M121 171h0M127.5 156h0M124 168.5h0M127.5 161.5h0M156 170.5h0M135 168h0M149.5 191h0M166.5 144.5h0M122.5 176.5h0M108.5 141h0M134 131h0M130 153h0M131 170h0M136 142.5h0M152 185.5h0M150 158.5h0M150.5 151h0M125.5 181h0M162.5 157h0M118 175h0M121 195h0M141 150.5h0M115 200.5h0M130 163h0M153 192.5h0M141.5 161h0M138 159h0M128 182h0M147 152.5h0M122.5 180h0M150 173h0M135.5 175.5h0M162.5 178.5h0M137 192h0M120 72h0M155 93h0M170 115h0M183 108h0M160 140h0M175 150h0M147 62h0M160 182h0M170 186h0" stroke="#000" stroke-width="1.9" stroke-linecap="square" fill="none"/>
<path d="M60.8 148.6C66.18 150.02 71.02 158.52 79.5 163.9C87.98 169.28 107.18 176.1 111.7 180.9C116.22 185.7 114.52 190.17 106.6 192.7C98.68 195.23 77.5 196.38 64.2 196.1C50.9 195.82 32.18 194.95 26.8 191C21.42 187.05 28.5 178.33 31.9 172.4C35.3 166.47 42.38 159.37 47.2 155.4C52.02 151.43 55.42 147.18 60.8 148.6Z" fill="#a4a4a4" stroke="#e4e4e4" stroke-width="1.6"/>
<path d="M66.8 196.3L51.3 195.9L38.3 194.2L29.3 191.6L26.3 189.6L25.6 187.6L26.1 184.1L28.1 179.7L36.4 166.8L43.1 159.6L51.1 152.8L54.4 150.3L57.6 149.1L60.3 149.1L64.0 151.1L74.6 160.8L79.8 164.7L108.3 179.2L111.8 182.1L113.3 184.8L113.1 187.5L111.0 189.8L103.6 192.8L91.2 194.6ZM64.8 196.1L51.3 195.6L42.4 194.3L30.3 190.1L28.2 188.8L27.5 187.3L28.1 184.1L29.8 180.3L34.8 171.6L38.8 166.3L46.8 158.6L54.8 152.3L57.8 151.0L60.0 151.1L63.1 152.7L75.3 163.5L82.3 168.3L107.3 180.9L110.1 183.2L111.3 185.3L111.1 186.8L109.6 188.4L102.6 191.0L81.6 193.7L72.6 195.6ZM66.8 195.6L56.3 195.7L47.6 194.7L40.8 192.2L30.6 186.6L31.9 182.3L35.2 175.8L40.8 167.6L48.3 160.6L58.3 154.1L62.3 155.9L82.1 171.4L102.6 182.0L107.3 185.3L104.1 187.1L85.1 190.0ZM60.3 195.3L51.9 194.8L47.8 193.6L41.3 190.0L34.7 184.6L38.6 175.1L42.8 169.1L49.8 163.0L58.6 158.1L68.8 164.7L83.8 177.2L94.6 183.6L81.8 186.9L68.3 194.1ZM61.3 194.3L56.3 194.5L48.3 192.3L43.3 188.8L38.3 183.1L40.9 176.1L44.8 170.4L51.3 165.2L58.6 161.9L64.1 164.7L69.8 168.7L75.5 174.1L81.5 181.3L70.8 191.0L66.1 193.3ZM59.3 193.3L53.3 192.7L48.6 190.6L44.1 186.6L41.3 181.8L43.1 176.6L46.8 171.5L52.1 167.5L58.3 165.1L63.1 166.9L68.3 170.4L73.2 175.3L76.4 180.3L73.3 185.6L69.3 189.7L64.8 192.2ZM60.6 191.8L54.6 191.6L49.8 189.5L46.1 185.8L43.8 180.8L45.5 176.3L48.8 172.3L52.8 169.5L58.1 167.6L62.3 169.0L66.8 171.8L70.6 175.6L73.1 179.6L71.3 184.3L68.7 187.8L65.1 190.4ZM58.1 190.6L53.3 189.6L49.9 187.3L47.3 183.8L46.2 179.8L47.8 176.3L50.8 173.0L54.3 170.9L58.3 169.7L62.3 171.1L65.6 173.2L68.7 176.3L70.3 179.3L69.1 183.8L66.3 187.5L62.3 189.8ZM59.3 188.8L55.7 188.6L52.3 187.0L49.7 183.8L48.6 180.1L48.9 177.8L51.3 175.0L54.3 172.9L58.1 171.7L64.1 174.3L67.0 177.1L67.7 178.8L67.3 182.3L65.6 185.4L62.6 187.8ZM59.3 186.9L56.8 186.8L53.8 185.5L52.1 183.6L51.2 180.8L52.3 176.6L54.8 174.7L57.8 173.7L63.1 175.8L64.5 177.3L65.0 179.3L64.8 181.8L63.7 184.1L61.8 185.9ZM58.8 184.1L56.1 183.5L54.5 181.1L55.1 178.5L57.6 176.9L60.1 177.5L61.7 179.8L61.1 182.6Z" fill="none" stroke="#4a4a4a" stroke-width="0.9"/>
<ellipse cx="58" cy="183" rx="3.5" ry="2" fill="#f2f2f2"/>
<path d="M100.7 1.7L241.6 1.7L242 151.1L147.4 155.4L102.4 107.8Z" fill="none" stroke="#D63F5C" stroke-width="2"/>
<text x="228" y="226.7" font-size="19.5" fill="#DA4763" text-anchor="end">0.022</text>
<rect x="0" y="0" width="247.5" height="247.9" fill="none" stroke="#111" stroke-width="2.2"/>
</g>
<g transform="translate(1455.6,919.4)">
<path d="M-5 23.8h5M-5 81.5h5M-5 142.6h5M-5 204.6h5M39 247.1v5M123.9 247.1v5M174.8 247.1v5M224.9 247.1v5" stroke="#111" stroke-width="1.6" fill="none"/>
<path d="M-2.5 64.13h2.5M-2.5 53.97h2.5M-2.5 46.76h2.5M-2.5 41.17h2.5M-2.5 36.6h2.5M-2.5 32.74h2.5M-2.5 29.39h2.5M-2.5 26.44h2.5M-2.5 124.21h2.5M-2.5 113.45h2.5M-2.5 105.81h2.5M-2.5 99.89h2.5M-2.5 95.05h2.5M-2.5 90.96h2.5M-2.5 87.42h2.5M-2.5 84.3h2.5M-2.5 185.94h2.5M-2.5 175.02h2.5M-2.5 167.27h2.5M-2.5 161.26h2.5M-2.5 156.35h2.5M-2.5 152.2h2.5M-2.5 148.61h2.5M-2.5 145.44h2.5M139.22 247.1v2.5M148.19 247.1v2.5M154.54 247.1v2.5M159.48 247.1v2.5M163.51 247.1v2.5M166.92 247.1v2.5M169.87 247.1v2.5M172.47 247.1v2.5M189.88 247.1v2.5M198.7 247.1v2.5M204.96 247.1v2.5M209.82 247.1v2.5M213.79 247.1v2.5M217.14 247.1v2.5M220.04 247.1v2.5M222.61 247.1v2.5M-3 245.93h3M-17.6 247.1v3M-3 225.27h3M10.7 247.1v3M-3 183.93h3M67.3 247.1v3M-3 163.27h3M95.6 247.1v3" stroke="#222" stroke-width="1" fill="none"/>
<path d="M-5 194.7h5M29.1 247.1v5M-5 196.9h5M31.3 247.1v5M-5 199.1h5M33.5 247.1v5M-5 200.2h5M34.6 247.1v5M-5 202.4h5M36.8 247.1v5M-5 203.5h5M37.9 247.1v5M-5 204.6h5M39 247.1v5M-5 205.7h5M40.1 247.1v5M-5 207.9h5M42.3 247.1v5M-5 209h5M43.4 247.1v5M-5 211.2h5M45.6 247.1v5M-5 213.4h5M47.8 247.1v5" stroke="#000" stroke-width="1" fill="none"/>
<text x="-8" y="26.8" font-size="8.5" fill="#333" text-anchor="end">10⁵</text>
<text x="-8" y="84.5" font-size="8.5" fill="#333" text-anchor="end">10⁴</text>
<text x="-8" y="145.6" font-size="8.5" fill="#333" text-anchor="end">10³</text>
<text x="-8" y="207.6" font-size="8.5" fill="#333" text-anchor="end">0</text>
<text x="39" y="263.1" font-size="8.5" fill="#333" text-anchor="middle">0</text>
<text x="123.9" y="263.1" font-size="8.5" fill="#333" text-anchor="middle">10³</text>
<text x="174.8" y="263.1" font-size="8.5" fill="#333" text-anchor="middle">10⁴</text>
<text x="224.9" y="263.1" font-size="8.5" fill="#333" text-anchor="middle">10⁵</text>
<path d="M57.7 65.4C63.93 64.55 72.45 70.22 78.1 73.9C83.75 77.58 87.65 82.42 91.6 87.5C95.55 92.58 98.12 98.75 101.8 104.4C105.48 110.05 109.73 115.73 113.7 121.4C117.67 127.07 121.92 132.73 125.6 138.4C129.28 144.07 132.12 149.73 135.8 155.4C139.48 161.07 144.87 166.75 147.7 172.4C150.53 178.05 157.05 184.78 152.8 189.3C148.55 193.82 135.78 197.38 122.2 199.5C108.62 201.62 88.28 201.85 71.3 202C54.32 202.15 31.05 202.52 20.3 200.4C9.55 198.28 8.5 196.8 6.8 189.3C5.1 181.8 8.13 168.13 10.1 155.4C12.07 142.67 15.77 122.8 18.6 112.9C21.43 103 23.42 101.65 27.1 96C30.78 90.35 35.6 84.1 40.7 79C45.8 73.9 51.47 66.25 57.7 65.4Z" fill="#000"/>
<path d="M10.5 162h0M87.5 196h0M16.5 144.5h0M21 125.5h0M28.5 102h0M11 174h0M14.5 192h0M106.5 199h0M74 197.5h0M53.5 200h0M77.5 197.5h0M20.5 133h0M22.5 115.5h0M76.5 78h0M14.5 162h0M36.5 195h0M45 196h0M33 98h0M76 76.5h0M100.5 199.5h0M143 188.5h0M43 83h0M105 118.5h0M60.5 197.5h0M102 109.5h0M10.5 161h0M94 195.5h0M13 169.5h0M140.5 172.5h0M26.5 106h0M58.5 71.5h0M121 140.5h0M14.5 170.5h0M25 107.5h0M16.5 151.5h0M134.5 159h0M87.5 85h0M10 181h0M11.5 171.5h0M77.5 82h0M38 87h0M76.5 199.5h0M70 75.5h0M98 199h0M148 182.5h0M92 94h0M25 104h0M39 87.5h0M96.5 102h0M113.5 195h0M134.5 158h0M17 190h0M94 95.5h0M146.5 181h0M128.5 195h0M101.5 199.5h0M118 197h0M46 195.5h0M39.5 84.5h0M37.5 88.5h0M31 97h0M18 128h0M123 141h0M128.5 146h0M107 197.5h0M24.5 198h0M41 196h0M147.5 188h0M57.5 71h0M143.5 173h0M63.5 73.5h0M88 90.5h0M120 133h0M10 171.5h0M21.5 123h0M73 77.5h0M123 145.5h0M125 147h0M13.5 146.5h0M29.5 100h0M130.5 155h0M91 94h0M47 76h0M51.5 78h0M11.5 178h0M101.5 198h0M15 164.5h0M13 155.5h0M85 200h0M132.5 158h0M77.5 199.5h0M18 196h0M146.5 176.5h0M26 196.5h0M102.5 110.5h0M50 77h0M117 136h0M120.5 141.5h0M47 81h0M44.5 83h0M35 90h0M22 123h0M19 119h0M19 132h0M59 200h0M85 83h0M14.5 171.5h0M18 125h0M21 124.5h0M74.5 76.5h0M81.5 78.5h0M13.5 172h0M94.5 199.5h0M30 102.5h0M57.5 72h0M113 196.5h0M14 191h0M16.5 196h0M11.5 188.5h0M147 190h0M26 197h0M80 84h0M30.5 99.5h0M10 174.5h0M18 140h0M106 196h0M118 132h0M111 195h0M13 189h0M67.5 199h0M92.5 96h0M58.5 68h0M134 193h0M125 148.5h0M123.5 140h0M120.5 139.5h0M126 195h0M9 187.5h0M30.5 93.5h0M15.5 189h0" stroke="#fff" stroke-width="1.3" stroke-linecap="square" fill="none"/>
<path d="M110 202.5h0M60 206.5h0M30 88h0M106 201.5h0M85.5 200.5h0M51 204.5h0M114.5 122.5h0M84 204.5h0M29.5 203h0M12 142h0M97.5 83.5h0M152 163.5h0M91 87.5h0M12 134h0M6.5 188h0M78.5 67h0M45.5 63.5h0M42.5 74h0M16.5 202h0M36 203.5h0M108.5 114h0M70.5 57h0M75 203.5h0M83 78h0M120.5 121h0M128.5 144.5h0M72 69.5h0M107.5 201.5h0M118 204.5h0M12 122h0M79.5 202h0M27 200h0M88.5 202.5h0M12.5 201h0M109 209.5h0M144.5 151.5h0M57 66h0M14 122h0M2 181h0M147.5 171.5h0M132 138h0M141.5 163.5h0M93 73h0M8 156h0M134 197.5h0M14.5 121h0M143 204.5h0M43.5 76h0M15.5 119h0M57.5 62h0M122.5 131h0M22 86h0M102.5 200.5h0M51 71.5h0M135 200.5h0M86 80.5h0M30 200.5h0M3 150h0M138.5 151.5h0M89.5 85.5h0M152.5 178h0M45 75h0M10.5 158h0M97.5 98h0M129.5 145h0M95 90h0M82 76.5h0M11 142.5h0M113 121h0M62 204.5h0M112.5 205.5h0M5 169h0M106.5 98.5h0M22.5 201h0M98.5 99h0M128 204.5h0M122.5 134h0M135 153.5h0M44 69.5h0M8.5 139.5h0M145.5 168h0M23.5 105h0M125 132h0M141 205h0M16.5 115h0M24 202h0M92.5 89.5h0M53 70h0M123.5 132.5h0M134 148.5h0M10.5 153.5h0M155 178h0M148.5 159h0M86.5 83.5h0M93 87h0M52 202h0M130.5 143.5h0M45 203.5h0M145.5 195h0M110.5 200h0M40.5 74.5h0M98 200.5h0M57.5 203h0M14 107h0M117.5 121.5h0M108.5 110h0M26.5 93h0M2 128.5h0M132 148.5h0M120 123.5h0M4 167.5h0M33 77.5h0M121 126.5h0M37 77.5h0M19 104.5h0M42.5 201.5h0M124.5 197.5h0M97 91.5h0M75.5 73h0M42 74h0M131 142h0M5.5 183.5h0M159.5 135h0M12.5 128h0M47 214h0M144 163.5h0M112 119h0M9 177.5h0M84 78.5h0M127 140.5h0M62 203.5h0M7 114.5h0M36.5 218.5h0M141.5 155h0M30 89h0M120 132h0M64.5 68.5h0M135 155h0M115.5 202h0M88 71h0M114 119h0M148 191.5h0M56 204.5h0M101.5 104h0M152 190h0M23.5 103h0M52 70.5h0M17 198.5h0M3 190.5h0M48.5 216h0M103.5 108h0M72.5 70.5h0M68.5 57.5h0M29 91.5h0M4 184.5h0M37.5 65.5h0M66 66.5h0M27.5 203h0M99 200.5h0M7 173h0M149 174h0M56 65.5h0M87.5 80.5h0M68 206h0M22.5 96.5h0M9.5 167h0M3 182.5h0M12 144h0M28 90h0M154.5 187.5h0M7.5 194.5h0M27.5 95.5h0M14.5 104.5h0M127.5 197h0M12 145h0M16 112.5h0M58 203.5h0M32 200h0M141.5 195h0M40.5 201h0M91.5 82.5h0M27.5 200h0M52.5 63h0M18 105h0M7.5 173.5h0M140.5 198.5h0M6 167h0M52.5 202h0M114.5 203.5h0M15.5 123.5h0M90 86.5h0M10 164.5h0M71 69h0M44 204h0M99.5 205h0M126.5 140.5h0M8 187h0M89.5 204.5h0M38.5 201h0M32 89h0M132 148h0M64 64.5h0M151 163.5h0M6.5 199h0M123 126h0M111 117h0M22 88.5h0M18 198.5h0M116 200.5h0M24 101h0M149 177.5h0M12.5 200h0M123 125h0M119 199.5h0M7 137.5h0M31 93h0M21 104.5h0M143 204h0M53 206h0M149.5 173h0M100.5 104h0M89.5 205h0M17 123.5h0M18 118h0M5 181h0M41 79h0M139.5 157.5h0M111 116h0M111 211h0M138 156.5h0M125.5 132.5h0M130.5 205h0M31.5 206h0M91 207h0M152.5 170.5h0M7 120.5h0M51 68.5h0M111 204.5h0M74 68h0M19.5 109.5h0M74.5 72.5h0M7.5 179.5h0M58 201h0M145.5 170.5h0M8 144.5h0M65 69.5h0M104.5 105h0M111 199h0M67 69.5h0M16 126.5h0M129.5 140.5h0M102.5 106h0M78 74.5h0M30.5 201h0M113.5 205h0M160 164h0M192.5 107.5h0M81 102h0M140.5 119.5h0M176 97.5h0M123.5 113.5h0M148.5 184h0M151 104.5h0M204.5 119.5h0M122 146.5h0M154 89h0M176 128.5h0M153 133.5h0M193.5 98.5h0M93 65.5h0M160.5 145h0M200 148.5h0M230 118.5h0M202 84.5h0M189 126.5h0M161.5 108.5h0M126 121h0M209.5 110h0M183.5 103.5h0M174 96h0M178 113h0M176 104.5h0M124 111h0M201.5 152.5h0M153.5 135.5h0M191.5 126.5h0M110.5 125h0M131 144h0M192.5 131.5h0M76 131.5h0M189.5 90h0M199 119.5h0M158.5 102.5h0M129.5 108.5h0M172.5 103.5h0M143.5 106h0M134 137.5h0M155.5 137h0M124.5 138.5h0M164 132.5h0M161.5 98.5h0M207.5 108.5h0M160 98.5h0M172 109.5h0M175 125.5h0M141 87h0M180 138h0M189.5 93h0M186 126.5h0M175 127.5h0M153.5 122.5h0M197.5 107h0M114.5 115.5h0M172 77.5h0M141.5 131h0M159.5 120h0M121 138h0M226.5 113.5h0M139.5 92.5h0M196 120.5h0M137 144.5h0M192 131.5h0M103.5 115.5h0M187 91h0M197.5 149.5h0M201 102h0M140 138.5h0M200 145h0M207 116h0M150.5 77h0M192.5 168h0M149 107.5h0M187.5 126h0M117 102.5h0M126.5 162.5h0M140 137h0M232 159.5h0M215 154h0M122 110.5h0M139.5 111.5h0M184.5 91h0M212 146.5h0M147 163.5h0M167.5 146.5h0M176 105.5h0M151.5 115.5h0M186.5 121h0M148.5 102h0M138 86.5h0M130.5 138h0M167 114h0M177.5 141.5h0M186.5 135h0M145.5 112.5h0M138 116h0M136.5 110h0M159 113h0M155.5 107h0M211 110.5h0M129.5 122.5h0M127 94.5h0M168 81.5h0M52.5 124.5h0M201 81h0M133.5 130.5h0M95.5 99h0M123 113.5h0M96 137.5h0M160 124.5h0M153.5 71.5h0M159.5 88.5h0M165.5 99h0M154 113.5h0M192 135h0M130 117.5h0M216 129h0M139.5 115.5h0M153 138.5h0M166 126.5h0M242.5 87.5h0M129.5 80h0M109.5 137h0M175 154h0M96 98.5h0M215.5 140.5h0M196 137h0M166 118h0M166 136.5h0M159.5 125h0M216 93h0M138.5 130.5h0M156 114.5h0M238.5 127h0M150.5 142h0M141.5 120.5h0M142.5 166h0M183.5 109h0M182 100.5h0M144 120.5h0M179.5 147.5h0M191 160.5h0M181 121h0M160.5 99h0M222 92h0M160.5 106.5h0M137.5 69h0M151.5 121h0M170 136.5h0M159.5 104h0M176 132.5h0M133.5 84.5h0M129 141.5h0M200 98.5h0M169 136.5h0M211.5 103.5h0M156.5 149h0M125 128h0M154.5 116.5h0M142 107.5h0M164.5 157.5h0M189.5 127.5h0M166 101.5h0M157 145.5h0M194 161h0M174 117.5h0M108.5 127h0M104.5 151.5h0M143 118h0M117.5 107h0M132.5 143h0M173.5 92h0M97.5 116.5h0M148 93.5h0M185.5 114h0M169 105h0M145 108h0M109 132h0M179 80h0M168.5 143.5h0M173.5 146.5h0M155.5 118h0M119.5 98h0M101 98.5h0M173.5 129.5h0M205.5 121h0M130.5 127.5h0M160 157h0M233.5 139h0M125 106.5h0M171.5 102.5h0M183.5 133h0M194.5 123h0M134 99.5h0M160.5 147h0M220 139.5h0M177.5 133h0M194 146.5h0M195 84h0M198.5 126.5h0M149 129.5h0M175 117h0M106 120.5h0M184.5 117h0M109.5 128h0M190 122h0M180 110.5h0M142 129.5h0M152.5 122h0M169.5 82.5h0M168.5 134.5h0M140.5 113h0M86 130h0M144 133h0M213 114.5h0M199.5 123.5h0M158 112h0M135 146h0M196 96h0M194.5 102h0M112.5 144.5h0M120 144h0M172 138h0M183 143.5h0M177 130.5h0M173.5 142h0M151.5 140.5h0M217.5 116.5h0M180.5 106.5h0M155 123.5h0M153 98.5h0M164 122h0M176.5 133.5h0M103 149h0M159 101h0M152 127.5h0M195.5 110h0M170.5 83h0M171 115.5h0M150 137.5h0M228 140.5h0M137.5 151.5h0M153.5 117h0M144.5 128h0M184.5 121h0M157.5 115h0M151 139.5h0M147 115h0M157.5 101.5h0M157 86h0M179.5 130h0M154.5 152h0M136.5 130h0M181.5 106.5h0M156.5 137.5h0M167 124h0M214 123h0M106.5 102h0M194 115h0M127.5 74.5h0M176.5 151h0M121.5 70.5h0M182.5 106h0M155 111h0M133.5 127.5h0M197 126h0M145.5 140.5h0M161 130.5h0M132.5 132.5h0M191 146h0M166 127.5h0M145 137.5h0M192 141.5h0M151.5 91.5h0M162.5 113.5h0M139 131h0M198 126.5h0M203.5 126.5h0M131 105.5h0M153 133h0M197 121h0M200 100h0M161 150.5h0M180.5 141h0M100 81.5h0M135 140h0M221 104.5h0M131 96h0M134.5 130h0M154 159h0M190 103h0M173 114.5h0M192.5 137.5h0M153 137.5h0M184.5 116h0M174 133h0M154 103.5h0M209 118h0M114.5 119.5h0M118 109h0M103.5 102.5h0M196 114h0M123.5 155.5h0M143.5 150h0M147 86.5h0M228.5 109h0M191.5 144h0M120 119.5h0M145.5 131h0M164.5 91h0M167 134.5h0M155 130.5h0M147 117h0M177 121h0M209 138.5h0M194 133.5h0M170.5 93h0M201.5 155.5h0M173 112.5h0M164 144h0M175 97h0M159.5 101.5h0M158.5 99h0M135.5 150h0M201 83.5h0M131.5 108.5h0M152 88.5h0M195.5 83.5h0M189 133h0M152.5 104h0M167.5 121.5h0M93.5 91h0M183.5 116h0M151 97h0M141 101.5h0M218 128.5h0M172.5 122.5h0M152.5 153h0M182.5 117.5h0M161 122.5h0M126 111.5h0M144 131.5h0M186 78h0M157.5 139.5h0M121 92.5h0M199.5 115.5h0M150 92h0M171 106h0M172.5 127.5h0M189.5 111h0M147.5 119h0M162 122h0M147 113h0M145 105.5h0M170.5 143h0M147 130.5h0M177 120.5h0M188.5 106h0M184.5 124.5h0M46 126h0M186 160h0M129 120h0M177.5 97.5h0M206.5 128h0M138 92.5h0M151 169.5h0M239 65h0M103 132.5h0M161.5 104.5h0M186 120h0M175 124h0M128 146.5h0M149.5 142.5h0M189 119h0M170 117h0M102 111h0M180 83.5h0M114 141.5h0M193 85h0M181 117h0M199 111h0M157.5 102h0M171.5 115.5h0M142.5 110.5h0M139.5 131.5h0M130 84.5h0M132 141.5h0M148 132h0M190.5 107h0M191 129h0M163.5 103h0M163 90.5h0M155.5 105.5h0M180.5 125.5h0M143 137h0M206.5 119.5h0M139.5 129h0M81 105.5h0M185.5 161.5h0M139.5 151.5h0M84 142h0M172 140h0M159 105h0M157.5 150.5h0M194 111.5h0M178.5 137h0M185 117h0M142.5 102h0M150 106h0M110.5 87.5h0M195.5 93.5h0M119.5 117h0M215.5 145.5h0M151 95.5h0M146.5 98h0M146 128.5h0M128 101h0M156 117.5h0M138.5 101h0M126 101.5h0M183.5 112.5h0M57 131.5h0M162.5 99h0M156 52h0M107.5 143.5h0M239.5 165.5h0M139.5 119h0M192 91h0M226 102h0M177.5 93h0M178 117.5h0M203 92.5h0M164.5 158h0M123.5 126h0M180.5 107h0M155.5 149h0M205 130.5h0M174.5 93h0M168 157.5h0M202 88h0M92.5 103.5h0M154.5 125.5h0M196.5 122.5h0M209 86.5h0M181.5 127.5h0M113 145.5h0M109 86h0M178 148h0M205.5 93h0M182 149h0M159.5 119.5h0M148.5 134h0M145.5 105h0M122 97.5h0M172.5 128.5h0M151.5 95h0M177 126h0M210 107h0M150.5 129.5h0M218.5 117h0M162 97.5h0M151.5 139h0M195 142.5h0M107.5 136.5h0M132.5 131h0M81.5 116h0M134 146h0M169.5 147h0M149.5 161.5h0M149.5 160h0M148 96.5h0M196.5 109h0M163 88h0M153 120.5h0M140 126.5h0M84 138h0M150.5 150.5h0M152.5 103.5h0M149 124h0M186 108h0M137 127.5h0M194 79.5h0M128 103h0M225.5 145.5h0M193.5 129h0M125.5 143h0M149.5 100.5h0M233.5 86h0M214 122.5h0M132.5 122h0M135 122h0M142 91.5h0M200 117h0M189 90h0M128 45h0M200.5 128h0M123.5 136.5h0M186 183.5h0M173.5 138.5h0M187 135h0M164 109h0M190.5 145.5h0M124 92.5h0M163.5 158h0M157.5 80h0M193.5 135h0M234 122.5h0M235 102h0M123 112h0M212.5 143h0M151.5 143h0M197 138h0M175.5 125h0M136 116.5h0M169.5 101.5h0M155 122h0M172.5 141.5h0M128.5 109.5h0M174.5 109.5h0M177 107.5h0M207 113h0M125 135h0M224 75h0M160.5 119.5h0M202 151.5h0M159.5 83.5h0M189 140.5h0M181.5 120h0M136.5 172.5h0M122.5 84.5h0M200 124.5h0M189 126h0M225 150h0M123.5 80h0M208 108.5h0M89.5 117.5h0M141.5 129.5h0M163 101h0M140 135h0M132.5 121h0M130.5 128h0M228.5 131h0M204.5 128h0M131 111.5h0M167.5 128h0M144 132h0M140 119.5h0M165 92.5h0M200.5 119.5h0M169 117.5h0M91 87h0M133.5 140h0M145 131.5h0M129 99.5h0M148.5 141.5h0M106.5 114.5h0M179.5 121h0M164.5 135.5h0M175.5 96h0M187.5 101h0M153 150.5h0M180.5 101h0M138.5 155h0M177 87.5h0M220.5 131h0M212 127h0M89 102h0M160 114.5h0M218.5 103.5h0M162 117h0M162 95h0M122 61h0M177 113.5h0M172.5 94.5h0M165.5 96.5h0M129.5 125.5h0M187.5 131h0M163.5 109.5h0M214.5 145.5h0M143 94h0M178.5 125h0M133 168.5h0M91.5 99.5h0M174 140h0M100 108.5h0M216 149.5h0M156.5 119h0M134 127h0M128 73h0M111.5 119.5h0M118.5 142.5h0M210.5 140h0M188.5 143.5h0M174.5 137.5h0M181.5 135.5h0M129.5 103.5h0M130 136.5h0M183 100.5h0M130.5 105.5h0M196 115.5h0M156.5 103h0M161 153.5h0M141 110.5h0M225 134h0M125 142.5h0M120.5 130.5h0M76 96h0M197.5 105h0M139.5 119.5h0M165.5 108h0M141.5 158h0M218 125.5h0M124.5 106.5h0M155 129h0M221.5 106.5h0M170.5 108.5h0M170 103h0M178.5 144h0M151.5 111h0M169.5 89h0M229 88.5h0M152.5 98.5h0M218 107.5h0M147.5 160h0M161 101h0M165 122.5h0M139 114h0M158 134h0M192.5 136.5h0M161 136h0M158 144h0M179.5 108.5h0M208.5 84.5h0M131 100.5h0M160.5 91h0M123 76.5h0M169.5 101h0M242.5 135.5h0M125 147.5h0M169 142h0M126 144h0M204 109h0M135.5 110h0M174.5 171.5h0M229 151.5h0M157.5 111h0M178 112h0M149 113.5h0M195 116.5h0M173.5 112.5h0M158.5 111h0M209.5 123.5h0M218 114.5h0M202.5 87.5h0M151 117h0M143 115.5h0M132.5 114.5h0M142 118h0M155 96h0M151 119h0M120.5 120.5h0M209.5 113h0M184.5 132h0M137 147.5h0M241 102.5h0M216.5 78h0M120 100h0M128.5 98.5h0M178.5 114h0M77 111.5h0M225 77.5h0M174 119h0M190.5 88.5h0M119 114.5h0M168 78h0M178 118h0M210 169.5h0M215.5 111.5h0M147.5 105.5h0M104 148.5h0M137.5 129.5h0M173.5 104h0M194 116.5h0M134 160h0M126 85.5h0M136.5 119h0M208.5 104h0M134.5 136.5h0M137.5 123.5h0M136.5 159.5h0M127 93.5h0M143 103.5h0M201 139h0M209.5 125h0M112.5 148h0M135 92h0M158.5 171h0M152.5 106.5h0M226 171h0M154.5 84h0M209.5 150h0M148 150.5h0M153.5 99.5h0M182.5 145.5h0M166.5 153.5h0M104 121h0M153.5 76.5h0M226.5 84.5h0M130 159.5h0M232.5 165h0M148.5 165h0M121.5 143h0M230.5 89.5h0M120.5 139h0M222 144h0M231 116.5h0M152.5 82.5h0M139 166h0M111.5 89h0M149.5 75h0M143.5 88.5h0M118.5 123.5h0M175.5 128h0M205.5 123.5h0M231 78.5h0M132.5 78h0M144 147.5h0M227.5 121.5h0M124 103.5h0M179.5 100h0M210 169h0M164.5 131.5h0M217 117.5h0M128 166.5h0M235 72.5h0M205.5 111h0M109 86.5h0M125.5 145h0M131 72h0M132 151.5h0M165.5 88.5h0M104 101h0M107.5 96.5h0M186 107.5h0M166.5 133.5h0M145 106.5h0M222 129.5h0M158.5 125h0M164.5 104h0M226.5 94h0M229.5 157h0M222 86.5h0M171 170.5h0M141.5 87.5h0M200.5 94h0M181.5 86h0M231 99h0M115 140h0M149 127h0M169.5 164h0M172 108.5h0M102 120.5h0M138.5 128.5h0M188 117h0M114 120.5h0M167.5 135.5h0M234 98.5h0M162 78.5h0M211 94h0M215 151.5h0M136.5 162h0M170.5 113.5h0M177.5 166.5h0M168.5 119h0M141.5 156h0M170.5 105h0M128.5 92h0M215.5 152h0M235 163.5h0M195 151.5h0M199 152.5h0M211 88h0M213 101h0M135 164h0M105 122h0M148.5 151h0M185 163h0M229 135.5h0M111 138h0M117 170h0M220.5 101.5h0M127.5 141h0M205 170.5h0M186.5 83h0M201 76h0M220 148.5h0M209 159h0M179.5 166h0M189 120h0M154.5 106h0M105 86.5h0M210 93.5h0M191 149h0M145 98h0M127.5 136h0M195.5 166h0M147 164.5h0M226 99.5h0M231.5 133h0M233 149h0M147.5 98.5h0M173 120h0M107 158h0M175 118h0M203.5 95.5h0M129 129h0M135 103.5h0M111.5 75.5h0M150.5 123.5h0M231 135h0M158.5 111.5h0M134 118.5h0M232.5 82.5h0M161 140h0M205.5 126.5h0M189 165.5h0M224.5 95.5h0M175.5 171.5h0M174 89.5h0M206 76h0M122.5 126h0M139 143.5h0M201 102.5h0M206.5 136h0M198 116.5h0M161 81h0M166.5 167.5h0M223 75.5h0M111.5 97.5h0M196.5 114.5h0M119.5 113.5h0M180 146h0M157 136.5h0M194.5 133h0M108.5 142.5h0M119.5 75.5h0M166.5 71.5h0M112 110h0M165.5 81h0M231.5 157h0M168 130h0M145 170.5h0M118.5 101h0M132 158.5h0M171 112h0M156 160.5h0M137 150.5h0M198.5 115.5h0M151.5 114.5h0M163.5 102h0M187 112h0M143.5 149h0M164 118.5h0M221.5 116.5h0M153 161.5h0M235 150h0M156.5 138.5h0M203 100h0M200.5 167h0M191 138h0M161 136.5h0M132.5 148.5h0M175.5 170h0M148.5 142.5h0M104.5 112.5h0M206 96.5h0M185.5 92.5h0M156 171.5h0M128.5 163h0M110 129.5h0M213.5 155.5h0M155 130h0M199 147.5h0M203.5 129h0M136 142h0M178.5 125.5h0M236 84h0M208 103h0M201 167h0M139.5 128h0M174 120.5h0M124.5 134h0M223.5 137.5h0M141.5 152h0M159 85h0M174 171h0M179.5 167.5h0M150 147.5h0M112 100.5h0M196 140.5h0M214.5 109h0M139 106.5h0M175 72.5h0M153 137h0M122 101.5h0M220.5 165h0M136 88h0M118 78.5h0M210 145.5h0M138 120h0M196.5 73h0M213.5 157.5h0M130.5 142h0M197 104.5h0M221.5 92.5h0M166.5 102h0M162 153h0M179.5 132h0M236 93h0M132.5 133h0M122.5 168.5h0M148.5 115h0M160.5 154.5h0M226.5 139h0M125.5 106h0M198 92h0M222 159h0M133 107h0M133 143.5h0M108.5 141h0M110.5 156h0M176 129.5h0M115 74.5h0M150 170.5h0M183.5 158h0M110.5 80.5h0M105 141h0M126 98h0M192.5 141h0M146 117.5h0M141.5 127.5h0M150.5 106.5h0M136 100h0M137.5 71.5h0M144 130.5h0M138.5 81.5h0M217 118h0M171.5 102h0M222.5 147h0M186.5 137.5h0M196 121h0M158 110h0M170.5 118h0M174 124.5h0M209 161h0M132.5 72.5h0M143 73h0M210.5 133.5h0M141 89.5h0M220 155.5h0M195 140.5h0M203.5 116.5h0M156 126.5h0M221.5 171h0M226.5 155h0M112 95h0M234 125.5h0M172 101.5h0M219 122.5h0M236.5 77.5h0M237 71.5h0M122 109.5h0M189 81.5h0M178.5 166h0M161 148h0M182.5 129.5h0M125.5 117.5h0M224.5 139h0M131.5 115.5h0M180.5 134.5h0M104.5 92.5h0M191.5 92h0M112 147.5h0M147.5 167.5h0M178 80.5h0M188.5 97h0M213 144h0M205 76h0M106.5 151.5h0M121 90.5h0M106 86.5h0M145.5 96.5h0M214.5 89h0M188.5 132.5h0M229 74.5h0M178.5 109h0M214 95.5h0M199 89h0M169.5 169h0M134.5 98.5h0M227 139h0M181.5 181h0M167 188h0M189.5 162.5h0M206.5 175.5h0M146 169.5h0M158.5 164.5h0M195.5 183h0M139.5 188h0M171.5 179h0M192 177h0M157.5 184h0M113 163.5h0M179 191h0M117.5 178h0M146 174.5h0M181.5 196h0M214.5 189.5h0M183 179.5h0M112 182.5h0M131 164.5h0M168 159h0M214.5 185h0M175 183.5h0M171.5 178.5h0M184.5 170h0M172.5 180h0M186.5 164.5h0M171.5 176.5h0M182.5 184.5h0M170 183.5h0M177 194.5h0M173.5 184.5h0M138.5 175.5h0M186.5 190.5h0M137.5 177.5h0M157 178.5h0M151 173h0M163 179.5h0M193.5 167.5h0M137.5 187.5h0M179 175.5h0M132.5 190.5h0M134.5 191.5h0M172 176h0M160 188h0M165 157h0M145 152h0M176 189h0M193.5 161.5h0M224.5 200h0M161.5 154h0M140.5 190.5h0M223 171.5h0M113 166.5h0M218.5 178h0M125.5 152.5h0M182.5 187.5h0M151.5 175.5h0M167 174h0M149.5 171h0M148 192.5h0M176 190h0M216.5 150.5h0M163 189.5h0M158.5 170.5h0M176 171.5h0M141 174h0M166.5 178h0M190 178h0M151.5 214.5h0M158.5 174.5h0M160.5 169.5h0M120.5 180h0M205.5 156h0M143.5 183h0M145.5 184h0M163.5 164.5h0M158.5 171.5h0M180 147.5h0M176.5 194h0M169 180.5h0M149.5 182h0M160.5 162.5h0M131.5 150h0M177 180h0M195.5 181h0M184 161.5h0M112.5 171h0M155.5 182h0M161 176h0M166 181h0M170.5 181.5h0M150.5 177h0M123.5 164.5h0M157 183h0M143.5 161h0M191.5 168h0M116.5 166h0M131.5 149h0M154 198h0M144 168h0M197 179h0M162 194h0M131.5 177h0M179 180.5h0M132 166.5h0M214.5 176.5h0M157.5 191h0M114.5 177h0M115.5 194.5h0M137 179h0M139 179.5h0M173.5 178h0M156 181h0M158 172h0M182.5 188h0M127 166h0M143 181.5h0M125.5 196.5h0M166 180h0M189 169h0M175 183h0M201 165.5h0M203.5 185h0M172 190.5h0M158 175.5h0M188.5 173.5h0M195 194.5h0M171 180h0M147 167h0M205 165.5h0M167.5 181.5h0M140 170h0M145.5 203.5h0M175.5 194.5h0M222 190h0M202 172.5h0M146 195.5h0M206 166h0M197 181.5h0M187.5 189.5h0M218.5 170.5h0M165.5 193h0M158 184.5h0M163 158h0M150 188.5h0M150 159.5h0M151.5 179.5h0M179 182h0M180 165.5h0M148.5 169h0M153 183.5h0M202.5 175.5h0M195 191.5h0M133.5 168.5h0M170 161.5h0M218 156h0M131.5 187.5h0M144.5 187h0M138 191h0M149.5 187h0M193.5 160.5h0M141 157.5h0M134.5 189.5h0M165 188.5h0M205.5 190.5h0M186 173h0M155 182h0M190 191.5h0M174 175h0M163.5 198h0M173.5 202.5h0M146 189h0M172 187.5h0M145 182.5h0M164 175h0M132.5 161.5h0M156.5 185h0M173 181.5h0M175 162.5h0M195.5 179.5h0M145 172h0M193.5 180.5h0M119.5 203.5h0M124.5 199h0M189.5 166.5h0M200.5 193.5h0M195 186h0M175 181h0M151 181.5h0M201.5 177h0M221 160h0M167 160.5h0M117 181.5h0M157 172h0M136.5 175.5h0M121 176h0M151.5 163.5h0M177.5 156.5h0M178 181.5h0M181 180h0M188.5 175.5h0M136 183h0M144 174h0M169.5 167.5h0M193.5 160h0M200.5 178h0M213.5 192h0M185 182h0M169.5 162h0M150.5 167.5h0M146.5 177h0M144 180h0M159 173h0M177 184h0M129 174.5h0M179 168h0M193.5 197h0M182.5 177h0M228.5 136.5h0M235.5 90.5h0M204.5 87.5h0M209 142.5h0M234.5 110.5h0M205 101.5h0M209 123.5h0M227.5 133h0M216.5 109.5h0M218 103h0M217.5 126.5h0M227 99.5h0M221.5 86h0M201.5 104h0M213.5 77.5h0M203 107h0M236 138h0M201 99h0M214 98.5h0M205 119.5h0M232 103.5h0M206.5 83h0M200.5 132.5h0M209 129.5h0M230 81.5h0M207 98.5h0M229 130.5h0M211.5 109h0M213.5 110.5h0M230 94.5h0M231 144h0M223 147h0M235.5 88h0M237.5 90h0M230.5 84h0M211.5 108h0M232 126h0M207.5 142.5h0M233 113h0M202 96.5h0M211 106.5h0M236 119.5h0M231 80.5h0M209.5 130h0M213 92h0M202.5 79h0M215.5 116h0M215 117.5h0M211 76.5h0M225.5 100h0M210.5 79h0M211.5 97.5h0M204.5 77h0M218.5 76.5h0M233.5 102h0M217 114.5h0M201 82.5h0M230 116.5h0M218.5 101h0" stroke="#000" stroke-width="1.9" stroke-linecap="square" fill="none"/>
<path d="M57.7 128.2C61.38 129.05 67.9 132.45 71.3 138.4C74.7 144.35 72.45 156.55 78.1 163.9C83.75 171.25 101.25 177.7 105.2 182.5C109.15 187.3 110.28 190.28 101.8 192.7C93.32 195.12 67.6 197.57 54.3 197C41 196.43 26.53 193.4 22 189.3C17.47 185.2 23.98 179.47 27.1 172.4C30.22 165.33 37.02 153.42 40.7 146.9C44.38 140.38 46.37 136.42 49.2 133.3C52.03 130.18 54.02 127.35 57.7 128.2Z" fill="#a4a4a4" stroke="#e4e4e4" stroke-width="1.6"/>
<path d="M60.4 197.4L48.4 196.9L34.4 194.2L24.2 190.0L22.2 188.4L21.3 186.3L22.4 182.0L46.0 139.0L50.6 132.8L53.4 130.0L55.9 128.9L59.9 129.7L64.2 132.0L68.4 135.7L70.5 138.5L72.1 143.0L74.4 157.8L77.6 164.3L84.2 170.1L102.7 181.3L105.7 184.3L107.3 187.8L106.8 189.5L104.4 191.0L98.7 192.7L71.9 196.5ZM60.4 197.1L48.7 196.6L39.2 194.9L27.7 189.7L24.7 187.8L23.4 186.0L24.2 183.3L32.3 167.5L47.9 140.3L52.3 134.3L56.4 131.2L62.9 134.0L66.5 137.0L68.5 139.8L69.8 143.5L72.2 158.3L75.9 165.5L83.2 172.1L101.2 183.0L104.9 187.5L103.2 189.0L98.4 190.4L81.4 193.1L67.4 196.5ZM60.2 196.8L48.7 196.4L41.2 194.7L35.2 191.3L27.1 185.0L35.0 168.8L51.7 141.6L55.2 136.9L57.2 135.4L62.4 138.5L65.2 141.8L68.5 158.5L70.5 163.0L73.3 167.3L81.7 175.4L98.4 186.0L80.9 189.6L66.9 195.7ZM60.2 196.3L51.7 196.4L44.4 194.8L37.9 190.5L31.5 183.5L37.5 170.8L49.5 155.5L58.2 142.2L60.5 144.8L62.6 156.0L64.9 161.5L74.2 173.7L83.8 183.3L77.9 186.0L66.7 194.0ZM55.9 195.8L49.2 195.3L43.4 192.7L38.7 188.3L35.2 182.3L37.6 176.0L41.4 170.3L55.9 157.3L69.5 172.8L75.4 181.3L70.6 188.0L66.4 192.1L59.9 195.3ZM56.4 194.6L49.9 194.2L44.9 191.8L40.6 187.3L38.1 181.3L40.6 175.5L44.2 171.1L48.9 167.4L54.9 164.3L59.2 166.9L64.7 171.4L68.5 175.8L71.1 180.3L69.3 185.3L65.9 190.0L61.6 193.0ZM55.4 193.3L49.7 192.6L45.4 190.0L42.2 185.8L40.8 180.3L42.7 176.3L45.9 172.6L50.2 169.7L54.7 168.0L58.7 169.8L62.7 172.7L66.1 176.3L67.8 179.5L66.8 184.5L64.4 188.8L59.7 192.3ZM55.2 191.8L50.7 191.3L47.2 189.3L44.5 185.8L43.4 181.3L43.8 178.3L46.2 175.1L50.2 172.2L54.4 170.7L58.4 172.3L62.2 175.0L64.6 177.8L65.0 180.5L64.4 184.5L62.4 188.0L59.2 190.7ZM55.2 190.1L52.2 189.9L48.9 188.3L46.9 185.8L45.9 182.5L46.2 179.3L47.7 176.5L50.7 174.3L53.9 173.3L56.7 173.8L60.0 175.8L61.7 178.3L62.4 181.3L62.0 184.5L60.4 187.2L58.3 189.0ZM55.2 187.8L52.9 187.8L50.7 186.8L48.6 183.3L49.7 179.0L51.2 177.6L53.4 176.8L57.4 177.9L59.6 181.5L58.7 185.5Z" fill="none" stroke="#4a4a4a" stroke-width="0.9"/>
<ellipse cx="54" cy="185" rx="3.5" ry="2" fill="#f2f2f2"/>
<path d="M101 1.7L241.9 1.7L242.2 151.1L147.7 154.5L101.5 107.8Z" fill="none" stroke="#D63F5C" stroke-width="2"/>
<text x="230" y="226.7" font-size="19.5" fill="#DA4763" text-anchor="end">0.29</text>
<rect x="0" y="0" width="247" height="247.1" fill="none" stroke="#111" stroke-width="2.2"/>
</g>
<g transform="translate(1745.2,918.9)">
<path d="M-5 23.8h5M-5 81.5h5M-5 142.6h5M-5 204.6h5M39 247.2v5M123.9 247.2v5M174.8 247.2v5M224.9 247.2v5" stroke="#111" stroke-width="1.6" fill="none"/>
<path d="M-2.5 64.13h2.5M-2.5 53.97h2.5M-2.5 46.76h2.5M-2.5 41.17h2.5M-2.5 36.6h2.5M-2.5 32.74h2.5M-2.5 29.39h2.5M-2.5 26.44h2.5M-2.5 124.21h2.5M-2.5 113.45h2.5M-2.5 105.81h2.5M-2.5 99.89h2.5M-2.5 95.05h2.5M-2.5 90.96h2.5M-2.5 87.42h2.5M-2.5 84.3h2.5M-2.5 185.94h2.5M-2.5 175.02h2.5M-2.5 167.27h2.5M-2.5 161.26h2.5M-2.5 156.35h2.5M-2.5 152.2h2.5M-2.5 148.61h2.5M-2.5 145.44h2.5M139.22 247.2v2.5M148.19 247.2v2.5M154.54 247.2v2.5M159.48 247.2v2.5M163.51 247.2v2.5M166.92 247.2v2.5M169.87 247.2v2.5M172.47 247.2v2.5M189.88 247.2v2.5M198.7 247.2v2.5M204.96 247.2v2.5M209.82 247.2v2.5M213.79 247.2v2.5M217.14 247.2v2.5M220.04 247.2v2.5M222.61 247.2v2.5M-3 245.93h3M-17.6 247.2v3M-3 225.27h3M10.7 247.2v3M-3 183.93h3M67.3 247.2v3M-3 163.27h3M95.6 247.2v3" stroke="#222" stroke-width="1" fill="none"/>
<path d="M-5 194.7h5M29.1 247.2v5M-5 196.9h5M31.3 247.2v5M-5 199.1h5M33.5 247.2v5M-5 200.2h5M34.6 247.2v5M-5 202.4h5M36.8 247.2v5M-5 203.5h5M37.9 247.2v5M-5 204.6h5M39 247.2v5M-5 205.7h5M40.1 247.2v5M-5 207.9h5M42.3 247.2v5M-5 209h5M43.4 247.2v5M-5 211.2h5M45.6 247.2v5M-5 213.4h5M47.8 247.2v5" stroke="#000" stroke-width="1" fill="none"/>
<text x="-8" y="26.8" font-size="8.5" fill="#333" text-anchor="end">10⁵</text>
<text x="-8" y="84.5" font-size="8.5" fill="#333" text-anchor="end">10⁴</text>
<text x="-8" y="145.6" font-size="8.5" fill="#333" text-anchor="end">10³</text>
<text x="-8" y="207.6" font-size="8.5" fill="#333" text-anchor="end">0</text>
<text x="39" y="263.2" font-size="8.5" fill="#333" text-anchor="middle">0</text>
<text x="123.9" y="263.2" font-size="8.5" fill="#333" text-anchor="middle">10³</text>
<text x="174.8" y="263.2" font-size="8.5" fill="#333" text-anchor="middle">10⁴</text>
<text x="224.9" y="263.2" font-size="8.5" fill="#333" text-anchor="middle">10⁵</text>
<path d="M64.9 44.7C70.85 44.13 77.1 44.23 81.9 47.2C86.7 50.17 90.6 57.97 93.7 62.5C96.8 67.03 97.1 70.15 100.5 74.4C103.9 78.65 113.25 82.9 114.1 88C114.95 93.1 107.02 97.93 105.6 105C104.18 112.07 102.77 121.92 105.6 130.4C108.43 138.88 117.22 147.4 122.6 155.9C127.98 164.4 136.48 174.88 137.9 181.4C139.32 187.92 139.32 191.9 131.1 195C122.88 198.1 101.33 198.73 88.6 200C75.87 201.27 66.02 202.73 54.7 202.6C43.38 202.47 28.35 201.9 20.7 199.2C13.05 196.5 9.65 193.62 8.8 186.4C7.95 179.18 14.73 169.47 15.6 155.9C16.47 142.33 13.43 116.32 14 105C14.57 93.68 16.18 95.08 19 88C21.82 80.92 26.37 68.73 30.9 62.5C35.43 56.27 40.53 53.57 46.2 50.6C51.87 47.63 58.95 45.27 64.9 44.7Z" fill="#000"/>
<path d="M101.5 193.5h0M100 75.5h0M101 121.5h0M98.5 76.5h0M107 135.5h0M96.5 74h0M20 155h0M48.5 55h0M21 157.5h0M20.5 94.5h0M17.5 193.5h0M81.5 196h0M105 195h0M79.5 51h0M19 140h0M109 87.5h0M28.5 77.5h0M109 144h0M93 193.5h0M21.5 194.5h0M102.5 195.5h0M108.5 193.5h0M65.5 50.5h0M17 113h0M109.5 95h0M11 183.5h0M20.5 146.5h0M116.5 157h0M101 79.5h0M58 200.5h0M130 192h0M111 194h0M13.5 186.5h0M93.5 70.5h0M38.5 196h0M22.5 98h0M17 117.5h0M17.5 160h0M106 101h0M121.5 165.5h0M125.5 171.5h0M58.5 50h0M23.5 93.5h0M51 197h0M101 128h0M18 166h0M36.5 64h0M50 53.5h0M30 69.5h0M106.5 137.5h0M57.5 50h0M18 164.5h0M16.5 117h0M108 88h0M38 60.5h0M28.5 71.5h0M14.5 175.5h0M17 176h0M47 197.5h0M131 175.5h0M15.5 111.5h0M17 153.5h0M15 165h0M37 195.5h0M18 111h0M105 194h0M16 131h0M17 162.5h0M32 65h0M118 191.5h0M45 55.5h0M103.5 122h0M69.5 195.5h0M76 200h0M43 55h0M14 183h0M124 168.5h0M106.5 97h0M84 198h0M132.5 188h0M128.5 172.5h0M129 189.5h0M22.5 196.5h0M12.5 174h0M99.5 77h0M99.5 79.5h0M18 147.5h0M100 194h0M20 108.5h0M105 99h0M25.5 88h0M16.5 154h0M20.5 196h0M36.5 60h0M104.5 96h0M37.5 198h0M60.5 48.5h0M112.5 89h0M106 139h0M16.5 146.5h0M107 141h0M16.5 145h0M64.5 50.5h0M100 79.5h0M22.5 196h0M121.5 156.5h0M16 142h0M12.5 184h0M49.5 197.5h0M80.5 52.5h0M121 192.5h0M100.5 77.5h0M108.5 193h0M121 161.5h0M100.5 117.5h0M112.5 150.5h0M44 59h0M108 137.5h0M19 103.5h0M98.5 79.5h0M15.5 187.5h0M119.5 193h0M125 192h0M107.5 97.5h0M16.5 171.5h0M116 155.5h0M125 190.5h0M128.5 171h0M70.5 196h0M102.5 118.5h0M102.5 100h0M19.5 113.5h0M20 193.5h0M19 126.5h0M19 150.5h0M116 156h0M43.5 54h0M53 200.5h0M65 50.5h0M23 194h0" stroke="#fff" stroke-width="1.3" stroke-linecap="square" fill="none"/>
<path d="M89 200h0M9.5 186.5h0M10.5 183h0M114 88.5h0M69 45h0M134.5 187.5h0M121.5 143.5h0M15 111.5h0M11 169.5h0M28.5 201.5h0M50 207h0M7 183h0M116 89.5h0M107.5 198.5h0M113.5 97h0M21 65h0M94 53.5h0M4 107.5h0M94 61.5h0M10 170h0M136 168h0M126 195h0M16.5 99h0M72.5 47h0M89.5 58h0M28.5 62h0M74 211.5h0M105 63h0M60.5 46h0M39.5 54h0M106 74.5h0M116.5 198.5h0M110 84h0M129 162.5h0M9 207.5h0M117.5 100h0M13.5 165h0M89 52.5h0M107.5 98.5h0M13 108.5h0M126 201h0M118 197h0M29.5 206h0M91 201h0M134.5 193.5h0M78.5 46h0M15 152.5h0M50 50h0M52 38.5h0M9.5 183h0M137 181.5h0M140 183h0M8.5 178h0M104 77.5h0M122 119h0M138.5 183.5h0M73.5 201h0M14.5 113h0M79 201.5h0M79 38h0M13.5 105.5h0M112 198h0M71 204h0M108.5 122.5h0M112.5 197h0M144.5 201.5h0M15 131h0M101 75h0M55.5 202.5h0M108.5 104.5h0M11 167h0M90.5 41.5h0M124 142h0M135 174h0M12 194.5h0M87 53.5h0M98.5 202.5h0M108.5 118.5h0M121 147h0M92 200h0M42.5 45h0M86 201h0M39.5 47h0M113.5 100.5h0M31.5 61.5h0M138.5 182.5h0M105 107h0M15 143.5h0M30.5 65h0M68 44.5h0M117.5 144h0M15.5 132.5h0M139.5 172.5h0M114.5 128.5h0M90 45.5h0M19.5 201h0M57.5 47h0M60.5 38.5h0M78 203h0M78.5 41.5h0M131 164.5h0M15.5 123h0M14.5 102h0M13.5 190.5h0M107 128h0M64 207.5h0M89.5 201.5h0M14.5 200.5h0M118 136h0M38.5 51h0M24.5 71h0M110 96h0M125 151.5h0M20.5 81h0M120.5 147.5h0M38 53.5h0M73 201.5h0M13 169h0M2 162h0M108 119h0M128 145h0M111.5 140h0M6.5 170h0M13 168.5h0M111.5 81.5h0M22.5 75.5h0M116 200.5h0M110 130h0M110.5 201.5h0M53.5 48.5h0M50 204.5h0M19.5 197h0M30 62h0M47 48.5h0M13.5 134.5h0M120 203.5h0M36 207h0M18.5 68.5h0M14 120.5h0M38.5 204h0M134 175.5h0M146 188.5h0M15.5 148.5h0M46.5 207h0M77.5 24.5h0M14 158.5h0M26.5 71h0M4 117h0M24 71h0M28.5 67.5h0M63 201h0M13 121h0M141 194h0M101.5 70.5h0M140.5 177.5h0M138.5 156h0M35 55.5h0M12.5 170.5h0M60 203.5h0M20 198.5h0M108 82h0M60 202.5h0M10.5 164.5h0M130 196h0M109.5 136.5h0M123.5 203.5h0M130.5 164h0M10 173.5h0M114 87.5h0M96.5 68h0M129.5 160h0M6 167h0M15.5 135h0M7 183.5h0M34.5 57.5h0M147.5 189.5h0M79 39.5h0M84 200.5h0M104 198h0M107 102h0M10 182h0M142 170.5h0M109 130h0M130 169.5h0M39.5 56.5h0M70 44.5h0M138 180h0M122.5 143h0M109 112.5h0M112 197.5h0M106.5 125h0M26 60.5h0M79 200h0M117.5 98h0M93.5 200h0M28.5 199.5h0M17 95h0M110 137h0M97 198.5h0M18.5 91h0M11.5 99.5h0M106.5 129h0M58.5 203h0M7.5 134h0M129.5 194.5h0M8 176h0M10 181.5h0M50 48h0M54.5 202h0M12 173h0M139 177.5h0M8 150.5h0M131.5 165h0M80.5 204h0M144 184h0M126 160h0M115 83.5h0M106 125h0M59 206h0M115 133h0M85 50h0M11 117h0M118 149.5h0M38 57.5h0M31 215h0M133 194.5h0M21 83.5h0M26.5 73h0M127.5 164h0M109 83.5h0M10 192.5h0M12 94.5h0M27.5 200h0M122.5 199.5h0M21 203.5h0M112 141.5h0M124 207h0M133.5 188.5h0M136 193.5h0M128.5 196.5h0M14.5 113.5h0M109.5 99h0M105 116h0M109.5 137.5h0M49.5 48.5h0M66.5 205.5h0M91 53.5h0M15.5 100.5h0M20 84h0M8 109h0M149.5 175h0M2 151h0M131.5 157h0M115.5 83h0M17.5 85.5h0M9.5 99.5h0M113 93.5h0M115 79h0M211 86h0M121 131h0M154.5 125h0M89.5 94h0M169 105.5h0M171.5 128h0M173.5 124.5h0M179.5 84.5h0M158.5 129.5h0M115.5 112.5h0M175 130h0M88 153h0M92.5 100.5h0M236.5 106.5h0M224 132.5h0M157 83.5h0M139.5 72.5h0M99 109h0M96.5 108.5h0M148.5 98h0M112 73.5h0M181.5 79.5h0M129.5 97h0M177 144h0M225.5 118h0M176.5 115h0M143.5 96h0M85.5 113h0M132.5 109h0M236 119.5h0M195 120h0M130 86.5h0M96 88h0M157.5 116h0M173 93h0M108.5 101.5h0M163 57.5h0M154.5 69h0M134 97.5h0M114 89.5h0M151.5 78.5h0M177 115h0M171.5 77.5h0M143.5 93.5h0M155.5 117h0M131 101h0M182 93.5h0M178 100h0M97.5 99.5h0M156.5 91.5h0M223.5 92h0M95.5 97h0M142.5 111.5h0M182 85h0M115.5 85h0M143.5 90.5h0M150.5 86.5h0M105.5 83.5h0M180.5 75h0M180.5 136.5h0M115.5 120h0M182.5 42.5h0M183 114.5h0M121 139h0M83 129h0M160.5 78h0M155 67h0M173.5 112.5h0M197 131.5h0M124.5 111.5h0M127 37h0M187 126h0M159 138.5h0M148.5 62.5h0M133 94.5h0M161 91.5h0M66 73h0M145 125h0M125.5 71.5h0M132.5 120.5h0M198 79h0M176.5 129.5h0M181 76h0M173.5 89.5h0M131.5 142.5h0M149 111.5h0M197 136.5h0M161 87h0M148.5 85.5h0M146 98h0M94 83h0M96.5 99h0M181 116.5h0M157.5 79h0M148 70.5h0M172 66.5h0M126 138.5h0M166.5 79h0M142.5 77.5h0M120 91h0M118.5 104.5h0M191.5 81.5h0M115 82.5h0M127 103h0M125 81h0M124.5 122h0M187.5 123.5h0M157.5 79.5h0M202.5 149h0M125.5 87h0M192 115.5h0M165.5 146h0M143.5 82.5h0M136.5 105h0M157.5 128h0M178.5 96h0M208 125.5h0M128 112.5h0M101 110.5h0M153.5 110.5h0M104.5 81.5h0M129 95h0M176 82h0M73.5 88h0M179.5 119h0M102 114.5h0M154.5 116h0M157 128h0M123 148h0M192 74.5h0M91 122.5h0M90.5 83h0M168.5 97h0M156 52.5h0M121 111.5h0M229.5 109h0M151.5 103h0M189 114h0M116 56.5h0M141 91.5h0M219.5 81h0M178.5 56h0M179.5 71.5h0M151 95.5h0M153.5 100h0M106 113h0M115.5 98.5h0M117 99h0M145 95.5h0M119 126.5h0M142.5 101h0M65.5 113h0M89 95h0M71 141.5h0M81.5 93.5h0M101 71.5h0M82 131.5h0M231 96.5h0M180.5 88.5h0M107.5 139.5h0M173.5 74h0M144.5 99h0M137.5 97h0M123.5 97.5h0M132.5 92h0M119.5 133.5h0M132 94.5h0M158 99.5h0M98.5 118h0M102 84.5h0M164 94.5h0M121 99h0M115.5 85.5h0M103 71.5h0M110 99.5h0M128.5 95.5h0M182.5 88.5h0M77 100.5h0M215.5 34.5h0M138 74h0M90.5 116.5h0M98 87.5h0M105 132h0M146 54h0M135.5 131.5h0M118 92.5h0M145 109h0M165.5 85h0M133.5 114h0M108.5 91h0M160.5 93.5h0M110 135h0M154 92.5h0M37 123h0M183 97.5h0M148.5 80.5h0M224.5 118.5h0M233.5 148.5h0M79 113h0M69 107h0M149.5 86.5h0M173 102h0M135.5 93.5h0M183.5 109.5h0M180.5 106h0M131.5 88.5h0M157.5 83.5h0M124.5 117h0M157 94.5h0M156.5 91h0M197.5 95h0M150 73.5h0M122 70.5h0M165 111.5h0M172.5 91.5h0M150.5 107h0M134.5 62.5h0M223.5 110h0M183.5 117h0M121 98.5h0M130 123h0M156 83.5h0M161.5 160h0M148.5 110h0M229 79h0M160.5 126.5h0M173.5 86h0M148 101.5h0M185.5 122h0M74.5 101h0M121.5 106h0M133.5 107.5h0M92 104h0M170 126.5h0M208.5 99.5h0M127.5 129h0M164 106.5h0M171.5 68h0M115.5 80h0M107 134h0M79.5 96h0M146.5 80h0M164 81.5h0M95.5 72h0M200.5 91h0M157 112.5h0M166 83.5h0M180.5 123h0M96 118h0M169.5 124h0M172.5 96.5h0M121 114h0M164.5 109h0M131 125.5h0M185 123.5h0M127.5 113h0M187 71h0M122.5 106h0M95 98h0M153.5 67.5h0M172.5 100h0M198 99.5h0M131.5 99h0M166 60h0M139 116.5h0M179 108.5h0M109 98h0M167 100.5h0M156.5 141.5h0M224 90.5h0M114 101h0M200.5 77.5h0M114 73h0M193 89.5h0M148 136h0M174.5 93.5h0M102 124.5h0M154 93h0M160 84.5h0M158.5 105h0M109.5 106h0M173.5 132h0M184.5 146.5h0M184 100h0M164.5 101h0M115.5 95.5h0M157 78h0M149 113h0M214.5 98h0M138.5 86h0M90 113h0M131.5 86h0M109 132.5h0M201.5 110.5h0M137.5 74.5h0M68.5 83.5h0M121.5 133h0M139.5 64.5h0M203.5 114h0M136 108h0M175 90.5h0M118 104h0M174 112h0M109 79.5h0M149.5 87.5h0M139.5 141h0M88.5 94.5h0M111.5 105.5h0M221.5 108.5h0M200 80.5h0M161.5 130.5h0M137 84h0M93 132.5h0M146 130h0M158 101.5h0M181 105h0M195 87.5h0M128.5 101h0M131.5 96h0M181.5 108h0M147 138.5h0M100 87.5h0M143.5 121.5h0M173.5 112h0M206.5 98.5h0M122.5 126.5h0M209 78.5h0M128 98h0M164 102.5h0M178.5 65.5h0M131.5 66.5h0M182 122.5h0M159.5 100.5h0M146.5 98h0M119.5 110.5h0M174 85h0M166 132h0M210 150.5h0M132.5 90.5h0M168 133h0M95 113h0M162.5 127.5h0M169 85.5h0M160.5 89.5h0M144.5 94.5h0M150.5 108.5h0M165 125.5h0M176.5 62.5h0M174.5 91.5h0M187 91h0M119.5 69.5h0M145.5 117.5h0M118 108h0M140 56.5h0M143.5 94h0M169 64h0M174.5 98.5h0M185 91h0M126 95h0M149.5 123h0M123 93.5h0M112 92.5h0M160.5 131h0M145.5 105.5h0M152 123h0M139.5 94.5h0M162 94.5h0M158.5 98.5h0M138 118.5h0M142.5 91.5h0M168.5 139.5h0M161 96.5h0M178 111.5h0M150 121h0M227.5 117h0M146 80h0M110.5 66h0M216.5 138h0M151 80h0M217 80.5h0M156 140h0M105.5 92h0M128.5 100.5h0M226.5 146.5h0M202 136.5h0M152 126.5h0M199 141.5h0M150.5 136.5h0M127.5 112.5h0M228 127h0M202.5 76h0M151.5 110.5h0M209 81.5h0M174 127h0M193.5 83h0M115 92.5h0M127.5 110.5h0M172 64h0M226.5 142.5h0M128 84.5h0M229.5 63h0M123.5 93h0M214 65h0M172.5 128h0M185.5 100h0M188.5 124h0M166.5 84h0M186 132.5h0M115 118h0M157.5 74.5h0M145.5 66h0M211.5 110.5h0M160 138h0M212 95.5h0M106.5 113h0M133 114.5h0M115 132h0M215.5 76.5h0M211 68.5h0M121 110.5h0M133.5 95.5h0M151 128.5h0M205 139.5h0M133.5 83.5h0M212.5 96h0M117.5 105.5h0M133.5 117h0M156 74.5h0M202 140h0M122.5 79h0M168.5 74.5h0M230 99.5h0M112 78h0M131 82.5h0M183 139h0M154.5 109.5h0M229.5 104.5h0M152.5 138.5h0M192 97.5h0M210.5 82.5h0M115.5 81h0M146 137h0M136 66.5h0M116.5 132h0M169 145.5h0M146.5 73h0M126 127.5h0M169 136h0M228 104h0M114 136.5h0M219.5 111.5h0M172.5 130.5h0M149.5 62h0M229 102h0M147 139.5h0M222.5 99.5h0M200.5 150h0M171 105.5h0M227 72h0M195.5 78.5h0M145 130.5h0M112 142.5h0M197.5 143.5h0M214.5 113.5h0M155.5 68.5h0M223.5 130h0M144.5 86h0M230.5 89.5h0M125 80.5h0M196 133h0M137.5 121h0M181.5 120h0M123.5 130h0M115.5 69.5h0M182 141h0M193.5 137h0M216 120h0M225 147.5h0M213.5 73.5h0M140.5 100.5h0M174.5 102h0M220.5 118h0M224.5 149h0M107.5 86h0M233 69h0M152.5 75.5h0M190.5 101h0M217.5 147h0M219.5 88h0M187 149.5h0M233.5 111.5h0M103.5 110.5h0M118 155h0M133 121h0M86.5 183.5h0M116 158h0M131.5 160h0M114 187h0M132 144.5h0M118.5 139.5h0M113 133h0M126.5 125.5h0M105.5 169h0M118 190h0M106.5 151h0M112.5 174h0M113.5 164.5h0M92.5 137.5h0M138 151h0M120.5 178h0M119.5 130.5h0M118.5 141h0M114.5 151.5h0M128 182h0M138 130.5h0M119 183.5h0M107 135h0M142.5 169.5h0M127.5 140.5h0M136 177.5h0M116.5 157.5h0M125 149h0M116.5 186.5h0M111 114.5h0M131 196.5h0M108 162.5h0M117.5 132.5h0M104.5 159h0M90 156.5h0M156 219h0M86 149h0M101 157h0M109.5 146h0M117.5 162h0M120 167.5h0M131 199.5h0M126 155.5h0M133.5 163.5h0M129 129h0M95 178h0M95.5 127h0M113 131h0M126.5 159h0M121.5 190h0M118 142.5h0M98.5 135.5h0M104.5 156h0M142 148.5h0M118.5 103.5h0M143 126h0M119.5 113.5h0M128 154h0M102 187.5h0M138.5 158h0M109 155.5h0M106.5 164h0M109.5 133h0M116 195.5h0M94.5 176h0M124.5 168.5h0M120 167h0M84.5 148.5h0M84.5 149h0M112 157.5h0M121.5 132.5h0M109 186.5h0M133.5 149.5h0M104 148.5h0M128 159.5h0M119.5 180.5h0M123 164h0M114.5 155.5h0M119 127.5h0M108.5 111h0M111.5 120h0M122 182.5h0M109 167h0M130.5 105h0M134 106h0M93 120h0M92.5 112h0M118 165h0M134.5 146.5h0M110.5 185h0M106 180.5h0M112 110.5h0M102 136.5h0M118 159.5h0M126.5 164h0M132 108.5h0M123 188h0M105 167.5h0M131 130.5h0M83.5 131h0M112 170.5h0M124.5 163.5h0M113.5 141h0M106 150h0M110 149.5h0M105.5 126.5h0M122.5 136h0M127 176.5h0M100.5 206h0M97 110.5h0M96.5 126.5h0M115 180h0M120.5 186h0M83 168.5h0M95 127h0M149 194.5h0M116.5 131h0M106 115h0M108.5 167.5h0M122 156.5h0M108.5 166.5h0M124 199h0M119 174h0M127 166.5h0M124 156.5h0M127.5 124h0M102 128h0M108 141.5h0M133.5 158.5h0M115.5 154.5h0M127.5 123h0M115.5 129.5h0M124 190h0M120 169h0M136 138h0M121 104.5h0M120.5 157.5h0M114.5 205h0M121 143h0M110 148.5h0M87.5 158.5h0M104 156.5h0M125 190h0M111.5 149.5h0M116.5 160.5h0M107 154h0M108 158h0M139.5 149.5h0M138 160h0M135.5 177.5h0M92 132h0M92 163h0M99.5 176h0M114 163.5h0M101.5 96h0M107 138h0M117.5 166.5h0M101 158h0M107.5 181.5h0M105.5 155.5h0M133 168h0M127.5 178h0M126.5 166h0M103 195h0M132.5 193h0M110.5 165.5h0M84 152.5h0M106.5 143h0M124 143.5h0M123.5 110.5h0M150.5 130.5h0M101.5 120.5h0M128.5 103h0M103 191.5h0M96 135h0M101 175h0M105 157.5h0M106.5 138h0M87 165.5h0M113.5 139.5h0M121.5 147h0M115.5 156.5h0M123 133.5h0M127 160.5h0M106.5 133h0M129 153.5h0M98.5 117.5h0M146.5 124h0M104 145.5h0M99 195h0M102 126.5h0M119 126h0M99 169.5h0M130 187.5h0M116 129.5h0M108 129.5h0M116.5 155h0M109 170.5h0M124.5 121.5h0M137 133.5h0M112 176h0M122.5 137h0M120 164.5h0M102 86h0M136.5 115h0M111 207.5h0M107 168.5h0M99.5 199h0M102.5 190h0M116 191.5h0M130.5 137.5h0M104.5 106.5h0M117 185h0M113 159h0M127 167h0M106 130.5h0M115.5 133h0M117.5 112h0M119.5 176.5h0M136.5 152h0M126.5 210h0M134.5 160.5h0M102 164h0M121.5 126h0M105 103.5h0M131 118h0M148 143.5h0M107.5 154h0M121 159.5h0M106 123.5h0M106 151h0M105.5 162h0M131 160.5h0M119 171.5h0M101 160h0M120.5 190.5h0M135 140.5h0M143 125.5h0M138.5 157h0M127 148h0M112.5 118h0M132.5 145.5h0M127 130.5h0M132 160.5h0M111 156h0M111.5 165.5h0M141 119.5h0M83.5 137h0M97 171.5h0M98.5 89h0M111 130.5h0M88.5 141.5h0M117.5 131.5h0M132.5 140.5h0M129.5 94h0M119.5 137h0" stroke="#000" stroke-width="1.9" stroke-linecap="square" fill="none"/>
<path d="M64.9 59.1C68.87 59.82 75.67 61.08 78.5 65.9C81.33 70.72 81.9 78.67 81.9 88C81.9 97.33 79.92 110.58 78.5 121.9C77.08 133.22 71.72 147.97 73.4 155.9C75.08 163.83 82.95 164.7 88.6 169.5C94.25 174.3 105.03 180.75 107.3 184.7C109.57 188.65 109.55 191.07 102.2 193.2C94.85 195.33 75.93 197.5 63.2 197.5C50.47 197.5 32.6 195.88 25.8 193.2C19 190.52 20.98 186.2 22.4 181.4C23.82 176.6 31.75 171.48 34.3 164.4C36.85 157.32 36.57 148.8 37.7 138.9C38.83 129 39.68 115.75 41.1 105C42.52 94.25 43.93 81.63 46.2 74.4C48.47 67.17 51.58 64.15 54.7 61.6C57.82 59.05 60.93 58.38 64.9 59.1Z" fill="#a4a4a4" stroke="#e4e4e4" stroke-width="1.6"/>
<path d="M61.3 197.6L45.3 196.9L30.0 194.0L23.0 190.8L21.9 188.8L21.8 186.6L23.7 180.1L33.4 167.3L36.2 159.8L43.3 89.1L46.2 74.6L49.2 67.8L52.8 63.5L57.8 60.1L63.5 59.3L71.9 61.3L76.8 64.3L80.0 70.3L81.5 78.3L81.7 91.3L81.0 98.3L77.7 122.8L72.5 149.6L72.5 154.1L73.4 158.1L77.3 163.1L86.5 168.8L103.3 181.5L106.3 184.6L107.9 188.3L107.3 189.8L105.7 191.1L96.5 193.7L73.5 196.9ZM59.3 197.3L48.0 196.9L37.0 195.0L25.8 190.3L24.1 188.8L23.8 186.8L25.3 181.1L34.9 167.8L38.4 158.8L43.6 107.8L44.3 86.3L46.5 75.2L48.9 69.8L53.0 64.7L58.0 61.4L63.3 60.6L71.8 62.8L76.5 66.1L79.3 71.8L81.0 82.3L80.1 95.1L70.6 146.8L70.8 157.1L72.3 160.6L75.9 164.6L85.3 170.6L100.5 182.1L104.0 185.3L105.5 188.1L102.8 189.9L96.0 191.6L80.3 193.9L68.3 196.7ZM57.5 197.1L48.0 196.6L41.0 195.2L28.3 188.3L26.9 186.6L28.6 181.1L39.6 164.3L42.6 155.6L47.0 110.6L47.0 102.3L45.6 88.1L47.0 77.6L49.0 72.4L52.8 67.3L58.0 63.7L63.0 62.8L70.8 64.7L75.0 67.7L78.3 74.6L79.5 82.8L78.9 91.1L73.7 109.3L67.2 144.3L66.6 149.8L67.3 157.6L69.5 162.1L74.0 167.1L99.7 186.6L80.0 190.5L65.1 196.1ZM56.8 196.6L48.3 196.1L43.0 194.6L36.1 190.3L30.6 184.8L34.3 177.0L45.6 160.6L48.1 153.3L52.0 111.1L51.4 104.8L47.6 89.8L47.4 83.8L48.2 79.1L50.3 73.6L53.8 69.1L58.8 65.8L62.8 65.1L69.8 66.8L73.5 69.5L76.7 76.3L77.7 83.6L77.1 89.3L75.7 94.1L69.9 106.6L68.0 112.6L62.0 143.8L61.4 149.1L61.8 155.3L63.9 160.6L68.1 166.1L87.3 183.6L77.3 186.9L64.6 194.6ZM57.5 130.9L58.2 109.6L56.9 105.3L50.4 92.3L49.3 87.6L49.2 83.1L50.7 76.8L53.5 72.3L57.7 68.8L62.8 67.4L68.8 68.9L72.0 71.3L74.9 77.1L75.7 85.1L74.8 90.1L73.0 94.3L64.4 106.1L62.3 110.1ZM54.3 195.6L48.5 195.1L43.3 193.0L38.1 189.1L34.1 183.6L39.0 174.0L51.2 160.6L54.8 153.9L58.3 160.6L68.5 171.1L76.7 180.8L65.5 192.1L60.0 194.7ZM61.5 101.9L57.3 98.5L53.5 93.6L51.6 89.1L51.0 83.8L51.9 78.8L54.3 74.4L57.8 71.2L62.5 69.5L67.3 70.6L70.3 72.6L72.9 77.3L73.9 83.8L72.9 89.3L70.5 93.8L66.5 98.3ZM54.3 194.3L48.8 193.8L43.8 191.5L39.8 187.8L37.0 182.8L39.4 177.1L43.5 171.8L48.5 167.5L55.0 163.7L65.3 171.5L71.3 179.8L68.1 186.3L64.6 190.3L59.5 193.3ZM62.3 97.4L59.0 95.9L55.5 92.3L53.5 88.3L52.8 83.8L53.6 79.3L55.8 75.6L59.0 72.9L62.8 71.6L67.0 72.7L69.0 74.5L71.3 78.8L72.0 83.6L71.2 87.8L69.3 91.7L66.3 94.9ZM55.0 192.8L49.5 192.5L45.0 190.3L41.4 186.6L39.5 181.8L41.7 177.1L45.5 172.6L50.3 169.3L55.3 167.5L63.1 172.6L66.4 176.3L67.8 179.1L66.6 184.1L63.8 188.4L59.8 191.5ZM62.5 94.2L59.8 93.1L57.0 90.3L55.3 86.9L54.8 83.3L55.6 79.8L57.4 76.8L60.3 74.6L63.3 73.8L66.0 74.6L68.1 76.8L69.6 80.1L70.0 83.8L67.9 89.8L65.3 92.6ZM54.8 191.3L50.0 191.0L46.3 189.1L43.2 185.6L41.8 181.3L43.7 177.3L47.0 173.8L51.0 171.4L55.5 170.3L59.0 172.0L62.7 175.1L64.6 177.6L64.8 180.1L64.0 184.1L61.9 187.6L58.5 190.2ZM62.5 91.1L60.3 90.1L58.4 88.1L57.1 83.1L59.2 78.3L61.3 76.8L63.8 76.1L65.3 77.1L66.9 79.3L67.8 84.1L66.0 88.5ZM54.8 189.6L50.5 189.3L47.3 187.6L44.9 184.3L44.2 180.6L45.6 177.8L48.5 175.1L52.0 173.3L55.5 172.6L60.9 176.1L62.2 181.1L61.6 184.1L60.0 186.7L57.8 188.5ZM63.0 87.3L61.0 86.1L60.2 83.3L61.2 80.8L63.3 79.5L64.5 80.8L65.0 83.6L64.4 85.8ZM54.3 187.6L51.5 187.4L49.2 186.3L47.4 184.1L46.8 181.3L47.2 179.1L48.3 177.6L51.0 175.8L54.0 175.0L58.0 177.1L59.6 181.1L58.2 185.3ZM54.0 184.3L51.8 184.1L50.5 182.6L50.6 180.6L52.3 179.2L54.3 179.2L55.7 180.8L55.6 182.8Z" fill="none" stroke="#4a4a4a" stroke-width="0.9"/>
<ellipse cx="53" cy="184" rx="3.5" ry="2" fill="#f2f2f2"/>
<ellipse cx="62" cy="83" rx="3.5" ry="2" fill="#f2f2f2"/>
<path d="M101.4 2.2L242.3 2.2L242.3 151.6L148 155L102.2 109.2Z" fill="none" stroke="#D63F5C" stroke-width="2"/>
<text x="228.7" y="227.2" font-size="19.5" fill="#DA4763" text-anchor="end">0.51</text>
<rect x="0" y="0" width="246.9" height="247.2" fill="none" stroke="#111" stroke-width="2.2"/>
</g>
</g>
</svg></body></html>
